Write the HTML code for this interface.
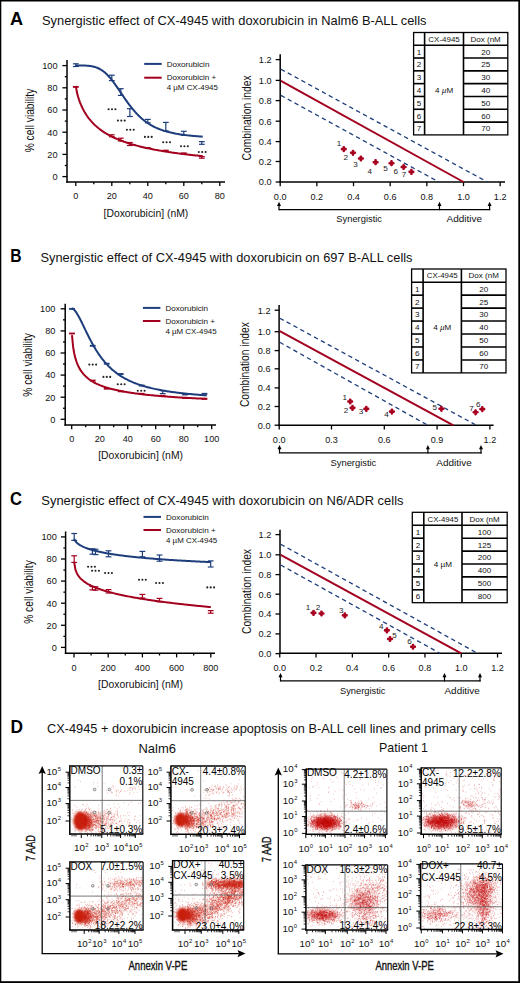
<!DOCTYPE html>
<html><head><meta charset="utf-8"><style>
html,body{margin:0;padding:0;background:#fff;}
svg{display:block;}
text{font-family:"Liberation Sans", sans-serif;}
</style></head><body>
<svg width="520" height="983" viewBox="0 0 520 983">
<defs>
<filter id="b1" x="-50%" y="-50%" width="200%" height="200%"><feGaussianBlur stdDeviation="1"/></filter>
<filter id="b15" x="-50%" y="-50%" width="200%" height="200%"><feGaussianBlur stdDeviation="1.5"/></filter>
<filter id="b2" x="-50%" y="-50%" width="200%" height="200%"><feGaussianBlur stdDeviation="2"/></filter>
<filter id="b3" x="-50%" y="-50%" width="200%" height="200%"><feGaussianBlur stdDeviation="3"/></filter>
<clipPath id="c1"><rect x="69.80" y="765.90" width="73.00" height="68.20"/></clipPath><clipPath id="c2"><rect x="170.90" y="766.00" width="74.30" height="68.30"/></clipPath><clipPath id="c3"><rect x="69.90" y="861.90" width="73.20" height="68.10"/></clipPath><clipPath id="c4"><rect x="172.60" y="860.60" width="71.10" height="69.40"/></clipPath><clipPath id="c5"><rect x="306.20" y="769.20" width="80.70" height="65.10"/></clipPath><clipPath id="c6"><rect x="421.20" y="767.80" width="80.00" height="66.50"/></clipPath><clipPath id="c7"><rect x="305.90" y="864.90" width="81.80" height="65.10"/></clipPath><clipPath id="c8"><rect x="420.60" y="863.80" width="81.90" height="65.70"/></clipPath>
</defs>
<rect width="520" height="983" fill="#fff"/>
<rect x="0.00" y="0.00" width="520.00" height="1.50" fill="#000" stroke="none" stroke-width="1"/>
<rect x="0.00" y="0.00" width="1.30" height="983.00" fill="#000" stroke="none" stroke-width="1"/>
<rect x="518.30" y="0.00" width="1.70" height="983.00" fill="#000" stroke="none" stroke-width="1"/>
<rect x="0.00" y="981.20" width="520.00" height="1.80" fill="#000" stroke="none" stroke-width="1"/>
<text x="10.00" y="24.80" font-size="17.5" text-anchor="start" fill="#000" font-weight="bold" textLength="13.10" lengthAdjust="spacingAndGlyphs" >A</text>
<text x="42.00" y="25.00" font-size="13.5" text-anchor="start" fill="#111" textLength="384.50" lengthAdjust="spacingAndGlyphs" >Synergistic effect of CX-4945 with doxorubicin in Nalm6 B-ALL cells</text>
<text x="10.20" y="261.80" font-size="17.5" text-anchor="start" fill="#000" font-weight="bold" textLength="11.30" lengthAdjust="spacingAndGlyphs" >B</text>
<text x="40.50" y="262.30" font-size="13.5" text-anchor="start" fill="#111" textLength="372.00" lengthAdjust="spacingAndGlyphs" >Synergistic effect of CX-4945 with doxorubicin on 697 B-ALL cells</text>
<text x="10.00" y="504.60" font-size="17.5" text-anchor="start" fill="#000" font-weight="bold" textLength="12.00" lengthAdjust="spacingAndGlyphs" >C</text>
<text x="41.30" y="505.00" font-size="13.5" text-anchor="start" fill="#111" textLength="362.20" lengthAdjust="spacingAndGlyphs" >Synergistic effect of CX-4945 with doxorubicin on N6/ADR cells</text>
<text x="10.50" y="732.80" font-size="17.5" text-anchor="start" fill="#000" font-weight="bold" textLength="12.50" lengthAdjust="spacingAndGlyphs" >D</text>
<text x="47.00" y="732.50" font-size="13.5" text-anchor="start" fill="#111" textLength="449.00" lengthAdjust="spacingAndGlyphs" >CX-4945 + doxorubicin increase apoptosis on B-ALL cell lines and primary cells</text>
<line x1="67.00" y1="60.00" x2="67.00" y2="182.65" stroke="#000" stroke-width="1.5" stroke-linecap="butt"/>
<line x1="66.25" y1="181.90" x2="225.00" y2="181.90" stroke="#000" stroke-width="1.5" stroke-linecap="butt"/>
<line x1="62.40" y1="176.60" x2="67.00" y2="176.60" stroke="#000" stroke-width="1.3" stroke-linecap="butt"/>
<text x="57.60" y="179.90" font-size="9.2" text-anchor="end" fill="#111" >0</text>
<line x1="64.80" y1="165.50" x2="67.00" y2="165.50" stroke="#000" stroke-width="1.3" stroke-linecap="butt"/>
<line x1="62.40" y1="154.40" x2="67.00" y2="154.40" stroke="#000" stroke-width="1.3" stroke-linecap="butt"/>
<text x="57.60" y="157.70" font-size="9.2" text-anchor="end" fill="#111" >20</text>
<line x1="64.80" y1="143.30" x2="67.00" y2="143.30" stroke="#000" stroke-width="1.3" stroke-linecap="butt"/>
<line x1="62.40" y1="132.20" x2="67.00" y2="132.20" stroke="#000" stroke-width="1.3" stroke-linecap="butt"/>
<text x="57.60" y="135.50" font-size="9.2" text-anchor="end" fill="#111" >40</text>
<line x1="64.80" y1="121.10" x2="67.00" y2="121.10" stroke="#000" stroke-width="1.3" stroke-linecap="butt"/>
<line x1="62.40" y1="110.00" x2="67.00" y2="110.00" stroke="#000" stroke-width="1.3" stroke-linecap="butt"/>
<text x="57.60" y="113.30" font-size="9.2" text-anchor="end" fill="#111" >60</text>
<line x1="64.80" y1="98.90" x2="67.00" y2="98.90" stroke="#000" stroke-width="1.3" stroke-linecap="butt"/>
<line x1="62.40" y1="87.80" x2="67.00" y2="87.80" stroke="#000" stroke-width="1.3" stroke-linecap="butt"/>
<text x="57.60" y="91.10" font-size="9.2" text-anchor="end" fill="#111" >80</text>
<line x1="64.80" y1="76.70" x2="67.00" y2="76.70" stroke="#000" stroke-width="1.3" stroke-linecap="butt"/>
<line x1="62.40" y1="65.60" x2="67.00" y2="65.60" stroke="#000" stroke-width="1.3" stroke-linecap="butt"/>
<text x="57.60" y="68.90" font-size="9.2" text-anchor="end" fill="#111" >100</text>
<line x1="75.80" y1="181.90" x2="75.80" y2="186.10" stroke="#000" stroke-width="1.3" stroke-linecap="butt"/>
<text x="75.80" y="199.20" font-size="9.1" text-anchor="middle" fill="#111" >0</text>
<line x1="111.80" y1="181.90" x2="111.80" y2="186.10" stroke="#000" stroke-width="1.3" stroke-linecap="butt"/>
<text x="111.80" y="199.20" font-size="9.1" text-anchor="middle" fill="#111" >20</text>
<line x1="147.80" y1="181.90" x2="147.80" y2="186.10" stroke="#000" stroke-width="1.3" stroke-linecap="butt"/>
<text x="147.80" y="199.20" font-size="9.1" text-anchor="middle" fill="#111" >40</text>
<line x1="183.80" y1="181.90" x2="183.80" y2="186.10" stroke="#000" stroke-width="1.3" stroke-linecap="butt"/>
<text x="183.80" y="199.20" font-size="9.1" text-anchor="middle" fill="#111" >60</text>
<line x1="219.80" y1="181.90" x2="219.80" y2="186.10" stroke="#000" stroke-width="1.3" stroke-linecap="butt"/>
<text x="219.80" y="199.20" font-size="9.1" text-anchor="middle" fill="#111" >80</text>
<line x1="93.80" y1="181.90" x2="93.80" y2="184.20" stroke="#000" stroke-width="1.3" stroke-linecap="butt"/>
<line x1="129.80" y1="181.90" x2="129.80" y2="184.20" stroke="#000" stroke-width="1.3" stroke-linecap="butt"/>
<line x1="165.80" y1="181.90" x2="165.80" y2="184.20" stroke="#000" stroke-width="1.3" stroke-linecap="butt"/>
<line x1="201.80" y1="181.90" x2="201.80" y2="184.20" stroke="#000" stroke-width="1.3" stroke-linecap="butt"/>
<text x="33.80" y="120.50" font-size="12.2" text-anchor="middle" fill="#111" textLength="63.60" lengthAdjust="spacingAndGlyphs" transform="rotate(-90 33.80 120.50)" >% cell viability</text>
<text x="145.90" y="216.60" font-size="10.5" text-anchor="middle" fill="#111" textLength="84.80" lengthAdjust="spacingAndGlyphs" >[Doxorubicin] (nM)</text>
<line x1="144.20" y1="63.90" x2="161.70" y2="63.90" stroke="#1d3d7c" stroke-width="2" stroke-linecap="butt"/>
<line x1="144.20" y1="77.70" x2="161.70" y2="77.70" stroke="#a3001f" stroke-width="2" stroke-linecap="butt"/>
<text x="166.70" y="66.70" font-size="7.8" text-anchor="start" fill="#111" textLength="42.70" lengthAdjust="spacingAndGlyphs" >Doxorubicin</text>
<text x="166.70" y="80.40" font-size="7.8" text-anchor="start" fill="#111" textLength="49.60" lengthAdjust="spacingAndGlyphs" >Doxorubicin +</text>
<text x="166.70" y="90.40" font-size="7.8" text-anchor="start" fill="#111" textLength="51.20" lengthAdjust="spacingAndGlyphs" >4 µM CX-4945</text>
<path d="M75.80,65.52 L76.87,65.52 L77.93,65.52 L79.00,65.52 L80.07,65.52 L81.13,65.53 L82.20,65.54 L83.26,65.55 L84.33,65.58 L85.40,65.62 L86.46,65.67 L87.53,65.74 L88.60,65.83 L89.66,65.95 L90.73,66.09 L91.80,66.26 L92.86,66.48 L93.93,66.73 L94.99,67.03 L96.06,67.37 L97.13,67.77 L98.19,68.23 L99.26,68.75 L100.33,69.33 L101.39,69.97 L102.46,70.69 L103.53,71.48 L104.59,72.34 L105.66,73.27 L106.73,74.27 L107.79,75.35 L108.86,76.49 L109.92,77.70 L110.99,78.97 L112.06,80.30 L113.12,81.68 L114.19,83.11 L115.26,84.58 L116.32,86.08 L117.39,87.62 L118.46,89.17 L119.52,90.74 L120.59,92.32 L121.65,93.90 L122.72,95.48 L123.79,97.05 L124.85,98.60 L125.92,100.13 L126.99,101.63 L128.05,103.10 L129.12,104.55 L130.19,105.95 L131.25,107.32 L132.32,108.65 L133.38,109.93 L134.45,111.18 L135.52,112.38 L136.58,113.53 L137.65,114.64 L138.72,115.71 L139.78,116.73 L140.85,117.72 L141.92,118.65 L142.98,119.55 L144.05,120.41 L145.12,121.23 L146.18,122.01 L147.25,122.76 L148.31,123.47 L149.38,124.15 L150.45,124.79 L151.51,125.41 L152.58,126.00 L153.65,126.55 L154.71,127.08 L155.78,127.59 L156.85,128.07 L157.91,128.53 L158.98,128.96 L160.04,129.37 L161.11,129.77 L162.18,130.14 L163.24,130.50 L164.31,130.84 L165.38,131.16 L166.44,131.47 L167.51,131.77 L168.58,132.05 L169.64,132.31 L170.71,132.57 L171.77,132.81 L172.84,133.04 L173.91,133.26 L174.97,133.47 L176.04,133.67 L177.11,133.86 L178.17,134.05 L179.24,134.22 L180.31,134.39 L181.37,134.55 L182.44,134.70 L183.51,134.85 L184.57,134.98 L185.64,135.12 L186.70,135.25 L187.77,135.37 L188.84,135.49 L189.90,135.60 L190.97,135.70 L192.04,135.81 L193.10,135.91 L194.17,136.00 L195.24,136.09 L196.30,136.18 L197.37,136.26 L198.43,136.34 L199.50,136.42 L200.57,136.49 L201.63,136.57 L202.70,136.63" stroke="#1d3d7c" stroke-width="2.0" fill="none" />
<line x1="75.80" y1="63.80" x2="75.80" y2="66.50" stroke="#1d3d7c" stroke-width="1.2" stroke-linecap="butt"/>
<line x1="72.90" y1="63.80" x2="78.70" y2="63.80" stroke="#1d3d7c" stroke-width="1.2" stroke-linecap="butt"/>
<line x1="72.90" y1="66.50" x2="78.70" y2="66.50" stroke="#1d3d7c" stroke-width="1.2" stroke-linecap="butt"/>
<line x1="111.80" y1="75.20" x2="111.80" y2="80.60" stroke="#1d3d7c" stroke-width="1.2" stroke-linecap="butt"/>
<line x1="108.90" y1="75.20" x2="114.70" y2="75.20" stroke="#1d3d7c" stroke-width="1.2" stroke-linecap="butt"/>
<line x1="108.90" y1="80.60" x2="114.70" y2="80.60" stroke="#1d3d7c" stroke-width="1.2" stroke-linecap="butt"/>
<line x1="120.80" y1="88.70" x2="120.80" y2="95.40" stroke="#1d3d7c" stroke-width="1.2" stroke-linecap="butt"/>
<line x1="117.90" y1="88.70" x2="123.70" y2="88.70" stroke="#1d3d7c" stroke-width="1.2" stroke-linecap="butt"/>
<line x1="117.90" y1="95.40" x2="123.70" y2="95.40" stroke="#1d3d7c" stroke-width="1.2" stroke-linecap="butt"/>
<line x1="129.90" y1="108.70" x2="129.90" y2="116.50" stroke="#1d3d7c" stroke-width="1.2" stroke-linecap="butt"/>
<line x1="127.00" y1="108.70" x2="132.80" y2="108.70" stroke="#1d3d7c" stroke-width="1.2" stroke-linecap="butt"/>
<line x1="127.00" y1="116.50" x2="132.80" y2="116.50" stroke="#1d3d7c" stroke-width="1.2" stroke-linecap="butt"/>
<line x1="147.80" y1="119.40" x2="147.80" y2="122.80" stroke="#1d3d7c" stroke-width="1.2" stroke-linecap="butt"/>
<line x1="144.90" y1="119.40" x2="150.70" y2="119.40" stroke="#1d3d7c" stroke-width="1.2" stroke-linecap="butt"/>
<line x1="144.90" y1="122.80" x2="150.70" y2="122.80" stroke="#1d3d7c" stroke-width="1.2" stroke-linecap="butt"/>
<line x1="165.80" y1="122.40" x2="165.80" y2="130.90" stroke="#1d3d7c" stroke-width="1.2" stroke-linecap="butt"/>
<line x1="162.90" y1="122.40" x2="168.70" y2="122.40" stroke="#1d3d7c" stroke-width="1.2" stroke-linecap="butt"/>
<line x1="162.90" y1="130.90" x2="168.70" y2="130.90" stroke="#1d3d7c" stroke-width="1.2" stroke-linecap="butt"/>
<line x1="183.80" y1="131.30" x2="183.80" y2="135.30" stroke="#1d3d7c" stroke-width="1.2" stroke-linecap="butt"/>
<line x1="180.90" y1="131.30" x2="186.70" y2="131.30" stroke="#1d3d7c" stroke-width="1.2" stroke-linecap="butt"/>
<line x1="180.90" y1="135.30" x2="186.70" y2="135.30" stroke="#1d3d7c" stroke-width="1.2" stroke-linecap="butt"/>
<line x1="201.80" y1="141.60" x2="201.80" y2="144.30" stroke="#1d3d7c" stroke-width="1.2" stroke-linecap="butt"/>
<line x1="198.90" y1="141.60" x2="204.70" y2="141.60" stroke="#1d3d7c" stroke-width="1.2" stroke-linecap="butt"/>
<line x1="198.90" y1="144.30" x2="204.70" y2="144.30" stroke="#1d3d7c" stroke-width="1.2" stroke-linecap="butt"/>
<path d="M75.80,85.98 L76.87,92.07 L77.93,96.20 L79.00,99.61 L80.07,102.56 L81.13,105.17 L82.20,107.52 L83.26,109.65 L84.33,111.60 L85.40,113.40 L86.46,115.06 L87.53,116.62 L88.60,118.07 L89.66,119.43 L90.73,120.70 L91.80,121.91 L92.86,123.05 L93.93,124.13 L94.99,125.16 L96.06,126.13 L97.13,127.06 L98.19,127.95 L99.26,128.80 L100.33,129.61 L101.39,130.39 L102.46,131.14 L103.53,131.85 L104.59,132.54 L105.66,133.21 L106.73,133.84 L107.79,134.46 L108.86,135.05 L109.92,135.63 L110.99,136.18 L112.06,136.72 L113.12,137.24 L114.19,137.74 L115.26,138.23 L116.32,138.70 L117.39,139.16 L118.46,139.60 L119.52,140.04 L120.59,140.46 L121.65,140.86 L122.72,141.26 L123.79,141.65 L124.85,142.02 L125.92,142.39 L126.99,142.75 L128.05,143.10 L129.12,143.43 L130.19,143.77 L131.25,144.09 L132.32,144.40 L133.38,144.71 L134.45,145.01 L135.52,145.31 L136.58,145.60 L137.65,145.88 L138.72,146.15 L139.78,146.42 L140.85,146.69 L141.92,146.94 L142.98,147.20 L144.05,147.44 L145.12,147.69 L146.18,147.92 L147.25,148.16 L148.31,148.39 L149.38,148.61 L150.45,148.83 L151.51,149.04 L152.58,149.26 L153.65,149.46 L154.71,149.67 L155.78,149.87 L156.85,150.06 L157.91,150.26 L158.98,150.45 L160.04,150.63 L161.11,150.82 L162.18,151.00 L163.24,151.17 L164.31,151.35 L165.38,151.52 L166.44,151.69 L167.51,151.85 L168.58,152.02 L169.64,152.18 L170.71,152.33 L171.77,152.49 L172.84,152.64 L173.91,152.79 L174.97,152.94 L176.04,153.09 L177.11,153.23 L178.17,153.37 L179.24,153.51 L180.31,153.65 L181.37,153.79 L182.44,153.92 L183.51,154.05 L184.57,154.18 L185.64,154.31 L186.70,154.44 L187.77,154.56 L188.84,154.69 L189.90,154.81 L190.97,154.93 L192.04,155.04 L193.10,155.16 L194.17,155.28 L195.24,155.39 L196.30,155.50 L197.37,155.61 L198.43,155.72 L199.50,155.83 L200.57,155.94 L201.63,156.04 L202.70,156.15" stroke="#a3001f" stroke-width="2.0" fill="none" />
<line x1="72.90" y1="86.90" x2="78.70" y2="86.90" stroke="#a3001f" stroke-width="1.9" stroke-linecap="butt"/>
<line x1="111.80" y1="134.80" x2="111.80" y2="136.80" stroke="#a3001f" stroke-width="1.2" stroke-linecap="butt"/>
<line x1="108.90" y1="134.80" x2="114.70" y2="134.80" stroke="#a3001f" stroke-width="1.2" stroke-linecap="butt"/>
<line x1="108.90" y1="136.80" x2="114.70" y2="136.80" stroke="#a3001f" stroke-width="1.2" stroke-linecap="butt"/>
<line x1="120.80" y1="138.20" x2="120.80" y2="141.00" stroke="#a3001f" stroke-width="1.2" stroke-linecap="butt"/>
<line x1="117.90" y1="138.20" x2="123.70" y2="138.20" stroke="#a3001f" stroke-width="1.2" stroke-linecap="butt"/>
<line x1="117.90" y1="141.00" x2="123.70" y2="141.00" stroke="#a3001f" stroke-width="1.2" stroke-linecap="butt"/>
<line x1="129.80" y1="142.50" x2="129.80" y2="145.50" stroke="#a3001f" stroke-width="1.2" stroke-linecap="butt"/>
<line x1="126.90" y1="142.50" x2="132.70" y2="142.50" stroke="#a3001f" stroke-width="1.2" stroke-linecap="butt"/>
<line x1="126.90" y1="145.50" x2="132.70" y2="145.50" stroke="#a3001f" stroke-width="1.2" stroke-linecap="butt"/>
<line x1="144.90" y1="148.00" x2="150.70" y2="148.00" stroke="#a3001f" stroke-width="1.9" stroke-linecap="butt"/>
<line x1="162.90" y1="150.60" x2="168.70" y2="150.60" stroke="#a3001f" stroke-width="1.9" stroke-linecap="butt"/>
<line x1="180.90" y1="153.30" x2="186.70" y2="153.30" stroke="#a3001f" stroke-width="1.9" stroke-linecap="butt"/>
<line x1="201.80" y1="156.60" x2="201.80" y2="158.20" stroke="#a3001f" stroke-width="1.2" stroke-linecap="butt"/>
<line x1="198.90" y1="156.60" x2="204.70" y2="156.60" stroke="#a3001f" stroke-width="1.2" stroke-linecap="butt"/>
<line x1="198.90" y1="158.20" x2="204.70" y2="158.20" stroke="#a3001f" stroke-width="1.2" stroke-linecap="butt"/>
<circle cx="108.60" cy="109.30" r="1.05" fill="#222"/>
<circle cx="112.00" cy="109.30" r="1.05" fill="#222"/>
<circle cx="115.40" cy="109.30" r="1.05" fill="#222"/>
<circle cx="117.90" cy="120.60" r="1.05" fill="#222"/>
<circle cx="121.30" cy="120.60" r="1.05" fill="#222"/>
<circle cx="124.70" cy="120.60" r="1.05" fill="#222"/>
<circle cx="126.90" cy="129.80" r="1.05" fill="#222"/>
<circle cx="130.30" cy="129.80" r="1.05" fill="#222"/>
<circle cx="133.70" cy="129.80" r="1.05" fill="#222"/>
<circle cx="144.90" cy="136.90" r="1.05" fill="#222"/>
<circle cx="148.30" cy="136.90" r="1.05" fill="#222"/>
<circle cx="151.70" cy="136.90" r="1.05" fill="#222"/>
<circle cx="163.20" cy="142.30" r="1.05" fill="#222"/>
<circle cx="166.60" cy="142.30" r="1.05" fill="#222"/>
<circle cx="170.00" cy="142.30" r="1.05" fill="#222"/>
<circle cx="181.00" cy="146.30" r="1.05" fill="#222"/>
<circle cx="184.40" cy="146.30" r="1.05" fill="#222"/>
<circle cx="187.80" cy="146.30" r="1.05" fill="#222"/>
<circle cx="198.80" cy="152.00" r="1.05" fill="#222"/>
<circle cx="202.20" cy="152.00" r="1.05" fill="#222"/>
<circle cx="205.60" cy="152.00" r="1.05" fill="#222"/>
<line x1="65.20" y1="303.70" x2="65.20" y2="425.75" stroke="#000" stroke-width="1.5" stroke-linecap="butt"/>
<line x1="64.45" y1="425.00" x2="216.00" y2="425.00" stroke="#000" stroke-width="1.5" stroke-linecap="butt"/>
<line x1="60.60" y1="419.30" x2="65.20" y2="419.30" stroke="#000" stroke-width="1.3" stroke-linecap="butt"/>
<text x="55.40" y="422.60" font-size="9.2" text-anchor="end" fill="#111" >0</text>
<line x1="63.00" y1="408.25" x2="65.20" y2="408.25" stroke="#000" stroke-width="1.3" stroke-linecap="butt"/>
<line x1="60.60" y1="397.20" x2="65.20" y2="397.20" stroke="#000" stroke-width="1.3" stroke-linecap="butt"/>
<text x="55.40" y="400.50" font-size="9.2" text-anchor="end" fill="#111" >20</text>
<line x1="63.00" y1="386.15" x2="65.20" y2="386.15" stroke="#000" stroke-width="1.3" stroke-linecap="butt"/>
<line x1="60.60" y1="375.10" x2="65.20" y2="375.10" stroke="#000" stroke-width="1.3" stroke-linecap="butt"/>
<text x="55.40" y="378.40" font-size="9.2" text-anchor="end" fill="#111" >40</text>
<line x1="63.00" y1="364.05" x2="65.20" y2="364.05" stroke="#000" stroke-width="1.3" stroke-linecap="butt"/>
<line x1="60.60" y1="353.00" x2="65.20" y2="353.00" stroke="#000" stroke-width="1.3" stroke-linecap="butt"/>
<text x="55.40" y="356.30" font-size="9.2" text-anchor="end" fill="#111" >60</text>
<line x1="63.00" y1="341.95" x2="65.20" y2="341.95" stroke="#000" stroke-width="1.3" stroke-linecap="butt"/>
<line x1="60.60" y1="330.90" x2="65.20" y2="330.90" stroke="#000" stroke-width="1.3" stroke-linecap="butt"/>
<text x="55.40" y="334.20" font-size="9.2" text-anchor="end" fill="#111" >80</text>
<line x1="63.00" y1="319.85" x2="65.20" y2="319.85" stroke="#000" stroke-width="1.3" stroke-linecap="butt"/>
<line x1="60.60" y1="308.80" x2="65.20" y2="308.80" stroke="#000" stroke-width="1.3" stroke-linecap="butt"/>
<text x="55.40" y="312.10" font-size="9.2" text-anchor="end" fill="#111" >100</text>
<line x1="71.70" y1="425.00" x2="71.70" y2="429.20" stroke="#000" stroke-width="1.3" stroke-linecap="butt"/>
<text x="71.70" y="442.30" font-size="9.1" text-anchor="middle" fill="#111" >0</text>
<line x1="99.70" y1="425.00" x2="99.70" y2="429.20" stroke="#000" stroke-width="1.3" stroke-linecap="butt"/>
<text x="99.70" y="442.30" font-size="9.1" text-anchor="middle" fill="#111" >20</text>
<line x1="127.70" y1="425.00" x2="127.70" y2="429.20" stroke="#000" stroke-width="1.3" stroke-linecap="butt"/>
<text x="127.70" y="442.30" font-size="9.1" text-anchor="middle" fill="#111" >40</text>
<line x1="155.70" y1="425.00" x2="155.70" y2="429.20" stroke="#000" stroke-width="1.3" stroke-linecap="butt"/>
<text x="155.70" y="442.30" font-size="9.1" text-anchor="middle" fill="#111" >60</text>
<line x1="183.70" y1="425.00" x2="183.70" y2="429.20" stroke="#000" stroke-width="1.3" stroke-linecap="butt"/>
<text x="183.70" y="442.30" font-size="9.1" text-anchor="middle" fill="#111" >80</text>
<line x1="211.70" y1="425.00" x2="211.70" y2="429.20" stroke="#000" stroke-width="1.3" stroke-linecap="butt"/>
<text x="211.70" y="442.30" font-size="9.1" text-anchor="middle" fill="#111" >100</text>
<line x1="85.70" y1="425.00" x2="85.70" y2="427.30" stroke="#000" stroke-width="1.3" stroke-linecap="butt"/>
<line x1="113.70" y1="425.00" x2="113.70" y2="427.30" stroke="#000" stroke-width="1.3" stroke-linecap="butt"/>
<line x1="141.70" y1="425.00" x2="141.70" y2="427.30" stroke="#000" stroke-width="1.3" stroke-linecap="butt"/>
<line x1="169.70" y1="425.00" x2="169.70" y2="427.30" stroke="#000" stroke-width="1.3" stroke-linecap="butt"/>
<line x1="197.70" y1="425.00" x2="197.70" y2="427.30" stroke="#000" stroke-width="1.3" stroke-linecap="butt"/>
<text x="32.50" y="364.85" font-size="12.2" text-anchor="middle" fill="#111" textLength="63.60" lengthAdjust="spacingAndGlyphs" transform="rotate(-90 32.50 364.85)" >% cell viability</text>
<text x="140.60" y="459.30" font-size="10.5" text-anchor="middle" fill="#111" textLength="84.80" lengthAdjust="spacingAndGlyphs" >[Doxorubicin] (nM)</text>
<line x1="142.90" y1="307.90" x2="160.40" y2="307.90" stroke="#1d3d7c" stroke-width="2" stroke-linecap="butt"/>
<line x1="142.90" y1="321.00" x2="160.40" y2="321.00" stroke="#a3001f" stroke-width="2" stroke-linecap="butt"/>
<text x="165.40" y="310.70" font-size="7.8" text-anchor="start" fill="#111" textLength="42.70" lengthAdjust="spacingAndGlyphs" >Doxorubicin</text>
<text x="165.40" y="323.70" font-size="7.8" text-anchor="start" fill="#111" textLength="49.60" lengthAdjust="spacingAndGlyphs" >Doxorubicin +</text>
<text x="165.40" y="333.70" font-size="7.8" text-anchor="start" fill="#111" textLength="51.20" lengthAdjust="spacingAndGlyphs" >4 µM CX-4945</text>
<path d="M71.70,308.33 L72.84,308.73 L73.97,309.62 L75.11,310.88 L76.24,312.43 L77.38,314.21 L78.51,316.18 L79.65,318.29 L80.78,320.50 L81.92,322.79 L83.05,325.13 L84.19,327.49 L85.32,329.85 L86.46,332.19 L87.59,334.50 L88.73,336.77 L89.86,338.99 L91.00,341.15 L92.14,343.25 L93.27,345.29 L94.41,347.25 L95.54,349.14 L96.68,350.97 L97.81,352.72 L98.95,354.41 L100.08,356.02 L101.22,357.58 L102.35,359.06 L103.49,360.48 L104.62,361.85 L105.76,363.15 L106.89,364.40 L108.03,365.60 L109.16,366.74 L110.30,367.84 L111.44,368.89 L112.57,369.89 L113.71,370.85 L114.84,371.78 L115.98,372.66 L117.11,373.50 L118.25,374.31 L119.38,375.09 L120.52,375.84 L121.65,376.55 L122.79,377.24 L123.92,377.90 L125.06,378.53 L126.19,379.14 L127.33,379.73 L128.46,380.29 L129.60,380.83 L130.74,381.35 L131.87,381.85 L133.01,382.33 L134.14,382.80 L135.28,383.25 L136.41,383.68 L137.55,384.09 L138.68,384.50 L139.82,384.88 L140.95,385.26 L142.09,385.62 L143.22,385.97 L144.36,386.31 L145.49,386.63 L146.63,386.95 L147.76,387.25 L148.90,387.55 L150.04,387.84 L151.17,388.11 L152.31,388.38 L153.44,388.64 L154.58,388.89 L155.71,389.14 L156.85,389.37 L157.98,389.60 L159.12,389.83 L160.25,390.04 L161.39,390.25 L162.52,390.46 L163.66,390.66 L164.79,390.85 L165.93,391.04 L167.06,391.22 L168.20,391.39 L169.34,391.57 L170.47,391.73 L171.61,391.90 L172.74,392.06 L173.88,392.21 L175.01,392.36 L176.15,392.51 L177.28,392.65 L178.42,392.79 L179.55,392.93 L180.69,393.06 L181.82,393.19 L182.96,393.31 L184.09,393.44 L185.23,393.56 L186.36,393.67 L187.50,393.79 L188.64,393.90 L189.77,394.01 L190.91,394.11 L192.04,394.22 L193.18,394.32 L194.31,394.42 L195.45,394.52 L196.58,394.61 L197.72,394.70 L198.85,394.79 L199.99,394.88 L201.12,394.97 L202.26,395.05 L203.39,395.14 L204.53,395.22 L205.66,395.30 L206.80,395.38" stroke="#1d3d7c" stroke-width="2.0" fill="none" />
<line x1="69.10" y1="308.90" x2="74.90" y2="308.90" stroke="#1d3d7c" stroke-width="1.9" stroke-linecap="butt"/>
<line x1="89.80" y1="345.80" x2="95.60" y2="345.80" stroke="#1d3d7c" stroke-width="1.9" stroke-linecap="butt"/>
<line x1="103.80" y1="363.70" x2="109.60" y2="363.70" stroke="#1d3d7c" stroke-width="1.9" stroke-linecap="butt"/>
<line x1="117.80" y1="374.00" x2="123.60" y2="374.00" stroke="#1d3d7c" stroke-width="1.9" stroke-linecap="butt"/>
<line x1="138.80" y1="385.50" x2="144.60" y2="385.50" stroke="#1d3d7c" stroke-width="1.9" stroke-linecap="butt"/>
<line x1="162.70" y1="390.60" x2="162.70" y2="393.60" stroke="#1d3d7c" stroke-width="1.2" stroke-linecap="butt"/>
<line x1="159.80" y1="390.60" x2="165.60" y2="390.60" stroke="#1d3d7c" stroke-width="1.2" stroke-linecap="butt"/>
<line x1="159.80" y1="393.60" x2="165.60" y2="393.60" stroke="#1d3d7c" stroke-width="1.2" stroke-linecap="butt"/>
<line x1="182.10" y1="394.50" x2="187.90" y2="394.50" stroke="#1d3d7c" stroke-width="1.9" stroke-linecap="butt"/>
<line x1="201.60" y1="393.80" x2="207.40" y2="393.80" stroke="#1d3d7c" stroke-width="1.9" stroke-linecap="butt"/>
<path d="M71.98,335.04 L73.11,346.92 L74.25,353.50 L75.38,358.15 L76.51,361.74 L77.64,364.64 L78.78,367.06 L79.91,369.12 L81.04,370.92 L82.18,372.50 L83.31,373.91 L84.44,375.17 L85.58,376.32 L86.71,377.36 L87.84,378.32 L88.97,379.20 L90.11,380.01 L91.24,380.77 L92.37,381.48 L93.51,382.14 L94.64,382.75 L95.77,383.34 L96.90,383.89 L98.04,384.40 L99.17,384.89 L100.30,385.36 L101.44,385.80 L102.57,386.22 L103.70,386.62 L104.84,387.01 L105.97,387.37 L107.10,387.72 L108.23,388.06 L109.37,388.38 L110.50,388.69 L111.63,388.99 L112.77,389.28 L113.90,389.55 L115.03,389.82 L116.16,390.08 L117.30,390.33 L118.43,390.57 L119.56,390.80 L120.70,391.02 L121.83,391.24 L122.96,391.45 L124.10,391.66 L125.23,391.85 L126.36,392.05 L127.49,392.23 L128.63,392.42 L129.76,392.59 L130.89,392.76 L132.03,392.93 L133.16,393.09 L134.29,393.25 L135.42,393.41 L136.56,393.56 L137.69,393.71 L138.82,393.85 L139.96,393.99 L141.09,394.13 L142.22,394.26 L143.36,394.39 L144.49,394.52 L145.62,394.65 L146.75,394.77 L147.89,394.89 L149.02,395.00 L150.15,395.12 L151.29,395.23 L152.42,395.34 L153.55,395.45 L154.68,395.55 L155.82,395.66 L156.95,395.76 L158.08,395.86 L159.22,395.96 L160.35,396.05 L161.48,396.15 L162.62,396.24 L163.75,396.33 L164.88,396.42 L166.01,396.51 L167.15,396.59 L168.28,396.68 L169.41,396.76 L170.55,396.84 L171.68,396.92 L172.81,397.00 L173.94,397.08 L175.08,397.15 L176.21,397.23 L177.34,397.30 L178.48,397.38 L179.61,397.45 L180.74,397.52 L181.88,397.59 L183.01,397.66 L184.14,397.72 L185.27,397.79 L186.41,397.85 L187.54,397.92 L188.67,397.98 L189.81,398.04 L190.94,398.11 L192.07,398.17 L193.20,398.23 L194.34,398.29 L195.47,398.34 L196.60,398.40 L197.74,398.46 L198.87,398.51 L200.00,398.57 L201.14,398.62 L202.27,398.68 L203.40,398.73 L204.53,398.78 L205.67,398.83 L206.80,398.89" stroke="#a3001f" stroke-width="2.0" fill="none" />
<line x1="69.10" y1="333.50" x2="74.90" y2="333.50" stroke="#a3001f" stroke-width="1.9" stroke-linecap="butt"/>
<line x1="89.80" y1="380.60" x2="95.60" y2="380.60" stroke="#a3001f" stroke-width="1.9" stroke-linecap="butt"/>
<line x1="103.80" y1="388.70" x2="109.60" y2="388.70" stroke="#a3001f" stroke-width="1.9" stroke-linecap="butt"/>
<line x1="117.80" y1="391.30" x2="123.60" y2="391.30" stroke="#a3001f" stroke-width="1.9" stroke-linecap="butt"/>
<line x1="138.80" y1="393.80" x2="144.60" y2="393.80" stroke="#a3001f" stroke-width="1.9" stroke-linecap="butt"/>
<line x1="159.80" y1="395.80" x2="165.60" y2="395.80" stroke="#a3001f" stroke-width="1.9" stroke-linecap="butt"/>
<line x1="182.10" y1="398.00" x2="187.90" y2="398.00" stroke="#a3001f" stroke-width="1.9" stroke-linecap="butt"/>
<line x1="201.60" y1="398.80" x2="207.40" y2="398.80" stroke="#a3001f" stroke-width="1.9" stroke-linecap="butt"/>
<circle cx="89.30" cy="364.60" r="1.05" fill="#222"/>
<circle cx="92.70" cy="364.60" r="1.05" fill="#222"/>
<circle cx="96.10" cy="364.60" r="1.05" fill="#222"/>
<circle cx="103.40" cy="376.90" r="1.05" fill="#222"/>
<circle cx="106.80" cy="376.90" r="1.05" fill="#222"/>
<circle cx="110.20" cy="376.90" r="1.05" fill="#222"/>
<circle cx="117.80" cy="384.30" r="1.05" fill="#222"/>
<circle cx="121.20" cy="384.30" r="1.05" fill="#222"/>
<circle cx="124.60" cy="384.30" r="1.05" fill="#222"/>
<circle cx="137.80" cy="390.80" r="1.05" fill="#222"/>
<circle cx="141.20" cy="390.80" r="1.05" fill="#222"/>
<circle cx="144.60" cy="390.80" r="1.05" fill="#222"/>
<line x1="65.60" y1="531.50" x2="65.60" y2="653.95" stroke="#000" stroke-width="1.5" stroke-linecap="butt"/>
<line x1="64.85" y1="653.20" x2="215.00" y2="653.20" stroke="#000" stroke-width="1.5" stroke-linecap="butt"/>
<line x1="61.00" y1="647.40" x2="65.60" y2="647.40" stroke="#000" stroke-width="1.3" stroke-linecap="butt"/>
<text x="56.80" y="650.70" font-size="9.2" text-anchor="end" fill="#111" >0</text>
<line x1="63.40" y1="636.35" x2="65.60" y2="636.35" stroke="#000" stroke-width="1.3" stroke-linecap="butt"/>
<line x1="61.00" y1="625.30" x2="65.60" y2="625.30" stroke="#000" stroke-width="1.3" stroke-linecap="butt"/>
<text x="56.80" y="628.60" font-size="9.2" text-anchor="end" fill="#111" >20</text>
<line x1="63.40" y1="614.25" x2="65.60" y2="614.25" stroke="#000" stroke-width="1.3" stroke-linecap="butt"/>
<line x1="61.00" y1="603.20" x2="65.60" y2="603.20" stroke="#000" stroke-width="1.3" stroke-linecap="butt"/>
<text x="56.80" y="606.50" font-size="9.2" text-anchor="end" fill="#111" >40</text>
<line x1="63.40" y1="592.15" x2="65.60" y2="592.15" stroke="#000" stroke-width="1.3" stroke-linecap="butt"/>
<line x1="61.00" y1="581.10" x2="65.60" y2="581.10" stroke="#000" stroke-width="1.3" stroke-linecap="butt"/>
<text x="56.80" y="584.40" font-size="9.2" text-anchor="end" fill="#111" >60</text>
<line x1="63.40" y1="570.05" x2="65.60" y2="570.05" stroke="#000" stroke-width="1.3" stroke-linecap="butt"/>
<line x1="61.00" y1="559.00" x2="65.60" y2="559.00" stroke="#000" stroke-width="1.3" stroke-linecap="butt"/>
<text x="56.80" y="562.30" font-size="9.2" text-anchor="end" fill="#111" >80</text>
<line x1="63.40" y1="547.95" x2="65.60" y2="547.95" stroke="#000" stroke-width="1.3" stroke-linecap="butt"/>
<line x1="61.00" y1="536.90" x2="65.60" y2="536.90" stroke="#000" stroke-width="1.3" stroke-linecap="butt"/>
<text x="56.80" y="540.20" font-size="9.2" text-anchor="end" fill="#111" >100</text>
<line x1="74.00" y1="653.20" x2="74.00" y2="657.40" stroke="#000" stroke-width="1.3" stroke-linecap="butt"/>
<text x="74.00" y="670.50" font-size="9.1" text-anchor="middle" fill="#111" >0</text>
<line x1="108.20" y1="653.20" x2="108.20" y2="657.40" stroke="#000" stroke-width="1.3" stroke-linecap="butt"/>
<text x="108.20" y="670.50" font-size="9.1" text-anchor="middle" fill="#111" >200</text>
<line x1="142.40" y1="653.20" x2="142.40" y2="657.40" stroke="#000" stroke-width="1.3" stroke-linecap="butt"/>
<text x="142.40" y="670.50" font-size="9.1" text-anchor="middle" fill="#111" >400</text>
<line x1="176.60" y1="653.20" x2="176.60" y2="657.40" stroke="#000" stroke-width="1.3" stroke-linecap="butt"/>
<text x="176.60" y="670.50" font-size="9.1" text-anchor="middle" fill="#111" >600</text>
<line x1="210.80" y1="653.20" x2="210.80" y2="657.40" stroke="#000" stroke-width="1.3" stroke-linecap="butt"/>
<text x="210.80" y="670.50" font-size="9.1" text-anchor="middle" fill="#111" >800</text>
<line x1="91.10" y1="653.20" x2="91.10" y2="655.50" stroke="#000" stroke-width="1.3" stroke-linecap="butt"/>
<line x1="125.30" y1="653.20" x2="125.30" y2="655.50" stroke="#000" stroke-width="1.3" stroke-linecap="butt"/>
<line x1="159.50" y1="653.20" x2="159.50" y2="655.50" stroke="#000" stroke-width="1.3" stroke-linecap="butt"/>
<line x1="193.70" y1="653.20" x2="193.70" y2="655.50" stroke="#000" stroke-width="1.3" stroke-linecap="butt"/>
<text x="32.50" y="592.00" font-size="12.2" text-anchor="middle" fill="#111" textLength="63.60" lengthAdjust="spacingAndGlyphs" transform="rotate(-90 32.50 592.00)" >% cell viability</text>
<text x="140.50" y="688.00" font-size="10.5" text-anchor="middle" fill="#111" textLength="84.80" lengthAdjust="spacingAndGlyphs" >[Doxorubicin] (nM)</text>
<line x1="143.50" y1="516.90" x2="161.00" y2="516.90" stroke="#1d3d7c" stroke-width="2" stroke-linecap="butt"/>
<line x1="143.50" y1="530.00" x2="161.00" y2="530.00" stroke="#a3001f" stroke-width="2" stroke-linecap="butt"/>
<text x="166.00" y="519.70" font-size="7.8" text-anchor="start" fill="#111" textLength="42.70" lengthAdjust="spacingAndGlyphs" >Doxorubicin</text>
<text x="166.00" y="532.70" font-size="7.8" text-anchor="start" fill="#111" textLength="49.60" lengthAdjust="spacingAndGlyphs" >Doxorubicin +</text>
<text x="166.00" y="542.70" font-size="7.8" text-anchor="start" fill="#111" textLength="51.20" lengthAdjust="spacingAndGlyphs" >4 µM CX-4945</text>
<path d="M74.26,539.03 L75.40,541.17 L76.55,542.48 L77.70,543.49 L78.85,544.35 L79.99,545.08 L81.14,545.74 L82.29,546.33 L83.44,546.88 L84.58,547.38 L85.73,547.84 L86.88,548.28 L88.03,548.69 L89.17,549.07 L90.32,549.44 L91.47,549.78 L92.62,550.11 L93.76,550.43 L94.91,550.73 L96.06,551.02 L97.20,551.29 L98.35,551.56 L99.50,551.82 L100.65,552.07 L101.79,552.30 L102.94,552.54 L104.09,552.76 L105.24,552.98 L106.38,553.19 L107.53,553.39 L108.68,553.59 L109.83,553.78 L110.97,553.97 L112.12,554.16 L113.27,554.33 L114.42,554.51 L115.56,554.68 L116.71,554.84 L117.86,555.00 L119.01,555.16 L120.15,555.32 L121.30,555.47 L122.45,555.61 L123.60,555.76 L124.74,555.90 L125.89,556.04 L127.04,556.17 L128.19,556.31 L129.33,556.44 L130.48,556.57 L131.63,556.69 L132.78,556.82 L133.92,556.94 L135.07,557.06 L136.22,557.17 L137.36,557.29 L138.51,557.40 L139.66,557.51 L140.81,557.62 L141.95,557.73 L143.10,557.83 L144.25,557.94 L145.40,558.04 L146.54,558.14 L147.69,558.24 L148.84,558.34 L149.99,558.43 L151.13,558.53 L152.28,558.62 L153.43,558.71 L154.58,558.80 L155.72,558.89 L156.87,558.98 L158.02,559.07 L159.17,559.15 L160.31,559.24 L161.46,559.32 L162.61,559.40 L163.76,559.49 L164.90,559.57 L166.05,559.65 L167.20,559.72 L168.35,559.80 L169.49,559.88 L170.64,559.95 L171.79,560.03 L172.93,560.10 L174.08,560.17 L175.23,560.25 L176.38,560.32 L177.52,560.39 L178.67,560.46 L179.82,560.53 L180.97,560.59 L182.11,560.66 L183.26,560.73 L184.41,560.79 L185.56,560.86 L186.70,560.92 L187.85,560.98 L189.00,561.05 L190.15,561.11 L191.29,561.17 L192.44,561.23 L193.59,561.29 L194.74,561.35 L195.88,561.41 L197.03,561.47 L198.18,561.53 L199.33,561.59 L200.47,561.64 L201.62,561.70 L202.77,561.75 L203.92,561.81 L205.06,561.86 L206.21,561.92 L207.36,561.97 L208.51,562.02 L209.65,562.08 L210.80,562.13" stroke="#1d3d7c" stroke-width="2.0" fill="none" />
<line x1="74.20" y1="533.50" x2="74.20" y2="540.40" stroke="#1d3d7c" stroke-width="1.2" stroke-linecap="butt"/>
<line x1="71.30" y1="533.50" x2="77.10" y2="533.50" stroke="#1d3d7c" stroke-width="1.2" stroke-linecap="butt"/>
<line x1="71.30" y1="540.40" x2="77.10" y2="540.40" stroke="#1d3d7c" stroke-width="1.2" stroke-linecap="butt"/>
<line x1="92.40" y1="548.80" x2="92.40" y2="554.20" stroke="#1d3d7c" stroke-width="1.2" stroke-linecap="butt"/>
<line x1="89.50" y1="548.80" x2="95.30" y2="548.80" stroke="#1d3d7c" stroke-width="1.2" stroke-linecap="butt"/>
<line x1="89.50" y1="554.20" x2="95.30" y2="554.20" stroke="#1d3d7c" stroke-width="1.2" stroke-linecap="butt"/>
<line x1="95.50" y1="549.20" x2="95.50" y2="554.60" stroke="#1d3d7c" stroke-width="1.2" stroke-linecap="butt"/>
<line x1="92.60" y1="549.20" x2="98.40" y2="549.20" stroke="#1d3d7c" stroke-width="1.2" stroke-linecap="butt"/>
<line x1="92.60" y1="554.60" x2="98.40" y2="554.60" stroke="#1d3d7c" stroke-width="1.2" stroke-linecap="butt"/>
<line x1="108.50" y1="550.80" x2="108.50" y2="556.80" stroke="#1d3d7c" stroke-width="1.2" stroke-linecap="butt"/>
<line x1="105.60" y1="550.80" x2="111.40" y2="550.80" stroke="#1d3d7c" stroke-width="1.2" stroke-linecap="butt"/>
<line x1="105.60" y1="556.80" x2="111.40" y2="556.80" stroke="#1d3d7c" stroke-width="1.2" stroke-linecap="butt"/>
<line x1="142.40" y1="551.40" x2="142.40" y2="556.80" stroke="#1d3d7c" stroke-width="1.2" stroke-linecap="butt"/>
<line x1="139.50" y1="551.40" x2="145.30" y2="551.40" stroke="#1d3d7c" stroke-width="1.2" stroke-linecap="butt"/>
<line x1="139.50" y1="556.80" x2="145.30" y2="556.80" stroke="#1d3d7c" stroke-width="1.2" stroke-linecap="butt"/>
<line x1="159.50" y1="555.00" x2="159.50" y2="561.20" stroke="#1d3d7c" stroke-width="1.2" stroke-linecap="butt"/>
<line x1="156.60" y1="555.00" x2="162.40" y2="555.00" stroke="#1d3d7c" stroke-width="1.2" stroke-linecap="butt"/>
<line x1="156.60" y1="561.20" x2="162.40" y2="561.20" stroke="#1d3d7c" stroke-width="1.2" stroke-linecap="butt"/>
<line x1="210.70" y1="560.90" x2="210.70" y2="567.00" stroke="#1d3d7c" stroke-width="1.2" stroke-linecap="butt"/>
<line x1="207.80" y1="560.90" x2="213.60" y2="560.90" stroke="#1d3d7c" stroke-width="1.2" stroke-linecap="butt"/>
<line x1="207.80" y1="567.00" x2="213.60" y2="567.00" stroke="#1d3d7c" stroke-width="1.2" stroke-linecap="butt"/>
<path d="M74.26,562.52 L75.40,569.54 L76.55,572.66 L77.70,574.80 L78.85,576.47 L79.99,577.85 L81.14,579.03 L82.29,580.07 L83.44,581.01 L84.58,581.85 L85.73,582.63 L86.88,583.35 L88.03,584.02 L89.17,584.65 L90.32,585.24 L91.47,585.80 L92.62,586.33 L93.76,586.84 L94.91,587.32 L96.06,587.78 L97.20,588.23 L98.35,588.65 L99.50,589.07 L100.65,589.46 L101.79,589.85 L102.94,590.22 L104.09,590.58 L105.24,590.93 L106.38,591.26 L107.53,591.59 L108.68,591.91 L109.83,592.23 L110.97,592.53 L112.12,592.83 L113.27,593.12 L114.42,593.40 L115.56,593.68 L116.71,593.95 L117.86,594.22 L119.01,594.48 L120.15,594.73 L121.30,594.98 L122.45,595.23 L123.60,595.47 L124.74,595.70 L125.89,595.94 L127.04,596.16 L128.19,596.39 L129.33,596.61 L130.48,596.83 L131.63,597.04 L132.78,597.25 L133.92,597.46 L135.07,597.66 L136.22,597.86 L137.36,598.06 L138.51,598.25 L139.66,598.45 L140.81,598.64 L141.95,598.82 L143.10,599.01 L144.25,599.19 L145.40,599.37 L146.54,599.55 L147.69,599.72 L148.84,599.90 L149.99,600.07 L151.13,600.24 L152.28,600.40 L153.43,600.57 L154.58,600.73 L155.72,600.89 L156.87,601.05 L158.02,601.21 L159.17,601.37 L160.31,601.52 L161.46,601.67 L162.61,601.83 L163.76,601.98 L164.90,602.12 L166.05,602.27 L167.20,602.42 L168.35,602.56 L169.49,602.70 L170.64,602.84 L171.79,602.98 L172.93,603.12 L174.08,603.26 L175.23,603.40 L176.38,603.53 L177.52,603.66 L178.67,603.80 L179.82,603.93 L180.97,604.06 L182.11,604.19 L183.26,604.32 L184.41,604.44 L185.56,604.57 L186.70,604.69 L187.85,604.82 L189.00,604.94 L190.15,605.06 L191.29,605.18 L192.44,605.30 L193.59,605.42 L194.74,605.54 L195.88,605.66 L197.03,605.78 L198.18,605.89 L199.33,606.01 L200.47,606.12 L201.62,606.23 L202.77,606.35 L203.92,606.46 L205.06,606.57 L206.21,606.68 L207.36,606.79 L208.51,606.90 L209.65,607.00 L210.80,607.11" stroke="#a3001f" stroke-width="2.0" fill="none" />
<line x1="74.20" y1="555.80" x2="74.20" y2="562.40" stroke="#a3001f" stroke-width="1.2" stroke-linecap="butt"/>
<line x1="71.30" y1="555.80" x2="77.10" y2="555.80" stroke="#a3001f" stroke-width="1.2" stroke-linecap="butt"/>
<line x1="71.30" y1="562.40" x2="77.10" y2="562.40" stroke="#a3001f" stroke-width="1.2" stroke-linecap="butt"/>
<line x1="92.40" y1="586.50" x2="92.40" y2="589.90" stroke="#a3001f" stroke-width="1.2" stroke-linecap="butt"/>
<line x1="89.50" y1="586.50" x2="95.30" y2="586.50" stroke="#a3001f" stroke-width="1.2" stroke-linecap="butt"/>
<line x1="89.50" y1="589.90" x2="95.30" y2="589.90" stroke="#a3001f" stroke-width="1.2" stroke-linecap="butt"/>
<line x1="95.50" y1="586.80" x2="95.50" y2="590.20" stroke="#a3001f" stroke-width="1.2" stroke-linecap="butt"/>
<line x1="92.60" y1="586.80" x2="98.40" y2="586.80" stroke="#a3001f" stroke-width="1.2" stroke-linecap="butt"/>
<line x1="92.60" y1="590.20" x2="98.40" y2="590.20" stroke="#a3001f" stroke-width="1.2" stroke-linecap="butt"/>
<line x1="108.50" y1="589.60" x2="108.50" y2="593.00" stroke="#a3001f" stroke-width="1.2" stroke-linecap="butt"/>
<line x1="105.60" y1="589.60" x2="111.40" y2="589.60" stroke="#a3001f" stroke-width="1.2" stroke-linecap="butt"/>
<line x1="105.60" y1="593.00" x2="111.40" y2="593.00" stroke="#a3001f" stroke-width="1.2" stroke-linecap="butt"/>
<line x1="142.40" y1="594.40" x2="142.40" y2="598.00" stroke="#a3001f" stroke-width="1.2" stroke-linecap="butt"/>
<line x1="139.50" y1="594.40" x2="145.30" y2="594.40" stroke="#a3001f" stroke-width="1.2" stroke-linecap="butt"/>
<line x1="139.50" y1="598.00" x2="145.30" y2="598.00" stroke="#a3001f" stroke-width="1.2" stroke-linecap="butt"/>
<line x1="159.50" y1="598.40" x2="159.50" y2="601.80" stroke="#a3001f" stroke-width="1.2" stroke-linecap="butt"/>
<line x1="156.60" y1="598.40" x2="162.40" y2="598.40" stroke="#a3001f" stroke-width="1.2" stroke-linecap="butt"/>
<line x1="156.60" y1="601.80" x2="162.40" y2="601.80" stroke="#a3001f" stroke-width="1.2" stroke-linecap="butt"/>
<line x1="210.70" y1="610.60" x2="210.70" y2="613.20" stroke="#a3001f" stroke-width="1.2" stroke-linecap="butt"/>
<line x1="207.80" y1="610.60" x2="213.60" y2="610.60" stroke="#a3001f" stroke-width="1.2" stroke-linecap="butt"/>
<line x1="207.80" y1="613.20" x2="213.60" y2="613.20" stroke="#a3001f" stroke-width="1.2" stroke-linecap="butt"/>
<circle cx="88.10" cy="566.80" r="1.05" fill="#222"/>
<circle cx="91.50" cy="566.80" r="1.05" fill="#222"/>
<circle cx="94.90" cy="566.80" r="1.05" fill="#222"/>
<circle cx="92.10" cy="570.70" r="1.05" fill="#222"/>
<circle cx="95.50" cy="570.70" r="1.05" fill="#222"/>
<circle cx="98.90" cy="570.70" r="1.05" fill="#222"/>
<circle cx="105.10" cy="573.00" r="1.05" fill="#222"/>
<circle cx="108.50" cy="573.00" r="1.05" fill="#222"/>
<circle cx="111.90" cy="573.00" r="1.05" fill="#222"/>
<circle cx="139.00" cy="579.70" r="1.05" fill="#222"/>
<circle cx="142.40" cy="579.70" r="1.05" fill="#222"/>
<circle cx="145.80" cy="579.70" r="1.05" fill="#222"/>
<circle cx="156.10" cy="583.00" r="1.05" fill="#222"/>
<circle cx="159.50" cy="583.00" r="1.05" fill="#222"/>
<circle cx="162.90" cy="583.00" r="1.05" fill="#222"/>
<circle cx="207.30" cy="587.40" r="1.05" fill="#222"/>
<circle cx="210.70" cy="587.40" r="1.05" fill="#222"/>
<circle cx="214.10" cy="587.40" r="1.05" fill="#222"/>
<line x1="280.20" y1="54.20" x2="280.20" y2="182.75" stroke="#000" stroke-width="1.5" stroke-linecap="butt"/>
<line x1="279.45" y1="182.00" x2="505.00" y2="182.00" stroke="#000" stroke-width="1.5" stroke-linecap="butt"/>
<line x1="275.70" y1="59.60" x2="280.20" y2="59.60" stroke="#000" stroke-width="1.3" stroke-linecap="butt"/>
<text x="271.60" y="62.90" font-size="9.2" text-anchor="end" fill="#111" >1.2</text>
<line x1="275.70" y1="80.40" x2="280.20" y2="80.40" stroke="#000" stroke-width="1.3" stroke-linecap="butt"/>
<text x="271.60" y="83.70" font-size="9.2" text-anchor="end" fill="#111" >1.0</text>
<line x1="275.70" y1="100.60" x2="280.20" y2="100.60" stroke="#000" stroke-width="1.3" stroke-linecap="butt"/>
<text x="271.60" y="103.90" font-size="9.2" text-anchor="end" fill="#111" >0.8</text>
<line x1="275.70" y1="121.20" x2="280.20" y2="121.20" stroke="#000" stroke-width="1.3" stroke-linecap="butt"/>
<text x="271.60" y="124.50" font-size="9.2" text-anchor="end" fill="#111" >0.6</text>
<line x1="275.70" y1="141.60" x2="280.20" y2="141.60" stroke="#000" stroke-width="1.3" stroke-linecap="butt"/>
<text x="271.60" y="144.90" font-size="9.2" text-anchor="end" fill="#111" >0.4</text>
<line x1="275.70" y1="161.50" x2="280.20" y2="161.50" stroke="#000" stroke-width="1.3" stroke-linecap="butt"/>
<text x="271.60" y="164.80" font-size="9.2" text-anchor="end" fill="#111" >0.2</text>
<line x1="275.70" y1="182.00" x2="280.20" y2="182.00" stroke="#000" stroke-width="1.3" stroke-linecap="butt"/>
<text x="271.60" y="185.30" font-size="9.2" text-anchor="end" fill="#111" >0.0</text>
<line x1="280.20" y1="182.00" x2="280.20" y2="186.20" stroke="#000" stroke-width="1.3" stroke-linecap="butt"/>
<text x="280.20" y="199.50" font-size="9.1" text-anchor="middle" fill="#111" >0.0</text>
<line x1="316.86" y1="182.00" x2="316.86" y2="186.20" stroke="#000" stroke-width="1.3" stroke-linecap="butt"/>
<text x="316.86" y="199.50" font-size="9.1" text-anchor="middle" fill="#111" >0.2</text>
<line x1="353.52" y1="182.00" x2="353.52" y2="186.20" stroke="#000" stroke-width="1.3" stroke-linecap="butt"/>
<text x="353.52" y="199.50" font-size="9.1" text-anchor="middle" fill="#111" >0.4</text>
<line x1="390.18" y1="182.00" x2="390.18" y2="186.20" stroke="#000" stroke-width="1.3" stroke-linecap="butt"/>
<text x="390.18" y="199.50" font-size="9.1" text-anchor="middle" fill="#111" >0.6</text>
<line x1="426.84" y1="182.00" x2="426.84" y2="186.20" stroke="#000" stroke-width="1.3" stroke-linecap="butt"/>
<text x="426.84" y="199.50" font-size="9.1" text-anchor="middle" fill="#111" >0.8</text>
<line x1="463.50" y1="182.00" x2="463.50" y2="186.20" stroke="#000" stroke-width="1.3" stroke-linecap="butt"/>
<text x="463.50" y="199.50" font-size="9.1" text-anchor="middle" fill="#111" >1.0</text>
<line x1="500.16" y1="182.00" x2="500.16" y2="186.20" stroke="#000" stroke-width="1.3" stroke-linecap="butt"/>
<text x="500.16" y="199.50" font-size="9.1" text-anchor="middle" fill="#111" >1.2</text>
<line x1="280.90" y1="69.20" x2="487.30" y2="182.00" stroke="#1d3d7c" stroke-width="1.3" stroke-linecap="butt" stroke-dasharray="4.4,3.4"/>
<line x1="280.90" y1="80.80" x2="463.50" y2="182.00" stroke="#a3001f" stroke-width="2.0" stroke-linecap="butt"/>
<line x1="280.90" y1="95.40" x2="438.80" y2="182.00" stroke="#1d3d7c" stroke-width="1.3" stroke-linecap="butt" stroke-dasharray="4.4,3.4"/>
<rect x="340.70" y="147.80" width="6.2" height="2.6" rx="1.1" fill="#a8001f"/>
<rect x="342.50" y="146.00" width="2.6" height="6.2" rx="1.1" fill="#a8001f"/>
<text x="339.00" y="146.00" font-size="8.1" text-anchor="middle" fill="#222" >1</text>
<rect x="349.90" y="151.50" width="6.2" height="2.6" rx="1.1" fill="#a8001f"/>
<rect x="351.70" y="149.70" width="2.6" height="6.2" rx="1.1" fill="#a8001f"/>
<text x="345.70" y="159.60" font-size="8.1" text-anchor="middle" fill="#222" >2</text>
<rect x="357.80" y="157.20" width="6.2" height="2.6" rx="1.1" fill="#a8001f"/>
<rect x="359.60" y="155.40" width="2.6" height="6.2" rx="1.1" fill="#a8001f"/>
<text x="355.50" y="166.70" font-size="8.1" text-anchor="middle" fill="#222" >3</text>
<rect x="372.50" y="160.90" width="6.2" height="2.6" rx="1.1" fill="#a8001f"/>
<rect x="374.30" y="159.10" width="2.6" height="6.2" rx="1.1" fill="#a8001f"/>
<text x="369.70" y="174.20" font-size="8.1" text-anchor="middle" fill="#222" >4</text>
<rect x="388.40" y="161.90" width="6.2" height="2.6" rx="1.1" fill="#a8001f"/>
<rect x="390.20" y="160.10" width="2.6" height="6.2" rx="1.1" fill="#a8001f"/>
<text x="385.60" y="170.90" font-size="8.1" text-anchor="middle" fill="#222" >5</text>
<rect x="400.50" y="165.70" width="6.2" height="2.6" rx="1.1" fill="#a8001f"/>
<rect x="402.30" y="163.90" width="2.6" height="6.2" rx="1.1" fill="#a8001f"/>
<text x="395.70" y="174.20" font-size="8.1" text-anchor="middle" fill="#222" >6</text>
<rect x="408.30" y="170.60" width="6.2" height="2.6" rx="1.1" fill="#a8001f"/>
<rect x="410.10" y="168.80" width="2.6" height="6.2" rx="1.1" fill="#a8001f"/>
<text x="404.00" y="176.70" font-size="8.1" text-anchor="middle" fill="#222" >7</text>
<text x="251.20" y="117.90" font-size="13" text-anchor="middle" fill="#111" textLength="85.00" lengthAdjust="spacingAndGlyphs" transform="rotate(-90 251.20 117.90)" >Combination index</text>
<line x1="279.00" y1="209.60" x2="490.20" y2="209.60" stroke="#000" stroke-width="1.3" stroke-linecap="butt"/>
<line x1="279.00" y1="210.20" x2="279.00" y2="205.10" stroke="#000" stroke-width="1.2" stroke-linecap="butt"/>
<path d="M277.00,206.00 L279.00,201.80 L281.00,206.00 Z" fill="#000"/>
<line x1="439.50" y1="210.20" x2="439.50" y2="205.10" stroke="#000" stroke-width="1.2" stroke-linecap="butt"/>
<path d="M437.50,206.00 L439.50,201.80 L441.50,206.00 Z" fill="#000"/>
<line x1="489.60" y1="210.20" x2="489.60" y2="205.10" stroke="#000" stroke-width="1.2" stroke-linecap="butt"/>
<path d="M487.60,206.00 L489.60,201.80 L491.60,206.00 Z" fill="#000"/>
<text x="336.30" y="222.20" font-size="9" text-anchor="start" fill="#111" textLength="45.70" lengthAdjust="spacingAndGlyphs" >Synergistic</text>
<text x="446.60" y="222.20" font-size="9" text-anchor="start" fill="#111" textLength="35.40" lengthAdjust="spacingAndGlyphs" >Additive</text>
<line x1="279.10" y1="304.90" x2="279.10" y2="426.05" stroke="#000" stroke-width="1.5" stroke-linecap="butt"/>
<line x1="278.35" y1="425.30" x2="493.60" y2="425.30" stroke="#000" stroke-width="1.5" stroke-linecap="butt"/>
<line x1="274.60" y1="310.20" x2="279.10" y2="310.20" stroke="#000" stroke-width="1.3" stroke-linecap="butt"/>
<text x="270.50" y="313.50" font-size="9.2" text-anchor="end" fill="#111" >1.2</text>
<line x1="274.60" y1="331.70" x2="279.10" y2="331.70" stroke="#000" stroke-width="1.3" stroke-linecap="butt"/>
<text x="270.50" y="335.00" font-size="9.2" text-anchor="end" fill="#111" >1.0</text>
<line x1="274.60" y1="350.60" x2="279.10" y2="350.60" stroke="#000" stroke-width="1.3" stroke-linecap="butt"/>
<text x="270.50" y="353.90" font-size="9.2" text-anchor="end" fill="#111" >0.8</text>
<line x1="274.60" y1="368.80" x2="279.10" y2="368.80" stroke="#000" stroke-width="1.3" stroke-linecap="butt"/>
<text x="270.50" y="372.10" font-size="9.2" text-anchor="end" fill="#111" >0.6</text>
<line x1="274.60" y1="387.90" x2="279.10" y2="387.90" stroke="#000" stroke-width="1.3" stroke-linecap="butt"/>
<text x="270.50" y="391.20" font-size="9.2" text-anchor="end" fill="#111" >0.4</text>
<line x1="274.60" y1="406.50" x2="279.10" y2="406.50" stroke="#000" stroke-width="1.3" stroke-linecap="butt"/>
<text x="270.50" y="409.80" font-size="9.2" text-anchor="end" fill="#111" >0.2</text>
<line x1="274.60" y1="425.20" x2="279.10" y2="425.20" stroke="#000" stroke-width="1.3" stroke-linecap="butt"/>
<text x="270.50" y="428.50" font-size="9.2" text-anchor="end" fill="#111" >0.0</text>
<line x1="279.20" y1="425.30" x2="279.20" y2="429.50" stroke="#000" stroke-width="1.3" stroke-linecap="butt"/>
<text x="279.20" y="442.80" font-size="9.1" text-anchor="middle" fill="#111" >0.0</text>
<line x1="331.50" y1="425.30" x2="331.50" y2="429.50" stroke="#000" stroke-width="1.3" stroke-linecap="butt"/>
<text x="331.50" y="442.80" font-size="9.1" text-anchor="middle" fill="#111" >0.3</text>
<line x1="384.30" y1="425.30" x2="384.30" y2="429.50" stroke="#000" stroke-width="1.3" stroke-linecap="butt"/>
<text x="384.30" y="442.80" font-size="9.1" text-anchor="middle" fill="#111" >0.6</text>
<line x1="437.10" y1="425.30" x2="437.10" y2="429.50" stroke="#000" stroke-width="1.3" stroke-linecap="butt"/>
<text x="437.10" y="442.80" font-size="9.1" text-anchor="middle" fill="#111" >0.9</text>
<line x1="489.90" y1="425.30" x2="489.90" y2="429.50" stroke="#000" stroke-width="1.3" stroke-linecap="butt"/>
<text x="489.90" y="442.80" font-size="9.1" text-anchor="middle" fill="#111" >1.2</text>
<line x1="279.80" y1="318.20" x2="476.40" y2="425.30" stroke="#1d3d7c" stroke-width="1.3" stroke-linecap="butt" stroke-dasharray="4.4,3.4"/>
<line x1="279.80" y1="331.10" x2="453.40" y2="425.30" stroke="#a3001f" stroke-width="2.0" stroke-linecap="butt"/>
<line x1="279.80" y1="342.30" x2="427.90" y2="425.30" stroke="#1d3d7c" stroke-width="1.3" stroke-linecap="butt" stroke-dasharray="4.4,3.4"/>
<rect x="347.10" y="400.20" width="6.2" height="2.6" rx="1.1" fill="#a8001f"/>
<rect x="348.90" y="398.40" width="2.6" height="6.2" rx="1.1" fill="#a8001f"/>
<text x="344.80" y="399.70" font-size="8.1" text-anchor="middle" fill="#222" >1</text>
<rect x="349.40" y="406.60" width="6.2" height="2.6" rx="1.1" fill="#a8001f"/>
<rect x="351.20" y="404.80" width="2.6" height="6.2" rx="1.1" fill="#a8001f"/>
<text x="345.90" y="412.80" font-size="8.1" text-anchor="middle" fill="#222" >2</text>
<rect x="363.20" y="407.60" width="6.2" height="2.6" rx="1.1" fill="#a8001f"/>
<rect x="365.00" y="405.80" width="2.6" height="6.2" rx="1.1" fill="#a8001f"/>
<text x="361.00" y="413.90" font-size="8.1" text-anchor="middle" fill="#222" >3</text>
<rect x="388.80" y="410.30" width="6.2" height="2.6" rx="1.1" fill="#a8001f"/>
<rect x="390.60" y="408.50" width="2.6" height="6.2" rx="1.1" fill="#a8001f"/>
<text x="386.50" y="417.20" font-size="8.1" text-anchor="middle" fill="#222" >4</text>
<rect x="438.30" y="407.50" width="6.2" height="2.6" rx="1.1" fill="#a8001f"/>
<rect x="440.10" y="405.70" width="2.6" height="6.2" rx="1.1" fill="#a8001f"/>
<text x="434.70" y="409.80" font-size="8.1" text-anchor="middle" fill="#222" >5</text>
<rect x="479.20" y="407.80" width="6.2" height="2.6" rx="1.1" fill="#a8001f"/>
<rect x="481.00" y="406.00" width="2.6" height="6.2" rx="1.1" fill="#a8001f"/>
<text x="478.30" y="406.60" font-size="8.1" text-anchor="middle" fill="#222" >6</text>
<rect x="472.50" y="411.00" width="6.2" height="2.6" rx="1.1" fill="#a8001f"/>
<rect x="474.30" y="409.20" width="2.6" height="6.2" rx="1.1" fill="#a8001f"/>
<text x="471.50" y="411.20" font-size="8.1" text-anchor="middle" fill="#222" >7</text>
<text x="249.20" y="364.60" font-size="13" text-anchor="middle" fill="#111" textLength="85.00" lengthAdjust="spacingAndGlyphs" transform="rotate(-90 249.20 364.60)" >Combination index</text>
<line x1="279.50" y1="452.90" x2="481.60" y2="452.90" stroke="#000" stroke-width="1.3" stroke-linecap="butt"/>
<line x1="279.50" y1="453.50" x2="279.50" y2="448.40" stroke="#000" stroke-width="1.2" stroke-linecap="butt"/>
<path d="M277.50,449.30 L279.50,445.10 L281.50,449.30 Z" fill="#000"/>
<line x1="427.90" y1="453.50" x2="427.90" y2="448.40" stroke="#000" stroke-width="1.2" stroke-linecap="butt"/>
<path d="M425.90,449.30 L427.90,445.10 L429.90,449.30 Z" fill="#000"/>
<line x1="481.00" y1="453.50" x2="481.00" y2="448.40" stroke="#000" stroke-width="1.2" stroke-linecap="butt"/>
<path d="M479.00,449.30 L481.00,445.10 L483.00,449.30 Z" fill="#000"/>
<text x="330.50" y="465.50" font-size="9" text-anchor="start" fill="#111" textLength="45.80" lengthAdjust="spacingAndGlyphs" >Synergistic</text>
<text x="436.30" y="465.50" font-size="9" text-anchor="start" fill="#111" textLength="35.40" lengthAdjust="spacingAndGlyphs" >Additive</text>
<line x1="280.00" y1="529.80" x2="280.00" y2="654.05" stroke="#000" stroke-width="1.5" stroke-linecap="butt"/>
<line x1="279.25" y1="653.30" x2="502.00" y2="653.30" stroke="#000" stroke-width="1.5" stroke-linecap="butt"/>
<line x1="275.50" y1="534.60" x2="280.00" y2="534.60" stroke="#000" stroke-width="1.3" stroke-linecap="butt"/>
<text x="271.40" y="537.90" font-size="9.2" text-anchor="end" fill="#111" >1.2</text>
<line x1="275.50" y1="554.80" x2="280.00" y2="554.80" stroke="#000" stroke-width="1.3" stroke-linecap="butt"/>
<text x="271.40" y="558.10" font-size="9.2" text-anchor="end" fill="#111" >1.0</text>
<line x1="275.50" y1="574.60" x2="280.00" y2="574.60" stroke="#000" stroke-width="1.3" stroke-linecap="butt"/>
<text x="271.40" y="577.90" font-size="9.2" text-anchor="end" fill="#111" >0.8</text>
<line x1="275.50" y1="594.20" x2="280.00" y2="594.20" stroke="#000" stroke-width="1.3" stroke-linecap="butt"/>
<text x="271.40" y="597.50" font-size="9.2" text-anchor="end" fill="#111" >0.6</text>
<line x1="275.50" y1="614.00" x2="280.00" y2="614.00" stroke="#000" stroke-width="1.3" stroke-linecap="butt"/>
<text x="271.40" y="617.30" font-size="9.2" text-anchor="end" fill="#111" >0.4</text>
<line x1="275.50" y1="633.90" x2="280.00" y2="633.90" stroke="#000" stroke-width="1.3" stroke-linecap="butt"/>
<text x="271.40" y="637.20" font-size="9.2" text-anchor="end" fill="#111" >0.2</text>
<line x1="275.50" y1="653.60" x2="280.00" y2="653.60" stroke="#000" stroke-width="1.3" stroke-linecap="butt"/>
<text x="271.40" y="656.90" font-size="9.2" text-anchor="end" fill="#111" >0.0</text>
<line x1="279.75" y1="653.30" x2="279.75" y2="657.50" stroke="#000" stroke-width="1.3" stroke-linecap="butt"/>
<text x="279.75" y="670.80" font-size="9.1" text-anchor="middle" fill="#111" >0.0</text>
<line x1="316.05" y1="653.30" x2="316.05" y2="657.50" stroke="#000" stroke-width="1.3" stroke-linecap="butt"/>
<text x="316.05" y="670.80" font-size="9.1" text-anchor="middle" fill="#111" >0.2</text>
<line x1="352.35" y1="653.30" x2="352.35" y2="657.50" stroke="#000" stroke-width="1.3" stroke-linecap="butt"/>
<text x="352.35" y="670.80" font-size="9.1" text-anchor="middle" fill="#111" >0.4</text>
<line x1="388.65" y1="653.30" x2="388.65" y2="657.50" stroke="#000" stroke-width="1.3" stroke-linecap="butt"/>
<text x="388.65" y="670.80" font-size="9.1" text-anchor="middle" fill="#111" >0.6</text>
<line x1="424.95" y1="653.30" x2="424.95" y2="657.50" stroke="#000" stroke-width="1.3" stroke-linecap="butt"/>
<text x="424.95" y="670.80" font-size="9.1" text-anchor="middle" fill="#111" >0.8</text>
<line x1="461.25" y1="653.30" x2="461.25" y2="657.50" stroke="#000" stroke-width="1.3" stroke-linecap="butt"/>
<text x="461.25" y="670.80" font-size="9.1" text-anchor="middle" fill="#111" >1.0</text>
<line x1="497.55" y1="653.30" x2="497.55" y2="657.50" stroke="#000" stroke-width="1.3" stroke-linecap="butt"/>
<text x="497.55" y="670.80" font-size="9.1" text-anchor="middle" fill="#111" >1.2</text>
<line x1="280.70" y1="544.20" x2="477.50" y2="653.30" stroke="#1d3d7c" stroke-width="1.3" stroke-linecap="butt" stroke-dasharray="4.4,3.4"/>
<line x1="280.70" y1="554.80" x2="461.25" y2="653.30" stroke="#a3001f" stroke-width="2.0" stroke-linecap="butt"/>
<line x1="280.70" y1="565.00" x2="440.00" y2="653.30" stroke="#1d3d7c" stroke-width="1.3" stroke-linecap="butt" stroke-dasharray="4.4,3.4"/>
<rect x="310.40" y="611.60" width="6.2" height="2.6" rx="1.1" fill="#a8001f"/>
<rect x="312.20" y="609.80" width="2.6" height="6.2" rx="1.1" fill="#a8001f"/>
<text x="308.10" y="610.20" font-size="8.1" text-anchor="middle" fill="#222" >1</text>
<rect x="318.40" y="612.20" width="6.2" height="2.6" rx="1.1" fill="#a8001f"/>
<rect x="320.20" y="610.40" width="2.6" height="6.2" rx="1.1" fill="#a8001f"/>
<text x="317.90" y="610.20" font-size="8.1" text-anchor="middle" fill="#222" >2</text>
<rect x="341.70" y="614.10" width="6.2" height="2.6" rx="1.1" fill="#a8001f"/>
<rect x="343.50" y="612.30" width="2.6" height="6.2" rx="1.1" fill="#a8001f"/>
<text x="341.30" y="612.90" font-size="8.1" text-anchor="middle" fill="#222" >3</text>
<rect x="383.80" y="629.10" width="6.2" height="2.6" rx="1.1" fill="#a8001f"/>
<rect x="385.60" y="627.30" width="2.6" height="6.2" rx="1.1" fill="#a8001f"/>
<text x="381.30" y="628.90" font-size="8.1" text-anchor="middle" fill="#222" >4</text>
<rect x="386.90" y="637.70" width="6.2" height="2.6" rx="1.1" fill="#a8001f"/>
<rect x="388.70" y="635.90" width="2.6" height="6.2" rx="1.1" fill="#a8001f"/>
<text x="394.60" y="637.50" font-size="8.1" text-anchor="middle" fill="#222" >5</text>
<rect x="409.90" y="645.45" width="6.2" height="2.6" rx="1.1" fill="#a8001f"/>
<rect x="411.70" y="643.65" width="2.6" height="6.2" rx="1.1" fill="#a8001f"/>
<text x="409.50" y="644.15" font-size="8.1" text-anchor="middle" fill="#222" >6</text>
<text x="250.60" y="591.50" font-size="13" text-anchor="middle" fill="#111" textLength="85.00" lengthAdjust="spacingAndGlyphs" transform="rotate(-90 250.60 591.50)" >Combination index</text>
<line x1="280.50" y1="680.90" x2="480.60" y2="680.90" stroke="#000" stroke-width="1.3" stroke-linecap="butt"/>
<line x1="280.50" y1="681.50" x2="280.50" y2="676.40" stroke="#000" stroke-width="1.2" stroke-linecap="butt"/>
<path d="M278.50,677.30 L280.50,673.10 L282.50,677.30 Z" fill="#000"/>
<line x1="444.50" y1="681.50" x2="444.50" y2="676.40" stroke="#000" stroke-width="1.2" stroke-linecap="butt"/>
<path d="M442.50,677.30 L444.50,673.10 L446.50,677.30 Z" fill="#000"/>
<line x1="480.00" y1="681.50" x2="480.00" y2="676.40" stroke="#000" stroke-width="1.2" stroke-linecap="butt"/>
<path d="M478.00,677.30 L480.00,673.10 L482.00,677.30 Z" fill="#000"/>
<text x="340.00" y="693.50" font-size="9" text-anchor="start" fill="#111" textLength="45.50" lengthAdjust="spacingAndGlyphs" >Synergistic</text>
<text x="444.50" y="693.50" font-size="9" text-anchor="start" fill="#111" textLength="35.30" lengthAdjust="spacingAndGlyphs" >Additive</text>
<rect x="413.60" y="32.50" width="94.20" height="102.40" fill="none" stroke="#000" stroke-width="1.3"/>
<line x1="424.60" y1="32.50" x2="424.60" y2="134.90" stroke="#000" stroke-width="1.6" stroke-linecap="butt"/>
<line x1="463.50" y1="32.50" x2="463.50" y2="134.90" stroke="#000" stroke-width="1.6" stroke-linecap="butt"/>
<line x1="413.60" y1="45.20" x2="507.80" y2="45.20" stroke="#000" stroke-width="1.6" stroke-linecap="butt"/>
<line x1="413.60" y1="58.01" x2="424.60" y2="58.01" stroke="#000" stroke-width="1.6" stroke-linecap="butt"/>
<line x1="463.50" y1="58.01" x2="507.80" y2="58.01" stroke="#000" stroke-width="1.6" stroke-linecap="butt"/>
<line x1="413.60" y1="70.83" x2="424.60" y2="70.83" stroke="#000" stroke-width="1.6" stroke-linecap="butt"/>
<line x1="463.50" y1="70.83" x2="507.80" y2="70.83" stroke="#000" stroke-width="1.6" stroke-linecap="butt"/>
<line x1="413.60" y1="83.64" x2="424.60" y2="83.64" stroke="#000" stroke-width="1.6" stroke-linecap="butt"/>
<line x1="463.50" y1="83.64" x2="507.80" y2="83.64" stroke="#000" stroke-width="1.6" stroke-linecap="butt"/>
<line x1="413.60" y1="96.46" x2="424.60" y2="96.46" stroke="#000" stroke-width="1.6" stroke-linecap="butt"/>
<line x1="463.50" y1="96.46" x2="507.80" y2="96.46" stroke="#000" stroke-width="1.6" stroke-linecap="butt"/>
<line x1="413.60" y1="109.27" x2="424.60" y2="109.27" stroke="#000" stroke-width="1.6" stroke-linecap="butt"/>
<line x1="463.50" y1="109.27" x2="507.80" y2="109.27" stroke="#000" stroke-width="1.6" stroke-linecap="butt"/>
<line x1="413.60" y1="122.09" x2="424.60" y2="122.09" stroke="#000" stroke-width="1.6" stroke-linecap="butt"/>
<line x1="463.50" y1="122.09" x2="507.80" y2="122.09" stroke="#000" stroke-width="1.6" stroke-linecap="butt"/>
<text x="444.05" y="41.65" font-size="7.9" text-anchor="middle" fill="#111" textLength="31.40" lengthAdjust="spacingAndGlyphs" >CX-4945</text>
<text x="485.65" y="41.65" font-size="7.9" text-anchor="middle" fill="#111" textLength="30.30" lengthAdjust="spacingAndGlyphs" >Dox (nM</text>
<text x="444.05" y="92.95" font-size="8.1" text-anchor="middle" fill="#111" >4 <tspan font-style="italic">µ</tspan>M</text>
<text x="419.10" y="54.51" font-size="8.1" text-anchor="middle" fill="#111" >1</text>
<text x="485.65" y="54.51" font-size="8.1" text-anchor="middle" fill="#111" >20</text>
<text x="419.10" y="67.32" font-size="8.1" text-anchor="middle" fill="#111" >2</text>
<text x="485.65" y="67.32" font-size="8.1" text-anchor="middle" fill="#111" >25</text>
<text x="419.10" y="80.14" font-size="8.1" text-anchor="middle" fill="#111" >3</text>
<text x="485.65" y="80.14" font-size="8.1" text-anchor="middle" fill="#111" >30</text>
<text x="419.10" y="92.95" font-size="8.1" text-anchor="middle" fill="#111" >4</text>
<text x="485.65" y="92.95" font-size="8.1" text-anchor="middle" fill="#111" >40</text>
<text x="419.10" y="105.76" font-size="8.1" text-anchor="middle" fill="#111" >5</text>
<text x="485.65" y="105.76" font-size="8.1" text-anchor="middle" fill="#111" >50</text>
<text x="419.10" y="118.58" font-size="8.1" text-anchor="middle" fill="#111" >6</text>
<text x="485.65" y="118.58" font-size="8.1" text-anchor="middle" fill="#111" >60</text>
<text x="419.10" y="131.39" font-size="8.1" text-anchor="middle" fill="#111" >7</text>
<text x="485.65" y="131.39" font-size="8.1" text-anchor="middle" fill="#111" >70</text>
<rect x="411.60" y="269.00" width="94.40" height="103.90" fill="none" stroke="#000" stroke-width="1.3"/>
<line x1="423.10" y1="269.00" x2="423.10" y2="372.90" stroke="#000" stroke-width="1.6" stroke-linecap="butt"/>
<line x1="461.40" y1="269.00" x2="461.40" y2="372.90" stroke="#000" stroke-width="1.6" stroke-linecap="butt"/>
<line x1="411.60" y1="282.20" x2="506.00" y2="282.20" stroke="#000" stroke-width="1.6" stroke-linecap="butt"/>
<line x1="411.60" y1="295.16" x2="423.10" y2="295.16" stroke="#000" stroke-width="1.6" stroke-linecap="butt"/>
<line x1="461.40" y1="295.16" x2="506.00" y2="295.16" stroke="#000" stroke-width="1.6" stroke-linecap="butt"/>
<line x1="411.60" y1="308.11" x2="423.10" y2="308.11" stroke="#000" stroke-width="1.6" stroke-linecap="butt"/>
<line x1="461.40" y1="308.11" x2="506.00" y2="308.11" stroke="#000" stroke-width="1.6" stroke-linecap="butt"/>
<line x1="411.60" y1="321.07" x2="423.10" y2="321.07" stroke="#000" stroke-width="1.6" stroke-linecap="butt"/>
<line x1="461.40" y1="321.07" x2="506.00" y2="321.07" stroke="#000" stroke-width="1.6" stroke-linecap="butt"/>
<line x1="411.60" y1="334.03" x2="423.10" y2="334.03" stroke="#000" stroke-width="1.6" stroke-linecap="butt"/>
<line x1="461.40" y1="334.03" x2="506.00" y2="334.03" stroke="#000" stroke-width="1.6" stroke-linecap="butt"/>
<line x1="411.60" y1="346.99" x2="423.10" y2="346.99" stroke="#000" stroke-width="1.6" stroke-linecap="butt"/>
<line x1="461.40" y1="346.99" x2="506.00" y2="346.99" stroke="#000" stroke-width="1.6" stroke-linecap="butt"/>
<line x1="411.60" y1="359.94" x2="423.10" y2="359.94" stroke="#000" stroke-width="1.6" stroke-linecap="butt"/>
<line x1="461.40" y1="359.94" x2="506.00" y2="359.94" stroke="#000" stroke-width="1.6" stroke-linecap="butt"/>
<text x="442.25" y="278.40" font-size="7.9" text-anchor="middle" fill="#111" textLength="30.80" lengthAdjust="spacingAndGlyphs" >CX-4945</text>
<text x="483.70" y="278.40" font-size="7.9" text-anchor="middle" fill="#111" textLength="30.30" lengthAdjust="spacingAndGlyphs" >Dox (nM</text>
<text x="442.25" y="330.45" font-size="8.1" text-anchor="middle" fill="#111" >4 <tspan font-style="italic">µ</tspan>M</text>
<text x="417.35" y="291.58" font-size="8.1" text-anchor="middle" fill="#111" >1</text>
<text x="483.70" y="291.58" font-size="8.1" text-anchor="middle" fill="#111" >20</text>
<text x="417.35" y="304.54" font-size="8.1" text-anchor="middle" fill="#111" >2</text>
<text x="483.70" y="304.54" font-size="8.1" text-anchor="middle" fill="#111" >25</text>
<text x="417.35" y="317.49" font-size="8.1" text-anchor="middle" fill="#111" >3</text>
<text x="483.70" y="317.49" font-size="8.1" text-anchor="middle" fill="#111" >30</text>
<text x="417.35" y="330.45" font-size="8.1" text-anchor="middle" fill="#111" >4</text>
<text x="483.70" y="330.45" font-size="8.1" text-anchor="middle" fill="#111" >40</text>
<text x="417.35" y="343.41" font-size="8.1" text-anchor="middle" fill="#111" >5</text>
<text x="483.70" y="343.41" font-size="8.1" text-anchor="middle" fill="#111" >50</text>
<text x="417.35" y="356.36" font-size="8.1" text-anchor="middle" fill="#111" >6</text>
<text x="483.70" y="356.36" font-size="8.1" text-anchor="middle" fill="#111" >60</text>
<text x="417.35" y="369.32" font-size="8.1" text-anchor="middle" fill="#111" >7</text>
<text x="483.70" y="369.32" font-size="8.1" text-anchor="middle" fill="#111" >70</text>
<rect x="412.30" y="512.30" width="94.90" height="90.40" fill="none" stroke="#000" stroke-width="1.3"/>
<line x1="423.80" y1="512.30" x2="423.80" y2="602.70" stroke="#000" stroke-width="1.6" stroke-linecap="butt"/>
<line x1="462.00" y1="512.30" x2="462.00" y2="602.70" stroke="#000" stroke-width="1.6" stroke-linecap="butt"/>
<line x1="412.30" y1="525.30" x2="507.20" y2="525.30" stroke="#000" stroke-width="1.6" stroke-linecap="butt"/>
<line x1="412.30" y1="538.20" x2="423.80" y2="538.20" stroke="#000" stroke-width="1.6" stroke-linecap="butt"/>
<line x1="462.00" y1="538.20" x2="507.20" y2="538.20" stroke="#000" stroke-width="1.6" stroke-linecap="butt"/>
<line x1="412.30" y1="551.10" x2="423.80" y2="551.10" stroke="#000" stroke-width="1.6" stroke-linecap="butt"/>
<line x1="462.00" y1="551.10" x2="507.20" y2="551.10" stroke="#000" stroke-width="1.6" stroke-linecap="butt"/>
<line x1="412.30" y1="564.00" x2="423.80" y2="564.00" stroke="#000" stroke-width="1.6" stroke-linecap="butt"/>
<line x1="462.00" y1="564.00" x2="507.20" y2="564.00" stroke="#000" stroke-width="1.6" stroke-linecap="butt"/>
<line x1="412.30" y1="576.90" x2="423.80" y2="576.90" stroke="#000" stroke-width="1.6" stroke-linecap="butt"/>
<line x1="462.00" y1="576.90" x2="507.20" y2="576.90" stroke="#000" stroke-width="1.6" stroke-linecap="butt"/>
<line x1="412.30" y1="589.80" x2="423.80" y2="589.80" stroke="#000" stroke-width="1.6" stroke-linecap="butt"/>
<line x1="462.00" y1="589.80" x2="507.20" y2="589.80" stroke="#000" stroke-width="1.6" stroke-linecap="butt"/>
<text x="442.90" y="521.60" font-size="7.9" text-anchor="middle" fill="#111" textLength="30.70" lengthAdjust="spacingAndGlyphs" >CX-4945</text>
<text x="484.60" y="521.60" font-size="7.9" text-anchor="middle" fill="#111" textLength="30.30" lengthAdjust="spacingAndGlyphs" >Dox (nM</text>
<text x="442.90" y="566.90" font-size="8.1" text-anchor="middle" fill="#111" >4 µM</text>
<text x="418.05" y="534.65" font-size="8.1" text-anchor="middle" fill="#111" >1</text>
<text x="484.60" y="534.65" font-size="8.1" text-anchor="middle" fill="#111" >100</text>
<text x="418.05" y="547.55" font-size="8.1" text-anchor="middle" fill="#111" >2</text>
<text x="484.60" y="547.55" font-size="8.1" text-anchor="middle" fill="#111" >125</text>
<text x="418.05" y="560.45" font-size="8.1" text-anchor="middle" fill="#111" >3</text>
<text x="484.60" y="560.45" font-size="8.1" text-anchor="middle" fill="#111" >200</text>
<text x="418.05" y="573.35" font-size="8.1" text-anchor="middle" fill="#111" >4</text>
<text x="484.60" y="573.35" font-size="8.1" text-anchor="middle" fill="#111" >400</text>
<text x="418.05" y="586.25" font-size="8.1" text-anchor="middle" fill="#111" >5</text>
<text x="484.60" y="586.25" font-size="8.1" text-anchor="middle" fill="#111" >500</text>
<text x="418.05" y="599.15" font-size="8.1" text-anchor="middle" fill="#111" >6</text>
<text x="484.60" y="599.15" font-size="8.1" text-anchor="middle" fill="#111" >800</text>
<g clip-path="url(#c1)">
<ellipse cx="80.3" cy="820.8" rx="6.8" ry="9.4" fill="#c8200f" fill-opacity="1" filter="url(#b1)"/>
<ellipse cx="87" cy="821.5" rx="6" ry="8" fill="#c8200f" fill-opacity="0.55" filter="url(#b15)"/>
<path transform="scale(.1)" d="M778 7804h7m18 11h7m532 22h7m-14-6h7m-305 6h7m-74-6h7m-46-4h7m-192 43h7m218-7h7m136 10h7m2-15h7m5 6h7m193 5h7m38 0h7m27 6h7m-31 19h7m-45-4h7m-11-12h7m-18 8h7m-23-3h7m-13-2h7m-21-2h7m-16 1h7m-22 8h7m-71 10h7m-88-18h7m-80 24h7m44 17h7m-4 0h7m28-19h7m7 13h7m-5 4h7m-5-18h7m8 2h7m14 11h7m-3-1h7m25-2h7m7 8h7m16-13h7m16-2h7m16-2h7m45 20h7m-46 7h7m-45-2h7m-9 16h7m-109-15h7m-39 15h7m-48-16h7m-56 3h7m80 24h7m18 8h7m118 58h7m-490 29h7m2-4h7m28-1h7m205 2h7m52-8h7m36 0h7m46-10h7m40 14h7m90-6h7m18-6h7m-217 40h7m-217-16h7m-112 18h7m-30-9h7m-99 10h7m-32-20h7m-27 45h7m39 1h7m15-4h7m19 3h7m3-8h7m17 4h7m-3 0h7m1-9h7m14 1h7m4 10h7m-4-3h7m4-6h7m73 2h7m73 8h7m-1-1h7m23-10h7m-3-3h7m32-7h7m19 12h7m116 35h7m-126 0h7m-12-16h7m-10 11h7m-23 0h7m-42-15h7m-17 18h7m-24-19h7m-9 16h7m-19 6h7m-22-9h7m-22-11h7m-13 8h7m-18 1h7m-19 9h7m-25-2h7m-20 3h7m-7-1h7m-9-3h7m-32-4h7m-9-3h7m-9 5h7m-25-7h7m-14 11h7m-11 0h7m-18 3h7m-9-17h7m-16 12h7m-22-11h7m-18 1h7m-23 10h7m-8 1h7m-10-3h7m-9-10h7m-13-1h7m-9 12h7m-8 2h7m-9-1h7m-10-3h7m-11 6h7m-11 0h7m-42-6h7m-23 3h7m-33-4h7m-8 0h7m-36-7h7m-7 30h7m-6-10h7m5 4h7m24 7h7m-4-9h7m6-2h7m-3 0h7m-2 21h7m-4-23h7m17 21h7m-2-12h7m-3 9h7m6 4h7m-6-5h7m-3-6h7m-6 2h7m1-14h7m-5 1h7m-7 9h7m-7 4h7m-3-14h7m-5 1h7m-5 14h7m-6-3h7m-6-10h7m-5 20h7m-6-3h7m-5-11h7m-2 7h7m-6-11h7m-3 17h7m-5-11h7m-7 13h7m-5-2h7m5-8h7m-5 4h7m-5-16h7m-4 21h7m-2-11h7m-7 11h7m-2-13h7m-2 8h7m0-10h7m-6 8h7m-2 4h7m-6 4h7m-5-14h7m-5 6h7m4-3h7m-7 8h7m2 3h7m-4-10h7m-6-10h7m4 14h7m2 1h7m-6-4h7m-4-5h7m-4 14h7m1-3h7m-4-13h7m-5 0h7m20 5h7m0-10h7m-5 19h7m1-6h7m-5-11h7m0 9h7m-7 1h7m2-6h7m2 14h7m-3-2h7m-2-3h7m-7 5h7m0-12h7m7 2h7m-3 6h7m-2-17h7m-6 15h7m12-3h7m0 3h7m12 4h7m3-6h7m-6 8h7m93-18h7m121 29h7m-55 4h7m-19 2h7m-48-5h7m-26-5h7m-36 4h7m-26-2h7m-35 14h7m-8-14h7m-29 15h7m-11-9h7m-9-10h7m-38 15h7m-10-12h7m-13 16h7m-12-7h7m-8-3h7m-18 9h7m-13 4h7m-9-2h7m-29-16h7m-10 1h7m-11 11h7m-9 1h7m-16-3h7m-21 0h7m-12-9h7m-17 1h7m-11 15h7m-8-23h7m-10 21h7m-7-13h7m-9 6h7m-10-5h7m-12-4h7m-8-1h7m-8 18h7m-17-16h7m-14 14h7m-8-1h7m-7-12h7m-9 5h7m-10-9h7m-14 12h7m-9 8h7m-7-3h7m-11-13h7m-10 8h7m-18-1h7m-7-7h7m-9 14h7m-8-18h7m-8 18h7m-9-21h7m-8 9h7m-12 9h7m-8 5h7m-8-9h7m-8-1h7m-7-3h7m-7-2h7m-9-2h7m-8 9h7m-8 0h7m-9-6h7m-12 8h7m-9-12h7m-9 1h7m-7-1h7m-10 12h7m-7-17h7m-9 0h7m-14 12h7m-7-9h7m-9 17h7m-9 2h7m-7-16h7m-11 17h7m-12-13h7m-8 6h7m-8-5h7m-15-9h7m-9 18h7m-7-20h7m-8 4h7m-11 10h7m-9 1h7m-12 9h7m-8-8h7m-13 7h7m-9 0h7m-8 0h7m-7-15h7m-8 14h7m-8-21h7m-11 22h7m-7-8h7m-11 5h7m-7-7h7m-11 2h7m-8-4h7m-9 3h7m-8 5h7m-8-3h7m-7-12h7m-11 19h7m-7-15h7m-9 10h7m-7-1h7m-9-9h7m-8-7h7m-10 22h7m-8-7h7m-7-1h7m-7-7h7m-8 1h7m-8 4h7m-9-13h7m-8 22h7m-7-18h7m-7 0h7m-8 9h7m-7-2h7m-8 12h7m-7-12h7m-8-3h7m-12-6h7m-10 3h7m-10 0h7m-10 2h7m-9 17h7m-9-9h7m-8-8h7m-24 9h7m-9 3h7m-18 2h7m-7-15h7m-7-2h7m-14 3h7m-11 1h7m-9 14h7m-9-1h7m-12-6h7m-8-12h7m-11 17h7m-17 0h7m-11-6h7m-25-6h7m-31 18h7m-5 20h7m13-12h7m7 8h7m2 5h7m-4-20h7m2 10h7m-2 8h7m5-13h7m-3 8h7m-2 4h7m-5-2h7m-1 5h7m-6-9h7m-7 0h7m-5-2h7m-6-11h7m-6 9h7m11 6h7m-6 2h7m-6-7h7m-5 7h7m-4 1h7m-4-16h7m-4 19h7m-4-11h7m-7 1h7m-6-11h7m-7 12h7m-7 11h7m-6-15h7m-6 14h7m-6-19h7m-7 4h7m-6 9h7m-7 7h7m-6-21h7m-7 14h7m-6-16h7m-7 5h7m-6 13h7m-6-17h7m-7 8h7m-7 9h7m-7 3h7m-6-21h7m-7 11h7m-6-7h7m-7 11h7m-7 3h7m-6-16h7m-7 11h7m-5-5h7m-6 9h7m-6-17h7m-7 0h7m-7 5h7m-7 5h7m-6-9h7m-7 3h7m-7 17h7m-5-21h7m-7 6h7m-6-1h7m-7 1h7m-7 6h7m-7 3h7m-6 8h7m-5-16h7m-7 15h7m-7 2h7m-6-11h7m-7 9h7m-6-12h7m-7 8h7m-6 5h7m-5-12h7m-7 13h7m-6-16h7m-6 11h7m-6-9h7m-4 3h7m-7 11h7m-5-23h7m-7 15h7m-6 3h7m-7 1h7m-7 2h7m-6-21h7m-7 18h7m-6-6h7m-7 7h7m-6-3h7m-6-15h7m-7 19h7m-1-10h7m-7 5h7m-7 6h7m-5-7h7m-4-1h7m-6 10h7m-4-4h7m-5-15h7m-7 2h7m-6 16h7m-5 1h7m-3-9h7m-7 7h7m-3-7h7m-6-14h7m-3 14h7m4 2h7m-7 5h7m-5-1h7m-5-2h7m-4-10h7m-4 7h7m-6 4h7m-6 2h7m1-9h7m-3-7h7m-7 0h7m-7 5h7m-5 5h7m-2-1h7m-3-1h7m-6-5h7m-5-3h7m-3 13h7m-6-14h7m-5-1h7m-4-4h7m-7 7h7m-7 9h7m-3-9h7m-7 10h7m-6-15h7m-6 5h7m1-3h7m-5 4h7m-6 16h7m-6-10h7m0-1h7m-6-12h7m-6 5h7m-5 6h7m-6 2h7m-6-8h7m-7 5h7m-7 1h7m-3 3h7m-7 7h7m1-19h7m-7 19h7m-5-10h7m-1 0h7m0-3h7m-5 7h7m-6-1h7m-4-7h7m-2 12h7m-6-18h7m-6 19h7m9-16h7m-6 0h7m-6 17h7m-3-11h7m-3-9h7m-3 8h7m-6 12h7m-5-6h7m1 3h7m-1 4h7m2-17h7m-5 12h7m-7 6h7m2-2h7m-6-20h7m-1 15h7m-4 3h7m1-3h7m9-14h7m3 20h7m3-12h7m34 3h7m40 2h7m22 4h7m53-2h7m-5 6h7m30 6h7m-96-3h7m-28 8h7m-39 4h7m-32-12h7m-12 15h7m-20-8h7m-8 6h7m-11-3h7m-8 5h7m-16 6h7m-46-21h7m-8 7h7m-22 4h7m-14-11h7m-13 20h7m-21-20h7m-11-2h7m-18 18h7m-16 6h7m-12-16h7m-15 2h7m-10-9h7m-10 17h7m-12 1h7m-20-12h7m-17 16h7m-7-2h7m-7-5h7m-7-13h7m-8 16h7m-21-2h7m-10 1h7m-10-3h7m-8 2h7m-7-4h7m-10 5h7m-9-16h7m-8 6h7m-8-4h7m-10 11h7m-7 0h7m-10-12h7m-15 2h7m-10 5h7m-8 0h7m-8 3h7m-9-6h7m-7-7h7m-9 14h7m-8 5h7m-8 5h7m-10-21h7m-8 2h7m-7-1h7m-9-1h7m-8-1h7m-8 14h7m-7-2h7m-7-14h7m-9 9h7m-8 1h7m-10 13h7m-8-19h7m-8 7h7m-7-2h7m-8 13h7m-9-9h7m-7-12h7m-8 21h7m-11-11h7m-7-5h7m-8 12h7m-8 6h7m-10-5h7m-7-2h7m-10 3h7m-8-3h7m-8 2h7m-7-17h7m-9 16h7m-9-10h7m-8 14h7m-10-9h7m-11 1h7m-9-1h7m-16-8h7m-8 8h7m-9 6h7m-9-11h7m-8 8h7m-8-11h7m-9 10h7m-8-7h7m-9 2h7m-8 14h7m-11 0h7m-7-6h7m-8 6h7m-7-9h7m-7-13h7m-7-1h7m-13 20h7m-7-14h7m-10 2h7m-7-9h7m-8 13h7m-7-3h7m-8-2h7m-8 9h7m-8-9h7m-10 7h7m-7-11h7m-7-2h7m-9 12h7m-7-10h7m-8 10h7m-7-4h7m-8 10h7m-10-8h7m-7-8h7m-8 9h7m-9 7h7m-8-13h7m-8 1h7m-7-4h7m-8 9h7m-8 9h7m-7-2h7m-7-18h7m-8 15h7m-8 6h7m-7-23h7m-8 16h7m-8-6h7m-8-3h7m-8 3h7m-8 6h7m-7-7h7m-8 3h7m-7-1h7m-8 1h7m-8-12h7m-8 6h7m-7-5h7m-8 19h7m-7-8h7m-7-7h7m-9 12h7m-9-7h7m-7-8h7m-7-2h7m-8 18h7m-8-13h7m-8 14h7m-7-17h7m-7-2h7m-8 2h7m-8 21h7m-7-1h7m-7-9h7m-8 6h7m-7-5h7m-7-6h7m-8 15h7m-7-21h7m-8 7h7m-8 13h7m-7-6h7m-7-10h7m-7-5h7m-8 23h7m-7-1h7m-7-8h7m-7-8h7m-8 13h7m-7-4h7m-7-14h7m-8 12h7m-7-4h7m-7-2h7m-8 11h7m-9-18h7m-8 12h7m-7-4h7m-13-4h7m-7-5h7m-8 20h7m-9 1h7m-10-20h7m-8 8h7m-12 13h7m-8-3h7m-7-9h7m-9 12h7m-10-16h7m-9 10h7m-12-14h7m-8 15h7m-9-17h7m-9 22h7m-13-4h7m-10 6h7m-11-23h7m-9 11h7m-10 3h7m-7-12h7m-7-1h7m-9 4h7m-8-5h7m-8 17h7m-8 6h7m-9-10h7m-14 9h7m-12-7h7m-10-15h7m-9 17h7m-12-15h7m-7-1h7m-9 13h7m-18-10h7m-9 9h7m-13 10h7m-13-16h7m-11-8h7m-15 19h7m5 18h7m10-2h7m-2-5h7m-1 14h7m-6-8h7m-6-6h7m-6 2h7m7-1h7m13 4h7m7 9h7m-3-10h7m-4 12h7m-6-18h7m-5 0h7m-4-1h7m-5 9h7m-6-5h7m8 3h7m-7 2h7m-5 5h7m-5-4h7m-7 5h7m-6-8h7m-7 11h7m-6-2h7m-6-14h7m-6 8h7m-6-9h7m-7 19h7m-6-18h7m-7 11h7m-7 1h7m-7 6h7m-6-22h7m-7 16h7m-7 1h7m-6-14h7m-7 8h7m-6 3h7m-6-7h7m-6-1h7m-7 13h7m-6-4h7m-6 3h7m-6 1h7m-6-7h7m-4-12h7m-7 4h7m-7 16h7m-7 0h7m-6-20h7m-7 12h7m-7 4h7m-7 4h7m-4 3h7m-6-7h7m-6-13h7m-7 1h7m-7 8h7m-5-7h7m-6-3h7m-6-2h7m-6 10h7m-7 3h7m-7 2h7m-4-2h7m-5-11h7m-7 4h7m-6 4h7m-6 3h7m-6-3h7m-7 10h7m-6-20h7m-7 3h7m-5 15h7m-6-12h7m-3 0h7m-7 2h7m-6-2h7m-7 17h7m-6-11h7m-7 1h7m-5 10h7m-6-23h7m-7 5h7m-7 14h7m-4 4h7m-3-22h7m-6 1h7m-5 8h7m-7 10h7m-5-8h7m-7 2h7m-6 9h7m-5-7h7m-4-16h7m-7 4h7m-6 5h7m-6-5h7m-7 14h7m-6 0h7m-5-14h7m-6 3h7m-6-3h7m-6 12h7m-6-13h7m-5-2h7m-4 19h7m-2 3h7m-5 1h7m-5-12h7m-3 4h7m-6 3h7m-6 1h7m-6-1h7m5-9h7m-6 12h7m0-10h7m-2-10h7m-3 5h7m-3 5h7m-5 2h7m-6-1h7m-6-12h7m-4 3h7m-4 10h7m-7 8h7m-6-15h7m-5 0h7m-3 11h7m-5-10h7m-6 8h7m-5 5h7m-6-19h7m-5 15h7m-6-15h7m-4 15h7m-5 3h7m-2-14h7m2 3h7m-6-5h7m-7 1h7m4 9h7m3 3h7m-4 2h7m-6-6h7m-2 8h7m-5-12h7m-4 3h7m-5 10h7m-5-5h7m-4-9h7m-5 0h7m-5-7h7m6 12h7m-2 1h7m-2 8h7m4 1h7m-2-8h7m-3-9h7m-7 9h7m-4 8h7m4-18h7m-4-5h7m-2 10h7m12 0h7m5 0h7m-5-2h7m-6-4h7m6 14h7m40-7h7m39-7h7m7 19h7m-1-10h7m-2-11h7m-6-1h7m60-1h7m21 3h7m-61 37h7m-9 5h7m-12-18h7m-29 13h7m-25-14h7m-104 6h7m-79-4h7m-10 19h7m-12-22h7m-8 3h7m-37 2h7m-23 12h7m-10-13h7m-14 3h7m-11-2h7m-11-5h7m-15 1h7m-18 17h7m-14-2h7m-10 3h7m-21-10h7m-9 9h7m-12-17h7m-14 7h7m-10 13h7m-11 2h7m-7-10h7m-14-4h7m-9-2h7m-8 10h7m-19-8h7m-8 3h7m-7-10h7m-8 8h7m-8 13h7m-10-17h7m-8 3h7m-10-8h7m-8 8h7m-7-8h7m-10 23h7m-9-21h7m-11-3h7m-16 6h7m-7-4h7m-9 15h7m-10-9h7m-12 2h7m-8 13h7m-7-13h7m-8 8h7m-7-12h7m-8-6h7m-9 22h7m-11-13h7m-8 4h7m-14 7h7m-8 4h7m-7-20h7m-11 9h7m-8-4h7m-8 12h7m-7-13h7m-10-1h7m-8 13h7m-7-9h7m-7-2h7m-9-4h7m-7-2h7m-7-2h7m-8 23h7m-8-4h7m-7-5h7m-9-8h7m-7-4h7m-8 10h7m-7-3h7m-8-6h7m-9-1h7m-7-2h7m-8 9h7m-11-6h7m-8 5h7m-7-3h7m-8-1h7m-7-5h7m-8 14h7m-8-2h7m-10 4h7m-9-9h7m-7-4h7m-9 8h7m-7-10h7m-8 15h7m-13-12h7m-8 9h7m-7-1h7m-8-3h7m-7-3h7m-8-2h7m-8-2h7m-8 9h7m-8-6h7m-7-3h7m-8 18h7m-7-9h7m-7-7h7m-7-3h7m-9-1h7m-9 20h7m-7-20h7m-9 14h7m-7-9h7m-8 4h7m-7-6h7m-8 20h7m-8-12h7m-7-9h7m-8 9h7m-10-6h7m-8 8h7m-7-2h7m-7-1h7m-17-10h7m-8 22h7m-7-5h7m-9 7h7m-12 0h7m-10-17h7m-20 3h7m-9-5h7m-21 1h7m-11 0h7m-8-5h7m-8 9h7m-17 3h7m-8-5h7m-14 5h7m-15 9h7m-18-3h7m-7-1h7m-37 24h7m13-8h7m8-2h7m10-2h7m6 6h7m7 4h7m-1-9h7m0 8h7m-4-13h7m-3 11h7m-6 1h7m-5-2h7m-5 11h7m-5-10h7m4-2h7m-2-6h7m-5 8h7m-5-6h7m-6-6h7m-7 4h7m-6 0h7m-7 4h7m-5-3h7m-6-1h7m-7 3h7m-6 2h7m-5-7h7m-4-1h7m-6 22h7m-6-6h7m-4-15h7m-7 6h7m-6 3h7m-6-3h7m-6 5h7m-5 3h7m-7 2h7m-6-1h7m0-14h7m-6 6h7m-7 3h7m-6 12h7m-2-22h7m-6 12h7m-6-11h7m-7 5h7m-6 14h7m-5-22h7m-7 8h7m-6-7h7m-7 4h7m-5 0h7m-1 14h7m-7 5h7m-5-22h7m-5 1h7m-2 20h7m-2-8h7m-5 1h7m-6-8h7m1 11h7m0-5h7m-7 4h7m-7 6h7m0-7h7m0-16h7m2 4h7m-5 5h7m-2-9h7m-2 4h7m-4 9h7m2-13h7m1 14h7m0-15h7m3 2h7m3 6h7m-7 15h7m2-9h7m-6-9h7m0-3h7m-5 14h7m-1-7h7m-7 1h7m8-2h7m-3-4h7m7-1h7m-3 4h7m4 1h7m3-6h7m-1 5h7m-3 12h7m-1-19h7m32 0h7m-7 16h7m25-14h7m-2 8h7m43-8h7m1-1h7m-4 4h7m91 4h7m5 15h7m12-5h7m-9 20h7m-50-13h7m-16 3h7m-150 19h7m-8-13h7m-76 9h7m-9-17h7m-61 16h7m-16 0h7m-8-17h7m-17 3h7m-13 0h7m-20-3h7m-8 22h7m-10-11h7m-9 3h7m-20 3h7m-14-18h7m-12 14h7m-9-5h7m-31 11h7m-35-18h7m-10 0h7m-10 1h7m-13 5h7m-12 12h7m-8-16h7m-8 1h7m-10-3h7m-10 1h7m-11 13h7m-14-15h7m-8 0h7m-21-1h7m-17 11h7m-13-5h7m-10 1h7m-13 12h7m-8-10h7m-8 6h7m-36 0h7m-19-5h7m-9 12h7m-24-13h7m-42-7h7m-13 8h7m-9-2h7m31 26h7m3-3h7m4 1h7m41 3h7m14-9h7m36-1h7m8 10h7m23-3h7m22-4h7m21 3h7m-2-1h7m1-4h7m29 0h7" stroke="#cc2414" stroke-width="8" stroke-opacity="0.5" fill="none"/>
</g>
<line x1="102.20" y1="765.90" x2="102.20" y2="834.10" stroke="#555" stroke-width="0.8" stroke-linecap="butt"/>
<line x1="69.80" y1="800.40" x2="142.80" y2="800.40" stroke="#555" stroke-width="0.8" stroke-linecap="butt"/>
<circle cx="94.60" cy="789.50" r="1.4" fill="#aaa" fill-opacity=".4" stroke="#666" stroke-width=".6"/>
<circle cx="109.40" cy="789.50" r="1.4" fill="#aaa" fill-opacity=".4" stroke="#666" stroke-width=".6"/>
<circle cx="94.40" cy="812.50" r="1.4" fill="#aaa" fill-opacity=".4" stroke="#666" stroke-width=".6"/>
<circle cx="109.20" cy="812.70" r="1.4" fill="#aaa" fill-opacity=".4" stroke="#666" stroke-width=".6"/>
<line x1="69.80" y1="765.90" x2="142.80" y2="765.90" stroke="#000" stroke-width="1.3" stroke-linecap="butt"/>
<line x1="142.80" y1="765.90" x2="142.80" y2="834.10" stroke="#000" stroke-width="1.1" stroke-linecap="butt"/>
<line x1="69.80" y1="765.30" x2="69.80" y2="834.70" stroke="#000" stroke-width="1.5" stroke-linecap="butt"/>
<line x1="69.10" y1="834.10" x2="143.30" y2="834.10" stroke="#000" stroke-width="1.5" stroke-linecap="butt"/>
<line x1="65.50" y1="772.20" x2="69.80" y2="772.20" stroke="#000" stroke-width="1.0" stroke-linecap="butt"/>
<text x="46.43" y="775.00" font-size="9.8" fill="#111">10<tspan dx="0.4" dy="-4.0" font-size="5.88">5</tspan></text>
<line x1="65.50" y1="787.50" x2="69.80" y2="787.50" stroke="#000" stroke-width="1.0" stroke-linecap="butt"/>
<text x="46.43" y="790.30" font-size="9.8" fill="#111">10<tspan dx="0.4" dy="-4.0" font-size="5.88">4</tspan></text>
<line x1="65.50" y1="803.60" x2="69.80" y2="803.60" stroke="#000" stroke-width="1.0" stroke-linecap="butt"/>
<text x="46.43" y="806.40" font-size="9.8" fill="#111">10<tspan dx="0.4" dy="-4.0" font-size="5.88">3</tspan></text>
<line x1="65.50" y1="821.00" x2="69.80" y2="821.00" stroke="#000" stroke-width="1.0" stroke-linecap="butt"/>
<text x="46.43" y="823.80" font-size="9.8" fill="#111">10<tspan dx="0.4" dy="-4.0" font-size="5.88">2</tspan></text>
<line x1="67.50" y1="815.76" x2="69.80" y2="815.76" stroke="#000" stroke-width="0.8" stroke-linecap="butt"/>
<line x1="67.50" y1="812.70" x2="69.80" y2="812.70" stroke="#000" stroke-width="0.8" stroke-linecap="butt"/>
<line x1="67.50" y1="810.52" x2="69.80" y2="810.52" stroke="#000" stroke-width="0.8" stroke-linecap="butt"/>
<line x1="67.50" y1="808.84" x2="69.80" y2="808.84" stroke="#000" stroke-width="0.8" stroke-linecap="butt"/>
<line x1="67.50" y1="807.46" x2="69.80" y2="807.46" stroke="#000" stroke-width="0.8" stroke-linecap="butt"/>
<line x1="67.50" y1="806.30" x2="69.80" y2="806.30" stroke="#000" stroke-width="0.8" stroke-linecap="butt"/>
<line x1="67.50" y1="805.29" x2="69.80" y2="805.29" stroke="#000" stroke-width="0.8" stroke-linecap="butt"/>
<line x1="67.50" y1="804.40" x2="69.80" y2="804.40" stroke="#000" stroke-width="0.8" stroke-linecap="butt"/>
<line x1="67.50" y1="798.75" x2="69.80" y2="798.75" stroke="#000" stroke-width="0.8" stroke-linecap="butt"/>
<line x1="67.50" y1="795.92" x2="69.80" y2="795.92" stroke="#000" stroke-width="0.8" stroke-linecap="butt"/>
<line x1="67.50" y1="793.91" x2="69.80" y2="793.91" stroke="#000" stroke-width="0.8" stroke-linecap="butt"/>
<line x1="67.50" y1="792.35" x2="69.80" y2="792.35" stroke="#000" stroke-width="0.8" stroke-linecap="butt"/>
<line x1="67.50" y1="791.07" x2="69.80" y2="791.07" stroke="#000" stroke-width="0.8" stroke-linecap="butt"/>
<line x1="67.50" y1="789.99" x2="69.80" y2="789.99" stroke="#000" stroke-width="0.8" stroke-linecap="butt"/>
<line x1="67.50" y1="789.06" x2="69.80" y2="789.06" stroke="#000" stroke-width="0.8" stroke-linecap="butt"/>
<line x1="67.50" y1="788.24" x2="69.80" y2="788.24" stroke="#000" stroke-width="0.8" stroke-linecap="butt"/>
<line x1="67.50" y1="782.89" x2="69.80" y2="782.89" stroke="#000" stroke-width="0.8" stroke-linecap="butt"/>
<line x1="67.50" y1="780.20" x2="69.80" y2="780.20" stroke="#000" stroke-width="0.8" stroke-linecap="butt"/>
<line x1="67.50" y1="778.29" x2="69.80" y2="778.29" stroke="#000" stroke-width="0.8" stroke-linecap="butt"/>
<line x1="67.50" y1="776.81" x2="69.80" y2="776.81" stroke="#000" stroke-width="0.8" stroke-linecap="butt"/>
<line x1="67.50" y1="775.59" x2="69.80" y2="775.59" stroke="#000" stroke-width="0.8" stroke-linecap="butt"/>
<line x1="67.50" y1="774.57" x2="69.80" y2="774.57" stroke="#000" stroke-width="0.8" stroke-linecap="butt"/>
<line x1="67.50" y1="773.68" x2="69.80" y2="773.68" stroke="#000" stroke-width="0.8" stroke-linecap="butt"/>
<line x1="67.50" y1="772.90" x2="69.80" y2="772.90" stroke="#000" stroke-width="0.8" stroke-linecap="butt"/>
<line x1="81.30" y1="834.10" x2="81.30" y2="838.00" stroke="#000" stroke-width="1.0" stroke-linecap="butt"/>
<text x="74.02" y="851.40" font-size="9.8" fill="#111">10<tspan dx="0.4" dy="-4.0" font-size="5.88">2</tspan></text>
<line x1="101.80" y1="834.10" x2="101.80" y2="838.00" stroke="#000" stroke-width="1.0" stroke-linecap="butt"/>
<text x="94.52" y="851.40" font-size="9.8" fill="#111">10<tspan dx="0.4" dy="-4.0" font-size="5.88">3</tspan></text>
<line x1="120.60" y1="834.10" x2="120.60" y2="838.00" stroke="#000" stroke-width="1.0" stroke-linecap="butt"/>
<text x="113.32" y="851.40" font-size="9.8" fill="#111">10<tspan dx="0.4" dy="-4.0" font-size="5.88">4</tspan></text>
<line x1="135.30" y1="834.10" x2="135.30" y2="838.00" stroke="#000" stroke-width="1.0" stroke-linecap="butt"/>
<text x="128.02" y="851.40" font-size="9.8" fill="#111">10<tspan dx="0.4" dy="-4.0" font-size="5.88">5</tspan></text>
<line x1="87.47" y1="834.10" x2="87.47" y2="836.40" stroke="#000" stroke-width="0.8" stroke-linecap="butt"/>
<line x1="91.08" y1="834.10" x2="91.08" y2="836.40" stroke="#000" stroke-width="0.8" stroke-linecap="butt"/>
<line x1="93.64" y1="834.10" x2="93.64" y2="836.40" stroke="#000" stroke-width="0.8" stroke-linecap="butt"/>
<line x1="95.63" y1="834.10" x2="95.63" y2="836.40" stroke="#000" stroke-width="0.8" stroke-linecap="butt"/>
<line x1="97.25" y1="834.10" x2="97.25" y2="836.40" stroke="#000" stroke-width="0.8" stroke-linecap="butt"/>
<line x1="98.62" y1="834.10" x2="98.62" y2="836.40" stroke="#000" stroke-width="0.8" stroke-linecap="butt"/>
<line x1="99.81" y1="834.10" x2="99.81" y2="836.40" stroke="#000" stroke-width="0.8" stroke-linecap="butt"/>
<line x1="100.86" y1="834.10" x2="100.86" y2="836.40" stroke="#000" stroke-width="0.8" stroke-linecap="butt"/>
<line x1="107.46" y1="834.10" x2="107.46" y2="836.40" stroke="#000" stroke-width="0.8" stroke-linecap="butt"/>
<line x1="110.77" y1="834.10" x2="110.77" y2="836.40" stroke="#000" stroke-width="0.8" stroke-linecap="butt"/>
<line x1="113.12" y1="834.10" x2="113.12" y2="836.40" stroke="#000" stroke-width="0.8" stroke-linecap="butt"/>
<line x1="114.94" y1="834.10" x2="114.94" y2="836.40" stroke="#000" stroke-width="0.8" stroke-linecap="butt"/>
<line x1="116.43" y1="834.10" x2="116.43" y2="836.40" stroke="#000" stroke-width="0.8" stroke-linecap="butt"/>
<line x1="117.69" y1="834.10" x2="117.69" y2="836.40" stroke="#000" stroke-width="0.8" stroke-linecap="butt"/>
<line x1="118.78" y1="834.10" x2="118.78" y2="836.40" stroke="#000" stroke-width="0.8" stroke-linecap="butt"/>
<line x1="119.74" y1="834.10" x2="119.74" y2="836.40" stroke="#000" stroke-width="0.8" stroke-linecap="butt"/>
<line x1="125.03" y1="834.10" x2="125.03" y2="836.40" stroke="#000" stroke-width="0.8" stroke-linecap="butt"/>
<line x1="127.61" y1="834.10" x2="127.61" y2="836.40" stroke="#000" stroke-width="0.8" stroke-linecap="butt"/>
<line x1="129.45" y1="834.10" x2="129.45" y2="836.40" stroke="#000" stroke-width="0.8" stroke-linecap="butt"/>
<line x1="130.87" y1="834.10" x2="130.87" y2="836.40" stroke="#000" stroke-width="0.8" stroke-linecap="butt"/>
<line x1="132.04" y1="834.10" x2="132.04" y2="836.40" stroke="#000" stroke-width="0.8" stroke-linecap="butt"/>
<line x1="133.02" y1="834.10" x2="133.02" y2="836.40" stroke="#000" stroke-width="0.8" stroke-linecap="butt"/>
<line x1="133.88" y1="834.10" x2="133.88" y2="836.40" stroke="#000" stroke-width="0.8" stroke-linecap="butt"/>
<line x1="134.63" y1="834.10" x2="134.63" y2="836.40" stroke="#000" stroke-width="0.8" stroke-linecap="butt"/>
<line x1="72.00" y1="834.10" x2="72.00" y2="836.40" stroke="#000" stroke-width="0.8" stroke-linecap="butt"/>
<line x1="74.00" y1="834.10" x2="74.00" y2="836.40" stroke="#000" stroke-width="0.8" stroke-linecap="butt"/>
<line x1="76.00" y1="834.10" x2="76.00" y2="836.40" stroke="#000" stroke-width="0.8" stroke-linecap="butt"/>
<text x="70.60" y="773.80" font-size="10.0" text-anchor="start" fill="#000" >DMSO</text>
<text x="142.30" y="773.80" font-size="10.0" text-anchor="end" fill="#000" >0.3±</text>
<text x="142.30" y="785.00" font-size="10.0" text-anchor="end" fill="#000" >0.1%</text>
<text x="142.30" y="832.70" font-size="10.0" text-anchor="end" fill="#000" >5.1±0.3%</text>
<g clip-path="url(#c2)">
<ellipse cx="180.8" cy="819.9" rx="5.9" ry="6.8" fill="#c8200f" fill-opacity="1" filter="url(#b1)"/>
<ellipse cx="187.5" cy="820.5" rx="6" ry="6.5" fill="#c8200f" fill-opacity="0.5" filter="url(#b15)"/>
<path transform="scale(.1)" d="M1977 7706h7m148-2h7m3 16h7m112-19h7m117 5h7m-367 20h7m-268 6h7m452 32h7m157-6h7m-5 38h7m-362 13h7m338 30h7m-81-1h7m-57 9h7m-91 1h7m-421 26h7m352-2h7m-6-16h7m21 10h7m-6-6h7m-5 1h7m16 2h7m18-1h7m-2 5h7m25-2h7m26-9h7m8 16h7m5-6h7m43-11h7m14 4h7m-4 5h7m-6-2h7m27 5h7m23 23h7m-28-4h7m-44-9h7m-19 19h7m-11-8h7m-7-7h7m-17 15h7m-13-20h7m-14 16h7m-10-13h7m-29 14h7m-9-13h7m-33-5h7m-15 16h7m-15-11h7m-14 17h7m-34-20h7m-19 6h7m-8 12h7m-25-5h7m-12-1h7m-7-6h7m-9 5h7m-13-12h7m-9 19h7m-13-3h7m-7-12h7m-8 6h7m-9 2h7m-20 4h7m-13-11h7m-9-5h7m-20 18h7m-21 4h7m-7-2h7m-12-1h7m-23-3h7m-8 4h7m-9-1h7m-19-19h7m-10 1h7m-15 18h7m-10 0h7m-10-10h7m-10 13h7m-36-5h7m-155 8h7m131 21h7m-2-18h7m19-3h7m-5 22h7m10-15h7m-1 9h7m6-1h7m7-1h7m-3-9h7m1-1h7m11 14h7m6 5h7m-1-8h7m8-16h7m21 9h7m1-1h7m12 13h7m8-19h7m13 7h7m-5 13h7m-5-12h7m-4 12h7m-5-15h7m-7 13h7m-5-5h7m1 9h7m0-23h7m7 20h7m-3 3h7m-1-22h7m15 9h7m40-7h7m9 2h7m-6 25h7m-92 17h7m-35-9h7m-12-9h7m-64-1h7m-13-3h7m-42 2h7m-16 9h7m-25-9h7m-43 12h7m-7-6h7m-16-6h7m-30 12h7m-17 7h7m-18-20h7m-144 29h7m53 5h7m51-8h7m23 4h7m183-3h7m4 10h7m-5-12h7m136 13h7m-35 27h7m-21-9h7m-21 6h7m-23-6h7m-16 16h7m-9-16h7m-21 12h7m-20 4h7m-11-15h7m-233 7h7m-40-10h7m-28 2h7m-44 25h7m130 2h7m62 13h7m11-14h7m6-8h7m14 17h7m6-3h7m-5 9h7m12-14h7m2-2h7m-1 11h7m17-1h7m0-10h7m-7 12h7m1-15h7m-1 6h7m21 9h7m-6-6h7m4 1h7m2-12h7m25-2h7m2 21h7m-7 20h7m-22-6h7m-9 1h7m-21-1h7m-7 0h7m-9 6h7m-13-1h7m-29-11h7m-12 4h7m-16 14h7m-10-1h7m-10-7h7m-17-11h7m-26 20h7m-20-23h7m-13 0h7m-13 5h7m-13-3h7m-17 16h7m-14 4h7m-14 1h7m-8-7h7m-16-13h7m-30 17h7m-13-9h7m-10-12h7m-22 19h7m-17 4h7m-8-14h7m-22 12h7m-12 3h7m-8-16h7m-32 12h7m-88-11h7m-100 12h7m-180 26h7m26 2h7m-2-14h7m33 9h7m45-11h7m16-2h7m29-6h7m47 24h7m38-16h7m-7 13h7m5-4h7m22 1h7m-4 4h7m-6-21h7m-4 9h7m1 11h7m13-15h7m-7 16h7m-3-22h7m0 1h7m13 7h7m-6 11h7m27-16h7m0 20h7m-6-15h7m-5 8h7m-6-2h7m-4 0h7m-6-10h7m3 16h7m2-5h7m20 4h7m6 1h7m-3-14h7m-7 15h7m-4-15h7m-5 7h7m-6-5h7m-3 15h7m-6-15h7m-2 13h7m-6-11h7m-4-5h7m-5-5h7m1 5h7m24 10h7m31 0h7m4-11h7m0 1h7m-4 31h7m-24-7h7m-10-4h7m-16 11h7m-19 9h7m-11-10h7m-13 5h7m-10-4h7m-7-7h7m-14-3h7m-14 11h7m-7-10h7m-29 12h7m-12-1h7m-15 0h7m-15 11h7m-7-9h7m-9 1h7m-8-3h7m-10-3h7m-14-3h7m-12 16h7m-7-8h7m-8-4h7m-8 12h7m-11-21h7m-9-1h7m-30 23h7m-11-10h7m-7-1h7m-7-8h7m-8-3h7m-9 0h7m-13 10h7m-15-9h7m-10 6h7m-10-9h7m-8 20h7m-9 0h7m-7-14h7m-20-1h7m-14 11h7m-14 4h7m-19-1h7m-8-2h7m-17-8h7m-29 1h7m-10 11h7m-9-10h7m-10 4h7m-11-6h7m-14 4h7m-17 3h7m-13-10h7m-18 13h7m-28-9h7m-17 14h7m-9 0h7m-9-10h7m-36 4h7m-22-4h7m-7-1h7m-19 9h7m-21 1h7m-51-10h7m-28 2h7m-23 3h7m-15 5h7m-35-23h7m-9 1h7m-26 6h7m-13 10h7m-8 4h7m-21-1h7m-9-13h7m-12 9h7m-11 5h7m-8-8h7m-13 11h7m-11-3h7m-30-15h7m-30 14h7m-32-8h7m-61-10h7m-9 29h7m62 2h7m-6 16h7m0-6h7m-4-10h7m-6 14h7m9-20h7m9 0h7m3 4h7m0 18h7m-4-12h7m-5-6h7m-7 0h7m-7 15h7m-5-3h7m-6-3h7m-7 1h7m1 0h7m-7 6h7m-6-2h7m-6-11h7m-7 14h7m4-17h7m2 16h7m-6-14h7m-3 16h7m-2-1h7m-6-2h7m-4-21h7m-7 21h7m-6-17h7m6 20h7m-3-12h7m-3 0h7m-3 3h7m-7 2h7m13-8h7m-4 14h7m-4-6h7m2 3h7m22 4h7m-3-3h7m-5-7h7m8-8h7m1-5h7m-7 16h7m-6 5h7m0-6h7m24-14h7m-6 15h7m-3-2h7m2 1h7m-7 2h7m-6-8h7m-6 3h7m0 9h7m6-7h7m2-7h7m-7 0h7m3 6h7m0-13h7m-7 23h7m-7 0h7m-3-21h7m-4 7h7m-6-4h7m3-6h7m0 12h7m-3 0h7m-4 2h7m-2 10h7m-1-18h7m1 16h7m-2-1h7m-5-17h7m-6 13h7m-1-7h7m-3-6h7m-5 2h7m-6-3h7m5 4h7m-4 16h7m-4-17h7m6 10h7m-6-5h7m-4 4h7m-5 6h7m-2-15h7m-7 7h7m-5 8h7m4-17h7m-5 15h7m0-11h7m-4 9h7m-5-16h7m-7 21h7m2-18h7m-5 10h7m-5-10h7m-5 19h7m11-21h7m2 2h7m-6 5h7m-6 1h7m8-5h7m-3 8h7m-5-2h7m-5-8h7m4 7h7m-4 12h7m-4-15h7m15 6h7m-2 5h7m12-6h7m3-12h7m8 14h7m-9 17h7m-11 11h7m-24-4h7m-12-4h7m-11-3h7m-8 0h7m-21-1h7m-13 4h7m-11-9h7m-18 2h7m-15 13h7m-15 9h7m-7-15h7m-8-1h7m-9-7h7m-8 15h7m-12 0h7m-8-1h7m-14-2h7m-9-1h7m-8 9h7m-8-17h7m-8 14h7m-11-16h7m-9 3h7m-27 9h7m-8-9h7m-10-3h7m-8 4h7m-15 12h7m-7-5h7m-12-3h7m-10 3h7m-8 8h7m-9-13h7m-8 5h7m-9-1h7m-9 9h7m-7-8h7m-8 3h7m-13-7h7m-11 4h7m-14 6h7m-10 2h7m-10-3h7m-15-16h7m-20 14h7m-13-13h7m-7-2h7m-9 1h7m-10 18h7m-8-8h7m-11 3h7m-8 3h7m-7-4h7m-7-14h7m-10 2h7m-10 15h7m-10-10h7m-18 17h7m-7-7h7m-16-1h7m-9-12h7m-9 10h7m-7-8h7m-10 12h7m-9-14h7m-8 1h7m-13 6h7m-7-3h7m-18-3h7m-10 3h7m-13 8h7m-11-9h7m-9 9h7m-7-13h7m-7-1h7m-11-2h7m-11 14h7m-7-12h7m-8 7h7m-12 3h7m-11 11h7m-11-4h7m-8 1h7m-10 2h7m-8-16h7m-7-5h7m-14 21h7m-11-22h7m-11 15h7m-7-5h7m-12 11h7m-10-11h7m-13-7h7m-9 0h7m-9-1h7m-10 0h7m-18 4h7m-12 10h7m-8-6h7m-7-9h7m-9 0h7m-9 23h7m-9-10h7m-11 3h7m-7-14h7m-15 1h7m-10 5h7m-9 8h7m-14 2h7m-10-6h7m-27-1h7m-10-6h7m-7-1h7m-8 19h7m-8-11h7m-11-2h7m-11 8h7m-17-18h7m-14 23h7m-9-8h7m-12-5h7m-11-5h7m-9 10h7m-8-2h7m-14-6h7m-8 16h7m-7-15h7m-8 13h7m-8-10h7m-10 1h7m-9 8h7m-20-17h7m-11 12h7m-14-1h7m-11-5h7m-10-9h7m-9 11h7m-8 12h7m-8-16h7m-10 16h7m-9-17h7m-7-5h7m-9 4h7m-10 10h7m-16-7h7m-9 8h7m-14-4h7m-8 10h7m-7-7h7m-7-12h7m-8 19h7m-7-13h7m-9 6h7m-7-4h7m-7-4h7m-12 14h7m-7-21h7m-8 7h7m-9-4h7m-8 20h7m-10-2h7m-8-14h7m-7-8h7m-9 22h7m-7-4h7m-10-4h7m-7-6h7m-12-8h7m-12 12h7m-14 10h7m-8-9h7m-8-5h7m-12-5h7m-9 7h7m-14-2h7m-12 14h7m-9-8h7m-9-6h7m-13 16h7m-7-8h7m-12-4h7m-10-1h7m-21-3h7m-10 10h7m-16-17h7m-25 12h7m-9-13h7m-15 43h7m-1-12h7m-7 13h7m-3-3h7m0-4h7m-1 1h7m-7 3h7m-6 8h7m-6-4h7m-4-6h7m-5-4h7m-7 12h7m0-5h7m0-12h7m1 1h7m-4 12h7m-3-14h7m-7 14h7m-5 6h7m-6-10h7m-5-14h7m-4 3h7m-5 0h7m-6 15h7m-5-15h7m-7 21h7m4-21h7m0 21h7m6-19h7m-7 16h7m-1-20h7m-7 10h7m-7 5h7m-7 1h7m-6-16h7m-6 22h7m-6-3h7m-6-1h7m-6-4h7m-6-12h7m-7 6h7m-6 7h7m-5-3h7m-7 4h7m-7 1h7m-7 5h7m-6 1h7m-6-22h7m-7 14h7m-6-7h7m-7 2h7m-7 5h7m-7 3h7m-6 1h7m-7 1h7m-7 1h7m-6-14h7m-7 8h7m-7 7h7m-6-23h7m-5 0h7m-7 4h7m-6 10h7m-7 6h7m-6-5h7m-7 6h7m-6-10h7m-7 11h7m-5-6h7m-6 2h7m-3 3h7m-5-17h7m-6-1h7m-7 2h7m-7 1h7m-7 18h7m-7 0h7m-6-24h7m-7 17h7m-5 4h7m-6-16h7m-7 10h7m-5-7h7m-6 10h7m-3-10h7m-7 11h7m-7 5h7m-6-2h7m-6-4h7m-3-6h7m-5-7h7m-7 12h7m-7 5h7m-5-10h7m-6 5h7m-3-7h7m-6-5h7m-7 17h7m-5-9h7m-7 11h7m-6-21h7m-6 16h7m-3-18h7m-2 17h7m-7 4h7m-6-10h7m-6 7h7m-5 4h7m-1 0h7m-1-10h7m-1 1h7m-6-7h7m3 10h7m-4-7h7m-7 5h7m-5 2h7m-6-5h7m-2 12h7m-6-2h7m-6-7h7m-3-14h7m-7 13h7m-5 3h7m-5 7h7m0-4h7m0-15h7m-5 7h7m-6-10h7m-7 3h7m-6 4h7m-2 5h7m2-13h7m-7 9h7m-7 14h7m-4-2h7m0-9h7m-7 7h7m-5 4h7m-2-1h7m-5-15h7m-4-4h7m2 16h7m-4-14h7m-7 16h7m2-10h7m10-7h7m-7 11h7m0-8h7m-1 4h7m-4 2h7m-1-8h7m-5 18h7m3-21h7m-7 10h7m-5-5h7m-6 2h7m-6 3h7m-6-12h7m-6 1h7m-2 8h7m-6 14h7m-5-23h7m-7 4h7m-7 3h7m-7 14h7m-5-10h7m-1 5h7m-6-1h7m-3 4h7m1-18h7m-5 12h7m-3 9h7m-6-16h7m-5 13h7m-4-19h7m-2 3h7m-2 2h7m-4-2h7m3 2h7m-2-2h7m-7 7h7m-4-10h7m6 21h7m-3-8h7m-4-12h7m6 7h7m-3 11h7m-3-19h7m-6 15h7m-6-7h7m-5 8h7m-6-6h7m-2 1h7m-3-1h7m-5 11h7m-1-4h7m-5-16h7m-5 9h7m-1-8h7m-7 8h7m-7 11h7m-5-7h7m-3-10h7m-4 17h7m-4-20h7m-3 16h7m-6 2h7m1-11h7m-1 6h7m-5-6h7m5-6h7m-7 5h7m5 8h7m-6-7h7m6 8h7m-4-10h7m1 4h7m-6-10h7m-3 1h7m-1 22h7m1-21h7m-5 12h7m4-8h7m-1 9h7m-1-5h7m6 3h7m0 2h7m12 2h7m-9 8h7m-41 15h7m-21-5h7m-33-4h7m-8 0h7m-27-5h7m-26 15h7m-9-3h7m-17 1h7m-19 5h7m-19-20h7m-16 4h7m-12-2h7m-23 6h7m-20 4h7m-9 6h7m-23-1h7m-13-2h7m-7-8h7m-7-1h7m-18 13h7m-8-10h7m-11 3h7m-7-1h7m-9-8h7m-14-3h7m-9 8h7m-8-2h7m-10 3h7m-8 15h7m-7-4h7m-8 0h7m-13 2h7m-8-7h7m-16 1h7m-8 1h7m-7-15h7m-11 11h7m-8 5h7m-9 0h7m-7-9h7m-9 9h7m-8-5h7m-7-3h7m-7-6h7m-18 18h7m-7-8h7m-9-3h7m-14 7h7m-8-7h7m-12-1h7m-7-8h7m-8 6h7m-9-2h7m-7-1h7m-15 8h7m-10-6h7m-10 9h7m-13 7h7m-11-22h7m-9 6h7m-10 16h7m-8-19h7m-11-4h7m-9 21h7m-8-4h7m-7-16h7m-8 3h7m-16 13h7m-7-10h7m-8 15h7m-7-13h7m-23 0h7m-9 15h7m-12-13h7m-8 2h7m-9-5h7m-8-2h7m-7-1h7m-9 3h7m-10 13h7m-7-2h7m-9-10h7m-11 12h7m-7-10h7m-9-8h7m-8 9h7m-10-12h7m-18 10h7m-7-7h7m-7-3h7m-11 7h7m-11 6h7m-7-5h7m-8 1h7m-10-7h7m-9 9h7m-10-5h7m-8 17h7m-8-13h7m-8 8h7m-7-16h7m-8 22h7m-7-13h7m-9 7h7m-8 1h7m-8 3h7m-12-7h7m-7-1h7m-8 8h7m-7-21h7m-8 17h7m-8 1h7m-7-6h7m-8-13h7m-11 18h7m-9-15h7m-9 9h7m-12 9h7m-7-15h7m-10 6h7m-8-8h7m-11 7h7m-9-4h7m-9 3h7m-9 9h7m-8-7h7m-7-10h7m-10 12h7m-7-2h7m-11 8h7m-10-3h7m-10-14h7m-8 14h7m-8-12h7m-7 0h7m-8 0h7m-12-3h7m-8 0h7m-8 17h7m-7-9h7m-7-2h7m-7-7h7m-8 22h7m-7-20h7m-8 5h7m-7-2h7m-8 0h7m-7-3h7m-9 10h7m-8-5h7m-9 14h7m-8-1h7m-9-1h7m-7-16h7m-8 11h7m-8 6h7m-8-5h7m-7-5h7m-8 11h7m-7-1h7m-7-5h7m-8 7h7m-8-19h7m-8 16h7m-7-15h7m-9 5h7m-9 12h7m-11-14h7m-7-1h7m-7-7h7m-8 9h7m-8 0h7m-8 11h7m-12-9h7m-10 9h7m-7-2h7m-7-3h7m-8-8h7m-7-7h7m-9 24h7m-8-22h7m-9 17h7m-7-12h7m-8-6h7m-8 3h7m-8 19h7m-7-2h7m-9 3h7m-7-15h7m-8 11h7m-7-8h7m-7-2h7m-8 5h7m-8-11h7m-8 15h7m-9 4h7m-8-5h7m-8 0h7m-7-1h7m-8-1h7m-9-16h7m-8 12h7m-8 6h7m-7-13h7m-9 13h7m-7-10h7m-7-8h7m-8 19h7m-8-5h7m-8 1h7m-7-4h7m-7-1h7m-9 5h7m-7-4h7m-8 10h7m-9-20h7m-7 0h7m-12 22h7m-8 1h7m-8-2h7m-7-13h7m-10 4h7m-9-3h7m-10 4h7m-10-4h7m-8 11h7m-9-21h7m-8 20h7m-14-2h7m-17-7h7m-14 7h7m-16-12h7m-9 15h7m-10-16h7m-8 3h7m-15 15h7m-8-6h7m-10-5h7m-10 9h7m-8-1h7m-17-12h7m-10 0h7m-8 4h7m-15 1h7m-16 2h7m-7 0h7m-19-13h7m-19-1h7m6 42h7m-5-16h7m-4 3h7m-6 2h7m-7 8h7m17-12h7m8-1h7m-7 6h7m-5 6h7m-4-9h7m-3 14h7m-5-2h7m-3 4h7m-2-12h7m-3-5h7m-5 13h7m-5-12h7m-5-1h7m11 14h7m-5-1h7m-7 2h7m-2-5h7m-5 1h7m-7 7h7m-4-22h7m-5 4h7m-5 18h7m-3-14h7m-6 14h7m0-6h7m-7 6h7m-6-6h7m-7 4h7m-6-12h7m-7 12h7m-4-17h7m-7 6h7m-6-6h7m-7 2h7m-7 8h7m-7 1h7m-6 7h7m-7 0h7m-6-20h7m-7 18h7m-7 1h7m-7 3h7m-6-11h7m-6-8h7m-6 3h7m-6-2h7m-5 16h7m-6-15h7m-6 3h7m-7 6h7m-5-14h7m-7 13h7m-7 9h7m-6-10h7m-6 4h7m-6-8h7m-7 1h7m-7 1h7m-6-10h7m-7 1h7m-7 6h7m-7 2h7m-7 11h7m-7 3h7m-5-15h7m-7 10h7m-5-2h7m-7 2h7m-6 2h7m-5-19h7m-7 22h7m-6-17h7m-5-2h7m-7 15h7m-6-4h7m-6-5h7m-5 3h7m-7 10h7m-6-16h7m-7 2h7m-7 9h7m-6-2h7m-5-8h7m-6 3h7m-6 1h7m-7 5h7m-6-10h7m-6-4h7m-6 8h7m-6-3h7m-7 5h7m0-7h7m-7 5h7m-7 8h7m-6-15h7m-7 8h7m-7 11h7m-6-9h7m-3-2h7m-5 6h7m-7 1h7m-5-15h7m-6 16h7m-6-13h7m-7 9h7m-6 4h7m-2-14h7m-7 8h7m-6-2h7m-5-7h7m-6 2h7m-6-2h7m-7 7h7m-5-12h7m-7 2h7m-3 0h7m-6 11h7m-6-2h7m-6-10h7m-7 2h7m-6-4h7m-7 7h7m-7 6h7m-7 5h7m-7 3h7m-6-1h7m-4-17h7m-5 2h7m-7 16h7m-5-7h7m-7 1h7m-6-4h7m-4-9h7m-2 0h7m-3 4h7m-6-2h7m-7 1h7m-5 13h7m-2-7h7m-5-3h7m-6 3h7m-3 1h7m-5-10h7m-7 0h7m-7 9h7m-7 12h7m-4-19h7m-7 11h7m-7 7h7m-5-13h7m-6 11h7m-7 4h7m-4-17h7m-4 11h7m-6 1h7m-2-16h7m-6 0h7m-7 20h7m-5-19h7m-6-4h7m-7 9h7m-5-5h7m-7 1h7m-6-1h7m-6 5h7m-4-1h7m-4-7h7m-7 16h7m-7 2h7m-6-19h7m5 1h7m-5 11h7m-5 0h7m-6 7h7m-6-10h7m-5 14h7m-4-4h7m-3 3h7m-5-15h7m-3-7h7m-3 15h7m-7 3h7m-6-9h7m-2 8h7m-5-7h7m-7 3h7m-7 5h7m-2-7h7m-5 0h7m-6 10h7m-2-16h7m1 13h7m-6-9h7m8-8h7m-7 15h7m-4 7h7m-6-10h7m-6 0h7m-5-8h7m5 15h7m-6-7h7m-4-11h7m-7 9h7m-7 10h7m-7 3h7m-5-8h7m-7 3h7m-5 0h7m-3-3h7m-4 8h7m-3-6h7m0-3h7m1-12h7m17 8h7m1 13h7m11-13h7m2-2h7m11-2h7m-7 3h7m-5 9h7m4 3h7m8-16h7m7 4h7m4-7h7m21 20h7m4-23h7m9 9h7m40-4h7m4 5h7m-2 20h7m-59 14h7m-119-1h7m-21-4h7m-31 2h7m-24-4h7m-12-3h7m-48-2h7m-9 16h7m-7-7h7m-22 8h7m-11-7h7m-7-16h7m-10 2h7m-18 16h7m-9-1h7m-8-15h7m-9 4h7m-25-1h7m-20-1h7m-8 19h7m-10-22h7m-13 18h7m-8-4h7m-7-15h7m-15 16h7m-8 1h7m-8-4h7m-9-3h7m-10 0h7m-12-7h7m-9 17h7m-7-17h7m-10-4h7m-8 9h7m-8 0h7m-7-2h7m-7-5h7m-10 15h7m-7-9h7m-9-6h7m-13 12h7m-8 6h7m-11-2h7m-15 2h7m-9-11h7m-9 11h7m-11-1h7m-7-1h7m-15-18h7m-8 11h7m-8 9h7m-9-13h7m-11 5h7m-10 9h7m-7-18h7m-8 17h7m-8-14h7m-8 18h7m-9-11h7m-7-1h7m-8 8h7m-7-9h7m-11 6h7m-7-9h7m-18 13h7m-7-7h7m-9-2h7m-8-7h7m-10 4h7m-10 14h7m-10-8h7m-7-1h7m-8-2h7m-8 12h7m-7-1h7m-8-22h7m-8 3h7m-8 10h7m-7-7h7m-9 14h7m-8-7h7m-8-3h7m-9-3h7m-8 11h7m-10-5h7m-10 0h7m-8 1h7m-7-8h7m-7-3h7m-8 13h7m-8-14h7m-9 9h7m-8-11h7m-10 23h7m-8-7h7m-13-5h7m-10 12h7m-7-8h7m-8 1h7m-7 0h7m-7-4h7m-10-4h7m-8 6h7m-7-8h7m-8 1h7m-7 0h7m-8 11h7m-7-4h7m-7-12h7m-8 21h7m-7-3h7m-7-10h7m-9 11h7m-9-3h7m-7-11h7m-9-3h7m-8 5h7m-8 0h7m-8 13h7m-7-13h7m-7-5h7m-9 18h7m-8-13h7m-8 3h7m-7-9h7m-8 17h7m-7-17h7m-11 11h7m-7-13h7m-9 5h7m-8 5h7m-9 11h7m-8-11h7m-8 10h7m-7-9h7m-7-6h7m-7-5h7m-8 14h7m-7 0h7m-7-11h7m-7-3h7m-8 17h7m-7-18h7m-8 14h7m-9 4h7m-7-17h7m-10 4h7m-7-5h7m-8 5h7m-11 1h7m-7-3h7m-14 15h7m-13-3h7m-8 3h7m-16-1h7m-13 3h7m-8-9h7m-8-6h7m-9 0h7m-14 15h7m-14-15h7m-12 13h7m-7-11h7m-12 4h7m-13 8h7m-8-7h7m-9 4h7m-8-13h7m-9 20h7m-10-11h7m-7-11h7m-10 14h7m-8-16h7m-10 18h7m-8-4h7m-9-14h7m-9 11h7m-10-5h7m-17 0h7m-8 4h7m-14-10h7m-15 16h7m-15-6h7m-16-2h7m-5 39h7m33-11h7m12-6h7m0 3h7m-3-7h7m3 20h7m3-18h7m-3 7h7m-7 2h7m-5 4h7m16 3h7m-2-17h7m-3-2h7m-7 23h7m-6-12h7m-6-6h7m-7 10h7m-6-7h7m-5 10h7m-3-16h7m-5 18h7m-6-12h7m-7 16h7m0-11h7m-3-8h7m-7 17h7m-7 0h7m-6-21h7m-7 0h7m-6 3h7m-7 11h7m-6-6h7m-6 14h7m-6-19h7m-4 5h7m-7 8h7m-3-12h7m-7 4h7m-7 0h7m-6 1h7m-7 5h7m-4 8h7m-6-10h7m-2 7h7m-5-4h7m-6-5h7m-5 13h7m-2-20h7m-7 5h7m-6-3h7m-7 6h7m-5 10h7m-2-15h7m-5 5h7m-6-3h7m-3-2h7m-7 8h7m-5 0h7m-5-15h7m-7 1h7m-5 8h7m-7 1h7m-5 12h7m-5 2h7m-5-8h7m2-10h7m-6 16h7m-5-13h7m-6-2h7m-4 4h7m-4 2h7m-1-7h7m-6 15h7m-5-8h7m-5 7h7m-4-6h7m-7 2h7m-7 3h7m-1-18h7m-7 16h7m-3 4h7m-4-1h7m-4-18h7m-6 17h7m-1-2h7m-5-8h7m4-7h7m-7 0h7m-3 1h7m-1 2h7m-7 15h7m-5-20h7m-6 15h7m-1 8h7m-5-22h7m-3 5h7m-3 2h7m-2-2h7m5-2h7m3 2h7m-7 17h7m8-22h7m-5 3h7m-6 8h7m-5-10h7m-6 10h7m-7 12h7m14-10h7m-6-12h7m-7 10h7m-4-2h7m-6-6h7m9 14h7m-7 6h7m-6-16h7m-7 10h7m1-16h7m3 13h7m-5 3h7m35-16h7m-6 19h7m-7 3h7m7-15h7m5 11h7m-1-6h7m33 1h7m5-12h7m25-1h7m56 8h7m-7 18h7m-124 9h7m-16-12h7m-26 14h7m-92-8h7m-35-4h7m-55 2h7m-12 5h7m-38 15h7m-16-5h7m-20 4h7m-9-12h7m-17-5h7m-14 1h7m-22-7h7m-13 3h7m-14 18h7m-19-18h7m-14 14h7m-7-11h7m-8 2h7m-15 0h7m-10 2h7m-19-8h7m-8 6h7m-16-4h7m-10 12h7m-10-16h7m-18 24h7m-11-11h7m-12-5h7m-8 16h7m-13-6h7m-7-10h7m-11 8h7m-9-8h7m-16 11h7m-7-6h7m-11-8h7m-8 2h7m-35-6h7m-39 23h7m-8-23h7m-10 13h7m-18-13h7m-9 9h7m-19 2h7m-17 3h7m-13 5h7m14 29h7m3-9h7m33-15h7m38 16h7m1 2h7m-2-12h7m-3 3h7m-6-8h7m1 18h7m16-14h7m2 17h7m10-18h7m0 14h7m3-5h7m41-6h7m-5 14h7m83-19h7m65 25h7m-193-2h7m-98 1h7m-8 5h7m-40 2h7m-73-5h7" stroke="#cc2414" stroke-width="8" stroke-opacity="0.5" fill="none"/>
</g>
<line x1="200.70" y1="766.00" x2="200.70" y2="834.30" stroke="#555" stroke-width="0.8" stroke-linecap="butt"/>
<line x1="170.90" y1="800.70" x2="245.20" y2="800.70" stroke="#555" stroke-width="0.8" stroke-linecap="butt"/>
<circle cx="192.10" cy="789.80" r="1.4" fill="#aaa" fill-opacity=".4" stroke="#666" stroke-width=".6"/>
<circle cx="206.90" cy="789.80" r="1.4" fill="#aaa" fill-opacity=".4" stroke="#666" stroke-width=".6"/>
<circle cx="191.90" cy="812.80" r="1.4" fill="#aaa" fill-opacity=".4" stroke="#666" stroke-width=".6"/>
<circle cx="206.70" cy="813.00" r="1.4" fill="#aaa" fill-opacity=".4" stroke="#666" stroke-width=".6"/>
<line x1="170.90" y1="766.00" x2="245.20" y2="766.00" stroke="#000" stroke-width="1.3" stroke-linecap="butt"/>
<line x1="245.20" y1="766.00" x2="245.20" y2="834.30" stroke="#000" stroke-width="1.1" stroke-linecap="butt"/>
<line x1="170.90" y1="765.40" x2="170.90" y2="834.90" stroke="#000" stroke-width="1.5" stroke-linecap="butt"/>
<line x1="170.20" y1="834.30" x2="245.70" y2="834.30" stroke="#000" stroke-width="1.5" stroke-linecap="butt"/>
<line x1="166.60" y1="772.20" x2="170.90" y2="772.20" stroke="#000" stroke-width="1.0" stroke-linecap="butt"/>
<text x="147.53" y="775.00" font-size="9.8" fill="#111">10<tspan dx="0.4" dy="-4.0" font-size="5.88">5</tspan></text>
<line x1="166.60" y1="787.50" x2="170.90" y2="787.50" stroke="#000" stroke-width="1.0" stroke-linecap="butt"/>
<text x="147.53" y="790.30" font-size="9.8" fill="#111">10<tspan dx="0.4" dy="-4.0" font-size="5.88">4</tspan></text>
<line x1="166.60" y1="803.60" x2="170.90" y2="803.60" stroke="#000" stroke-width="1.0" stroke-linecap="butt"/>
<text x="147.53" y="806.40" font-size="9.8" fill="#111">10<tspan dx="0.4" dy="-4.0" font-size="5.88">3</tspan></text>
<line x1="166.60" y1="821.00" x2="170.90" y2="821.00" stroke="#000" stroke-width="1.0" stroke-linecap="butt"/>
<text x="147.53" y="823.80" font-size="9.8" fill="#111">10<tspan dx="0.4" dy="-4.0" font-size="5.88">2</tspan></text>
<line x1="168.60" y1="815.76" x2="170.90" y2="815.76" stroke="#000" stroke-width="0.8" stroke-linecap="butt"/>
<line x1="168.60" y1="812.70" x2="170.90" y2="812.70" stroke="#000" stroke-width="0.8" stroke-linecap="butt"/>
<line x1="168.60" y1="810.52" x2="170.90" y2="810.52" stroke="#000" stroke-width="0.8" stroke-linecap="butt"/>
<line x1="168.60" y1="808.84" x2="170.90" y2="808.84" stroke="#000" stroke-width="0.8" stroke-linecap="butt"/>
<line x1="168.60" y1="807.46" x2="170.90" y2="807.46" stroke="#000" stroke-width="0.8" stroke-linecap="butt"/>
<line x1="168.60" y1="806.30" x2="170.90" y2="806.30" stroke="#000" stroke-width="0.8" stroke-linecap="butt"/>
<line x1="168.60" y1="805.29" x2="170.90" y2="805.29" stroke="#000" stroke-width="0.8" stroke-linecap="butt"/>
<line x1="168.60" y1="804.40" x2="170.90" y2="804.40" stroke="#000" stroke-width="0.8" stroke-linecap="butt"/>
<line x1="168.60" y1="798.75" x2="170.90" y2="798.75" stroke="#000" stroke-width="0.8" stroke-linecap="butt"/>
<line x1="168.60" y1="795.92" x2="170.90" y2="795.92" stroke="#000" stroke-width="0.8" stroke-linecap="butt"/>
<line x1="168.60" y1="793.91" x2="170.90" y2="793.91" stroke="#000" stroke-width="0.8" stroke-linecap="butt"/>
<line x1="168.60" y1="792.35" x2="170.90" y2="792.35" stroke="#000" stroke-width="0.8" stroke-linecap="butt"/>
<line x1="168.60" y1="791.07" x2="170.90" y2="791.07" stroke="#000" stroke-width="0.8" stroke-linecap="butt"/>
<line x1="168.60" y1="789.99" x2="170.90" y2="789.99" stroke="#000" stroke-width="0.8" stroke-linecap="butt"/>
<line x1="168.60" y1="789.06" x2="170.90" y2="789.06" stroke="#000" stroke-width="0.8" stroke-linecap="butt"/>
<line x1="168.60" y1="788.24" x2="170.90" y2="788.24" stroke="#000" stroke-width="0.8" stroke-linecap="butt"/>
<line x1="168.60" y1="782.89" x2="170.90" y2="782.89" stroke="#000" stroke-width="0.8" stroke-linecap="butt"/>
<line x1="168.60" y1="780.20" x2="170.90" y2="780.20" stroke="#000" stroke-width="0.8" stroke-linecap="butt"/>
<line x1="168.60" y1="778.29" x2="170.90" y2="778.29" stroke="#000" stroke-width="0.8" stroke-linecap="butt"/>
<line x1="168.60" y1="776.81" x2="170.90" y2="776.81" stroke="#000" stroke-width="0.8" stroke-linecap="butt"/>
<line x1="168.60" y1="775.59" x2="170.90" y2="775.59" stroke="#000" stroke-width="0.8" stroke-linecap="butt"/>
<line x1="168.60" y1="774.57" x2="170.90" y2="774.57" stroke="#000" stroke-width="0.8" stroke-linecap="butt"/>
<line x1="168.60" y1="773.68" x2="170.90" y2="773.68" stroke="#000" stroke-width="0.8" stroke-linecap="butt"/>
<line x1="168.60" y1="772.90" x2="170.90" y2="772.90" stroke="#000" stroke-width="0.8" stroke-linecap="butt"/>
<line x1="186.00" y1="834.30" x2="186.00" y2="838.20" stroke="#000" stroke-width="1.0" stroke-linecap="butt"/>
<text x="178.72" y="851.60" font-size="9.8" fill="#111">10<tspan dx="0.4" dy="-4.0" font-size="5.88">2</tspan></text>
<line x1="201.00" y1="834.30" x2="201.00" y2="838.20" stroke="#000" stroke-width="1.0" stroke-linecap="butt"/>
<text x="193.72" y="851.60" font-size="9.8" fill="#111">10<tspan dx="0.4" dy="-4.0" font-size="5.88">3</tspan></text>
<line x1="222.00" y1="834.30" x2="222.00" y2="838.20" stroke="#000" stroke-width="1.0" stroke-linecap="butt"/>
<text x="214.72" y="851.60" font-size="9.8" fill="#111">10<tspan dx="0.4" dy="-4.0" font-size="5.88">4</tspan></text>
<line x1="239.50" y1="834.30" x2="239.50" y2="838.20" stroke="#000" stroke-width="1.0" stroke-linecap="butt"/>
<text x="232.22" y="851.60" font-size="9.8" fill="#111">10<tspan dx="0.4" dy="-4.0" font-size="5.88">5</tspan></text>
<line x1="190.52" y1="834.30" x2="190.52" y2="836.60" stroke="#000" stroke-width="0.8" stroke-linecap="butt"/>
<line x1="193.16" y1="834.30" x2="193.16" y2="836.60" stroke="#000" stroke-width="0.8" stroke-linecap="butt"/>
<line x1="195.03" y1="834.30" x2="195.03" y2="836.60" stroke="#000" stroke-width="0.8" stroke-linecap="butt"/>
<line x1="196.48" y1="834.30" x2="196.48" y2="836.60" stroke="#000" stroke-width="0.8" stroke-linecap="butt"/>
<line x1="197.67" y1="834.30" x2="197.67" y2="836.60" stroke="#000" stroke-width="0.8" stroke-linecap="butt"/>
<line x1="198.68" y1="834.30" x2="198.68" y2="836.60" stroke="#000" stroke-width="0.8" stroke-linecap="butt"/>
<line x1="199.55" y1="834.30" x2="199.55" y2="836.60" stroke="#000" stroke-width="0.8" stroke-linecap="butt"/>
<line x1="200.31" y1="834.30" x2="200.31" y2="836.60" stroke="#000" stroke-width="0.8" stroke-linecap="butt"/>
<line x1="207.32" y1="834.30" x2="207.32" y2="836.60" stroke="#000" stroke-width="0.8" stroke-linecap="butt"/>
<line x1="211.02" y1="834.30" x2="211.02" y2="836.60" stroke="#000" stroke-width="0.8" stroke-linecap="butt"/>
<line x1="213.64" y1="834.30" x2="213.64" y2="836.60" stroke="#000" stroke-width="0.8" stroke-linecap="butt"/>
<line x1="215.68" y1="834.30" x2="215.68" y2="836.60" stroke="#000" stroke-width="0.8" stroke-linecap="butt"/>
<line x1="217.34" y1="834.30" x2="217.34" y2="836.60" stroke="#000" stroke-width="0.8" stroke-linecap="butt"/>
<line x1="218.75" y1="834.30" x2="218.75" y2="836.60" stroke="#000" stroke-width="0.8" stroke-linecap="butt"/>
<line x1="219.96" y1="834.30" x2="219.96" y2="836.60" stroke="#000" stroke-width="0.8" stroke-linecap="butt"/>
<line x1="221.04" y1="834.30" x2="221.04" y2="836.60" stroke="#000" stroke-width="0.8" stroke-linecap="butt"/>
<line x1="227.27" y1="834.30" x2="227.27" y2="836.60" stroke="#000" stroke-width="0.8" stroke-linecap="butt"/>
<line x1="230.35" y1="834.30" x2="230.35" y2="836.60" stroke="#000" stroke-width="0.8" stroke-linecap="butt"/>
<line x1="232.54" y1="834.30" x2="232.54" y2="836.60" stroke="#000" stroke-width="0.8" stroke-linecap="butt"/>
<line x1="234.23" y1="834.30" x2="234.23" y2="836.60" stroke="#000" stroke-width="0.8" stroke-linecap="butt"/>
<line x1="235.62" y1="834.30" x2="235.62" y2="836.60" stroke="#000" stroke-width="0.8" stroke-linecap="butt"/>
<line x1="236.79" y1="834.30" x2="236.79" y2="836.60" stroke="#000" stroke-width="0.8" stroke-linecap="butt"/>
<line x1="237.80" y1="834.30" x2="237.80" y2="836.60" stroke="#000" stroke-width="0.8" stroke-linecap="butt"/>
<line x1="238.70" y1="834.30" x2="238.70" y2="836.60" stroke="#000" stroke-width="0.8" stroke-linecap="butt"/>
<line x1="173.00" y1="834.30" x2="173.00" y2="836.60" stroke="#000" stroke-width="0.8" stroke-linecap="butt"/>
<line x1="175.00" y1="834.30" x2="175.00" y2="836.60" stroke="#000" stroke-width="0.8" stroke-linecap="butt"/>
<line x1="177.00" y1="834.30" x2="177.00" y2="836.60" stroke="#000" stroke-width="0.8" stroke-linecap="butt"/>
<text x="171.70" y="774.70" font-size="10.0" text-anchor="start" fill="#000" >CX-</text>
<text x="171.70" y="785.10" font-size="10.0" text-anchor="start" fill="#000" >4945</text>
<text x="245.00" y="774.70" font-size="10.0" text-anchor="end" fill="#000" >4.4±0.8%</text>
<text x="245.00" y="833.60" font-size="10.0" text-anchor="end" fill="#000" >20.3±2.4%</text>
<g clip-path="url(#c3)">
<ellipse cx="79.6" cy="916.2" rx="5.7" ry="7.0" fill="#c8200f" fill-opacity="1" filter="url(#b1)"/>
<ellipse cx="86" cy="916.5" rx="6" ry="6.5" fill="#c8200f" fill-opacity="0.5" filter="url(#b15)"/>
<path transform="scale(.1)" d="M1031 8663h7m158 5h7m178-1h7m1 32h7m-10-12h7m-43-3h7m-342 7h7m-145 0h7m50 11h7m4-2h7m94 6h7m153 17h7m-58 20h7m-107-18h7m-113 0h7m48 33h7m172 7h7m25 1h7m194 13h7m-8 20h7m-7-24h7m-22 1h7m-27 1h7m-26 9h7m-7-10h7m-13 18h7m-26-6h7m-11 9h7m-10-1h7m-7-8h7m-24 2h7m-8 7h7m-14-1h7m-20-11h7m-9 11h7m-7-8h7m-26 1h7m-12 6h7m-25-12h7m-11 12h7m-33-19h7m-8 10h7m-29 4h7m-16 7h7m-7-19h7m-24 21h7m-17-12h7m-11-9h7m-15 19h7m-13-14h7m-9 15h7m-21-6h7m-28-8h7m-28 6h7m-52-8h7m-34 7h7m-26-8h7m-61 39h7m52-6h7m12 7h7m-5-13h7m15 10h7m-3-6h7m28 12h7m-6-2h7m16-18h7m7 17h7m15-7h7m-6-14h7m0 20h7m0-5h7m-3-3h7m-4 6h7m0-1h7m-7 7h7m-3-12h7m-7 0h7m5-6h7m4 1h7m-7 17h7m0-6h7m-5-7h7m-5-10h7m-6 1h7m-5 11h7m-6 8h7m-4-5h7m-3-11h7m-3 8h7m-7 7h7m4-3h7m2-10h7m-5 17h7m3-16h7m-4-1h7m-4 14h7m-4-11h7m-4 0h7m-2 0h7m-2 13h7m-5-19h7m-5 18h7m7-2h7m-3-8h7m-7 5h7m-7 7h7m-6-2h7m-1-14h7m-4 16h7m-6-8h7m-7 7h7m-3-8h7m-4 0h7m-7 4h7m-6-16h7m4 6h7m-4-9h7m-1 1h7m-4 7h7m-7 11h7m-5-7h7m-6 7h7m-2-3h7m-6-12h7m-2 19h7m-2-20h7m-5 5h7m-2-7h7m-7 23h7m-4-5h7m-2-15h7m-6 20h7m-6-1h7m-3-10h7m-5-12h7m-1 22h7m-6 0h7m-6-13h7m-5 8h7m-3-2h7m-6-10h7m-3 0h7m-2 16h7m-5-8h7m1-12h7m-6 5h7m-1-3h7m-6 1h7m-6 17h7m-10 26h7m-12-6h7m-7 0h7m-10-8h7m-11-6h7m-8-3h7m-9 6h7m-14-4h7m-10 8h7m-10 10h7m-11-1h7m-13-7h7m-9 8h7m-13-4h7m-16-4h7m-8 11h7m-9-12h7m-8 10h7m-10-9h7m-14-6h7m-10 15h7m-9-12h7m-8-9h7m-11 20h7m-14 3h7m-9 1h7m-7-12h7m-10 12h7m-11-2h7m-8-5h7m-7-14h7m-10 13h7m-12 4h7m-12 3h7m-8-13h7m-8-4h7m-14 10h7m-8 5h7m-7-4h7m-9-9h7m-8 13h7m-7-9h7m-7-9h7m-8-2h7m-11 11h7m-8-12h7m-10 2h7m-15 3h7m-8 6h7m-8 2h7m-8 11h7m-8-7h7m-14-1h7m-7-16h7m-10 14h7m-9 9h7m-8-11h7m-9-4h7m-9 8h7m-7-4h7m-17 9h7m-7-9h7m-11 11h7m-7-22h7m-10 17h7m-16-3h7m-8 4h7m-8-6h7m-8 2h7m-8-9h7m-9 1h7m-9 12h7m-7-1h7m-7-5h7m-8-5h7m-12 10h7m-8 6h7m-7-7h7m-7-4h7m-14-3h7m-7-2h7m-15 8h7m-7-5h7m-7-10h7m-8 20h7m-7-14h7m-12 0h7m-8 17h7m-7-18h7m-11 13h7m-7-10h7m-20-5h7m-8 11h7m-8 5h7m-9-5h7m-9-9h7m-8 5h7m-11-9h7m-17 13h7m-7-7h7m-8 2h7m-16 0h7m-9 13h7m-8 0h7m-7-16h7m-8 0h7m-8 11h7m-7-7h7m-11-7h7m-9 20h7m-15-2h7m-7-8h7m-10-6h7m-13-1h7m-14 6h7m-19 0h7m-8-8h7m-8 1h7m-10 10h7m-10-13h7m-49 11h7m-25 4h7m-20-4h7m-8 9h7m-28-23h7m-241 20h7m149 21h7m53 7h7m-6-4h7m7-2h7m6-13h7m-2 20h7m8-18h7m12-5h7m22 8h7m-6 3h7m-1 4h7m5 7h7m-6-7h7m-5-2h7m-5-4h7m8 3h7m-2 8h7m-5-8h7m1-13h7m-3 22h7m-6-18h7m-3 7h7m-6 9h7m7-16h7m-5 12h7m-1-4h7m-5 9h7m-4-13h7m-1 11h7m-4-3h7m-2-8h7m-5-3h7m0 5h7m-5-4h7m-6 17h7m-2 1h7m-4-6h7m-4-5h7m-1 0h7m1-9h7m-7 5h7m-7 6h7m-3-8h7m-6 5h7m-5 5h7m-6-4h7m-5 5h7m-3 1h7m-7 1h7m-3-7h7m-5-13h7m2 18h7m-5-8h7m0-10h7m2 1h7m-6 7h7m3 6h7m-6-14h7m-6 7h7m2-3h7m-4-4h7m-1 16h7m-5-6h7m-5-6h7m-5 13h7m-2-17h7m-5 8h7m1-3h7m0-4h7m-4 19h7m-4-20h7m0 5h7m-4 5h7m-7 0h7m-7 11h7m-1-6h7m26-12h7m-1 13h7m0-10h7m-3 6h7m-6-11h7m-5 3h7m-6 1h7m-3 8h7m4 32h7m-17 2h7m-18-10h7m-21 8h7m-8-6h7m-13-7h7m-7-7h7m-10 24h7m-12-12h7m-21 10h7m-8-13h7m-23 12h7m-10 1h7m-7-5h7m-12-6h7m-10-4h7m-7-5h7m-12 3h7m-11-4h7m-12 22h7m-10-22h7m-9 14h7m-7-2h7m-17-12h7m-22 20h7m-7-17h7m-35 5h7m-27 6h7m-8-15h7m-20 1h7m-11 18h7m-14-16h7m-17 14h7m-13-7h7m-30 8h7m-11-2h7m-18-12h7m-9 12h7m-13-4h7m-8-12h7m-33 12h7m-11-7h7m-11 12h7m-7 0h7m-18 6h7m-7-10h7m-30-12h7m-26 13h7m-35-9h7m-16 2h7m-230-3h7m-44 1h7m156 44h7m93-24h7m10 8h7m29 15h7m24-5h7m21-18h7m-7 8h7m0-1h7m-2-7h7m17 10h7m18-4h7m14 2h7m3 11h7m1-14h7m11-3h7m8 5h7m33 13h7m-2-15h7m-5-5h7m-6 9h7m13 14h7m5-6h7m-6 7h7m12-4h7m30-8h7m5 6h7m-19 26h7m-21-8h7m-14 3h7m-11 8h7m-21-14h7m-11 6h7m-23 0h7m-37 4h7m-18-9h7m-14 7h7m-8-9h7m-22 7h7m-11 9h7m-8-17h7m-19 15h7m-9-18h7m-8 12h7m-19-12h7m-21 7h7m-12 14h7m-13-4h7m-12-2h7m-13 3h7m-9-8h7m-17 7h7m-9 4h7m-45-2h7m-7-5h7m-10-5h7m-83 6h7m-121 16h7m26 11h7m33-19h7m15 21h7m6-8h7m22-14h7m27 1h7m24 20h7m-6-16h7m12 16h7m17-8h7m-2 0h7m-3 3h7m-7 2h7m-7 3h7m2-5h7m5-9h7m0 7h7m-4 0h7m-6 8h7m6 2h7m9-4h7m-2-5h7m7-5h7m-5-9h7m-2 15h7m6-9h7m-4 15h7m18-13h7m-2 10h7m-5-16h7m-1-2h7m-5 1h7m-4 18h7m-6-11h7m2-1h7m-5 15h7m-5 1h7m1-22h7m-3 5h7m-3-6h7m-3-1h7m1 18h7m-6-1h7m-1 7h7m-6-15h7m-7 21h7m-8 12h7m-7-4h7m-10-3h7m-12-6h7m-10 19h7m-15-7h7m-10-15h7m-14 11h7m-10 9h7m-8-19h7m-24 17h7m-7-8h7m-9 4h7m-9-4h7m-12 9h7m-7-14h7m-8 6h7m-17 2h7m-12 6h7m-8-19h7m-9 16h7m-9-3h7m-10 8h7m-8-8h7m-8 1h7m-11-13h7m-10 6h7m-7-3h7m-9 14h7m-10-16h7m-10-1h7m-8 16h7m-12-11h7m-10 9h7m-12-3h7m-16 4h7m-8-10h7m-8 7h7m-9 6h7m-8 4h7m-9-16h7m-8 8h7m-11 6h7m-7-11h7m-10-2h7m-10 15h7m-10-4h7m-10 3h7m-11-2h7m-10-15h7m-15 1h7m-14 10h7m-7-8h7m-10-1h7m-9 1h7m-33 1h7m-13-2h7m-13 6h7m-7-2h7m-9 11h7m-8-19h7m-26 3h7m-8 8h7m-10-8h7m-8 5h7m-15-2h7m-7-8h7m-19 7h7m-51 8h7m-58-9h7m-309 26h7m15-2h7m14 12h7m30 0h7m-4 3h7m41-7h7m19 5h7m-1-4h7m44-5h7m10-11h7m2 21h7m0-8h7m-4-10h7m-6-1h7m-4-1h7m2-1h7m-3 13h7m6 4h7m22-3h7m-4-14h7m-2 16h7m0-14h7m9 14h7m3 6h7m-1-6h7m-6 0h7m7-11h7m0 4h7m-7 12h7m13-12h7m-7 1h7m-3-3h7m-3 5h7m2 0h7m-7 8h7m-4-2h7m-5-11h7m-5 10h7m-2-2h7m-6-10h7m7 15h7m0-1h7m-3 1h7m-4 2h7m-6-4h7m-5-9h7m1 15h7m-4-9h7m-2-12h7m-1-2h7m-5 17h7m-6-14h7m-1 1h7m-6 2h7m-5 4h7m-6 9h7m-5-17h7m-5 8h7m-7 1h7m-4-11h7m-3 23h7m-1-22h7m-6 3h7m-6 5h7m-6-10h7m5 23h7m-4-20h7m-6 3h7m-7 6h7m-5 7h7m-3-17h7m-7 4h7m-5 17h7m0-8h7m0-4h7m-6 7h7m-2 2h7m-2-4h7m-3-13h7m5 8h7m-1-6h7m-7 1h7m-7 9h7m-3-12h7m-6 3h7m-5 6h7m-4-6h7m-5 2h7m0 13h7m-7 3h7m-6-4h7m9-8h7m18-4h7m4 18h7m-8 7h7m-13 1h7m-12-9h7m-11 9h7m-9 11h7m-7-6h7m-10-11h7m-9 10h7m-10 7h7m-17 4h7m-20-9h7m-8-4h7m-10 6h7m-10-5h7m-14-2h7m-10 4h7m-14-3h7m-8-1h7m-10-6h7m-10 5h7m-10 8h7m-7-1h7m-8-16h7m-13 11h7m-11 5h7m-9-8h7m-8 10h7m-9-16h7m-15 1h7m-8 20h7m-13-6h7m-21-12h7m-11 12h7m-8 5h7m-9-16h7m-8 6h7m-10-7h7m-20 15h7m-14-13h7m-13 7h7m-7-13h7m-16 8h7m-7-1h7m-8 11h7m-10-5h7m-8-8h7m-10 15h7m-13-5h7m-17-2h7m-10 8h7m-9-8h7m-8 10h7m-7-17h7m-9 9h7m-8 0h7m-11 4h7m-10 4h7m-10 0h7m-8-16h7m-12 15h7m-9-23h7m-12 8h7m-12 1h7m-12 12h7m-7-18h7m-8 21h7m-11-11h7m-8-11h7m-12 11h7m-10-9h7m-9-3h7m-8 23h7m-7-23h7m-17 20h7m-15-17h7m-15 12h7m-7-8h7m-12 2h7m-10 1h7m-11 13h7m-14-9h7m-9-14h7m-12 0h7m-17 11h7m-25-12h7m-9 22h7m-13-10h7m-12-12h7m-9 2h7m-13 0h7m-10 13h7m-9-5h7m-10-5h7m-15 9h7m-8-1h7m-11-13h7m-14 20h7m-16-7h7m-38 5h7m-17 4h7m-8 1h7m-42-5h7m-62-2h7m-28 2h7m-29 4h7m-43-22h7m-35 17h7m-29 10h7m-1-1h7m12 3h7m-6 15h7m26-7h7m12 4h7m-2 8h7m-6-1h7m8-16h7m6 1h7m-5 1h7m3-4h7m9 13h7m-5-12h7m-7 4h7m1 6h7m-6-8h7m1-1h7m4 12h7m13-19h7m1 9h7m-2 14h7m-6-1h7m2 0h7m-4-19h7m-6 18h7m18-19h7m-6 12h7m-4 1h7m5-9h7m-7 10h7m-2-3h7m-6 0h7m-6 9h7m-5-20h7m7 5h7m-7 6h7m-7 10h7m-6-12h7m-7 12h7m-6-14h7m-1 3h7m-6-10h7m12 19h7m-5-13h7m-7 12h7m-6-13h7m-5 7h7m0 3h7m-5 7h7m-6-12h7m-6 12h7m-2-19h7m-6 13h7m-5-4h7m-4-7h7m-7 5h7m-7 12h7m-6-10h7m-4 5h7m-5-12h7m-2-2h7m1-4h7m-5 2h7m-1 5h7m-5-2h7m-4 6h7m-7 10h7m-2-3h7m-5-4h7m-5-15h7m-7 23h7m-2-13h7m-4 10h7m0 2h7m-1-9h7m-7 8h7m-7 2h7m-6-8h7m-7 9h7m-2-17h7m4 2h7m-3-2h7m-1-2h7m-6-5h7m-7 24h7m-4-12h7m-2 3h7m-6-3h7m-2 0h7m-5 0h7m-5-3h7m2 5h7m-4 0h7m-6-6h7m-6 7h7m-5 6h7m0-18h7m-7 9h7m-5 11h7m-4-13h7m-5 14h7m7-21h7m-3 6h7m-6 9h7m-3-9h7m-6-4h7m-5 7h7m-6-3h7m5 4h7m-5 9h7m-5-5h7m15-15h7m-7 16h7m7-4h7m-6-3h7m-5 11h7m6-16h7m1 16h7m-6-15h7m9 12h7m4-16h7m-4 5h7m-4-6h7m-1 2h7m4-4h7m-2 12h7m-6-1h7m0-4h7m-3-5h7m-4 13h7m6 22h7m-63-10h7m-9 11h7m-13-11h7m-11 2h7m-8-3h7m-20 13h7m-14 7h7m-18-14h7m-20 15h7m-13 0h7m-29-7h7m-9-5h7m-13 2h7m-8-8h7m-10 4h7m-13 3h7m-11 4h7m-8-4h7m-14 12h7m-8-15h7m-7-1h7m-12 14h7m-7-4h7m-9-14h7m-9-2h7m-10 18h7m-8 4h7m-19-11h7m-8-5h7m-14-4h7m-14 0h7m-12 10h7m-17-6h7m-9 1h7m-8 16h7m-9-20h7m-11 14h7m-21-16h7m-12 6h7m-10 9h7m-14 1h7m-8 0h7m-12-13h7m-9 2h7m-11 17h7m-9-24h7m-9 7h7m-9 0h7m-19-7h7m-10 7h7m-7-4h7m-9-1h7m-10 7h7m-9-4h7m-8 6h7m-9-6h7m-10 10h7m-8 9h7m-14-16h7m-9 3h7m-15 7h7m-15-6h7m-7-2h7m-8 9h7m-10-17h7m-9 15h7m-9-8h7m-10 13h7m-8-13h7m-8 5h7m-7-11h7m-9 3h7m-9 8h7m-9 5h7m-10 3h7m-10-15h7m-8 10h7m-11-7h7m-9-1h7m-10-4h7m-10 2h7m-8-3h7m-11 20h7m-13-10h7m-9-13h7m-8 21h7m-8-5h7m-8 1h7m-10-18h7m-9 1h7m-17 16h7m-7-3h7m-8 5h7m-10-5h7m-14 10h7m-8-18h7m-7-1h7m-9-4h7m-11 16h7m-9-2h7m-19-2h7m-9-2h7m-13 10h7m-12-16h7m-10-1h7m-22 18h7m-11 0h7m-7-13h7m-8 1h7m-14 5h7m-9-7h7m-11 16h7m-10-8h7m-9 2h7m-11-2h7m-7-10h7m-8 6h7m-9 1h7m-7-9h7m-8 20h7m-10-17h7m-20 14h7m-11-7h7m-8-4h7m-10-3h7m-9 16h7m-11-12h7m-12-5h7m-13 2h7m-9 9h7m-8-2h7m-8-1h7m-9 8h7m-9-7h7m-10-15h7m-9 7h7m-16 10h7m-8-8h7m-9 10h7m-8 5h7m-7-6h7m-9-4h7m-7 0h7m-9-2h7m-13 2h7m-8-14h7m-13 5h7m-8-1h7m-12 18h7m-9-15h7m-11-7h7m-11 16h7m-17-13h7m-9 8h7m-7-3h7m-13-7h7m-23 0h7m-9 20h7m-13 3h7m-16-8h7m-30-9h7m-40 4h7m8 30h7m-2-14h7m-1 9h7m-4 8h7m2-14h7m-6 7h7m4-2h7m-7 6h7m-5 7h7m-6-13h7m-5 8h7m-2 5h7m-4-18h7m-3 18h7m-5-19h7m-6 6h7m-7 14h7m2-5h7m1 0h7m-5-17h7m-6 9h7m-3 12h7m1-2h7m0-1h7m-2 1h7m1-11h7m-7 13h7m-5-16h7m-7 16h7m-5-6h7m-6 0h7m-4-2h7m-6-5h7m-7 3h7m-6-12h7m-6 5h7m-7 4h7m-6 0h7m-4 6h7m-7 4h7m-5-4h7m-4-14h7m-6 16h7m-6 0h7m-5 0h7m-5-17h7m-7 10h7m-5-1h7m-7 4h7m-5 8h7m-6-18h7m-6 17h7m-6-20h7m-6 10h7m-7 10h7m-6-9h7m-7 9h7m-6-4h7m-6 1h7m-6-7h7m-3 0h7m-7 12h7m-6-13h7m-5-8h7m-6 2h7m-6 9h7m-7 7h7m-6-7h7m-5-9h7m-6 13h7m-6-9h7m-6-2h7m-5 16h7m-3-18h7m-6 2h7m-7 11h7m-6-3h7m-6 0h7m-3 1h7m-4-7h7m-2 10h7m-2-18h7m-7 14h7m-3-13h7m-2 4h7m-3 15h7m-2-8h7m-5-2h7m-5-10h7m-1 12h7m-2-9h7m-3 10h7m-4 1h7m-4-7h7m-5 3h7m-2-2h7m-7 3h7m-5 1h7m1-4h7m-6 14h7m-3-20h7m-6 9h7m-6-1h7m-6 0h7m-1 3h7m-7 0h7m-7 3h7m-6 3h7m1 3h7m-3-15h7m-5 10h7m-6-1h7m-5-16h7m-7 6h7m-4 4h7m-7 8h7m-7 5h7m-6-10h7m-5-5h7m-5 9h7m-6 2h7m-6-11h7m-6 5h7m-6-12h7m-5 1h7m-7 4h7m-1 11h7m-6-4h7m-6 9h7m-6-22h7m-7 10h7m-2 8h7m-4-7h7m-7 7h7m-7 5h7m-4-18h7m-5 9h7m-6 5h7m-6-3h7m-2 7h7m-5-6h7m-5-14h7m-1 19h7m0-16h7m-6-4h7m-5 17h7m-4-1h7m-4-16h7m-6 18h7m-6-14h7m-3-3h7m-7 13h7m-3 3h7m-6 1h7m-3-13h7m12 9h7m-6-13h7m-7 3h7m-6 17h7m-6-18h7m-6 0h7m-6 1h7m-5 11h7m-2 7h7m-2-17h7m-4 6h7m-5-6h7m-5-6h7m-1 22h7m-6-7h7m-6-9h7m-7 17h7m-1-22h7m-2 13h7m-5 5h7m-5-7h7m-3-11h7m-7 0h7m-1 2h7m-6 8h7m-7 12h7m-6-15h7m5 5h7m0-7h7m-5-1h7m-6 7h7m-2 10h7m-6-8h7m-4-14h7m1 7h7m-5 11h7m-4-15h7m3 17h7m-4-13h7m2 1h7m11-5h7m-3-2h7m3 17h7m12-9h7m-3 13h7m-1-14h7m-1 5h7m-4 7h7m9-14h7m13 9h7m5 4h7m0 4h7m16-21h7m16 41h7m-61-9h7m-30 5h7m-12-2h7m-11-6h7m-12 11h7m-46 0h7m-11-1h7m-60 5h7m-8-3h7m-9-9h7m-10-7h7m-9 10h7m-12-11h7m-10 11h7m-13 7h7m-14-3h7m-20-16h7m-14 7h7m-7-6h7m-9 7h7m-20-6h7m-12 7h7m-7-2h7m-9 1h7m-7-7h7m-8 11h7m-28 2h7m-10-11h7m-17 0h7m-9 12h7m-7-10h7m-16 15h7m-11-7h7m-10 9h7m-14-15h7m-7-8h7m-13 22h7m-11-3h7m-7-10h7m-11 7h7m-8-5h7m-15-11h7m-9 15h7m-8-9h7m-8 18h7m-9-17h7m-10 4h7m-11 13h7m-8-1h7m-9-12h7m-9 2h7m-9 9h7m-9-9h7m-9 8h7m-7-8h7m-13-2h7m-14 1h7m-9 7h7m-9-5h7m-12-4h7m-16-1h7m-9-9h7m-16 17h7m-8-14h7m-10 19h7m-8 1h7m-7-10h7m-8 2h7m-7-6h7m-12 11h7m-7-19h7m-9-1h7m-8 3h7m-16-3h7m-8 12h7m-7-4h7m-8 1h7m-8-9h7m-13 17h7m-9 7h7m-7-12h7m-11 12h7m-9-6h7m-8-16h7m-8 4h7m-8 4h7m-9-8h7m-12 1h7m-9 16h7m-7-4h7m-7-11h7m-8 6h7m-8 12h7m-11-13h7m-8 4h7m-8-9h7m-7-1h7m-9 3h7m-8 9h7m-8-10h7m-11-4h7m-8-1h7m-8 19h7m-15-4h7m-7-15h7m-8 17h7m-7-3h7m-7-12h7m-19 11h7m-7-12h7m-9 5h7m-9 9h7m-7-1h7m-8-1h7m-8-12h7m-9 18h7m-7-5h7m-9-10h7m-8 15h7m-7-3h7m-8 8h7m-11-17h7m-8 6h7m-13-4h7m-8 5h7m-8 4h7m-8-15h7m-8 3h7m-8 10h7m-7-10h7m-7-2h7m-8 20h7m-7-14h7m-7-1h7m-8 11h7m-9 2h7m-9-10h7m-8 12h7m-7-8h7m-8-5h7m-7-7h7m-7 0h7m-9 13h7m-7 0h7m-7-17h7m-8 13h7m-8 5h7m-7-8h7m-7-3h7m-9 11h7m-9 2h7m-7-11h7m-8 11h7m-7-12h7m-7-2h7m-7-1h7m-7-2h7m-8-2h7m-8 10h7m-8 12h7m-8 1h7m-9-2h7m-7-18h7m-9 9h7m-7-6h7m-12 6h7m-7-9h7m-9-3h7m-8 23h7m-7-2h7m-9 2h7m-7-11h7m-7 0h7m-9 11h7m-7-6h7m-8-16h7m-8 14h7m-7-1h7m-9 0h7m-8-8h7m-8 16h7m-7-20h7m-15 2h7m-12-4h7m-12 15h7m-15-5h7m-17 4h7m-25 0h7m-14 1h7m-8 2h7m-10-15h7m-8 16h7m-10 2h7m-11 3h7m-15-12h7m-10 4h7m-12-14h7m-13 19h7m-9-9h7m-8-10h7m-14 3h7m-19 3h7m-12 4h7m20 28h7m0-8h7m-3 8h7m-3-15h7m-6 1h7m-7 19h7m-3 3h7m9-21h7m-5 20h7m-6-16h7m-7 18h7m-5-7h7m-7 6h7m-4-23h7m-7 2h7m-7 1h7m-4 13h7m-7 1h7m-4-10h7m-3 4h7m-4 13h7m-3 0h7m2-18h7m-7 9h7m-1-13h7m-6 4h7m-2 12h7m-5 6h7m-6-13h7m-4-6h7m-7 9h7m0-6h7m-7 10h7m-7 5h7m-7 1h7m-6-10h7m-7 4h7m-6-16h7m-7 3h7m-7 10h7m-6 4h7m-7 1h7m-7 2h7m-7 1h7m-6-17h7m-6-4h7m-7 11h7m-7 9h7m-5-18h7m-6 4h7m-7 13h7m-5-6h7m-6-1h7m-7 3h7m-5-7h7m-7 7h7m-7 2h7m-7 4h7m-6-5h7m-6-4h7m-6 8h7m-6-19h7m-7 6h7m-7 1h7m-7 5h7m-6-10h7m-7 18h7m-6-14h7m-7 2h7m-7 5h7m-7 3h7m-6-9h7m-6 0h7m-6 11h7m-7 2h7m-5-10h7m-5 0h7m-5 3h7m-7 1h7m-3-17h7m-6 2h7m-7 8h7m-5-9h7m-6 18h7m-5-17h7m-7 10h7m-7 0h7m-6 8h7m-4-4h7m-5-7h7m-6 13h7m-6 1h7m-5-20h7m-7 10h7m-7 9h7m-5-14h7m-7 15h7m-6-16h7m-5 4h7m-3 6h7m-7 1h7m-7 6h7m-5-22h7m-4 5h7m-6 1h7m-7 12h7m-6-14h7m-7 3h7m-6 12h7m-6-14h7m-7 11h7m-6-2h7m-4 0h7m-7 8h7m-5-7h7m-4-6h7m-7 2h7m-5 2h7m-6-14h7m-7 3h7m-3 5h7m-6 11h7m-5-18h7m-6-2h7m-7 14h7m-7 7h7m-6-6h7m-5 8h7m-6-10h7m-5-12h7m-7 4h7m-7 3h7m-3 5h7m-6 4h7m-7 1h7m-5-6h7m-6 0h7m-2-4h7m-6 16h7m-5-6h7m-6 2h7m-5-4h7m-6 0h7m-6-1h7m-5 5h7m-6-20h7m-6 13h7m-5 0h7m-6-2h7m-6-11h7m-5 22h7m-5-10h7m-6 5h7m-4-3h7m-6-1h7m-6-1h7m-6 1h7m-7 2h7m-4 4h7m-7 4h7m-6-3h7m-6 4h7m-3-3h7m-6-20h7m-6 2h7m-5 6h7m-6-8h7m-3 22h7m-6-17h7m-5 4h7m-6 14h7m-3-19h7m-6 17h7m-6-10h7m-4 1h7m-6 3h7m-6-6h7m2-2h7m-5 12h7m0-16h7m-7 13h7m-5-17h7m-5 15h7m0 1h7m-7 0h7m-5 1h7m-6-9h7m-4-3h7m-5 9h7m-6-10h7m-3 12h7m-2 8h7m-5-24h7m-7 22h7m-7 1h7m-6-9h7m1-10h7m-1 6h7m6 3h7m-6-9h7m-4 6h7m-3 4h7m-5 4h7m-5 4h7m-6-22h7m-3 14h7m-1-9h7m2-2h7m-2 18h7m6-21h7m-7 24h7m-3-10h7m-5-10h7m-3 19h7m-5-13h7m-7 9h7m-5-5h7m-1-6h7m-7 0h7m12 11h7m3-7h7m1-1h7m-2 2h7m0 10h7m8-14h7m-6-5h7m122 3h7m62 29h7m-89-3h7m-27-4h7m-10 17h7m-48-15h7m-37 4h7m-26 8h7m-21-13h7m-16 18h7m-9-12h7m-30 9h7m-7-20h7m-13 8h7m-17-5h7m-9 7h7m-19 8h7m-8-12h7m-8 2h7m-17 10h7m-12-1h7m-36-17h7m-17 23h7m-19 0h7m-8-23h7m-9 17h7m-15-17h7m-9 3h7m-14-1h7m-11 16h7m-8-10h7m-14 8h7m-9-11h7m-9 19h7m-10-5h7m-12-6h7m-9-12h7m-13 0h7m-8 8h7m-9-8h7m-14 7h7m-10 2h7m-13 2h7m-9 3h7m-14-15h7m-8 19h7m-9 3h7m-13-8h7m-9 10h7m-9-12h7m-11 4h7m-11 1h7m-9-1h7m-7-3h7m-8-1h7m-7-12h7m-10 2h7m-8 1h7m-8 10h7m-8 5h7m-8-17h7m-8 5h7m-10 10h7m-8 5h7m-7-9h7m-7-2h7m-10-10h7m-8 21h7m-13-18h7m-8-1h7m-9 19h7m-8-4h7m-12-17h7m-10 16h7m-12 5h7m-7-4h7m-8-7h7m-8-1h7m-12-4h7m-14 9h7m-7-1h7m-7-5h7m-11 10h7m-8-16h7m-8-2h7m-12 11h7m-8 1h7m-10-12h7m-9 10h7m-12 4h7m-8-7h7m-9-5h7m-8 10h7m-8 12h7m-8-6h7m-8-18h7m-9 17h7m-8 6h7m-7-4h7m-9-1h7m-9-6h7m-7-3h7m-7-4h7m-7-1h7m-8 10h7m-8-7h7m-8 4h7m-7-7h7m-9 5h7m-9-4h7m-8 12h7m-7-13h7m-7-1h7m-8 11h7m-8 0h7m-7-12h7m-8 17h7m-8-8h7m-8 7h7m-7-8h7m-7-6h7m-7-4h7m-8 23h7m-7-1h7m-8-11h7m-8 0h7m-7-4h7m-8 4h7m-7 0h7m-7-11h7m-10 5h7m-10 17h7m-7-2h7m-8-2h7m-7-18h7m-8 22h7m-8-22h7m-8 12h7m-8-3h7m-8 7h7m-7-5h7m-7-2h7m-7-1h7m-7-2h7m-8 14h7m-7-16h7m-7 0h7m-7-1h7m-8 11h7m-8-2h7m-7 0h7m-7-2h7m-9-6h7m-8 10h7m-9-3h7m-7-10h7m-8 14h7m-7-6h7m-7-5h7m-10 16h7m-7-1h7m-7-18h7m-8 17h7m-10 1h7m-7-6h7m-10-5h7m-7-2h7m-15-4h7m-13 0h7m-10 3h7m-8 12h7m-8-15h7m-8 16h7m-14 5h7m-8-20h7m-11 10h7m-7-13h7m-10 0h7m-10 8h7m-8 4h7m-8 9h7m-12 1h7m-9 2h7m-11-19h7m-13 5h7m-9 6h7m-10-14h7m-8 0h7m-15 9h7m-17 0h7m-7-9h7m-8 5h7m-14-6h7m-29 0h7m-24 32h7m15-3h7m10 8h7m-5-10h7m-4 3h7m4 8h7m-2-11h7m1 15h7m-2-7h7m-5 12h7m-2-23h7m-7 3h7m-4 0h7m-4-1h7m-5 9h7m-4 3h7m-6-10h7m-2 10h7m-3 10h7m5-20h7m-4-4h7m-7 20h7m-6-10h7m-6-1h7m-7 14h7m-3-15h7m-5 16h7m-6-17h7m-2 7h7m-3-12h7m-5-1h7m-5-1h7m-7 5h7m-7 10h7m-6 1h7m-7 2h7m-6-3h7m-6-2h7m-6 11h7m-3-22h7m-7 12h7m-7 7h7m-6-14h7m-7 13h7m-6-14h7m-7 14h7m-6-15h7m-6 0h7m-6 13h7m-4 6h7m-5-6h7m-6 0h7m-7 2h7m-6-20h7m-7 7h7m-7 1h7m-7 15h7m-5-17h7m-7 1h7m-7 9h7m-7 2h7m-4-13h7m-6 10h7m-6-13h7m-7 20h7m-5-13h7m-7 13h7m-5-17h7m-5 12h7m-7 2h7m-2-8h7m-4 5h7m-6-9h7m-7 5h7m-6-10h7m-6 0h7m-5 18h7m-7 3h7m-6-14h7m-7 2h7m-5-4h7m-3-7h7m-6 5h7m-6-4h7m-7 2h7m-7 10h7m-3-3h7m-6-7h7m-7 5h7m-5 1h7m-7 5h7m-2 3h7m-7 6h7m-5-12h7m-7 11h7m-4-21h7m-6 1h7m-4-2h7m-7 3h7m-5 8h7m-6-8h7m-7 9h7m-4-7h7m-4 4h7m1-5h7m-2 0h7m-7 7h7m-2 1h7m-5 0h7m0 0h7m-5-1h7m-7 4h7m-2-13h7m-6 8h7m-5-7h7m-5 9h7m-6 8h7m-4-2h7m-5-17h7m5 0h7m-4 4h7m-6-3h7m2 7h7m2-8h7m-7 7h7m-6-5h7m8 0h7m-7 17h7m-3-9h7m-2-7h7m-5 20h7m-5-13h7m6 3h7m-3 3h7m3-2h7m-1-1h7m-6-8h7m29-5h7m-5 0h7m-5 10h7m-2-2h7m-3 8h7m9-16h7m4 10h7m11-11h7m1 1h7m-6 18h7m1-14h7m-4 18h7m26-23h7m116 11h7m-2 1h7m4 10h7m33 27h7m-153-11h7m-94-4h7m-49 5h7m-33-3h7m-24 3h7m-7-3h7m-18-3h7m-13 2h7m-19 11h7m-7-19h7m-14 5h7m-24 1h7m-9 7h7m-13-4h7m-17 11h7m-11-5h7m-9 2h7m-11-12h7m-15-1h7m-20 4h7m-12 13h7m-11-5h7m-9-5h7m-12-6h7m-11 2h7m-7-4h7m-9 10h7m-14-5h7m-8 12h7m-15-22h7m-11 10h7m-8 2h7m-8-9h7m-8 10h7m-24-12h7m-8 14h7m-9 6h7m-20-15h7m-12 16h7m-8-22h7m-9 23h7m-7-17h7m-7-6h7m-12 3h7m-9 2h7m-8 8h7m-11-1h7m-7-8h7m-8 15h7m-10-8h7m-7-4h7m-25 10h7m-8-2h7m-8-2h7m-7-13h7m-8 7h7m-8 3h7m-8 12h7m-8-14h7m-8-5h7m-8 13h7m-10-9h7m-8 16h7m-7-21h7m-8 6h7m-9-5h7m-7 0h7m-8 2h7m-12 17h7m-13-22h7m-12 19h7m-9-15h7m-10-1h7m-11 18h7m-15-20h7m-9 3h7m-9 10h7m-12 0h7m-7-11h7m-12 20h7m-15-14h7m-21 6h7m-13-4h7m-19 7h7m-9 2h7m-10 2h7m-7-3h7m-11-4h7m-29-12h7m-10 8h7m-7-7h7m-2 35h7m38 8h7m-3-19h7m2 9h7m21-12h7m7 22h7m11-22h7m-6 6h7m-6 6h7m-1 1h7m-1-12h7m-2 4h7m-2 2h7m0-1h7m-7 17h7m-6-20h7m-3 11h7m13 6h7m-5-6h7m-5-8h7m-4 14h7m5-7h7m20-9h7m23 7h7m1-2h7m1 9h7m1-2h7m25-9h7m6 17h7m-5-5h7m6-4h7m-4-15h7m8 3h7m33 4h7m2-7h7m35 11h7m5 9h7m14-14h7m148 12h7m34 2h7m-15 10h7m-356 7h7m-46-9h7m-36-2h7m-78 8h7m-16-2h7" stroke="#cc2414" stroke-width="8" stroke-opacity="0.5" fill="none"/>
</g>
<line x1="101.50" y1="861.90" x2="101.50" y2="930.00" stroke="#555" stroke-width="0.8" stroke-linecap="butt"/>
<line x1="69.90" y1="896.10" x2="143.10" y2="896.10" stroke="#555" stroke-width="0.8" stroke-linecap="butt"/>
<circle cx="92.80" cy="885.80" r="1.4" fill="#aaa" fill-opacity=".4" stroke="#666" stroke-width=".6"/>
<circle cx="108.00" cy="885.80" r="1.4" fill="#aaa" fill-opacity=".4" stroke="#666" stroke-width=".6"/>
<circle cx="92.80" cy="908.60" r="1.4" fill="#aaa" fill-opacity=".4" stroke="#666" stroke-width=".6"/>
<circle cx="108.00" cy="908.60" r="1.4" fill="#aaa" fill-opacity=".4" stroke="#666" stroke-width=".6"/>
<line x1="69.90" y1="861.90" x2="143.10" y2="861.90" stroke="#000" stroke-width="1.3" stroke-linecap="butt"/>
<line x1="143.10" y1="861.90" x2="143.10" y2="930.00" stroke="#000" stroke-width="1.1" stroke-linecap="butt"/>
<line x1="69.90" y1="861.30" x2="69.90" y2="930.60" stroke="#000" stroke-width="1.5" stroke-linecap="butt"/>
<line x1="69.20" y1="930.00" x2="143.60" y2="930.00" stroke="#000" stroke-width="1.5" stroke-linecap="butt"/>
<line x1="65.60" y1="868.20" x2="69.90" y2="868.20" stroke="#000" stroke-width="1.0" stroke-linecap="butt"/>
<text x="46.53" y="871.00" font-size="9.8" fill="#111">10<tspan dx="0.4" dy="-4.0" font-size="5.88">5</tspan></text>
<line x1="65.60" y1="883.60" x2="69.90" y2="883.60" stroke="#000" stroke-width="1.0" stroke-linecap="butt"/>
<text x="46.53" y="886.40" font-size="9.8" fill="#111">10<tspan dx="0.4" dy="-4.0" font-size="5.88">4</tspan></text>
<line x1="65.60" y1="899.70" x2="69.90" y2="899.70" stroke="#000" stroke-width="1.0" stroke-linecap="butt"/>
<text x="46.53" y="902.50" font-size="9.8" fill="#111">10<tspan dx="0.4" dy="-4.0" font-size="5.88">3</tspan></text>
<line x1="65.60" y1="917.00" x2="69.90" y2="917.00" stroke="#000" stroke-width="1.0" stroke-linecap="butt"/>
<text x="46.53" y="919.80" font-size="9.8" fill="#111">10<tspan dx="0.4" dy="-4.0" font-size="5.88">2</tspan></text>
<line x1="67.60" y1="911.79" x2="69.90" y2="911.79" stroke="#000" stroke-width="0.8" stroke-linecap="butt"/>
<line x1="67.60" y1="908.75" x2="69.90" y2="908.75" stroke="#000" stroke-width="0.8" stroke-linecap="butt"/>
<line x1="67.60" y1="906.58" x2="69.90" y2="906.58" stroke="#000" stroke-width="0.8" stroke-linecap="butt"/>
<line x1="67.60" y1="904.91" x2="69.90" y2="904.91" stroke="#000" stroke-width="0.8" stroke-linecap="butt"/>
<line x1="67.60" y1="903.54" x2="69.90" y2="903.54" stroke="#000" stroke-width="0.8" stroke-linecap="butt"/>
<line x1="67.60" y1="902.38" x2="69.90" y2="902.38" stroke="#000" stroke-width="0.8" stroke-linecap="butt"/>
<line x1="67.60" y1="901.38" x2="69.90" y2="901.38" stroke="#000" stroke-width="0.8" stroke-linecap="butt"/>
<line x1="67.60" y1="900.49" x2="69.90" y2="900.49" stroke="#000" stroke-width="0.8" stroke-linecap="butt"/>
<line x1="67.60" y1="894.85" x2="69.90" y2="894.85" stroke="#000" stroke-width="0.8" stroke-linecap="butt"/>
<line x1="67.60" y1="892.02" x2="69.90" y2="892.02" stroke="#000" stroke-width="0.8" stroke-linecap="butt"/>
<line x1="67.60" y1="890.01" x2="69.90" y2="890.01" stroke="#000" stroke-width="0.8" stroke-linecap="butt"/>
<line x1="67.60" y1="888.45" x2="69.90" y2="888.45" stroke="#000" stroke-width="0.8" stroke-linecap="butt"/>
<line x1="67.60" y1="887.17" x2="69.90" y2="887.17" stroke="#000" stroke-width="0.8" stroke-linecap="butt"/>
<line x1="67.60" y1="886.09" x2="69.90" y2="886.09" stroke="#000" stroke-width="0.8" stroke-linecap="butt"/>
<line x1="67.60" y1="885.16" x2="69.90" y2="885.16" stroke="#000" stroke-width="0.8" stroke-linecap="butt"/>
<line x1="67.60" y1="884.34" x2="69.90" y2="884.34" stroke="#000" stroke-width="0.8" stroke-linecap="butt"/>
<line x1="67.60" y1="878.96" x2="69.90" y2="878.96" stroke="#000" stroke-width="0.8" stroke-linecap="butt"/>
<line x1="67.60" y1="876.25" x2="69.90" y2="876.25" stroke="#000" stroke-width="0.8" stroke-linecap="butt"/>
<line x1="67.60" y1="874.33" x2="69.90" y2="874.33" stroke="#000" stroke-width="0.8" stroke-linecap="butt"/>
<line x1="67.60" y1="872.84" x2="69.90" y2="872.84" stroke="#000" stroke-width="0.8" stroke-linecap="butt"/>
<line x1="67.60" y1="871.62" x2="69.90" y2="871.62" stroke="#000" stroke-width="0.8" stroke-linecap="butt"/>
<line x1="67.60" y1="870.59" x2="69.90" y2="870.59" stroke="#000" stroke-width="0.8" stroke-linecap="butt"/>
<line x1="67.60" y1="869.69" x2="69.90" y2="869.69" stroke="#000" stroke-width="0.8" stroke-linecap="butt"/>
<line x1="67.60" y1="868.90" x2="69.90" y2="868.90" stroke="#000" stroke-width="0.8" stroke-linecap="butt"/>
<line x1="84.20" y1="930.00" x2="84.20" y2="933.90" stroke="#000" stroke-width="1.0" stroke-linecap="butt"/>
<text x="76.92" y="947.30" font-size="9.8" fill="#111">10<tspan dx="0.4" dy="-4.0" font-size="5.88">2</tspan></text>
<line x1="99.20" y1="930.00" x2="99.20" y2="933.90" stroke="#000" stroke-width="1.0" stroke-linecap="butt"/>
<text x="91.92" y="947.30" font-size="9.8" fill="#111">10<tspan dx="0.4" dy="-4.0" font-size="5.88">3</tspan></text>
<line x1="118.90" y1="930.00" x2="118.90" y2="933.90" stroke="#000" stroke-width="1.0" stroke-linecap="butt"/>
<text x="111.62" y="947.30" font-size="9.8" fill="#111">10<tspan dx="0.4" dy="-4.0" font-size="5.88">4</tspan></text>
<line x1="135.00" y1="930.00" x2="135.00" y2="933.90" stroke="#000" stroke-width="1.0" stroke-linecap="butt"/>
<text x="127.72" y="947.30" font-size="9.8" fill="#111">10<tspan dx="0.4" dy="-4.0" font-size="5.88">5</tspan></text>
<line x1="88.72" y1="930.00" x2="88.72" y2="932.30" stroke="#000" stroke-width="0.8" stroke-linecap="butt"/>
<line x1="91.36" y1="930.00" x2="91.36" y2="932.30" stroke="#000" stroke-width="0.8" stroke-linecap="butt"/>
<line x1="93.23" y1="930.00" x2="93.23" y2="932.30" stroke="#000" stroke-width="0.8" stroke-linecap="butt"/>
<line x1="94.68" y1="930.00" x2="94.68" y2="932.30" stroke="#000" stroke-width="0.8" stroke-linecap="butt"/>
<line x1="95.87" y1="930.00" x2="95.87" y2="932.30" stroke="#000" stroke-width="0.8" stroke-linecap="butt"/>
<line x1="96.88" y1="930.00" x2="96.88" y2="932.30" stroke="#000" stroke-width="0.8" stroke-linecap="butt"/>
<line x1="97.75" y1="930.00" x2="97.75" y2="932.30" stroke="#000" stroke-width="0.8" stroke-linecap="butt"/>
<line x1="98.51" y1="930.00" x2="98.51" y2="932.30" stroke="#000" stroke-width="0.8" stroke-linecap="butt"/>
<line x1="105.13" y1="930.00" x2="105.13" y2="932.30" stroke="#000" stroke-width="0.8" stroke-linecap="butt"/>
<line x1="108.60" y1="930.00" x2="108.60" y2="932.30" stroke="#000" stroke-width="0.8" stroke-linecap="butt"/>
<line x1="111.06" y1="930.00" x2="111.06" y2="932.30" stroke="#000" stroke-width="0.8" stroke-linecap="butt"/>
<line x1="112.97" y1="930.00" x2="112.97" y2="932.30" stroke="#000" stroke-width="0.8" stroke-linecap="butt"/>
<line x1="114.53" y1="930.00" x2="114.53" y2="932.30" stroke="#000" stroke-width="0.8" stroke-linecap="butt"/>
<line x1="115.85" y1="930.00" x2="115.85" y2="932.30" stroke="#000" stroke-width="0.8" stroke-linecap="butt"/>
<line x1="116.99" y1="930.00" x2="116.99" y2="932.30" stroke="#000" stroke-width="0.8" stroke-linecap="butt"/>
<line x1="118.00" y1="930.00" x2="118.00" y2="932.30" stroke="#000" stroke-width="0.8" stroke-linecap="butt"/>
<line x1="123.75" y1="930.00" x2="123.75" y2="932.30" stroke="#000" stroke-width="0.8" stroke-linecap="butt"/>
<line x1="126.58" y1="930.00" x2="126.58" y2="932.30" stroke="#000" stroke-width="0.8" stroke-linecap="butt"/>
<line x1="128.59" y1="930.00" x2="128.59" y2="932.30" stroke="#000" stroke-width="0.8" stroke-linecap="butt"/>
<line x1="130.15" y1="930.00" x2="130.15" y2="932.30" stroke="#000" stroke-width="0.8" stroke-linecap="butt"/>
<line x1="131.43" y1="930.00" x2="131.43" y2="932.30" stroke="#000" stroke-width="0.8" stroke-linecap="butt"/>
<line x1="132.51" y1="930.00" x2="132.51" y2="932.30" stroke="#000" stroke-width="0.8" stroke-linecap="butt"/>
<line x1="133.44" y1="930.00" x2="133.44" y2="932.30" stroke="#000" stroke-width="0.8" stroke-linecap="butt"/>
<line x1="134.26" y1="930.00" x2="134.26" y2="932.30" stroke="#000" stroke-width="0.8" stroke-linecap="butt"/>
<line x1="72.00" y1="930.00" x2="72.00" y2="932.30" stroke="#000" stroke-width="0.8" stroke-linecap="butt"/>
<line x1="74.00" y1="930.00" x2="74.00" y2="932.30" stroke="#000" stroke-width="0.8" stroke-linecap="butt"/>
<line x1="76.00" y1="930.00" x2="76.00" y2="932.30" stroke="#000" stroke-width="0.8" stroke-linecap="butt"/>
<text x="70.60" y="870.00" font-size="10.0" text-anchor="start" fill="#000" >DOX</text>
<text x="142.60" y="870.00" font-size="10.0" text-anchor="end" fill="#000" >7.0±1.5%</text>
<text x="142.60" y="928.80" font-size="10.0" text-anchor="end" fill="#000" >18.2±2.2%</text>
<g clip-path="url(#c4)">
<ellipse cx="182.7" cy="914.8" rx="5.9" ry="7.1" fill="#c8200f" fill-opacity="1" filter="url(#b1)"/>
<ellipse cx="189" cy="915.5" rx="6" ry="6.5" fill="#c8200f" fill-opacity="0.55" filter="url(#b15)"/>
<ellipse cx="234" cy="884" rx="11" ry="3.6" fill="#c8200f" fill-opacity="0.6" filter="url(#b15)"/>
<path transform="scale(.1)" d="M2010 8623h7m233 6h7m-148 9h7m-35-4h7m-179-1h7m-52-6h7m-104 22h7m11 12h7m311 1h7m-72 36h7m-97-13h7m-19 2h7m-49 6h7m-97-6h7m-71-9h7m263 27h7m17-1h7m90 20h7m3-19h7m75 6h7m11 6h7m171 14h7m-28 11h7m-25 4h7m-45-1h7m-13-14h7m-161 11h7m-30 4h7m-39-4h7m-11 0h7m-120 4h7m-103-20h7m144 45h7m12-11h7m166 8h7m6-2h7m18 2h7m-4 5h7m-1 1h7m11-6h7m8-2h7m1 6h7m0-4h7m19-4h7m-1-2h7m2 7h7m5 0h7m10-9h7m-7 11h7m-2 17h7m-7-6h7m-11 8h7m-17 7h7m-16-8h7m-8-8h7m-12 15h7m-10-2h7m-8-5h7m-8-5h7m-13 15h7m-7-21h7m-19 15h7m-8-6h7m-8-1h7m-9 4h7m-17 4h7m-9-6h7m-8-1h7m-15 0h7m-9 0h7m-10 8h7m-11-19h7m-8 5h7m-11 0h7m-8 2h7m-25 16h7m-16-6h7m-8 4h7m-9-11h7m-12 9h7m-8-1h7m-13 5h7m-11-5h7m-7-9h7m-9 13h7m-7-4h7m-8-7h7m-16 5h7m-15 5h7m-12-7h7m-9 8h7m-7-5h7m-9-2h7m-10-1h7m-8-3h7m-16 7h7m-11-10h7m-9 0h7m-8-7h7m-10 6h7m-10 15h7m-16-19h7m-19 12h7m-9 6h7m-8-3h7m-18 4h7m-8-14h7m-15 14h7m-10-10h7m-17 2h7m-21 6h7m-9-12h7m-10 15h7m-7-19h7m-10 5h7m-8 8h7m-11-12h7m-11 14h7m-8 2h7m-10-13h7m-14 11h7m-13-9h7m-9 12h7m-9-3h7m-13-7h7m-12-4h7m-8-4h7m-12 6h7m-16-4h7m-10 3h7m-9 5h7m-15 9h7m-9 0h7m-8-7h7m-25 7h7m-335-20h7m275 42h7m29-8h7m-6-9h7m-7 9h7m-3 8h7m3 1h7m-2-13h7m-1 14h7m-1-1h7m-6 0h7m-6-3h7m-3-9h7m1 11h7m-6 1h7m-4-3h7m-6-4h7m-7 4h7m-6 0h7m-5-9h7m-5 0h7m-6-5h7m-7 2h7m-6 4h7m-5-3h7m-7 0h7m-7 11h7m-5 2h7m-7 3h7m-5-21h7m-7 10h7m-5-7h7m-5 17h7m-4-8h7m-7 3h7m-5-4h7m-4 4h7m-7 4h7m-6-9h7m-4 5h7m-7 1h7m-4-2h7m-6 1h7m-7 4h7m-6-10h7m-7 3h7m-3-5h7m-5-1h7m-4 12h7m-5-5h7m-7 2h7m-7 5h7m-4-18h7m-6 17h7m-6-9h7m-7 11h7m-6-20h7m-7 10h7m-2-9h7m-7 1h7m-7 11h7m-6-9h7m-7 10h7m-6-16h7m-7 9h7m-6 8h7m-6-8h7m-7 2h7m-4-3h7m-5 1h7m-5-8h7m-6-2h7m-4 20h7m-4-14h7m-7 16h7m-5-11h7m-6-11h7m-7 0h7m-7 7h7m-6-7h7m-4 15h7m-7 2h7m-6 4h7m-6-4h7m-5 5h7m-6-8h7m-6 7h7m-2 1h7m-5-4h7m-6-8h7m-7 6h7m-6-4h7m-6 1h7m-6-5h7m-6 0h7m-7 12h7m-7 3h7m-5-3h7m-5-2h7m-5 2h7m-6-20h7m-6 15h7m-6-3h7m-4-5h7m-5 6h7m-7 2h7m-7 6h7m-6 0h7m-6-21h7m-7 17h7m-6 3h7m-6-4h7m-2-11h7m-5 11h7m-7 1h7m-7 1h7m-6-17h7m-5 12h7m-6 7h7m-6-3h7m-5-9h7m-5-8h7m-7 1h7m-7 10h7m-5 11h7m-6-21h7m-7 6h7m-7 5h7m-6 5h7m-5-11h7m-6 6h7m-7 8h7m-6-8h7m-5 3h7m-7 7h7m-6-12h7m-4-9h7m-3 6h7m-7 4h7m-6 4h7m-7 4h7m-3-11h7m-5 14h7m-6-11h7m-6-1h7m-4 10h7m-7 2h7m-6-17h7m-5-3h7m-7 12h7m-6-10h7m0 11h7m-6 0h7m-6 5h7m-6-13h7m-5 10h7m-7 3h7m-3-10h7m-6-7h7m-7 7h7m-7 6h7m-7 6h7m-6-12h7m-6 8h7m-6-9h7m-4-9h7m-5 10h7m-5 3h7m-5 5h7m-6-17h7m-7 14h7m-4 3h7m-3-2h7m-6-16h7m-5 7h7m-7 3h7m-7 4h7m-4 8h7m-4-14h7m-7 13h7m-6-18h7m-7 20h7m-6-9h7m-7 3h7m-1-13h7m-6 7h7m-6-8h7m-6 14h7m-7 5h7m-6-16h7m-7 7h7m-5-14h7m-7 0h7m-7 14h7m-7 0h7m-6 5h7m-7 3h7m-5 0h7m-6-17h7m-7 1h7m-7 5h7m-6-1h7m-6 13h7m-5-11h7m-6-12h7m-7 5h7m-7 3h7m-7 9h7m-7 1h7m-7 4h7m-3-9h7m-6 0h7m-7 5h7m-6-10h7m-7 1h7m-6 12h7m-5-4h7m-6-10h7m-6 17h7m-3-23h7m-7 20h7m-4-4h7m-7 2h7m-6-2h7m-4 2h7m-4-6h7m-5 3h7m-6 0h7m-2 0h7m-5-7h7m-7 2h7m-6 11h7m-3-1h7m-6-1h7m-7 1h7m-6-3h7m-3-6h7m-7 6h7m-5 5h7m-6 0h7m-5-14h7m-7 8h7m-7 2h7m-7 2h7m-4-2h7m-6-19h7m-6 3h7m-7 15h7m-6-14h7m-7 12h7m-5 7h7m-6-5h7m-6 3h7m-7 1h7m-5-16h7m-7 13h7m-6-1h7m-7 1h7m-7 5h7m-4-10h7m-6-10h7m-7 11h7m-5-8h7m-6-2h7m-5 6h7m-6 0h7m-4 6h7m-6 5h7m-6-3h7m-6-11h7m-1-4h7m-6 41h7m-7-4h7m-12 4h7m-8-19h7m-8 14h7m-7-1h7m-7-13h7m-9 23h7m-9-3h7m-8 3h7m-8-21h7m-7-3h7m-8 5h7m-8 18h7m-7-2h7m-7-18h7m-9 4h7m-8 5h7m-8 4h7m-8 1h7m-7-11h7m-9 14h7m-7-2h7m-7-7h7m-8 11h7m-8-20h7m-8 13h7m-7 0h7m-7-6h7m-8-4h7m-8 0h7m-9-3h7m-8 12h7m-8 0h7m-8 9h7m-7-20h7m-9 10h7m-9 4h7m-7-14h7m-8 13h7m-7-5h7m-7-10h7m-9 1h7m-8 13h7m-7-11h7m-8 9h7m-8 1h7m-7-12h7m-8 21h7m-7-15h7m-8 4h7m-8 7h7m-7-1h7m-7-6h7m-7-2h7m-8 12h7m-7-12h7m-8 0h7m-7-5h7m-8 17h7m-7-3h7m-7-1h7m-9-9h7m-9 12h7m-7-11h7m-7-8h7m-8 4h7m-8 3h7m-8 0h7m-9-6h7m-8 5h7m-8-3h7m-12 9h7m-8 10h7m-7-21h7m-8-1h7m-9 20h7m-7-8h7m-7-3h7m-7-7h7m-8 17h7m-7-1h7m-9-9h7m-8 12h7m-7-8h7m-7-2h7m-8 0h7m-10 4h7m-8-1h7m-7-7h7m-8 10h7m-7-5h7m-8 10h7m-7-6h7m-7-5h7m-8-3h7m-10-5h7m-8-1h7m-8 12h7m-8 6h7m-7-16h7m-9 0h7m-8 2h7m-7-2h7m-8 4h7m-7-2h7m-12 15h7m-7-18h7m-8 11h7m-8-3h7m-8-8h7m-8 12h7m-9-4h7m-7-2h7m-7 0h7m-8 13h7m-7-5h7m-7-19h7m-8 9h7m-8 12h7m-8-2h7m-7 0h7m-8-19h7m-10 18h7m-8-2h7m-8 2h7m-8-17h7m-8 10h7m-8 0h7m-8 12h7m-8-21h7m-9 13h7m-9-1h7m-7 0h7m-8 5h7m-7-10h7m-8-5h7m-8-1h7m-11 12h7m-7-3h7m-8 7h7m-7-5h7m-8-3h7m-9 8h7m-7-10h7m-8 13h7m-7-10h7m-7-9h7m-8 10h7m-8-8h7m-7-2h7m-8 12h7m-7-11h7m-7-2h7m-8 4h7m-8-2h7m-8 11h7m-8-13h7m-8 7h7m-7-4h7m-8 17h7m-7-4h7m-7-5h7m-9 8h7m-7-20h7m-8 22h7m-7-4h7m-7-1h7m-7-14h7m-7-3h7m-8 11h7m-7-4h7m-7-3h7m-7-4h7m-8 15h7m-8-2h7m-8-10h7m-8 11h7m-7-4h7m-8-4h7m-7-3h7m-12 19h7m-7-15h7m-8 11h7m-7-1h7m-7-5h7m-9 5h7m-7-3h7m-8 6h7m-7-9h7m-7 0h7m-8 6h7m-9-3h7m-8-10h7m-8 6h7m-8 10h7m-8-5h7m-8 0h7m-9 0h7m-8 8h7m-7-2h7m-8-6h7m-8 3h7m-7 0h7m-8 2h7m-7-17h7m-7-1h7m-8 13h7m-8 4h7m-8-14h7m-8 10h7m-10 4h7m-7-18h7m-9 5h7m-8 4h7m-8 8h7m-7 0h7m-8 4h7m-11-15h7m-7-8h7m-8 3h7m-8 20h7m-7 0h7m-7-4h7m-8 5h7m-7-3h7m-7-9h7m-7-2h7m-7-7h7m-8 18h7m-8 0h7m-8-15h7m-8 8h7m-8 4h7m-7-5h7m-8-12h7m-8 12h7m-8 1h7m-7-4h7m-7-6h7m-8-2h7m-11 17h7m-8-11h7m-7-4h7m-8 15h7m-8 1h7m-7-2h7m-8-1h7m-8 5h7m-7-8h7m-9-12h7m-9 4h7m-9-2h7m-7-2h7m-8 21h7m-7 0h7m-7-18h7m-8-3h7m-8 22h7m-7-1h7m-8-6h7m-10-1h7m-9-16h7m-9 3h7m-8 15h7m-7-15h7m-8 14h7m-7-13h7m-9 17h7m-9-5h7m-7-10h7m-10 16h7m-7-1h7m-8 0h7m-7-19h7m-9 2h7m-8 20h7m-8-5h7m-7-14h7m-8 18h7m-7-17h7m-9 14h7m-7-7h7m-8-5h7m-8 15h7m-7 0h7m-7-14h7m-7-9h7m-8 18h7m-8-14h7m-7-1h7m-7-1h7m-8 21h7m-7-9h7m-7-9h7m-8 18h7m-8 1h7m-9-10h7m-7-6h7m-9 7h7m-9 1h7m-8 5h7m-7-21h7m-8 9h7m-8-2h7m-8-6h7m-8 20h7m-7-9h7m-8 12h7m-7-7h7m-7-6h7m-7-1h7m-7-2h7m-8 6h7m-10 6h7m-7-7h7m-8 1h7m-9 6h7m-7-14h7m-9-1h7m-9 0h7m-7-4h7m-8 0h7m-8 11h7m-7-11h7m-8 18h7m-7-14h7m-9 1h7m-7-6h7m-8 24h7m-7-4h7m-7-1h7m-9-1h7m-8 6h7m-7-22h7m-8 14h7m-11 0h7m-7-9h7m-9 13h7m-7-17h7m-8 21h7m-7-5h7m-8-1h7m-7-10h7m-7-6h7m-10 1h7m-9 9h7m-8-8h7m-8-3h7m-9 7h7m-8-5h7m-8 18h7m-8-10h7m-8 4h7m-8 4h7m-8-1h7m-8 2h7m-7-11h7m-9 12h7m-7-6h7m-7-9h7m-8 9h7m-8 7h7m-8-2h7m-7-15h7m-8 10h7m-8-4h7m-11 7h7m-7-18h7m-8 16h7m-7-3h7m-8-5h7m-7-3h7m-8 12h7m-8 7h7m-8-14h7m-10-3h7m-7-2h7m-9 19h7m-7-3h7m-12-11h7m-9 4h7m-9-8h7m-8 0h7m-8 18h7m-7-2h7m-7 0h7m-7-5h7m-8 4h7m-10 1h7m-7-7h7m-9 4h7m-7-13h7m-10 9h7m-8 6h7m-9-5h7m-10-11h7m-10 13h7m-7-4h7m-9-2h7m-7-8h7m-13 2h7m-10 12h7m-16-16h7m-10 16h7m-8-10h7m-26 11h7m-12-4h7m-8-9h7m-137 4h7m-92 16h7m30-1h7m47 9h7m0-6h7m113-3h7m-5 7h7m17 13h7m0-12h7m-5-1h7m-5 14h7m-5-2h7m-2-16h7m-6 7h7m-1-10h7m-5 10h7m-6 7h7m-7 4h7m1-11h7m-7 10h7m-6-7h7m-7 7h7m-6-10h7m-6-7h7m-5-2h7m-6 0h7m-7 8h7m-5-4h7m-6 2h7m2-6h7m-6 19h7m-5-6h7m-6-4h7m-4 10h7m-6 1h7m-6-9h7m-6 3h7m-6 1h7m2-11h7m-6 0h7m-4-5h7m-7 2h7m-6 10h7m-6-8h7m-7 2h7m-7 3h7m-6-1h7m-7 9h7m-5 0h7m-5-16h7m-5 9h7m-6-2h7m-4 10h7m-6-12h7m-5 14h7m-4-3h7m-6-9h7m-7 5h7m-7 11h7m-5-24h7m-6 0h7m-6 6h7m-7 10h7m-5-1h7m-7 5h7m-5-3h7m-6 3h7m-3-19h7m-7 11h7m-7 5h7m-4-6h7m-7 7h7m-6-4h7m-6-14h7m-7 6h7m-6-3h7m-6-3h7m-7 16h7m-6-6h7m-6 13h7m-5-12h7m-5-8h7m-6 1h7m-6-3h7m-4-1h7m-7 9h7m-6 9h7m-7 5h7m-5-20h7m-7 21h7m-6-11h7m-7 4h7m-7 4h7m-6-14h7m-7 2h7m-7 2h7m-7 2h7m-6-8h7m-6 4h7m-7 5h7m-7 4h7m-4-13h7m-7 1h7m-6 15h7m-6-13h7m-7 2h7m-6-3h7m-7 16h7m-6-23h7m-7 2h7m-7 3h7m-7 19h7m-6-15h7m-5 7h7m-7 8h7m-6-8h7m-7 2h7m-6-10h7m-4 2h7m-6-9h7m-6 9h7m-7 13h7m-6-14h7m-6-9h7m-7 15h7m-6-5h7m-6-4h7m-7 1h7m-6-3h7m-7 0h7m-6 3h7m-6-5h7m-5 15h7m-3-14h7m-6 9h7m-6-8h7m-7 2h7m-5-5h7m-7 0h7m-7 1h7m-7 15h7m-6-11h7m-6-6h7m-2 4h7m-7 17h7m-6-20h7m-7 1h7m-6 6h7m-7 8h7m-6-7h7m-7 3h7m-6 8h7m-7 3h7m-5-16h7m-7 9h7m-7 0h7m-7 2h7m-5-7h7m-7 7h7m-6-8h7m-5-6h7m-6 3h7m-6 3h7m-7 7h7m-7 1h7m-6-15h7m-7 5h7m-5-2h7m-7 7h7m-5-7h7m-7 3h7m-6-8h7m-7 5h7m-7 16h7m-5-10h7m-7 2h7m-7 1h7m-7 4h7m-5-7h7m-7 2h7m-7 2h7m-5-16h7m-7 20h7m-6-12h7m-7 4h7m-6 6h7m-6-8h7m-7 3h7m-6-6h7m-7 13h7m-5-4h7m-5-14h7m-5 0h7m-7 21h7m-6-16h7m-7 7h7m-6-9h7m-5-5h7m-7 20h7m-7 3h7m-6-15h7m-7 11h7m-6-3h7m-7 3h7m-6-15h7m-7 11h7m-7 9h7m-6-14h7m-7 9h7m-6 1h7m-5-12h7m-5 11h7m-5-12h7m-6 0h7m-6 3h7m-6-3h7m-5 0h7m-6-2h7m-6-4h7m-6 3h7m-7 3h7m-5 11h7m-7 3h7m-6-19h7m-7 4h7m-7 6h7m-6 2h7m-7 1h7m-5-10h7m-6-5h7m-7 3h7m-7 2h7m-4 2h7m-6 2h7m-5-4h7m-5-5h7m-7 6h7m-7 4h7m-6 6h7m-3-13h7m-7 5h7m-6-1h7m-7 3h7m-6 5h7m-7 8h7m-5-5h7m-5-10h7m-6-8h7m-7 8h7m-7 14h7m-6-2h7m-6-18h7m-7 19h7m-6-6h7m-5-13h7m-7 3h7m-7 12h7m-6-10h7m-7 11h7m-6-18h7m-6 6h7m-6 5h7m-6-5h7m-7 2h7m-7 2h7m-7 6h7m-6-12h7m-7 0h7m-5 0h7m-7 0h7m-7 1h7m-7 14h7m-7 5h7m-5-22h7m-5-2h7m-5 7h7m-6-4h7m-6 8h7m-7 2h7m-6-9h7m-7 3h7m-6 3h7m-6 5h7m-6-11h7m-7 17h7m-6-16h7m-7 7h7m-7 8h7m-5-20h7m-7 2h7m-7 7h7m-6-8h7m-7 17h7m-6-18h7m-7 9h7m-7 9h7m-6-18h7m-7 5h7m-7 3h7m-7 11h7m-4-7h7m-6-6h7m-7 7h7m-6 8h7m-7 3h7m-6-14h7m-7 2h7m-7 8h7m-6-19h7m-6 19h7m-6-12h7m-6 8h7m-5-14h7m-7 1h7m-7 16h7m-4-2h7m-6-3h7m-7 3h7m-6-9h7m-6-5h7m-7 16h7m-6 4h7m-6-15h7m-7 7h7m-5-5h7m-7 7h7m-3-17h7m-6 12h7m-2-3h7m-7 2h7m-5-8h7m-6 8h7m-7 6h7m-7 2h7m-6-14h7m-6 4h7m-6 1h7m-6-9h7m-7 7h7m-5-8h7m-7 15h7m-7 5h7m-6-6h7m-6-11h7m-7 0h7m-6 5h7m-7 3h7m-6-5h7m-6 14h7m-6-11h7m-7 3h7m-7 7h7m-5-18h7m-7 7h7m-7 7h7m-6-3h7m-6-8h7m-6 6h7m-6-3h7m-7 1h7m-5 5h7m-6 9h7m-6-4h7m-4-10h7m-7 13h7m-6-3h7m-5-15h7m-7 11h7m-6 1h7m-7 9h7m-7 0h7m-6-21h7m-6 3h7m-6 11h7m-7 6h7m-6-22h7m-6 18h7m-3-15h7m-6 14h7m-5-7h7m-6 4h7m-6-15h7m-7 17h7m-7 6h7m-2-7h7m-7 4h7m-7 1h7m-4-15h7m-11 38h7m-8-1h7m-9 5h7m-12-1h7m-7-18h7m-14 20h7m-9-20h7m-9-3h7m-12 6h7m-8 16h7m-7-20h7m-9 0h7m-8 3h7m-10 1h7m-8 5h7m-11 2h7m-8 9h7m-7-13h7m-8-1h7m-8-6h7m-10 21h7m-7-17h7m-8 10h7m-7-17h7m-8 18h7m-7-10h7m-9-3h7m-14 7h7m-7-1h7m-8 0h7m-7-10h7m-11 2h7m-7 0h7m-7-3h7m-8 0h7m-8 0h7m-9 4h7m-12 18h7m-7-8h7m-7-14h7m-9 11h7m-8 5h7m-7-15h7m-9 2h7m-10 14h7m-10-10h7m-9 9h7m-8-14h7m-8 1h7m-8 6h7m-9 14h7m-7-13h7m-7-5h7m-7-1h7m-8 7h7m-9 0h7m-8 3h7m-8-11h7m-8 18h7m-7-2h7m-12-14h7m-8 13h7m-11 3h7m-7-8h7m-7-4h7m-13 9h7m-8 6h7m-8-6h7m-8-3h7m-7-13h7m-11 13h7m-7-4h7m-10 2h7m-8-12h7m-9 9h7m-8 1h7m-10 5h7m-7-4h7m-8-3h7m-9 0h7m-7-7h7m-10 21h7m-7-3h7m-8-19h7m-8 22h7m-7-11h7m-8 8h7m-7-14h7m-10 16h7m-11 0h7m-8-3h7m-12-14h7m-7 0h7m-11 9h7m-7-14h7m-7 0h7m-8 5h7m-8 12h7m-8 6h7m-8-14h7m-10 5h7m-7-6h7m-11 9h7m-8-6h7m-7-11h7m-8 23h7m-8-17h7m-10 4h7m-7-9h7m-14 18h7m-8-18h7m-8 14h7m-14-11h7m-12 7h7m-11-6h7m-7 0h7m-8 9h7m-8 0h7m-8-8h7m-12 1h7m-8 7h7m-7-6h7m-11 12h7m-7-17h7m-8 8h7m-8-11h7m-10 4h7m-8 5h7m-7-6h7m-8 14h7m-9-2h7m-8-8h7m-8 10h7m-8-16h7m-9 5h7m-8 13h7m-9-16h7m-11 6h7m-8-8h7m-8 12h7m-9 7h7m-7-17h7m-9-2h7m-8 3h7m-12 10h7m-10 0h7m-8-6h7m-8-1h7m-9 9h7m-7-6h7m-7-9h7m-10 7h7m-8 15h7m-7-15h7m-10 3h7m-11 2h7m-9-5h7m-7-6h7m-9 18h7m-10-2h7m-11-13h7m-9 11h7m-8-13h7m-12 1h7m-8 9h7m-8-9h7m-8 4h7m-8-4h7m-22 15h7m-7-16h7m-11-3h7m-8 10h7m-13-3h7m-8 7h7m-8 8h7m-11-8h7m-7 0h7m-9-8h7m-10-1h7m-7-2h7m-13 4h7m-12 3h7m-10-2h7m-36 1h7m-9 4h7m-8 0h7m-7-12h7m-17 11h7m-13-11h7m-13 13h7m-26-5h7m-280 25h7m51-9h7m25 6h7m202 12h7m10 5h7m0-20h7m4 6h7m21 3h7m-1-12h7m-5 21h7m-5-18h7m-4 9h7m-1-7h7m12-5h7m-7 8h7m-6 12h7m-4-20h7m-3 1h7m1 20h7m-5-14h7m3 14h7m-6 2h7m-5-17h7m-6-1h7m0 17h7m-5-21h7m-5 7h7m-2 12h7m0-11h7m-6-4h7m-7 6h7m-4-8h7m-7 10h7m-6-9h7m-3 9h7m-1 4h7m-5-6h7m-6-4h7m-1 8h7m-5 1h7m-5 0h7m-6 4h7m-3-20h7m-7 16h7m-6-6h7m1-7h7m-5 12h7m-5-10h7m-5 16h7m-5-16h7m-7 12h7m-3 4h7m-5-20h7m-6-1h7m-1 23h7m4-10h7m-6-3h7m-3 12h7m-6-6h7m-5-15h7m-5 23h7m-4-2h7m-3-13h7m-6 11h7m-3-8h7m-5 3h7m-1 9h7m-6-18h7m-6-2h7m-7 6h7m-6 10h7m-5 0h7m-7 2h7m-6-20h7m-7 21h7m-5-10h7m-4-6h7m-7 0h7m-6-7h7m-6 15h7m-5-13h7m-5 4h7m-7 2h7m-7 7h7m-6 3h7m-4-8h7m-6 11h7m-1-15h7m-7 3h7m-7 10h7m-4-1h7m-6-5h7m-6-3h7m-6 9h7m-5-7h7m-7 6h7m-6-17h7m-7 5h7m-5 8h7m-6-5h7m-7 7h7m-6-15h7m-6 12h7m-6 7h7m-6-20h7m-6 14h7m-5-5h7m-4 6h7m-7 4h7m-5-16h7m-1 11h7m-6-12h7m-7 12h7m-4 2h7m-5-9h7m-4-7h7m-7 19h7m-4-7h7m-6 5h7m-4-7h7m-6-10h7m-4 4h7m-7 14h7m0-16h7m-6 0h7m-6 14h7m-4-15h7m-6 12h7m-4 9h7m-3-18h7m-4 18h7m-5-11h7m-7 11h7m-4-4h7m-6 1h7m-4-10h7m-6-7h7m-7 17h7m-3 1h7m-3-5h7m-7 25h7m-10-12h7m-9 3h7m-9 5h7m-8 8h7m-7-19h7m-8 17h7m-8-13h7m-11 18h7m-10-10h7m-8-11h7m-12 14h7m-8-12h7m-10 19h7m-8-10h7m-8 1h7m-12-8h7m-7-4h7m-7-1h7m-11 13h7m-7 0h7m-16-3h7m-12-6h7m-10 15h7m-10-10h7m-13 10h7m-15 4h7m-10-23h7m-14 4h7m-8 19h7m-7-13h7m-7-8h7m-10 18h7m-7-9h7m-7-4h7m-7-4h7m-10 4h7m-7-3h7m-8 9h7m-10 1h7m-9 8h7m-7-3h7m-7-14h7m-8 12h7m-8 6h7m-8-10h7m-9-7h7m-8-3h7m-10 11h7m-9-2h7m-8-1h7m-7-9h7m-8 3h7m-9 7h7m-11 0h7m-7-2h7m-8 9h7m-9-15h7m-9 16h7m-8-9h7m-9-6h7m-7-4h7m-14 19h7m-10-17h7m-8 1h7m-9 8h7m-20 10h7m-7-22h7m-9 16h7m-10 8h7m-7-22h7m-8-1h7m-8 16h7m-10 7h7m-8-6h7m-7-18h7m-10 14h7m-7-10h7m-8 8h7m-7-2h7m-8 2h7m-8 6h7m-13 2h7m-7-4h7m-8-6h7m-11 9h7m-7-14h7m-11 8h7m-7-3h7m-7-5h7m-11 3h7m-9 3h7m-9-8h7m-8 1h7m-9 8h7m-12-8h7m-8 6h7m-18-1h7m-7-4h7m-8 3h7m-8 7h7m-12 3h7m-7-12h7m-10 18h7m-8-5h7m-7-1h7m-8-15h7m-8 19h7m-9-7h7m-18 6h7m-12 2h7m-8-10h7m-21 7h7m-12 1h7m-11 0h7m-8-3h7m-11-2h7m-18 4h7m-11-7h7m-10 0h7m-8-13h7m-11 8h7m-14-2h7m-19-2h7m-8 17h7m-23-12h7m-10-7h7m-14 13h7m-30 1h7m-26 5h7m-38-9h7m-79 1h7m-29 9h7m-141-7h7m-34 19h7m68 14h7m204-8h7m16-8h7m1 4h7m0 6h7m-2-13h7m-3 13h7m13 4h7m5-18h7m-5 18h7m-6 1h7m-6-11h7m-7 12h7m-4-12h7m-6 3h7m0-5h7m-2-3h7m1-2h7m-5 1h7m-7 7h7m4 11h7m-6-2h7m-7 1h7m-5 1h7m-4-6h7m-2 7h7m-2-2h7m-5 1h7m0-5h7m-3 2h7m-6-13h7m-6-4h7m-6 0h7m-7 10h7m-3 9h7m-3-10h7m-7 6h7m-4 4h7m-5-5h7m-7 4h7m-6-10h7m-6-1h7m-6 1h7m-2-4h7m-6-6h7m-7 12h7m-6-2h7m-7 11h7m0 0h7m-5 0h7m-3-17h7m-5 6h7m-5-11h7m-5 24h7m-4-14h7m-7 2h7m-6 5h7m-6 3h7m-6-6h7m-6-2h7m-4 2h7m-6-11h7m-5 0h7m-6 9h7m-5 1h7m-7 11h7m-3-13h7m-2 0h7m-6-7h7m-6 3h7m-6-7h7m-7 7h7m-6 7h7m-5 0h7m-6 10h7m-6-22h7m-6 3h7m-6 0h7m-7 3h7m-7 6h7m-5-6h7m-7 7h7m-6-6h7m-7 12h7m-7 1h7m-6-2h7m-5-3h7m-6-17h7m-7 14h7m-5-12h7m-7 4h7m-7 7h7m-7 10h7m-5-15h7m-7 7h7m-4-7h7m-7 9h7m-6-11h7m-5-6h7m-7 16h7m-6-3h7m-4-5h7m-7 9h7m-7 7h7m-4-6h7m-6-10h7m-6 5h7m-7 7h7m-6-11h7m-6 3h7m-7 2h7m-6-7h7m-6 10h7m-7 5h7m-6-13h7m-6-8h7m-7 8h7m-5 5h7m-6-5h7m-1-5h7m-4 8h7m3 10h7m-5-8h7m-6 4h7m-4-15h7m-6 16h7m-5-17h7m-6 11h7m-7 1h7m-6-11h7m-6 9h7m-7 5h7m-6-14h7m-6 15h7m-7 4h7m-6-11h7m-3-6h7m-4 9h7m-3-7h7m-5 8h7m-7 9h7m-5-7h7m-6-15h7m-5 0h7m-6 4h7m-5 15h7m-6-11h7m-6 12h7m-2-18h7m-6-1h7m-2 12h7m-6-13h7m-4 16h7m-4 6h7m-6-15h7m-6-4h7m-4 1h7m-5 6h7m-6 9h7m-6-3h7m-2-11h7m-7 7h7m-5 7h7m-7 0h7m-7 2h7m-4-1h7m-5-7h7m-5-10h7m-6 3h7m-2-8h7m-7 21h7m-5-4h7m-2-10h7m-1-1h7m-6 40h7m-25-5h7m-8-5h7m-9-3h7m-10 11h7m-8-16h7m-16 5h7m-8-4h7m-8 8h7m-9 0h7m-8-11h7m-8 13h7m-9-14h7m-10 4h7m-8 5h7m-9 2h7m-11 13h7m-8-4h7m-8-1h7m-11-7h7m-10-4h7m-8 0h7m-12 10h7m-7-2h7m-8-15h7m-8 19h7m-10-1h7m-8-17h7m-8 8h7m-8 5h7m-10 4h7m-7 0h7m-7-14h7m-7-2h7m-8 15h7m-8 5h7m-14-6h7m-9-2h7m-10-4h7m-8-4h7m-8-4h7m-8 0h7m-9 9h7m-9-3h7m-8 11h7m-8-8h7m-8-5h7m-8 1h7m-14-2h7m-8 1h7m-8 5h7m-7-7h7m-7-5h7m-9 14h7m-7-13h7m-9 8h7m-7 0h7m-8 2h7m-9 4h7m-9-3h7m-9-10h7m-8 4h7m-7-4h7m-10 22h7m-9-9h7m-7-15h7m-8 7h7m-9 8h7m-10 3h7m-7-16h7m-8 18h7m-9-10h7m-7-4h7m-7-6h7m-11 2h7m-8 5h7m-8 4h7m-7-11h7m-8 11h7m-7-5h7m-8 8h7m-7-10h7m-10 13h7m-8-9h7m-8-2h7m-8 18h7m-7-21h7m-9 7h7m-7-7h7m-8 14h7m-7-2h7m-7-7h7m-8 10h7m-7-5h7m-9-3h7m-8 7h7m-9-12h7m-9 13h7m-7-8h7m-8 9h7m-7-5h7m-7-14h7m-8 17h7m-7-10h7m-8 9h7m-7-11h7m-15 14h7m-7-9h7m-7-7h7m-9 3h7m-8 12h7m-7-12h7m-8 3h7m-8 7h7m-8-3h7m-7-1h7m-13-4h7m-7-1h7m-7-6h7m-7-1h7m-14 18h7m-7-15h7m-8 12h7m-9 8h7m-7-4h7m-7-13h7m-7 0h7m-7 0h7m-8-5h7m-8 18h7m-7-17h7m-9 3h7m-8 15h7m-7-17h7m-8 20h7m-7-16h7m-8 14h7m-7-8h7m-9 5h7m-7-17h7m-10-1h7m-9 10h7m-8 10h7m-13 2h7m-16-20h7m-10 13h7m-7-13h7m-11 8h7m-8 13h7m-8-7h7m-8 7h7m-11 0h7m-7-23h7m-8 16h7m-8-15h7m-9 21h7m-10-14h7m-9 4h7m-8 4h7m-9 5h7m-7-8h7m-9 6h7m-12-14h7m-10 17h7m-9-7h7m-12-1h7m-14-14h7m-8 2h7m-14 10h7m-13 12h7m-14-3h7m-9-19h7m-10 2h7m-9-1h7m-14 3h7m-9 13h7m-8-16h7m-8 12h7m-12 0h7m-8 0h7m-15 5h7m-7-1h7m-7-10h7m-16 3h7m-7-3h7m-10 7h7m-23 2h7m-9 5h7m-12-17h7m-10 15h7m-29 0h7m-7-10h7m-19 7h7m-9 4h7m-7-16h7m-12 17h7m-36-4h7m-58-10h7m-24 15h7m-11-15h7m-48 3h7m-70 12h7m-39 0h7m-11-2h7m-10-16h7m-33 7h7m28 29h7m25-2h7m29 4h7m17 2h7m51-1h7m21-1h7m-5 4h7m9-1h7m16 1h7m44-10h7m-1-6h7m-7 13h7m-3-11h7m-4 11h7m3-4h7m-6-7h7m1 0h7m-7 4h7m-4 9h7m6-9h7m-4 1h7m-6-3h7m0-7h7m-7 6h7m-6 10h7m-5-16h7m-4 3h7m-7 11h7m-6 4h7m-5-14h7m-4-6h7m-5 3h7m-5-5h7m-3 13h7m-3-2h7m-5-6h7m-7 7h7m-5 11h7m-2-21h7m-6-2h7m-4 4h7m-7 3h7m-7 0h7m-6-4h7m-5 11h7m-5 3h7m-6-9h7m-5 6h7m-1 4h7m-5-5h7m-6 6h7m-2 5h7m-4-6h7m-5-7h7m-7 5h7m-6-7h7m-6 2h7m-5 0h7m-7 5h7m-1 0h7m-6 8h7m-3-20h7m-5 12h7m-4-12h7m-6 3h7m-5 11h7m0-13h7m-7 5h7m-7 2h7m-5 1h7m-3 1h7m-2-10h7m-7 14h7m-6-2h7m-6-7h7m-7 11h7m-5-17h7m-7 10h7m-4-2h7m0 12h7m-5-17h7m-7 11h7m-4-14h7m-5 14h7m-3-15h7m-6 18h7m-5-11h7m-6 9h7m-7 3h7m-5-5h7m-7 3h7m-7 5h7m-6 0h7m-5-18h7m-1 16h7m-6-1h7m-5 0h7m-5-10h7m-6-8h7m-6 2h7m-7 11h7m-7 2h7m-5-17h7m-6 9h7m-5 6h7m-6-13h7m-6 11h7m-4 10h7m-6-23h7m-6 8h7m-7 6h7m-5 8h7m-6-8h7m-7 4h7m-6-18h7m-7 1h7m-4-2h7m-7 13h7m-5 2h7m-6 7h7m-6-20h7m-6 2h7m-7 1h7m-7 14h7m-6-14h7m-6 13h7m-6-15h7m-7 19h7m-6-21h7m-7 8h7m-7 3h7m-4 10h7m-2-5h7m-6-12h7m-5 2h7m-2 17h7m-5-1h7m-4-17h7m-6-2h7m-6 17h7m-6-8h7m-6 6h7m-6-15h7m-7 12h7m-6 6h7m-6-15h7m-6 3h7m-1 10h7m-1-12h7m-5 8h7m-5-15h7m-5 9h7m1-4h7m-4 16h7m-7 0h7m4-2h7m-3-17h7m-1-1h7m-2 3h7m0 17h7m-3-11h7m-7 3h7m11 1h7m-5 3h7m-1 5h7m-5-13h7m4 26h7m-12 0h7m-12-8h7m-12 18h7m-7-5h7m-10-16h7m-16 9h7m-14-6h7m-12 17h7m-9-15h7m-7-3h7m-8 3h7m-9-5h7m-18 15h7m-23-9h7m-13 6h7m-8-1h7m-11-5h7m-9-5h7m-8 10h7m-10 0h7m-23-1h7m-15-8h7m-12 0h7m-9 10h7m-11 8h7m-7-6h7m-13 1h7m-11-13h7m-12 8h7m-14-1h7m-8-7h7m-9 3h7m-10 3h7m-10-5h7m-8 18h7m-8-12h7m-8 15h7m-7-4h7m-8-19h7m-9 9h7m-7-1h7m-10 3h7m-7-10h7m-8-2h7m-10 23h7m-7-3h7m-7-3h7m-8-8h7m-11 1h7m-11 5h7m-7-14h7m-8 14h7m-8-10h7m-8 6h7m-9-6h7m-10 0h7m-8 1h7m-9-4h7m-9 14h7m-7-5h7m-9 1h7m-11-2h7m-7-4h7m-11 3h7m-7-8h7m-8 3h7m-12 14h7m-11-2h7m-11 0h7m-8 0h7m-10 2h7m-7-6h7m-10 5h7m-8-8h7m-9-4h7m-9 19h7m-8-22h7m-8 18h7m-7-20h7m-8 18h7m-10 6h7m-7-1h7m-7-14h7m-10 8h7m-11-7h7m-7-3h7m-9 9h7m-7-8h7m-11 8h7m-10 3h7m-8 5h7m-12-17h7m-7-7h7m-10 23h7m-7-2h7m-7-3h7m-9 0h7m-8-10h7m-12 8h7m-7-13h7m-10 8h7m-7-11h7m-8 13h7m-8 6h7m-8-9h7m-9 13h7m-13-7h7m-8-16h7m-8 9h7m-14-9h7m-11 15h7m-8-10h7m-12-4h7m-8 23h7m-8-11h7m-9 3h7m-7-16h7m-11 21h7m-9-13h7m-7 0h7m-12 15h7m-8 1h7m-7-14h7m-8 10h7m-9-17h7m-9 8h7m-11 5h7m-9 3h7m-7-19h7m-8 20h7m-9-1h7m-7-17h7m-11 8h7m-12-7h7m-13 20h7m-19-18h7m-9 16h7m-11-8h7m-23 11h7m-14-1h7m-10-15h7m-7-5h7m-10 14h7m-10-3h7m-8 10h7m-13 0h7m-20-13h7m-12 6h7m-9-6h7m-19 9h7m-13-6h7m-21 4h7m-17-1h7m-11 1h7m-16 0h7m-9 1h7m-8-2h7m-15-12h7m-12 6h7m-19 3h7m-24-5h7m-21 12h7m-27-2h7m-9-2h7m-7-12h7m-64 15h7m-69-11h7m-11-9h7m-18 12h7m-5 37h7m6-15h7m1-6h7m21 2h7m-5 15h7m-7 0h7m-1-2h7m16-13h7m-7 18h7m-3-11h7m6 4h7m3 4h7m-3 0h7m-4-9h7m5 5h7m-7 4h7m-6-1h7m-5-7h7m-6-1h7m1 8h7m-3 1h7m-5-2h7m-5-16h7m-4 1h7m1 13h7m-5-16h7m1 11h7m-2-8h7m-3-2h7m1 5h7m-4 11h7m-6-5h7m-7 6h7m1-1h7m2-15h7m1 7h7m-6 2h7m-4-3h7m-6 16h7m-6-3h7m-1-4h7m-5-17h7m0 16h7m-6-4h7m5 4h7m-7 7h7m-6-14h7m4-2h7m-6 2h7m-4-5h7m-6 17h7m-5-4h7m-3 6h7m-5-11h7m-2-2h7m-3 6h7m-3-8h7m-5 10h7m0-10h7m-6 5h7m-6 10h7m-6-16h7m-2-6h7m-6 1h7m-6 12h7m-4-4h7m-6-3h7m-7 7h7m-7 1h7m-5-1h7m-6 10h7m-4-20h7m-4-4h7m-6 9h7m-4 7h7m-7 2h7m-6-2h7m-6-9h7m-5-2h7m8-4h7m-4 16h7m-7 7h7m-5-20h7m-4 9h7m0-1h7m-7 2h7m-5-14h7m-7 16h7m-3-4h7m-1 7h7m-6-18h7m-5 9h7m1 8h7m-6-16h7m-7 1h7m-7 21h7m-6-9h7m-3-7h7m-5-1h7m-6 6h7m-7 11h7m-6-15h7m-6 6h7m-4-1h7m-6-8h7m-4-5h7m-6 17h7m-4 4h7m-1 2h7m-6-15h7m-6 6h7m-5 1h7m-7 8h7m-6-7h7m-4-7h7m-7 3h7m-6 11h7m-5-2h7m-5-13h7m-4-9h7m-6 21h7m-6-12h7m-6 4h7m-7 4h7m-6-5h7m-7 2h7m-6-12h7m-6 8h7m-4-3h7m-7 6h7m-3 0h7m-6-12h7m-7 5h7m-5 10h7m-4-5h7m-6-9h7m-7 17h7m-6-7h7m-4 12h7m-6-23h7m-7 1h7m0 17h7m-6-7h7m-6-4h7m-2 2h7m0-1h7m-4-2h7m1-2h7m-7 2h7m6 2h7m-7 7h7m1 8h7m-6-18h7m-6 8h7m-6-9h7m-5 14h7m-5-9h7m-7 1h7m-4 10h7m-6-2h7m-4-11h7m-4 9h7m-6-15h7m-5-2h7m-6 20h7m-5-10h7m-6-1h7m3 12h7m-2-9h7m-7 3h7m-6 4h7m-3-8h7m-2-9h7m-1 9h7m7-8h7m0 13h7m-2-7h7m-6-9h7m-5 15h7m-5 1h7m-6-15h7m-5 5h7m-5 5h7m4-4h7m-3 1h7m-5-5h7m8 20h7m0-4h7m-5-12h7m-1-6h7m-5 1h7m24 9h7m0-11h7m-1 19h7m-35 19h7m-16 2h7m-41-15h7m-60 10h7m-11 7h7m-13-15h7m-12 18h7m-9-6h7m-12-10h7m-8 14h7m-12 6h7m-11-7h7m-9-17h7m-9 4h7m-11 6h7m-16 6h7m-15-7h7m-8-8h7m-13 9h7m-7-7h7m-8 15h7m-8-11h7m-12-6h7m-8 8h7m-12-7h7m-10 18h7m-7-1h7m-11 0h7m-8-17h7m-14 22h7m-9-6h7m-7-1h7m-8-16h7m-9 15h7m-10 6h7m-9-12h7m-14 11h7m-8-3h7m-8-8h7m-8-7h7m-9 18h7m-7-17h7m-9 3h7m-8-6h7m-8 3h7m-14 19h7m-7-14h7m-7-7h7m-12 19h7m-7-7h7m-7-10h7m-10 14h7m-10-7h7m-8-1h7m-10 5h7m-7-8h7m-8 5h7m-9 1h7m-7-4h7m-10 6h7m-11 0h7m-7-8h7m-10 16h7m-7-19h7m-9 13h7m-8-7h7m-10 7h7m-8-3h7m-9 7h7m-7-15h7m-8 2h7m-10-2h7m-10 5h7m-7-1h7m-7-7h7m-10 21h7m-11-8h7m-8 3h7m-7-6h7m-9 7h7m-7-16h7m-9 18h7m-10-12h7m-8 10h7m-8-7h7m-8-11h7m-8 19h7m-8-7h7m-9-8h7m-11-3h7m-10 3h7m-9 12h7m-7-8h7m-7-8h7m-8 19h7m-7-21h7m-8 21h7m-7-10h7m-8 12h7m-7-15h7m-8 8h7m-8-12h7m-15 13h7m-8-1h7m-8-2h7m-8-9h7m-15 12h7m-10-14h7m-9 13h7m-7-13h7m-8 3h7m-8 13h7m-13 4h7m-10 0h7m-14-16h7m-9 6h7m-8 10h7m-7-3h7m-9 3h7m-9-12h7m-8-7h7m-8 16h7m-10-5h7m-17 4h7m-7-7h7m-7-12h7m-9 17h7m-11-15h7m-10 16h7m-8-6h7m-9-4h7m-9 12h7m-8-12h7m-7-1h7m-9 17h7m-7-4h7m-7-9h7m-9-6h7m-13 11h7m-10 3h7m-9-2h7m-7-9h7m-7-6h7m-8 20h7m-8-16h7m-8 0h7m-8 1h7m-8 2h7m-10 10h7m-12-5h7m-7-13h7m-8 4h7m-8 6h7m-8 3h7m-8 0h7m-9 2h7m-10 4h7m-7-2h7m-7-8h7m-7-8h7m-8-1h7m-12-1h7m-9 22h7m-10-15h7m-8 6h7m-12 3h7m-9-5h7m-8-7h7m-8 13h7m-8-5h7m-7-2h7m-8 0h7m-10 7h7m-8 7h7m-8-8h7m-7 0h7m-7-8h7m-8-6h7m-8 3h7m-10 2h7m-12 9h7m-7-4h7m-10 4h7m-9-16h7m-10 18h7m-8-4h7m-9-14h7m-10 7h7m-9 4h7m-8 13h7m-8-17h7m-8 9h7m-7-3h7m-8 5h7m-10-5h7m-9 10h7m-8-21h7m-9 7h7m-8 4h7m-13-2h7m-8 0h7m-9 12h7m-8-21h7m-8 21h7m-8-23h7m-8 9h7m-8 2h7m-12 11h7m-8-2h7m-7-10h7m-8 10h7m-8 3h7m-10-6h7m-9-5h7m-9-8h7m-8 13h7m-8 2h7m-7-4h7m-7-14h7m-8 23h7m-7-4h7m-7-15h7m-9 19h7m-8-3h7m-8-13h7m-8 9h7m-8-16h7m-8 20h7m-7-21h7m-8 10h7m-9 2h7m-8 12h7m-7-3h7m-8-9h7m-8 9h7m-9-2h7m-10 3h7m-16-6h7m-22-2h7m-14 7h7m-14-2h7m-15-2h7m-13-2h7m-10 6h7m-7-2h7m-9-7h7m-18 7h7m-14-7h7m-11 2h7m-25-5h7m-17 9h7m-18 1h7m-20 21h7m-7 4h7m-6-2h7m4-1h7m6 5h7m-2-18h7m-4 5h7m6 12h7m1-17h7m-7 8h7m-3 6h7m3-11h7m0 11h7m-4-6h7m-4-2h7m-5 0h7m-5 2h7m2-4h7m-6-3h7m-6 18h7m-5-10h7m7-1h7m-2-9h7m-5 22h7m1-15h7m-2 4h7m-4-4h7m-7 1h7m-7 0h7m-6 1h7m-6 11h7m-5-10h7m-7 1h7m-7 6h7m-6-15h7m-7 13h7m-6 5h7m-6-1h7m-7 3h7m-6-17h7m-7 7h7m-6 6h7m-5-20h7m-7 16h7m-6 2h7m-4-4h7m-6-9h7m-7 12h7m-6-14h7m-7 10h7m-3 5h7m-5-1h7m-3-6h7m-6 10h7m-6 2h7m-6-13h7m-6-8h7m-7 1h7m-7 14h7m-5-8h7m-4 9h7m-5-12h7m-7 4h7m-7 7h7m-6-5h7m-6-1h7m-7 10h7m-6-20h7m-7 6h7m-6-6h7m-6 17h7m-4 5h7m-5-2h7m-6 0h7m-6 2h7m-6-14h7m-6-9h7m-7 7h7m-7 13h7m-4-17h7m-7 15h7m-6 2h7m-6-20h7m-7 20h7m-5-4h7m-6 0h7m-4-5h7m-7 1h7m-6-9h7m-6 10h7m-7 11h7m-6-6h7m-5-4h7m-7 0h7m-6 2h7m-6-8h7m-7 10h7m-6-17h7m-7 17h7m-6-15h7m-6 20h7m-7 1h7m-4-23h7m-7 13h7m-5 10h7m-5-16h7m-7 3h7m-7 0h7m-5 0h7m-3-6h7m-7 10h7m-5-11h7m-7 16h7m-6-20h7m-6 8h7m-2 7h7m-5-9h7m-6 17h7m-6-13h7m-7 5h7m-6-14h7m-6 5h7m-6-1h7m-7 5h7m-6 11h7m-4-19h7m-7 10h7m-4 9h7m-6-3h7m-6-2h7m-7 8h7m-4 0h7m-6-23h7m-6 6h7m-6 2h7m-4-5h7m-6 4h7m-7 15h7m-6-21h7m-4 5h7m-6-1h7m-6 15h7m-4-21h7m-6 5h7m-4 9h7m-6-14h7m-6 3h7m-5 15h7m-5-16h7m-6 8h7m-5 8h7m-6-12h7m-7 16h7m-5 1h7m-6-13h7m-6-2h7m-7 15h7m-3-6h7m-6-13h7m-4 10h7m-5-4h7m-5-5h7m-7 1h7m-6 11h7m-4-3h7m-6 5h7m-6-7h7m-5 6h7m-7 2h7m0-15h7m-5 8h7m-7 3h7m-6-8h7m-7 9h7m-6-14h7m-4 0h7m-7 12h7m-6-12h7m-6 6h7m-6 1h7m-5-6h7m-7 15h7m-6-19h7m-7 19h7m-6 5h7m-6-21h7m4-2h7m-5 17h7m-6-3h7m-7 5h7m-6-9h7m-7 11h7m-5-19h7m-3 19h7m8-10h7m-7 4h7m-5-10h7m-7 14h7m-7 0h7m-4-17h7m4 9h7m-7 1h7m-7 11h7m-4-19h7m-2-4h7m-7 4h7m1 5h7m-5 1h7m-3 7h7m0-12h7m-6 13h7m-7 2h7m4-3h7m-6 2h7m-6-5h7m-6-11h7m-6-3h7m-7 17h7m-5-5h7m-5 3h7m-3 1h7m-5 6h7m-5-21h7m-1 11h7m-6-12h7m-7 6h7m-6-4h7m-7 5h7m-4-3h7m15 0h7m-5-4h7m17 7h7m-2 6h7m-4-12h7m-6 15h7m10 3h7m3-17h7m-5 0h7m3 19h7m-5-15h7m-3 4h7m4 1h7m8 7h7m-5-11h7m66 8h7m-1-6h7m-1 17h7m-9 3h7m-79-3h7m-67 3h7m-24 13h7m-8-5h7m-10 0h7m-17-3h7m-14 8h7m-20-5h7m-11-1h7m-32-8h7m-8 20h7m-15-9h7m-7-13h7m-9-1h7m-8 9h7m-18 2h7m-17 3h7m-7-14h7m-11 10h7m-8-4h7m-7-4h7m-22 8h7m-9-7h7m-9 1h7m-7-2h7m-7-2h7m-10 22h7m-7 0h7m-11-8h7m-7-11h7m-8 6h7m-8-5h7m-10 5h7m-10 12h7m-9-6h7m-8 3h7m-7-6h7m-11 9h7m-10-21h7m-8 21h7m-8-17h7m-8 8h7m-11-1h7m-11 11h7m-7-4h7m-13 0h7m-7-4h7m-10-13h7m-8 20h7m-7-3h7m-9-2h7m-11 7h7m-8-3h7m-8-7h7m-7-11h7m-16 5h7m-9 9h7m-10 7h7m-8-13h7m-9-9h7m-10 15h7m-8 5h7m-7-8h7m-7-1h7m-9 0h7m-9-5h7m-8 7h7m-8-14h7m-8 9h7m-8 13h7m-8-1h7m-9 2h7m-10-13h7m-7-7h7m-11 9h7m-8 7h7m-7-15h7m-10 3h7m-10-5h7m-9 19h7m-11-7h7m-11-12h7m-8 2h7m-9 13h7m-7-15h7m-7-2h7m-10 11h7m-9-7h7m-9 19h7m-8-19h7m-8 10h7m-8-11h7m-8 12h7m-7-12h7m-11-1h7m-8 11h7m-8 1h7m-7-3h7m-8 10h7m-8-21h7m-8 17h7m-8-3h7m-10-11h7m-11 4h7m-7-2h7m-9 16h7m-9 0h7m-7-5h7m-7-13h7m-9 16h7m-9 3h7m-8-13h7m-9-6h7m-8 9h7m-8-2h7m-7-1h7m-8 13h7m-7-16h7m-11 10h7m-7 0h7m-8 7h7m-8-5h7m-7-19h7m-8 11h7m-9 2h7m-7-3h7m-7-3h7m-10 7h7m-7-3h7m-8-5h7m-7-1h7m-10 2h7m-10 14h7m-7-12h7m-8-8h7m-9 23h7m-9 0h7m-7-4h7m-8-1h7m-8 5h7m-8-14h7m-11-6h7m-8 7h7m-8 13h7m-9-7h7m-7-16h7m-8 10h7m-12 3h7m-9-7h7m-8 16h7m-7-5h7m-8 3h7m-7-5h7m-7-6h7m-8 8h7m-10-14h7m-7-4h7m-8 18h7m-7 0h7m-8-2h7m-7-10h7m-8-3h7m-8 16h7m-7-2h7m-7-15h7m-8 0h7m-8 21h7m-8-7h7m-7-5h7m-11 11h7m-7-9h7m-8-1h7m-7-3h7m-8 4h7m-9-2h7m-8 12h7m-8-17h7m-7-1h7m-10 18h7m-7-5h7m-7-16h7m-8 4h7m-10 13h7m-7-2h7m-7-17h7m-8 24h7m-7-21h7m-9 1h7m-8 8h7m-7-8h7m-8 11h7m-7-11h7m-8 17h7m-7-6h7m-8-4h7m-7-10h7m-8 16h7m-7-7h7m-8 12h7m-7-5h7m-7-14h7m-7-3h7m-8 18h7m-7-3h7m-8 6h7m-8-3h7m-7-13h7m-7-4h7m-8 6h7m-8 10h7m-7-1h7m-7-4h7m-8 10h7m-7-16h7m-8-2h7m-8 20h7m-7-9h7m-7-15h7m-8 9h7m-9-1h7m-8 10h7m-7-8h7m-7-1h7m-7-3h7m-8-5h7m-7-1h7m-8 22h7m-7-2h7m-7-9h7m-7-11h7m-8 18h7m-8 5h7m-15-15h7m-13-7h7m-8 4h7m-8 11h7m-8 8h7m-14-17h7m-15 14h7m-9-10h7m-9 0h7m-18 1h7m-8-6h7m-9 9h7m-18-14h7m-8 8h7m-7-6h7m-8-2h7m-9 7h7m-7-6h7m-21 13h7m-9-13h7m-9 16h7m-12-16h7m-7-1h7m-8 2h7m-12 2h7m-8 12h7m-13-10h7m-15-7h7m-8 15h7m-10-2h7m-15-13h7m-15 0h7m-13 9h7m-6 20h7m1 18h7m-7 2h7m-6-2h7m1-13h7m-3 1h7m-6 8h7m-3-9h7m-5 9h7m-6-6h7m-2-9h7m-3 16h7m7-11h7m-6 12h7m-5-4h7m-5-5h7m-3-9h7m-6 10h7m5 2h7m-3-13h7m0 15h7m-2-11h7m-5 17h7m-5-10h7m-3 5h7m-6 0h7m-6 6h7m0-23h7m-6 10h7m-7 14h7m-5-4h7m-5-14h7m5 0h7m-7 18h7m-1-21h7m-5 21h7m-6-10h7m-5-6h7m-6-4h7m-7 0h7m-7 14h7m-6-13h7m-7 13h7m-7 5h7m-6-14h7m-6 1h7m-6-10h7m-7 0h7m-7 20h7m-6-11h7m-7 3h7m-7 1h7m-7 3h7m-6 2h7m-5-10h7m-7 2h7m-6 1h7m-7 7h7m-2 1h7m-6-2h7m-6-16h7m-7 19h7m-5-13h7m-6 6h7m-7 11h7m-6-4h7m-7 2h7m-6-20h7m-7 8h7m-7 4h7m-6-14h7m-7 6h7m-7 8h7m-6-10h7m-6 0h7m-7 17h7m-7 0h7m-6-16h7m-7 10h7m-7 2h7m-6-5h7m-7 0h7m-6 10h7m-6-3h7m-6-7h7m-7 2h7m-7 3h7m-7 1h7m-7 1h7m-7 3h7m-7 1h7m-7 0h7m-6-16h7m-7 5h7m-6-9h7m-7 6h7m-7 7h7m-4 8h7m-5-17h7m-6-7h7m-6 9h7m-6 2h7m-7 5h7m-7 6h7m-6-16h7m-7 4h7m-7 10h7m-6-13h7m-7 1h7m-2 2h7m-7 2h7m-5 8h7m-6 4h7m-6-10h7m-7 6h7m-7 3h7m-5-21h7m-7 0h7m-6 3h7m-7 17h7m-6-16h7m-5 17h7m-6-19h7m-4 6h7m-7 12h7m-7 0h7m-6-22h7m-7 2h7m-7 9h7m-7 6h7m-6 6h7m-6-22h7m-1 6h7m-5 11h7m-7 0h7m-6-10h7m-7 13h7m-6-19h7m-7 11h7m-7 4h7m-7 0h7m-3-8h7m-6-6h7m-7 12h7m-6-8h7m-6-2h7m-6 14h7m-5-3h7m-7 8h7m-5-15h7m-7 7h7m-6-16h7m-7 15h7m-6-5h7m-6 1h7m-7 10h7m-6-19h7m-7 17h7m-7 1h7m-4-15h7m-6 11h7m-7 7h7m-6 0h7m-6-19h7m-7 19h7m-4-22h7m-5 11h7m-5-9h7m-4 5h7m-7 16h7m-6-15h7m-6-2h7m-7 3h7m-7 14h7m-6-10h7m-6-9h7m-7 12h7m-6-16h7m-7 2h7m-7 17h7m-4-17h7m-7 5h7m-5-2h7m-5 0h7m-7 0h7m-7 2h7m-7 3h7m-5 5h7m-6-8h7m-7 1h7m-4 6h7m-7 7h7m-2-6h7m-7 7h7m-6-16h7m-5-5h7m-4 4h7m-7 1h7m-4 9h7m1-10h7m-7 15h7m-5 1h7m-2-17h7m-3 13h7m-4-15h7m-2 19h7m-5-20h7m-1 11h7m-7 6h7m-2 2h7m-6 0h7m-5-17h7m-3-2h7m-5 4h7m-6 0h7m-2-2h7m-7 16h7m-6-12h7m-4 10h7m9 4h7m-6 2h7m-4-16h7m-7 10h7m-6 5h7m-6-11h7m-3 4h7m2 0h7m-6 5h7m1-3h7m-4-10h7m-6 2h7m-7 14h7m-6-8h7m-3-12h7m-3 14h7m-6 6h7m16-10h7m-6 1h7m10-4h7m-4 5h7m-7 6h7m6-22h7m7 1h7m-6 10h7m-4 13h7m-4-10h7m-4-11h7m-5 1h7m6-1h7m-1 6h7m8 8h7m25-12h7m7-1h7m17 8h7m-7 7h7m77 9h7m-133 1h7m-57 7h7m-22-1h7m-21 12h7m-22-18h7m-31-3h7m-12 6h7m-17 10h7m-20-14h7m-11-3h7m-9 2h7m-11 21h7m-16-18h7m-8 4h7m-18 2h7m-10 0h7m-10-6h7m-12 5h7m-7-7h7m-9 10h7m-7-5h7m-14-7h7m-9 10h7m-8-8h7m-13 8h7m-18 10h7m-11 1h7m-8-4h7m-12-16h7m-9-1h7m-13 4h7m-11 18h7m-15-21h7m-9 12h7m-9 2h7m-7-6h7m-9-1h7m-8-7h7m-10 3h7m-9 13h7m-10-12h7m-9 9h7m-11 7h7m-8 2h7m-8-6h7m-8-16h7m-8 13h7m-12-7h7m-8 16h7m-10-18h7m-8-4h7m-8 19h7m-8-19h7m-10 16h7m-8 1h7m-14-14h7m-11 16h7m-8-13h7m-8 14h7m-11-3h7m-7-4h7m-8 1h7m-7-1h7m-7-1h7m-8 3h7m-12-2h7m-8-1h7m-8 7h7m-7-15h7m-8 5h7m-9 6h7m-8 4h7m-7-6h7m-8-6h7m-9 4h7m-9 2h7m-7 0h7m-11 8h7m-8-6h7m-7-11h7m-9 17h7m-7-5h7m-8-8h7m-8 0h7m-8 6h7m-7 0h7m-7-9h7m-12-3h7m-9 16h7m-7-1h7m-7-7h7m-8 0h7m-8-4h7m-8 2h7m-8 12h7m-8 0h7m-8-4h7m-7-3h7m-7-14h7m-8 3h7m-9 10h7m-8 3h7m-7-2h7m-9 9h7m-8-8h7m-7-1h7m-7-3h7m-7-9h7m-8 20h7m-7-19h7m-8 19h7m-10-13h7m-9 5h7m-9-15h7m-11 15h7m-8-10h7m-8 15h7m-8-7h7m-7-10h7m-8 13h7m-7-6h7m-8 7h7m-9 5h7m-9-18h7m-7-3h7m-8 7h7m-8 7h7m-7-6h7m-7-2h7m-8 11h7m-9 0h7m-8-7h7m-7-9h7m-7-1h7m-8 8h7m-9-2h7m-8 2h7m-9 7h7m-9-2h7m-7-6h7m-7-1h7m-8 8h7m-7-14h7m-9 7h7m-8 12h7m-7-5h7m-7-4h7m-7-5h7m-8 1h7m-7 0h7m-8 17h7m-7-6h7m-7-16h7m-8 2h7m-7-1h7m-8 5h7m-8-6h7m-9 4h7m-8 1h7m-7-2h7m-8 9h7m-9-5h7m-8 1h7m-8-3h7m-9 9h7m-8 0h7m-10-13h7m-13-3h7m-9 10h7m-14-7h7m-11 5h7m-9 9h7m-9 2h7m-9-4h7m-7-1h7m-8 10h7m-7-23h7m-15 12h7m-15-10h7m-9-2h7m-9 3h7m-10 6h7m-9 14h7m-12-15h7m-8 13h7m-10-12h7m-10-1h7m-15-3h7m-9 18h7m-8-14h7m-8-8h7m-8 14h7m-13 5h7m-11-19h7m-8 22h7m-9-3h7m-13 2h7m-7-7h7m-22 32h7m19-15h7m-5-6h7m-1 13h7m-2-10h7m-5 15h7m-1-20h7m-6 12h7m-5-4h7m-3 13h7m10-21h7m-4 20h7m-3 0h7m-6-19h7m-1 2h7m-2 9h7m13-9h7m1 13h7m-6-1h7m-4-6h7m-6-5h7m-7 8h7m-6 4h7m-5-7h7m-7 7h7m-6 0h7m-6 2h7m-6 4h7m-2 2h7m-6-18h7m-4 10h7m-6-5h7m-7 6h7m-5 0h7m-6 6h7m-5-16h7m-5 0h7m-7 3h7m-7 10h7m-3-13h7m-7 13h7m-7 1h7m-2-20h7m-4 11h7m-7 9h7m-4-18h7m-7 0h7m-4 2h7m-6 2h7m-3 8h7m-6 0h7m-5-1h7m-6 1h7m-6-12h7m-6 4h7m-4 4h7m-7 11h7m-6-16h7m-4 10h7m-6-8h7m-6 15h7m-4-12h7m-6 10h7m-6-20h7m-5 5h7m-7 10h7m-3-11h7m-3 8h7m-7 9h7m-6-19h7m-7 11h7m-4-12h7m-7 10h7m1 2h7m-6-4h7m-7 2h7m-5-10h7m-5 10h7m-2 5h7m-5-12h7m-1-3h7m-7 6h7m-5 8h7m-6 8h7m1-8h7m-2-6h7m-6-9h7m-6 1h7m-6 1h7m-6 11h7m-5-11h7m-1 1h7m-6 15h7m-5-9h7m-3 7h7m0-11h7m-7 14h7m-6-20h7m-6 16h7m-6-8h7m-1 5h7m-6-7h7m-6-4h7m-5-2h7m-3 4h7m-1 9h7m10-6h7m-7 14h7m-2-3h7m-3-2h7m-6-10h7m0 1h7m-7 16h7m-4-14h7m-5-2h7m19-1h7m6-3h7m0 0h7m-2 5h7m2-4h7m18 6h7m-5 9h7m-3-17h7m-4 9h7m-5 5h7m134 8h7m17-21h7m-29 43h7m-130-13h7m-49-8h7m-102 12h7m-8-12h7m-23 11h7m-9-8h7m-8 8h7m-11-7h7m-7-1h7m-9 0h7m-18 1h7m-14 3h7m-26-3h7m-28 17h7m-7-18h7m-13 5h7m-12 10h7m-9-5h7m-8 5h7m-9-9h7m-14-3h7m-10 12h7m-11-16h7m-10 12h7m-8-3h7m-7-10h7m-17 23h7m-12-17h7m-14-4h7m-10 20h7m-11-18h7m-8 18h7m-7-10h7m-13-8h7m-9 16h7m-8-11h7m-7-5h7m-7-3h7m-11 14h7m-8-10h7m-8 17h7m-8-16h7m-7-3h7m-9 8h7m-9-10h7m-10 9h7m-9 7h7m-7-2h7m-10-13h7m-10 12h7m-13-4h7m-8 11h7m-7-11h7m-9-8h7m-10 17h7m-13-14h7m-16-3h7m-14 15h7m-12 1h7m-9-16h7m-9-1h7m-15 16h7m-9-13h7m-7-3h7m-16 18h7m-12-5h7m-22-5h7m-11 2h7m-13-12h7m-10 22h7m-14 0h7m-9 6h7m12 8h7m15 3h7m-5 0h7m-4-1h7m-4-11h7m15 20h7m14-21h7m-3 3h7m2 11h7m-5-15h7m-4 9h7m4-1h7m-6-4h7m-4-2h7m-6 20h7m4-16h7m25 1h7m5-7h7m-7 14h7m-3-12h7m9 6h7m-4 5h7m-3 7h7m-1-20h7m-6 10h7m28-8h7m7 4h7m23 14h7m16-11h7m19 7h7m48-8h7m66 7h7m79 12h7m-158 0h7m-162-1h7m-23-1h7m-71 6h7m-71-6h7m-22 4h7m-22 3h7m-12 2h7m-99 6h7" stroke="#cc2414" stroke-width="8" stroke-opacity="0.5" fill="none"/>
</g>
<line x1="205.00" y1="860.60" x2="205.00" y2="930.00" stroke="#555" stroke-width="0.8" stroke-linecap="butt"/>
<line x1="172.60" y1="895.00" x2="243.70" y2="895.00" stroke="#555" stroke-width="0.8" stroke-linecap="butt"/>
<circle cx="196.25" cy="884.50" r="1.4" fill="#aaa" fill-opacity=".4" stroke="#666" stroke-width=".6"/>
<circle cx="211.25" cy="884.50" r="1.4" fill="#aaa" fill-opacity=".4" stroke="#666" stroke-width=".6"/>
<circle cx="196.25" cy="908.00" r="1.4" fill="#aaa" fill-opacity=".4" stroke="#666" stroke-width=".6"/>
<circle cx="211.25" cy="908.00" r="1.4" fill="#aaa" fill-opacity=".4" stroke="#666" stroke-width=".6"/>
<line x1="172.60" y1="860.60" x2="243.70" y2="860.60" stroke="#000" stroke-width="1.3" stroke-linecap="butt"/>
<line x1="243.70" y1="860.60" x2="243.70" y2="930.00" stroke="#000" stroke-width="1.1" stroke-linecap="butt"/>
<line x1="172.60" y1="860.00" x2="172.60" y2="930.60" stroke="#000" stroke-width="1.5" stroke-linecap="butt"/>
<line x1="171.90" y1="930.00" x2="244.20" y2="930.00" stroke="#000" stroke-width="1.5" stroke-linecap="butt"/>
<line x1="168.30" y1="866.40" x2="172.60" y2="866.40" stroke="#000" stroke-width="1.0" stroke-linecap="butt"/>
<text x="149.23" y="869.20" font-size="9.8" fill="#111">10<tspan dx="0.4" dy="-4.0" font-size="5.88">5</tspan></text>
<line x1="168.30" y1="882.30" x2="172.60" y2="882.30" stroke="#000" stroke-width="1.0" stroke-linecap="butt"/>
<text x="149.23" y="885.10" font-size="9.8" fill="#111">10<tspan dx="0.4" dy="-4.0" font-size="5.88">4</tspan></text>
<line x1="168.30" y1="898.40" x2="172.60" y2="898.40" stroke="#000" stroke-width="1.0" stroke-linecap="butt"/>
<text x="149.23" y="901.20" font-size="9.8" fill="#111">10<tspan dx="0.4" dy="-4.0" font-size="5.88">3</tspan></text>
<line x1="168.30" y1="916.00" x2="172.60" y2="916.00" stroke="#000" stroke-width="1.0" stroke-linecap="butt"/>
<text x="149.23" y="918.80" font-size="9.8" fill="#111">10<tspan dx="0.4" dy="-4.0" font-size="5.88">2</tspan></text>
<line x1="170.30" y1="910.70" x2="172.60" y2="910.70" stroke="#000" stroke-width="0.8" stroke-linecap="butt"/>
<line x1="170.30" y1="907.60" x2="172.60" y2="907.60" stroke="#000" stroke-width="0.8" stroke-linecap="butt"/>
<line x1="170.30" y1="905.40" x2="172.60" y2="905.40" stroke="#000" stroke-width="0.8" stroke-linecap="butt"/>
<line x1="170.30" y1="903.70" x2="172.60" y2="903.70" stroke="#000" stroke-width="0.8" stroke-linecap="butt"/>
<line x1="170.30" y1="902.30" x2="172.60" y2="902.30" stroke="#000" stroke-width="0.8" stroke-linecap="butt"/>
<line x1="170.30" y1="901.13" x2="172.60" y2="901.13" stroke="#000" stroke-width="0.8" stroke-linecap="butt"/>
<line x1="170.30" y1="900.11" x2="172.60" y2="900.11" stroke="#000" stroke-width="0.8" stroke-linecap="butt"/>
<line x1="170.30" y1="899.21" x2="172.60" y2="899.21" stroke="#000" stroke-width="0.8" stroke-linecap="butt"/>
<line x1="170.30" y1="893.55" x2="172.60" y2="893.55" stroke="#000" stroke-width="0.8" stroke-linecap="butt"/>
<line x1="170.30" y1="890.72" x2="172.60" y2="890.72" stroke="#000" stroke-width="0.8" stroke-linecap="butt"/>
<line x1="170.30" y1="888.71" x2="172.60" y2="888.71" stroke="#000" stroke-width="0.8" stroke-linecap="butt"/>
<line x1="170.30" y1="887.15" x2="172.60" y2="887.15" stroke="#000" stroke-width="0.8" stroke-linecap="butt"/>
<line x1="170.30" y1="885.87" x2="172.60" y2="885.87" stroke="#000" stroke-width="0.8" stroke-linecap="butt"/>
<line x1="170.30" y1="884.79" x2="172.60" y2="884.79" stroke="#000" stroke-width="0.8" stroke-linecap="butt"/>
<line x1="170.30" y1="883.86" x2="172.60" y2="883.86" stroke="#000" stroke-width="0.8" stroke-linecap="butt"/>
<line x1="170.30" y1="883.04" x2="172.60" y2="883.04" stroke="#000" stroke-width="0.8" stroke-linecap="butt"/>
<line x1="170.30" y1="877.51" x2="172.60" y2="877.51" stroke="#000" stroke-width="0.8" stroke-linecap="butt"/>
<line x1="170.30" y1="874.71" x2="172.60" y2="874.71" stroke="#000" stroke-width="0.8" stroke-linecap="butt"/>
<line x1="170.30" y1="872.73" x2="172.60" y2="872.73" stroke="#000" stroke-width="0.8" stroke-linecap="butt"/>
<line x1="170.30" y1="871.19" x2="172.60" y2="871.19" stroke="#000" stroke-width="0.8" stroke-linecap="butt"/>
<line x1="170.30" y1="869.93" x2="172.60" y2="869.93" stroke="#000" stroke-width="0.8" stroke-linecap="butt"/>
<line x1="170.30" y1="868.86" x2="172.60" y2="868.86" stroke="#000" stroke-width="0.8" stroke-linecap="butt"/>
<line x1="170.30" y1="867.94" x2="172.60" y2="867.94" stroke="#000" stroke-width="0.8" stroke-linecap="butt"/>
<line x1="170.30" y1="867.13" x2="172.60" y2="867.13" stroke="#000" stroke-width="0.8" stroke-linecap="butt"/>
<line x1="185.00" y1="930.00" x2="185.00" y2="933.90" stroke="#000" stroke-width="1.0" stroke-linecap="butt"/>
<text x="177.72" y="947.30" font-size="9.8" fill="#111">10<tspan dx="0.4" dy="-4.0" font-size="5.88">2</tspan></text>
<line x1="201.25" y1="930.00" x2="201.25" y2="933.90" stroke="#000" stroke-width="1.0" stroke-linecap="butt"/>
<text x="193.97" y="947.30" font-size="9.8" fill="#111">10<tspan dx="0.4" dy="-4.0" font-size="5.88">3</tspan></text>
<line x1="222.80" y1="930.00" x2="222.80" y2="933.90" stroke="#000" stroke-width="1.0" stroke-linecap="butt"/>
<text x="215.52" y="947.30" font-size="9.8" fill="#111">10<tspan dx="0.4" dy="-4.0" font-size="5.88">4</tspan></text>
<line x1="238.80" y1="930.00" x2="238.80" y2="933.90" stroke="#000" stroke-width="1.0" stroke-linecap="butt"/>
<text x="231.52" y="947.30" font-size="9.8" fill="#111">10<tspan dx="0.4" dy="-4.0" font-size="5.88">5</tspan></text>
<line x1="189.89" y1="930.00" x2="189.89" y2="932.30" stroke="#000" stroke-width="0.8" stroke-linecap="butt"/>
<line x1="192.75" y1="930.00" x2="192.75" y2="932.30" stroke="#000" stroke-width="0.8" stroke-linecap="butt"/>
<line x1="194.78" y1="930.00" x2="194.78" y2="932.30" stroke="#000" stroke-width="0.8" stroke-linecap="butt"/>
<line x1="196.36" y1="930.00" x2="196.36" y2="932.30" stroke="#000" stroke-width="0.8" stroke-linecap="butt"/>
<line x1="197.64" y1="930.00" x2="197.64" y2="932.30" stroke="#000" stroke-width="0.8" stroke-linecap="butt"/>
<line x1="198.73" y1="930.00" x2="198.73" y2="932.30" stroke="#000" stroke-width="0.8" stroke-linecap="butt"/>
<line x1="199.68" y1="930.00" x2="199.68" y2="932.30" stroke="#000" stroke-width="0.8" stroke-linecap="butt"/>
<line x1="200.51" y1="930.00" x2="200.51" y2="932.30" stroke="#000" stroke-width="0.8" stroke-linecap="butt"/>
<line x1="207.74" y1="930.00" x2="207.74" y2="932.30" stroke="#000" stroke-width="0.8" stroke-linecap="butt"/>
<line x1="211.53" y1="930.00" x2="211.53" y2="932.30" stroke="#000" stroke-width="0.8" stroke-linecap="butt"/>
<line x1="214.22" y1="930.00" x2="214.22" y2="932.30" stroke="#000" stroke-width="0.8" stroke-linecap="butt"/>
<line x1="216.31" y1="930.00" x2="216.31" y2="932.30" stroke="#000" stroke-width="0.8" stroke-linecap="butt"/>
<line x1="218.02" y1="930.00" x2="218.02" y2="932.30" stroke="#000" stroke-width="0.8" stroke-linecap="butt"/>
<line x1="219.46" y1="930.00" x2="219.46" y2="932.30" stroke="#000" stroke-width="0.8" stroke-linecap="butt"/>
<line x1="220.71" y1="930.00" x2="220.71" y2="932.30" stroke="#000" stroke-width="0.8" stroke-linecap="butt"/>
<line x1="221.81" y1="930.00" x2="221.81" y2="932.30" stroke="#000" stroke-width="0.8" stroke-linecap="butt"/>
<line x1="227.62" y1="930.00" x2="227.62" y2="932.30" stroke="#000" stroke-width="0.8" stroke-linecap="butt"/>
<line x1="230.43" y1="930.00" x2="230.43" y2="932.30" stroke="#000" stroke-width="0.8" stroke-linecap="butt"/>
<line x1="232.43" y1="930.00" x2="232.43" y2="932.30" stroke="#000" stroke-width="0.8" stroke-linecap="butt"/>
<line x1="233.98" y1="930.00" x2="233.98" y2="932.30" stroke="#000" stroke-width="0.8" stroke-linecap="butt"/>
<line x1="235.25" y1="930.00" x2="235.25" y2="932.30" stroke="#000" stroke-width="0.8" stroke-linecap="butt"/>
<line x1="236.32" y1="930.00" x2="236.32" y2="932.30" stroke="#000" stroke-width="0.8" stroke-linecap="butt"/>
<line x1="237.25" y1="930.00" x2="237.25" y2="932.30" stroke="#000" stroke-width="0.8" stroke-linecap="butt"/>
<line x1="238.07" y1="930.00" x2="238.07" y2="932.30" stroke="#000" stroke-width="0.8" stroke-linecap="butt"/>
<line x1="175.00" y1="930.00" x2="175.00" y2="932.30" stroke="#000" stroke-width="0.8" stroke-linecap="butt"/>
<line x1="177.00" y1="930.00" x2="177.00" y2="932.30" stroke="#000" stroke-width="0.8" stroke-linecap="butt"/>
<line x1="179.00" y1="930.00" x2="179.00" y2="932.30" stroke="#000" stroke-width="0.8" stroke-linecap="butt"/>
<text x="173.20" y="867.50" font-size="10.0" text-anchor="start" fill="#000" >DOX+</text>
<text x="173.20" y="878.75" font-size="10.0" text-anchor="start" fill="#000" >CX-4945</text>
<text x="243.60" y="867.50" font-size="10.0" text-anchor="end" fill="#000" >40.5±</text>
<text x="243.60" y="878.75" font-size="10.0" text-anchor="end" fill="#000" >3.5%</text>
<text x="243.60" y="929.50" font-size="10.0" text-anchor="end" fill="#000" >23.0±4.0%</text>
<g clip-path="url(#c5)">
<ellipse cx="326" cy="822.5" rx="14" ry="6.5" fill="#c80a0a" fill-opacity="0.5" filter="url(#b2)"/>
<path transform="scale(.1)" d="M3295 7710h7m-7 5h7m26 9h7m31-9h7m38 6h7m245-3h7m10 16h7m-84-7h7m-54 22h7m-139-16h7m-70 3h7m-197-6h7m-53 8h7m-10 35h7m98 1h7m86-11h7m34 7h7m176-17h7m111 7h7m84 6h7m68 18h7m-71-8h7m-169 17h7m-12-3h7m-230-9h7m-76 13h7m-77-4h7m-134 2h7m-3 24h7m197 5h7m14-5h7m42 3h7m95-2h7m255-12h7m-4 19h7m24-4h7m-110 21h7m-190 4h7m-45 0h7m-26-17h7m-281 1h7m-53 42h7m3-7h7m28-11h7m114 16h7m230-13h7m92-6h7m141 7h7m49-7h7m-22 25h7m-19 7h7m-65 8h7m-146 5h7m-66-7h7m-127 11h7m-146-18h7m-107-3h7m-101 0h7m186 44h7m-6-1h7m55-10h7m41-11h7m35 11h7m194-10h7m118 30h7m-213-3h7m-122 11h7m-118 4h7m-237 14h7m77-6h7m232 8h7m28-8h7m267 22h7m-56 16h7m-126-6h7m-102 8h7m-47-4h7m-94 5h7m-179-7h7m-75 3h7m-5 18h7m96 11h7m89-2h7m187-10h7m-5 2h7m4 14h7m-4-11h7m30 13h7m24-11h7m9-10h7m2 10h7m-3 7h7m0 1h7m113 3h7m101-1h7m-57 22h7m-78 2h7m-10-13h7m-10 7h7m-63-11h7m-18 19h7m-27-4h7m-7-1h7m-17-11h7m-17 5h7m-7-2h7m-8-8h7m-9 9h7m-11 4h7m-8 9h7m-12-5h7m-13-14h7m-10 8h7m-16-3h7m-8 9h7m-9-4h7m-10-10h7m-24 3h7m-8 5h7m-8 6h7m-10 2h7m-10-18h7m-12 21h7m-8-15h7m-13 11h7m-10 1h7m-10-1h7m-10-2h7m-11-4h7m-17 9h7m-10-12h7m-9-9h7m-10 19h7m-14-21h7m-34 23h7m-34-22h7m-260 15h7m-13-3h7m210 32h7m35 4h7m-4-12h7m1-10h7m-6 6h7m33 12h7m-3-11h7m4 6h7m3 4h7m-5 5h7m-5-15h7m3 2h7m-7 13h7m-6-19h7m-4 5h7m0-5h7m-7 17h7m-5-14h7m-4 16h7m-5-13h7m-3-2h7m-5-3h7m-4-5h7m-7 1h7m-7 12h7m-3-2h7m-3-7h7m-6 11h7m-6 3h7m-6-13h7m-5-6h7m-5 0h7m-5 19h7m-5 3h7m-5-19h7m-7 12h7m-6-11h7m-7 9h7m-5-1h7m-3 6h7m10 3h7m-4-20h7m-6 18h7m-4-18h7m-1 8h7m-3 10h7m-6-4h7m-6-14h7m5 15h7m-5 0h7m-6-14h7m-4 20h7m2-15h7m2 0h7m0-2h7m-2 6h7m-7 3h7m-6-4h7m14-4h7m2 0h7m1 14h7m37-11h7m88 18h7m-169 8h7m-36-8h7m-17 9h7m-39-7h7m-20 17h7m-14-13h7m-21-6h7m-8 0h7m-8 1h7m-9-1h7m-8 16h7m-8-15h7m-8 17h7m-10-16h7m-11 2h7m-17 5h7m-7-11h7m-8 7h7m-14-1h7m-7-4h7m-7-1h7m-10 8h7m-9 2h7m-10 3h7m-9-7h7m-8 9h7m-29-14h7m-11 22h7m-8-17h7m-34-7h7m-223 15h7m-8 9h7m-209 0h7m80 17h7m36-2h7m-6-9h7m2 8h7m26 4h7m-3 1h7m17 1h7m21 4h7m289-10h7m1-13h7m198 6h7m23 18h7m-99 13h7m-31-8h7m-250 3h7m-71 5h7m-48-1h7m-57 5h7m-18-2h7m-8-12h7m-9 11h7m-11-7h7m-25-5h7m-14 23h7m-26-2h7m-13-7h7m-11 6h7m-13-11h7m-10 8h7m-8-13h7m-20 10h7m-13-3h7m-22 12h7m-7 0h7m-9-14h7m-17 11h7m-29-18h7m-11 20h7m-44-6h7m-40-5h7m-29 32h7m6 5h7m3-16h7m3 9h7m-7 6h7m-5-6h7m-5 7h7m-4-22h7m0 13h7m-7 2h7m-5 2h7m-1-13h7m0 18h7m-5-16h7m4 16h7m-5-9h7m-5-2h7m-5-8h7m-4 14h7m9-17h7m-5 11h7m0 8h7m-4-18h7m-7 16h7m-2 5h7m-5-23h7m-6 0h7m-7 23h7m-6-4h7m-2-13h7m-5 4h7m-7 7h7m-7 2h7m-1-2h7m-1 3h7m-2-3h7m-6 0h7m2 3h7m-4 2h7m-6-22h7m-6 1h7m-6 3h7m-6 18h7m-5-2h7m-4-3h7m-5-13h7m-5 16h7m-6 1h7m-7 2h7m-6-14h7m-7 8h7m-6-15h7m-6 12h7m-6 1h7m-4-12h7m-2 15h7m-6-5h7m-7 4h7m-7 1h7m-6-6h7m-6 5h7m-4-13h7m-7 14h7m-4-11h7m-6 8h7m1-1h7m-7 4h7m-4 4h7m-6-2h7m-6-3h7m-6-6h7m-5-4h7m0-4h7m-7 14h7m-6-12h7m-7 12h7m1 2h7m-6-8h7m-5 11h7m-4-16h7m-5-5h7m-4 1h7m-3 0h7m3 12h7m-6-5h7m-4 5h7m-5 5h7m-6-13h7m-6 10h7m-7 6h7m-7 1h7m-6-22h7m-3 12h7m-7 0h7m-6-14h7m-3 15h7m-6 7h7m-6-4h7m-6 6h7m-4-9h7m-3-1h7m-3 8h7m-6-2h7m-3 4h7m-3-16h7m-5-1h7m-4 15h7m13 2h7m5-10h7m-6-3h7m9 7h7m18-18h7m265 8h7m49 21h7m-124 17h7m-57-15h7m-53 16h7m-76 2h7m-16-12h7m-17 3h7m-38-5h7m-18-8h7m-18-1h7m-28 23h7m-7-8h7m-8 6h7m-8 1h7m-13-10h7m-11 2h7m-7-9h7m-10 4h7m-7-6h7m-9 10h7m-15 6h7m-12-4h7m-7-8h7m-7-3h7m-8 8h7m-10 8h7m-19 3h7m-9 0h7m-10-22h7m-8 21h7m-7-2h7m-7-8h7m-7-5h7m-8 4h7m-9-5h7m-11 11h7m-7-3h7m-9-15h7m-10 23h7m-7-10h7m-9 8h7m-10-21h7m-8 16h7m-8 6h7m-8 0h7m-8-6h7m-9 7h7m-7-7h7m-10-6h7m-8 1h7m-9 9h7m-7-5h7m-7-8h7m-8 13h7m-9-5h7m-7 0h7m-7-12h7m-9 0h7m-8 9h7m-8-10h7m-8 19h7m-7-15h7m-8 13h7m-9-14h7m-7-4h7m-10 22h7m-7-11h7m-8 10h7m-7-20h7m-8 13h7m-8-3h7m-7-2h7m-7-10h7m-8 21h7m-8-4h7m-7-16h7m-8 6h7m-8 17h7m-7-12h7m-8 11h7m-8-11h7m-8 8h7m-8 2h7m-7-5h7m-9-12h7m-7-3h7m-9 14h7m-8-16h7m-8 24h7m-8-17h7m-7-6h7m-8 7h7m-9 16h7m-8-8h7m-7-4h7m-9 12h7m-7-4h7m-7-6h7m-7-3h7m-8 12h7m-7-13h7m-7-4h7m-8 18h7m-7-12h7m-9 3h7m-8 9h7m-8-22h7m-8 6h7m-7-5h7m-9 15h7m-7-10h7m-8 15h7m-7-11h7m-7-1h7m-8-4h7m-9 11h7m-8 4h7m-7-16h7m-9 17h7m-7-18h7m-7-1h7m-8 8h7m-7-2h7m-8-1h7m-7-7h7m-9 17h7m-7-8h7m-7-6h7m-8 4h7m-8 12h7m-7-3h7m-8 0h7m-7-13h7m-8 8h7m-7-1h7m-9 7h7m-7-2h7m-8 1h7m-7-7h7m-8-5h7m-8-4h7m-9 12h7m-8 10h7m-8-5h7m-7-6h7m-8-2h7m-8 11h7m-7-20h7m-8 9h7m-7-1h7m-8 0h7m-8 12h7m-7-10h7m-8 10h7m-7-2h7m-7-1h7m-7-4h7m-8 9h7m-7-16h7m-8 11h7m-7-8h7m-7-8h7m-8 12h7m-8-8h7m-7-3h7m-9-1h7m-7 0h7m-9 17h7m-8 3h7m-8 0h7m-7-5h7m-7-2h7m-8-7h7m-8 14h7m-7-1h7m-7-2h7m-7-19h7m-8 13h7m-8-4h7m-9 8h7m-7-13h7m-7-2h7m-8-2h7m-8 22h7m-8-13h7m-8 10h7m-7-6h7m-9 4h7m-7-4h7m-8 3h7m-7-6h7m-8 1h7m-7-2h7m-8-8h7m-10 6h7m-8 13h7m-9 1h7m-8-12h7m-9-5h7m-8 4h7m-8 13h7m-8-5h7m-8-8h7m-8 11h7m-7-1h7m-8-15h7m-8 8h7m-8-3h7m-7 0h7m-8 15h7m-7-10h7m-7-5h7m-10 10h7m-7-8h7m-8 12h7m-7-6h7m-7-1h7m-8 8h7m-7-1h7m-8-7h7m-7-14h7m-8 6h7m-7-2h7m-10 16h7m-7-4h7m-9-16h7m-8 19h7m-8 2h7m-9-3h7m-7-4h7m-10 6h7m-7-3h7m-7-2h7m-7-12h7m-8 19h7m-7-8h7m-7-14h7m-8 13h7m-7-5h7m-7-10h7m-8 12h7m-8 7h7m-7-11h7m-8 6h7m-7-14h7m-8 15h7m-7-6h7m-8 14h7m-8-19h7m-7 0h7m-8 16h7m-8-17h7m-9 10h7m-7-13h7m-8 19h7m-9-18h7m-9 3h7m-8 18h7m-7-4h7m-9-8h7m-8 5h7m-8-13h7m-8 7h7m-7-5h7m-9 17h7m-9 2h7m-11-12h7m-13 6h7m-7-17h7m-8 5h7m-10 15h7m-10-4h7m-8-15h7m-10 22h7m-11-23h7m-10 24h7m-18-13h7m-15 12h7m-8-14h7m-9 8h7m-7-7h7m-10 9h7m-8-7h7m-21 7h7m-15-3h7m-13-7h7m-10 21h7m-1 7h7m-6 7h7m3-6h7m6 7h7m1-15h7m-7 2h7m-5-3h7m-7 3h7m-6 8h7m-7 3h7m-4-14h7m-5 10h7m-7 10h7m-5-6h7m-6 4h7m-6-13h7m-7 3h7m-6 11h7m-4-1h7m-6-9h7m-6 3h7m-7 1h7m-6-13h7m-7 12h7m-6 5h7m-7 1h7m-6-22h7m-7 22h7m-5-12h7m-5-2h7m-6-3h7m-3 2h7m-6-3h7m-6 4h7m-6-4h7m-6 4h7m-7 3h7m-7 4h7m-6-8h7m-5-4h7m-7 14h7m-3-3h7m-6-6h7m-6 4h7m-6-2h7m-6-7h7m-3-3h7m-7 19h7m-6 2h7m-7 3h7m-6-11h7m-6-5h7m-7 16h7m-6-5h7m-6-12h7m-6 11h7m-7 2h7m-7 1h7m-7 2h7m-5-23h7m-6 22h7m-7 1h7m-5-11h7m-7 7h7m-6-3h7m-6-5h7m-7 3h7m-7 9h7m-7 1h7m-6-11h7m-6-11h7m-7 0h7m-7 2h7m-6 14h7m-6-5h7m-6 6h7m-6-15h7m-7 0h7m-6 20h7m-6-23h7m-7 12h7m-6-8h7m-6 6h7m-6-11h7m-6 20h7m-7 1h7m-6-21h7m-7 19h7m-6-19h7m-7 4h7m-7 6h7m-6 1h7m-7 8h7m-6-6h7m-7 5h7m-6-8h7m-7 10h7m-6 2h7m-4-13h7m-6-1h7m-7 15h7m-6 1h7m-6-22h7m-6 4h7m-7 12h7m-6-16h7m-7 8h7m-7 9h7m-7 5h7m-6-23h7m-7 12h7m-7 5h7m-7 2h7m-6-13h7m-6-4h7m-7 11h7m-6 1h7m-5-8h7m-6 12h7m-6 1h7m-7 2h7m-6-12h7m-6 11h7m-6-20h7m-7 9h7m-6-7h7m-7 8h7m-7 12h7m-6-20h7m-7 8h7m-7 1h7m-6 5h7m-5-8h7m-7 2h7m-7 6h7m-7 3h7m-5-12h7m-6-8h7m-7 6h7m-7 6h7m-7 7h7m-6 4h7m-6-16h7m-7 2h7m-6 14h7m-6-4h7m-6-16h7m-6-2h7m-7 4h7m-7 0h7m-7 8h7m-7 1h7m-7 1h7m-6-8h7m-6 6h7m-7 7h7m-6-18h7m-7 10h7m-6-8h7m-7 2h7m-7 3h7m-6 7h7m-7 3h7m-6-9h7m-7 12h7m-6-21h7m-7 23h7m-6-22h7m-7 1h7m-7 8h7m-6-4h7m-7 7h7m-7 1h7m-7 1h7m-7 4h7m-7 4h7m-6-9h7m-7 1h7m-7 5h7m-7 0h7m-6-21h7m-7 6h7m-7 14h7m-6-17h7m-6-3h7m-7 0h7m-7 6h7m-7 0h7m-7 1h7m-7 3h7m-5-8h7m-7 13h7m-7 9h7m-6-20h7m-6-4h7m-7 12h7m-7 4h7m-7 6h7m-6-21h7m-7 8h7m-7 5h7m-6-9h7m-7 8h7m-7 4h7m-6-14h7m-7 9h7m-7 11h7m-6-17h7m-6-6h7m-7 14h7m-7 8h7m-7 1h7m-6-19h7m-6-4h7m-7 0h7m-7 20h7m-7 1h7m-6-17h7m-7 9h7m-7 1h7m-7 2h7m-7 4h7m-6-9h7m-6-2h7m-7 15h7m-6-16h7m-7 14h7m-6-19h7m-7 11h7m-7 1h7m-7 7h7m-6-12h7m-6 2h7m-6-12h7m-7 1h7m-7 17h7m-7 5h7m-6-18h7m-4 0h7m-7 9h7m-7 6h7m-6-8h7m-7 1h7m-7 7h7m-6-10h7m-6 0h7m-7 2h7m-7 5h7m-6-6h7m-7 0h7m-7 3h7m-6-11h7m-7 17h7m-6-19h7m-7 20h7m-7 3h7m-6-17h7m-7 5h7m-7 5h7m-6-11h7m-7 2h7m-7 3h7m-7 1h7m-7 9h7m-7 2h7m-6-12h7m-7 2h7m-7 4h7m-7 1h7m-6-2h7m-7 3h7m-6-17h7m-7 2h7m-7 2h7m-7 8h7m-7 3h7m-7 4h7m-6-20h7m-6 1h7m-7 5h7m-7 10h7m-6-6h7m-6-1h7m-7 13h7m-7 0h7m-6-20h7m-7 10h7m-7 8h7m-7 3h7m-6-13h7m-7 2h7m-7 6h7m-7 5h7m-6-19h7m-7 2h7m-7 4h7m-7 7h7m-6-9h7m-6 4h7m-6-2h7m-7 6h7m-6-4h7m-7 4h7m-7 6h7m-6-9h7m-7 2h7m-7 0h7m-6-12h7m-7 1h7m-7 3h7m-7 11h7m-6-1h7m-5 3h7m-6-11h7m-7 2h7m-7 10h7m-5-5h7m-7 4h7m-5-16h7m-7 3h7m-7 4h7m-7 1h7m-7 1h7m-5 9h7m-6-21h7m-7 19h7m-7 3h7m-6-21h7m-7 9h7m-7 11h7m-6-20h7m-7 12h7m-6-3h7m-7 8h7m-6-15h7m-7 10h7m-7 1h7m-7 5h7m-6-16h7m-7 4h7m-7 6h7m-5-2h7m-7 10h7m-6-2h7m-7 0h7m-6-16h7m-7 8h7m-7 8h7m-5-19h7m-7 3h7m-7 5h7m-6-6h7m-7 16h7m-6-16h7m-7 6h7m-6-1h7m-6 6h7m-7 4h7m-7 4h7m-6-18h7m-7 17h7m-6-20h7m-7 11h7m-6-6h7m-7 12h7m-7 2h7m-6-15h7m-7 0h7m-5 0h7m-7 11h7m-7 2h7m-6-11h7m-7 11h7m-6-16h7m-6 5h7m-7 10h7m-7 3h7m-6-19h7m-7 21h7m-6-9h7m-7 5h7m-6-16h7m-6 19h7m-6-17h7m-7 3h7m-7 16h7m-6-19h7m-7 7h7m-6-12h7m-7 1h7m-7 5h7m-7 18h7m-6-19h7m-7 0h7m-6 6h7m-6-6h7m-6 7h7m-7 5h7m-7 6h7m-5-22h7m-7 1h7m-7 18h7m-6-11h7m-7 5h7m-4 6h7m-6 0h7m-6-16h7m-7 4h7m-7 3h7m-6-9h7m-7 12h7m-6-6h7m-6-5h7m-4 10h7m-7 2h7m-6-3h7m-7 2h7m-6 3h7m-4-6h7m-7 13h7m-3-13h7m-7 13h7m-6-2h7m-6-8h7m-3-4h7m-7 14h7m-6-20h7m-7 9h7m-6-4h7m-6-7h7m-3 15h7m-6-13h7m-7 1h7m-5 4h7m-7 7h7m-7 8h7m-5-24h7m-7 7h7m-5 4h7m-6-2h7m-4 3h7m-6 11h7m-5-20h7m-7 17h7m-3 4h7m-6 0h7m-4-1h7m-6-17h7m-7 2h7m-5 4h7m-7 8h7m-6-2h7m-6 1h7m-6-7h7m-3 6h7m-6-5h7m-6 3h7m1-6h7m-5-7h7m-7 2h7m-6-5h7m-4 6h7m-3 6h7m9 6h7m3 4h7m0-5h7m2 1h7m-1 5h7m-5-22h7m62 12h7m36-11h7m140 16h7m80-18h7m-129 25h7m-19 14h7m-198-5h7m-42 4h7m-23-6h7m-11 16h7m-9 1h7m-7-24h7m-16 10h7m-12-3h7m-15 2h7m-18 3h7m-11 4h7m-10-7h7m-8 15h7m-7-9h7m-9-10h7m-8-3h7m-7-2h7m-8 19h7m-9 0h7m-9-7h7m-8 7h7m-7-6h7m-10 6h7m-9-4h7m-7-8h7m-9-2h7m-9 9h7m-15-9h7m-10 3h7m-8 12h7m-8-4h7m-7-1h7m-7-5h7m-10-1h7m-7-9h7m-8 10h7m-7-3h7m-8 11h7m-10-6h7m-8-6h7m-8 14h7m-7-6h7m-8 7h7m-8-2h7m-7-1h7m-7-13h7m-9 14h7m-7-15h7m-8 9h7m-7-12h7m-8 23h7m-7-6h7m-9-6h7m-7-6h7m-7-4h7m-8 22h7m-8-4h7m-8-10h7m-8-9h7m-8 12h7m-7-9h7m-8 1h7m-8 13h7m-7-10h7m-7 0h7m-7-2h7m-8 14h7m-7-8h7m-8 4h7m-8-11h7m-7-2h7m-8 8h7m-8-5h7m-8 8h7m-8 3h7m-10 2h7m-7-1h7m-7-8h7m-8 10h7m-7-7h7m-7-13h7m-8 8h7m-7-5h7m-8 7h7m-10 11h7m-7-14h7m-8 15h7m-7-11h7m-8 6h7m-8 5h7m-7-10h7m-8 3h7m-8 9h7m-7-6h7m-7-12h7m-8 16h7m-7-16h7m-8 4h7m-7-1h7m-8 8h7m-7-17h7m-8 23h7m-7-20h7m-10 11h7m-7-2h7m-7-3h7m-7-9h7m-8 16h7m-7-5h7m-7-3h7m-8 1h7m-8 10h7m-7-17h7m-8 14h7m-7-2h7m-7-6h7m-7-2h7m-8 0h7m-8 13h7m-7-2h7m-7-3h7m-7-12h7m-8 2h7m-7 0h7m-7-1h7m-7-2h7m-8 14h7m-7-10h7m-7-1h7m-8 10h7m-7 0h7m-8-2h7m-8-8h7m-8 17h7m-7-1h7m-7-14h7m-9-2h7m-7-2h7m-8 16h7m-7-8h7m-7-2h7m-8 8h7m-7-3h7m-7-12h7m-8 6h7m-7-1h7m-7-4h7m-8 22h7m-7-3h7m-7-19h7m-8 20h7m-7-22h7m-8 22h7m-7-14h7m-8 16h7m-7-9h7m-7-2h7m-7-6h7m-7-4h7m-8 1h7m-7-1h7m-8 13h7m-8-13h7m-8 11h7m-7-7h7m-8 10h7m-7-10h7m-8 9h7m-7-2h7m-7-3h7m-8 5h7m-7-3h7m-7-1h7m-7-3h7m-8 14h7m-7-11h7m-7-12h7m-8 8h7m-8 7h7m-7-3h7m-8 10h7m-7-1h7m-7 0h7m-7-5h7m-7-3h7m-7-6h7m-7-4h7m-8 6h7m-7-5h7m-7-1h7m-7-2h7m-8 13h7m-7-6h7m-7-2h7m-8 18h7m-7-6h7m-7-13h7m-9 10h7m-8-12h7m-9 5h7m-8 7h7m-7-15h7m-8 15h7m-7-1h7m-7-3h7m-7-2h7m-7-3h7m-7-2h7m-7 0h7m-7 0h7m-7-1h7m-8 12h7m-7-1h7m-8-14h7m-8 3h7m-8-1h7m-8 17h7m-9-4h7m-8-5h7m-7-2h7m-7-1h7m-8 8h7m-7-5h7m-7-5h7m-8 13h7m-7-1h7m-8 2h7m-7-12h7m-7-2h7m-8 7h7m-7-10h7m-8 20h7m-7-13h7m-7-5h7m-8 12h7m-7-1h7m-8 7h7m-7-21h7m-8 21h7m-7-15h7m-7-4h7m-8 15h7m-7-12h7m-8 14h7m-8 1h7m-7-1h7m-7-13h7m-8 17h7m-7-2h7m-7-4h7m-7-1h7m-7 0h7m-8 3h7m-7-16h7m-8 10h7m-7-8h7m-8 1h7m-8 2h7m-7 0h7m-7-8h7m-8 6h7m-8 3h7m-7-6h7m-8 6h7m-8 3h7m-8 7h7m-7-4h7m-7-2h7m-8 2h7m-7-14h7m-8 14h7m-7-16h7m-8 16h7m-7-1h7m-7-9h7m-9 16h7m-7-19h7m-8 0h7m-8 19h7m-7-2h7m-8 4h7m-7-9h7m-8 8h7m-7-7h7m-7-5h7m-7-1h7m-7-6h7m-8 15h7m-7-9h7m-7-6h7m-8 18h7m-7-4h7m-8-12h7m-7-2h7m-7 0h7m-7-3h7m-8 22h7m-7-3h7m-7-3h7m-8-13h7m-7-4h7m-8 20h7m-7-10h7m-7-1h7m-8 0h7m-7 0h7m-7-9h7m-8 19h7m-7-5h7m-7-5h7m-8 7h7m-7-10h7m-7-6h7m-8 19h7m-7-4h7m-7 0h7m-7-13h7m-8 5h7m-7-2h7m-8 7h7m-9 6h7m-7-4h7m-7-5h7m-7-2h7m-7-1h7m-8-4h7m-8 1h7m-8 18h7m-7-13h7m-7-5h7m-9 18h7m-7-16h7m-7-5h7m-8 9h7m-7-8h7m-8 13h7m-7-6h7m-9 9h7m-7-8h7m-7-4h7m-7-3h7m-8 5h7m-8-5h7m-8 6h7m-7-1h7m-8 14h7m-8 2h7m-7-3h7m-7-12h7m-10 15h7m-7-21h7m-8 20h7m-8 1h7m-7-20h7m-8 20h7m-7-18h7m-8 15h7m-7-4h7m-7-11h7m-8 5h7m-9 0h7m-8-1h7m-7-7h7m-8 16h7m-7-4h7m-7-6h7m-7-2h7m-8 16h7m-7-5h7m-8 4h7m-7-14h7m-7-2h7m-8 11h7m-7-10h7m-8 16h7m-7-18h7m-8 15h7m-8-2h7m-7-5h7m-7-4h7m-7-2h7m-8 5h7m-10 9h7m-7-3h7m-8-4h7m-7-4h7m-7-4h7m-8-1h7m-8 11h7m-8 3h7m-7-3h7m-7-10h7m-8 0h7m-8-1h7m-7 0h7m-8 11h7m-8-14h7m-9 17h7m-7-14h7m-8 0h7m-8 10h7m-9-10h7m-9 10h7m-8-5h7m-8 14h7m-7-22h7m-8 8h7m-8 13h7m-9-10h7m-7-11h7m-8 22h7m-8-4h7m-9-12h7m-15 2h7m-7-2h7m-8-1h7m-7-2h7m-10 16h7m-9-2h7m-7-11h7m-11 4h7m-8 11h7m-8-18h7m-12 3h7m-7-5h7m-8 22h7m-7-9h7m-8 4h7m-8-6h7m-10-6h7m-9 16h7m-7-17h7m-8 10h7m-11-11h7m-8 12h7m-9-3h7m-8 1h7m-11-1h7m-10-4h7m-9-7h7m-8 3h7m-17-3h7m-9 17h7m-7-14h7m-12 13h7m-10-3h7m-12 6h7m-5 14h7m-5-6h7m-2-3h7m-2 10h7m9-5h7m-6 10h7m-6-11h7m-7 15h7m-5-16h7m-6 3h7m-3-6h7m-1 16h7m-7 0h7m0 3h7m-6-3h7m0-12h7m-4 14h7m-6-12h7m-6 5h7m-6-9h7m-3 2h7m-7 6h7m-1 11h7m-6-19h7m-5 17h7m-4-7h7m-7 4h7m-6-13h7m-2 17h7m-6-21h7m-6 2h7m-7 10h7m-6 0h7m-6-10h7m-7 6h7m-7 13h7m-5-2h7m-6-18h7m-6 2h7m-7 10h7m-7 5h7m-5-1h7m-6-15h7m-7 10h7m-7 7h7m-6-11h7m-6-9h7m-7 1h7m-6 4h7m-7 7h7m-5-7h7m-6-1h7m-7 1h7m-7 13h7m-6-16h7m-6-1h7m-7 7h7m-7 7h7m-6-15h7m-7 5h7m-3-3h7m-7 6h7m-7 6h7m-2-8h7m-6-3h7m-7 15h7m-6 2h7m-5-3h7m-5-1h7m-6-9h7m-7 10h7m-5-13h7m-7 2h7m-7 1h7m-6 11h7m-7 5h7m-4-18h7m-7 2h7m-6 13h7m-6 1h7m-6-8h7m-6 5h7m-7 4h7m-5-6h7m-6 2h7m-6-14h7m-7 10h7m-7 1h7m-7 3h7m-6-6h7m-7 8h7m-6-6h7m-5-14h7m-7 15h7m-7 5h7m-4-4h7m-5-15h7m-7 7h7m-1-4h7m-7 15h7m-6-15h7m-5 12h7m-6-12h7m-7 5h7m-7 6h7m-7 1h7m-6-12h7m-7 4h7m-6 13h7m-6-11h7m-6-9h7m-7 2h7m-6 4h7m-7 12h7m-6-13h7m-6 2h7m-7 7h7m-7 0h7m-7 2h7m-6-17h7m-5 1h7m-7 11h7m-7 1h7m-6-2h7m-6 9h7m-7 1h7m-6-16h7m-7 7h7m-7 7h7m-7 4h7m-6-17h7m-5-4h7m-7 11h7m-6-8h7m-7 18h7m-7 0h7m-6-5h7m-7 0h7m-6-9h7m-7 2h7m-6-3h7m-7 3h7m-7 2h7m-7 5h7m-7 0h7m-7 5h7m-6-21h7m-6-1h7m-6-1h7m-7 20h7m-6-8h7m-7 6h7m-6-5h7m-6-12h7m-7 11h7m-6 5h7m-6-10h7m-7 1h7m-7 3h7m-6 4h7m-6-5h7m-6 1h7m-6-11h7m-6 5h7m-7 2h7m-7 14h7m-6-19h7m-7 3h7m-7 2h7m-7 15h7m-6-15h7m-7 7h7m-7 2h7m-6-12h7m-7 14h7m-6-10h7m-7 6h7m-7 0h7m-6 5h7m-6-18h7m-7 15h7m-6-6h7m-7 9h7m-6-15h7m-7 3h7m-7 9h7m-7 8h7m-6-24h7m-7 7h7m-7 11h7m-6-8h7m-7 11h7m-6-21h7m-7 12h7m-6-10h7m-7 4h7m-6-3h7m-7 17h7m-4-18h7m-6 0h7m-7 12h7m-7 10h7m-6-18h7m-6-1h7m-7 6h7m-7 2h7m-6-13h7m-7 0h7m-7 4h7m-7 6h7m-7 3h7m-6-9h7m-7 11h7m-5-15h7m-6 18h7m-7 4h7m-6-11h7m-6-8h7m-7 1h7m-7 3h7m-7 2h7m-6-9h7m-7 0h7m-7 13h7m-6 1h7m-6-4h7m-7 3h7m-4 5h7m-6-15h7m-7 8h7m-7 2h7m-5-8h7m-7 0h7m-7 7h7m-6-9h7m-6-1h7m-7 6h7m-7 5h7m-7 3h7m-7 7h7m-6-23h7m-7 4h7m-6 10h7m-5-9h7m-6-5h7m-7 16h7m-6-12h7m-7 3h7m-7 4h7m-5-11h7m-7 5h7m-7 15h7m-5-13h7m-7 4h7m-3-10h7m-7 4h7m-7 5h7m-6 5h7m-6 7h7m-6 1h7m-5-9h7m-7 9h7m-6-20h7m-7 6h7m-6-9h7m-7 23h7m-5-11h7m-7 3h7m-5-10h7m-7 16h7m-6-5h7m-7 1h7m-6-13h7m-4 9h7m-6-9h7m-7 1h7m-7 7h7m-7 6h7m-2 4h7m-4-21h7m-6 4h7m-7 14h7m-5-17h7m-7 15h7m-3 6h7m-6-4h7m-5-19h7m-3 13h7m-6-1h7m-4 11h7m-5-8h7m-5-14h7m-7 20h7m-6-17h7m-6-1h7m-7 1h7m-6-4h7m-6 18h7m-6 2h7m-6-12h7m-1 1h7m-5 0h7m-5 4h7m-6-13h7m-4 5h7m-7 4h7m-2 15h7m-6-21h7m-7 5h7m-7 2h7m-4 8h7m-6-18h7m-2 17h7m-6-7h7m-7 4h7m-6-4h7m-5 12h7m-5-17h7m-7 7h7m-6 2h7m-4-14h7m-6 18h7m0-1h7m30-13h7m76 17h7m17-11h7m102 19h7m-35 19h7m-181-5h7m-24-8h7m-22-9h7m-39 4h7m-15 1h7m-11 7h7m-12-1h7m-10 5h7m-21-4h7m-8-5h7m-17 6h7m-14 0h7m-8 5h7m-8-9h7m-14 6h7m-14 8h7m-10-23h7m-8 8h7m-8 7h7m-10-12h7m-9 19h7m-8-1h7m-7-7h7m-7-10h7m-15-3h7m-7-1h7m-14 8h7m-8-4h7m-9 1h7m-13 0h7m-12 2h7m-7-5h7m-8-2h7m-10 14h7m-8 1h7m-8-12h7m-10 17h7m-12 1h7m-8-9h7m-8-11h7m-8-2h7m-9 23h7m-7-7h7m-7-16h7m-8 6h7m-8-1h7m-8 17h7m-8-4h7m-9-16h7m-10 10h7m-8-8h7m-8 8h7m-7-4h7m-8-7h7m-8 4h7m-8 1h7m-8 12h7m-8-3h7m-9 3h7m-8-5h7m-9-3h7m-8 1h7m-11 7h7m-7-7h7m-8 6h7m-7-4h7m-7-6h7m-7-5h7m-8 21h7m-11 1h7m-7-16h7m-11 9h7m-8-15h7m-9 0h7m-9 20h7m-7-13h7m-12-8h7m-8 14h7m-8 1h7m-7-12h7m-8-4h7m-10 16h7m-8 7h7m-7-22h7m-9 13h7m-7-2h7m-8-6h7m-8 4h7m-9 2h7m-10-5h7m-8-1h7m-8 0h7m-12 16h7m-12-16h7m-8 18h7m-8-24h7m-12 1h7m-9 7h7m-13-5h7m-13 5h7m-10-3h7m-10 16h7m-7-9h7m-7-10h7m-8-2h7m-8 18h7m-7-11h7m-11 16h7m-8-8h7m-7-2h7m-17 5h7m-7-2h7m-8-7h7m-11 3h7m-8 5h7m-21-1h7m-8-2h7m-7-14h7m-17 20h7m-13-19h7m-50 22h7m-13 13h7m27-10h7m14 8h7m1 6h7m7-6h7m28 13h7m2 0h7m-5-21h7m14 10h7m5 13h7m25-10h7m-5-6h7m-1 0h7m-7 6h7m-5-1h7m19 7h7m5 2h7m-5-22h7m-7 12h7m-6-9h7m-1 0h7m0-3h7m96 1h7m0 2h7m26 17h7m4-20h7m83 20h7m209-14h7m2 9h7m5 11h7m-501 9h7m-41-3h7" stroke="#c80a0a" stroke-width="8" stroke-opacity="0.45" fill="none"/>
</g>
<line x1="344.20" y1="769.20" x2="344.20" y2="834.30" stroke="#555" stroke-width="0.8" stroke-linecap="butt"/>
<line x1="306.20" y1="811.20" x2="386.90" y2="811.20" stroke="#555" stroke-width="0.8" stroke-linecap="butt"/>
<line x1="306.20" y1="769.20" x2="386.90" y2="769.20" stroke="#000" stroke-width="1.3" stroke-linecap="butt"/>
<line x1="386.90" y1="769.20" x2="386.90" y2="834.30" stroke="#000" stroke-width="1.1" stroke-linecap="butt"/>
<line x1="306.20" y1="768.60" x2="306.20" y2="834.90" stroke="#000" stroke-width="1.5" stroke-linecap="butt"/>
<line x1="305.50" y1="834.30" x2="387.40" y2="834.30" stroke="#000" stroke-width="1.5" stroke-linecap="butt"/>
<line x1="301.90" y1="769.60" x2="306.20" y2="769.60" stroke="#000" stroke-width="1.0" stroke-linecap="butt"/>
<text x="282.83" y="772.40" font-size="9.8" fill="#111">10<tspan dx="0.4" dy="-4.0" font-size="5.88">4</tspan></text>
<line x1="301.90" y1="784.20" x2="306.20" y2="784.20" stroke="#000" stroke-width="1.0" stroke-linecap="butt"/>
<text x="282.83" y="787.00" font-size="9.8" fill="#111">10<tspan dx="0.4" dy="-4.0" font-size="5.88">3</tspan></text>
<line x1="301.90" y1="801.00" x2="306.20" y2="801.00" stroke="#000" stroke-width="1.0" stroke-linecap="butt"/>
<text x="282.83" y="803.80" font-size="9.8" fill="#111">10<tspan dx="0.4" dy="-4.0" font-size="5.88">2</tspan></text>
<line x1="301.90" y1="816.50" x2="306.20" y2="816.50" stroke="#000" stroke-width="1.0" stroke-linecap="butt"/>
<text x="282.83" y="819.30" font-size="9.8" fill="#111">10<tspan dx="0.4" dy="-4.0" font-size="5.88">1</tspan></text>
<line x1="301.90" y1="833.40" x2="306.20" y2="833.40" stroke="#000" stroke-width="1.0" stroke-linecap="butt"/>
<text x="282.83" y="836.20" font-size="9.8" fill="#111">10<tspan dx="0.4" dy="-4.0" font-size="5.88">0</tspan></text>
<line x1="303.90" y1="828.31" x2="306.20" y2="828.31" stroke="#000" stroke-width="0.8" stroke-linecap="butt"/>
<line x1="303.90" y1="825.34" x2="306.20" y2="825.34" stroke="#000" stroke-width="0.8" stroke-linecap="butt"/>
<line x1="303.90" y1="823.23" x2="306.20" y2="823.23" stroke="#000" stroke-width="0.8" stroke-linecap="butt"/>
<line x1="303.90" y1="821.59" x2="306.20" y2="821.59" stroke="#000" stroke-width="0.8" stroke-linecap="butt"/>
<line x1="303.90" y1="820.25" x2="306.20" y2="820.25" stroke="#000" stroke-width="0.8" stroke-linecap="butt"/>
<line x1="303.90" y1="819.12" x2="306.20" y2="819.12" stroke="#000" stroke-width="0.8" stroke-linecap="butt"/>
<line x1="303.90" y1="818.14" x2="306.20" y2="818.14" stroke="#000" stroke-width="0.8" stroke-linecap="butt"/>
<line x1="303.90" y1="817.27" x2="306.20" y2="817.27" stroke="#000" stroke-width="0.8" stroke-linecap="butt"/>
<line x1="303.90" y1="811.83" x2="306.20" y2="811.83" stroke="#000" stroke-width="0.8" stroke-linecap="butt"/>
<line x1="303.90" y1="809.10" x2="306.20" y2="809.10" stroke="#000" stroke-width="0.8" stroke-linecap="butt"/>
<line x1="303.90" y1="807.17" x2="306.20" y2="807.17" stroke="#000" stroke-width="0.8" stroke-linecap="butt"/>
<line x1="303.90" y1="805.67" x2="306.20" y2="805.67" stroke="#000" stroke-width="0.8" stroke-linecap="butt"/>
<line x1="303.90" y1="804.44" x2="306.20" y2="804.44" stroke="#000" stroke-width="0.8" stroke-linecap="butt"/>
<line x1="303.90" y1="803.40" x2="306.20" y2="803.40" stroke="#000" stroke-width="0.8" stroke-linecap="butt"/>
<line x1="303.90" y1="802.50" x2="306.20" y2="802.50" stroke="#000" stroke-width="0.8" stroke-linecap="butt"/>
<line x1="303.90" y1="801.71" x2="306.20" y2="801.71" stroke="#000" stroke-width="0.8" stroke-linecap="butt"/>
<line x1="303.90" y1="795.94" x2="306.20" y2="795.94" stroke="#000" stroke-width="0.8" stroke-linecap="butt"/>
<line x1="303.90" y1="792.98" x2="306.20" y2="792.98" stroke="#000" stroke-width="0.8" stroke-linecap="butt"/>
<line x1="303.90" y1="790.89" x2="306.20" y2="790.89" stroke="#000" stroke-width="0.8" stroke-linecap="butt"/>
<line x1="303.90" y1="789.26" x2="306.20" y2="789.26" stroke="#000" stroke-width="0.8" stroke-linecap="butt"/>
<line x1="303.90" y1="787.93" x2="306.20" y2="787.93" stroke="#000" stroke-width="0.8" stroke-linecap="butt"/>
<line x1="303.90" y1="786.80" x2="306.20" y2="786.80" stroke="#000" stroke-width="0.8" stroke-linecap="butt"/>
<line x1="303.90" y1="785.83" x2="306.20" y2="785.83" stroke="#000" stroke-width="0.8" stroke-linecap="butt"/>
<line x1="303.90" y1="784.97" x2="306.20" y2="784.97" stroke="#000" stroke-width="0.8" stroke-linecap="butt"/>
<line x1="303.90" y1="779.80" x2="306.20" y2="779.80" stroke="#000" stroke-width="0.8" stroke-linecap="butt"/>
<line x1="303.90" y1="777.23" x2="306.20" y2="777.23" stroke="#000" stroke-width="0.8" stroke-linecap="butt"/>
<line x1="303.90" y1="775.41" x2="306.20" y2="775.41" stroke="#000" stroke-width="0.8" stroke-linecap="butt"/>
<line x1="303.90" y1="774.00" x2="306.20" y2="774.00" stroke="#000" stroke-width="0.8" stroke-linecap="butt"/>
<line x1="303.90" y1="772.84" x2="306.20" y2="772.84" stroke="#000" stroke-width="0.8" stroke-linecap="butt"/>
<line x1="303.90" y1="771.86" x2="306.20" y2="771.86" stroke="#000" stroke-width="0.8" stroke-linecap="butt"/>
<line x1="303.90" y1="771.01" x2="306.20" y2="771.01" stroke="#000" stroke-width="0.8" stroke-linecap="butt"/>
<line x1="303.90" y1="770.27" x2="306.20" y2="770.27" stroke="#000" stroke-width="0.8" stroke-linecap="butt"/>
<line x1="305.80" y1="834.30" x2="305.80" y2="838.20" stroke="#000" stroke-width="1.0" stroke-linecap="butt"/>
<text x="298.52" y="851.60" font-size="9.8" fill="#111">10<tspan dx="0.4" dy="-4.0" font-size="5.88">0</tspan></text>
<line x1="325.40" y1="834.30" x2="325.40" y2="838.20" stroke="#000" stroke-width="1.0" stroke-linecap="butt"/>
<text x="318.12" y="851.60" font-size="9.8" fill="#111">10<tspan dx="0.4" dy="-4.0" font-size="5.88">1</tspan></text>
<line x1="345.00" y1="834.30" x2="345.00" y2="838.20" stroke="#000" stroke-width="1.0" stroke-linecap="butt"/>
<text x="337.72" y="851.60" font-size="9.8" fill="#111">10<tspan dx="0.4" dy="-4.0" font-size="5.88">2</tspan></text>
<line x1="364.60" y1="834.30" x2="364.60" y2="838.20" stroke="#000" stroke-width="1.0" stroke-linecap="butt"/>
<text x="357.32" y="851.60" font-size="9.8" fill="#111">10<tspan dx="0.4" dy="-4.0" font-size="5.88">3</tspan></text>
<line x1="385.40" y1="834.30" x2="385.40" y2="838.20" stroke="#000" stroke-width="1.0" stroke-linecap="butt"/>
<text x="378.12" y="851.60" font-size="9.8" fill="#111">10<tspan dx="0.4" dy="-4.0" font-size="5.88">4</tspan></text>
<line x1="311.70" y1="834.30" x2="311.70" y2="836.60" stroke="#000" stroke-width="0.8" stroke-linecap="butt"/>
<line x1="315.15" y1="834.30" x2="315.15" y2="836.60" stroke="#000" stroke-width="0.8" stroke-linecap="butt"/>
<line x1="317.60" y1="834.30" x2="317.60" y2="836.60" stroke="#000" stroke-width="0.8" stroke-linecap="butt"/>
<line x1="319.50" y1="834.30" x2="319.50" y2="836.60" stroke="#000" stroke-width="0.8" stroke-linecap="butt"/>
<line x1="321.05" y1="834.30" x2="321.05" y2="836.60" stroke="#000" stroke-width="0.8" stroke-linecap="butt"/>
<line x1="322.36" y1="834.30" x2="322.36" y2="836.60" stroke="#000" stroke-width="0.8" stroke-linecap="butt"/>
<line x1="323.50" y1="834.30" x2="323.50" y2="836.60" stroke="#000" stroke-width="0.8" stroke-linecap="butt"/>
<line x1="324.50" y1="834.30" x2="324.50" y2="836.60" stroke="#000" stroke-width="0.8" stroke-linecap="butt"/>
<line x1="331.30" y1="834.30" x2="331.30" y2="836.60" stroke="#000" stroke-width="0.8" stroke-linecap="butt"/>
<line x1="334.75" y1="834.30" x2="334.75" y2="836.60" stroke="#000" stroke-width="0.8" stroke-linecap="butt"/>
<line x1="337.20" y1="834.30" x2="337.20" y2="836.60" stroke="#000" stroke-width="0.8" stroke-linecap="butt"/>
<line x1="339.10" y1="834.30" x2="339.10" y2="836.60" stroke="#000" stroke-width="0.8" stroke-linecap="butt"/>
<line x1="340.65" y1="834.30" x2="340.65" y2="836.60" stroke="#000" stroke-width="0.8" stroke-linecap="butt"/>
<line x1="341.96" y1="834.30" x2="341.96" y2="836.60" stroke="#000" stroke-width="0.8" stroke-linecap="butt"/>
<line x1="343.10" y1="834.30" x2="343.10" y2="836.60" stroke="#000" stroke-width="0.8" stroke-linecap="butt"/>
<line x1="344.10" y1="834.30" x2="344.10" y2="836.60" stroke="#000" stroke-width="0.8" stroke-linecap="butt"/>
<line x1="350.90" y1="834.30" x2="350.90" y2="836.60" stroke="#000" stroke-width="0.8" stroke-linecap="butt"/>
<line x1="354.35" y1="834.30" x2="354.35" y2="836.60" stroke="#000" stroke-width="0.8" stroke-linecap="butt"/>
<line x1="356.80" y1="834.30" x2="356.80" y2="836.60" stroke="#000" stroke-width="0.8" stroke-linecap="butt"/>
<line x1="358.70" y1="834.30" x2="358.70" y2="836.60" stroke="#000" stroke-width="0.8" stroke-linecap="butt"/>
<line x1="360.25" y1="834.30" x2="360.25" y2="836.60" stroke="#000" stroke-width="0.8" stroke-linecap="butt"/>
<line x1="361.56" y1="834.30" x2="361.56" y2="836.60" stroke="#000" stroke-width="0.8" stroke-linecap="butt"/>
<line x1="362.70" y1="834.30" x2="362.70" y2="836.60" stroke="#000" stroke-width="0.8" stroke-linecap="butt"/>
<line x1="363.70" y1="834.30" x2="363.70" y2="836.60" stroke="#000" stroke-width="0.8" stroke-linecap="butt"/>
<line x1="370.86" y1="834.30" x2="370.86" y2="836.60" stroke="#000" stroke-width="0.8" stroke-linecap="butt"/>
<line x1="374.52" y1="834.30" x2="374.52" y2="836.60" stroke="#000" stroke-width="0.8" stroke-linecap="butt"/>
<line x1="377.12" y1="834.30" x2="377.12" y2="836.60" stroke="#000" stroke-width="0.8" stroke-linecap="butt"/>
<line x1="379.14" y1="834.30" x2="379.14" y2="836.60" stroke="#000" stroke-width="0.8" stroke-linecap="butt"/>
<line x1="380.79" y1="834.30" x2="380.79" y2="836.60" stroke="#000" stroke-width="0.8" stroke-linecap="butt"/>
<line x1="382.18" y1="834.30" x2="382.18" y2="836.60" stroke="#000" stroke-width="0.8" stroke-linecap="butt"/>
<line x1="383.38" y1="834.30" x2="383.38" y2="836.60" stroke="#000" stroke-width="0.8" stroke-linecap="butt"/>
<line x1="384.45" y1="834.30" x2="384.45" y2="836.60" stroke="#000" stroke-width="0.8" stroke-linecap="butt"/>
<text x="306.90" y="776.20" font-size="10.0" text-anchor="start" fill="#000" >DMSO</text>
<text x="386.50" y="777.60" font-size="10.0" text-anchor="end" fill="#000" >4.2±1.8%</text>
<text x="386.50" y="832.70" font-size="10.0" text-anchor="end" fill="#000" >2.4±0.6%</text>
<g clip-path="url(#c6)">
<ellipse cx="441" cy="822" rx="16" ry="6.5" fill="#c80a0a" fill-opacity="0.45" filter="url(#b2)"/>
<path transform="scale(.1)" d="M4331 7710h7m2 1h7m-3-5h7m0 2h7m26-4h7m73 13h7m411 4h7m65 12h7m-26-3h7m-9 2h7m-17-5h7m-52 16h7m-21-7h7m-54 12h7m-73-13h7m-45-1h7m-18 12h7m-33-1h7m-9-4h7m-140-15h7m-49 0h7m-46 16h7m-7-4h7m-13 10h7m-205-14h7m84 31h7m38 5h7m76-11h7m16 8h7m50-3h7m42 10h7m23-13h7m-4-3h7m-4-4h7m2-1h7m234-3h7m3 20h7m39-3h7m12-12h7m18 8h7m-5 5h7m-25 10h7m-37 20h7m-14-22h7m-8 3h7m-9 18h7m-107-7h7m-55 2h7m-71-13h7m-193 5h7m-111 5h7m-12-3h7m-132-11h7m-65 6h7m0 41h7m58-21h7m184 11h7m56-10h7m53 7h7m5-8h7m166 1h7m43-2h7m43 24h7m13-19h7m52 12h7m-81 31h7m-137-3h7m-16-3h7m-99 0h7m-109-11h7m-35-1h7m-34 15h7m-56-19h7m-39 8h7m-188 14h7m-31 19h7m108-15h7m76 6h7m135 9h7m28-5h7m0 8h7m4-17h7m35-1h7m53 1h7m-4-3h7m62 20h7m107-19h7m63 41h7m-115-5h7m-86-3h7m-27-7h7m-30 18h7m-10-19h7m-26 12h7m-9-5h7m-45 8h7m-88 8h7m-186-7h7m-122-12h7m-72-3h7m79 47h7m54-23h7m50 4h7m81-5h7m64 16h7m-4-8h7m18 13h7m106-10h7m30 4h7m93-6h7m81-1h7m-17 35h7m-20-7h7m-33-3h7m-66 15h7m-47-17h7m-32-4h7m-14 11h7m-38-11h7m-11 9h7m-32 3h7m-537-4h7m5 24h7m96 13h7m131-12h7m83 13h7m125-17h7m11 4h7m24 13h7m53-17h7m120 6h7m11 9h7m23-6h7m0-7h7m-5 19h7m-16 16h7m-61 6h7m-82-23h7m-10 20h7m-14-1h7m-9 0h7m-27-3h7m-8-16h7m-13 2h7m-40 1h7m-32 3h7m-35-3h7m-38 16h7m-29-10h7m-27 5h7m-12-7h7m-56-5h7m-22 2h7m-58-2h7m-26 19h7m-23-20h7m-11 0h7m-134 1h7m-143 0h7m-8 26h7m-2 15h7m172-2h7m-6 6h7m113-22h7m-1 11h7m36 7h7m17 2h7m3-8h7m-6-13h7m-5 15h7m-7 4h7m-6-14h7m2 4h7m-1 4h7m-5 11h7m-3-17h7m-3 14h7m-5-3h7m-5-16h7m-7 21h7m-5 1h7m-6-2h7m-6-9h7m-3 2h7m4-5h7m-3 9h7m-7 5h7m-5-16h7m-3 5h7m0 1h7m-1 5h7m-3-3h7m-7 6h7m-2-21h7m5 14h7m0 9h7m-4-6h7m-5-7h7m-2 11h7m-2 0h7m16-6h7m3-14h7m-6 1h7m10-1h7m30 9h7m10-1h7m33-4h7m-1 16h7m17-10h7m8 15h7m-12 8h7m-10 4h7m-33-8h7m-25-4h7m-16 1h7m-24 3h7m-17 4h7m-12 0h7m-22 9h7m-12 2h7m-53 3h7m-16-7h7m-8 5h7m-15-15h7m-9-2h7m-9 12h7m-12 5h7m-16 2h7m-17-24h7m-11 10h7m-9-8h7m-8 9h7m-8 8h7m-8 1h7m-11-18h7m-9 17h7m-10-8h7m-13-3h7m-8 4h7m-8 10h7m-7-17h7m-12 12h7m-15 5h7m-7-3h7m-7-12h7m-9-5h7m-9 13h7m-9 6h7m-9-19h7m-9 1h7m-9 14h7m-11-5h7m-9-8h7m-10 1h7m-18-1h7m-15 15h7m-14-16h7m-12 19h7m-7-1h7m-9-9h7m-17 0h7m-12-5h7m-13-7h7m-13 6h7m-141 4h7m-86 13h7m-22-21h7m-24 19h7m-52-5h7m-76 26h7m11-14h7m75 3h7m61 17h7m77-12h7m24 10h7m49-3h7m9 0h7m-7 4h7m30-22h7m-7 0h7m4 9h7m0 11h7m-5-10h7m-7 2h7m0-2h7m-6-1h7m-4 2h7m-4 11h7m0-16h7m-4 0h7m-3 13h7m-6-15h7m-3 3h7m-6-6h7m-6 12h7m-1-10h7m-6-3h7m-5 14h7m-3-9h7m-4 1h7m-3 10h7m-5-14h7m-7 17h7m-5-4h7m-4-9h7m-3 8h7m-5-12h7m-1 0h7m-4 2h7m-6 12h7m-2 0h7m6-7h7m5-3h7m-3 7h7m-6-10h7m7 15h7m-5-16h7m-2 10h7m9-9h7m4 7h7m0 6h7m24-10h7m83 11h7m6 4h7m8 19h7m-43-11h7m-63 1h7m-8 8h7m-32-13h7m-15 4h7m-41-3h7m-20-1h7m-11 17h7m-47 1h7m-13-7h7m-7-1h7m-13-4h7m-20 6h7m-17 3h7m-13-15h7m-14 19h7m-16-17h7m-20 7h7m-9-8h7m-18 10h7m-38-3h7m-13 5h7m-42-5h7m-9-4h7m-15-1h7m-171 7h7m-25 10h7m-82-11h7m-26-9h7m-15 16h7m-12 5h7m-77-8h7m9 12h7m54 23h7m24-4h7m-5 1h7m-4-20h7m-4 17h7m-5 6h7m34-15h7m1 1h7m6 2h7m4-7h7m-1 4h7m-5-6h7m13 19h7m1-1h7m10-5h7m23-7h7m5 11h7m74-13h7m6 0h7m43 13h7m22-19h7m-1 7h7m10 2h7m-7 13h7m7-15h7m-2 11h7m8-14h7m10 7h7m-2 2h7m13 11h7m57 0h7m3-4h7m80-4h7m-5 3h7m37 25h7m-12 2h7m-17-16h7m-12-5h7m-81 16h7m-127 0h7m-14 2h7m-11-2h7m-62-11h7m-35 15h7m-17-10h7m-31-7h7m-13 7h7m-75 14h7m-29-18h7m-8 12h7m-12-10h7m-20 9h7m-9 2h7m-12-8h7m-12 8h7m-26 1h7m-8-4h7m-22 5h7m-13 3h7m-7-14h7m-11 10h7m-17-4h7m-9-7h7m-8 1h7m-8 10h7m-10-6h7m-11 10h7m-9-8h7m-9-3h7m-10 11h7m-7-6h7m-11 4h7m-11-16h7m-12 16h7m-10-13h7m-7-2h7m-17 16h7m-12-9h7m-10 9h7m-8-7h7m-10-9h7m-9 8h7m-8-12h7m-10 12h7m-8-3h7m-9 4h7m-7-10h7m-22 13h7m-9 2h7m-8-4h7m-9 3h7m-13-19h7m-13 6h7m-9-5h7m-34-1h7m-10 18h7m-11 4h7m-9-6h7m-26 2h7m-11-5h7m-20 2h7m-12-4h7m-9 11h7m-11-11h7m-9-2h7m-14 9h7m-24 4h7m-13-15h7m-7-8h7m-23 5h7m-23 44h7m-4 0h7m-6 0h7m1-9h7m4 0h7m1-15h7m-5 12h7m-4 0h7m-5 1h7m-7 2h7m-6 0h7m-1-2h7m-5-7h7m-5 16h7m-6-8h7m-2 2h7m-6 3h7m5-9h7m0 10h7m-2 0h7m-5-7h7m6-4h7m-4 2h7m-4-5h7m-7 2h7m-7 4h7m-5-6h7m-7 2h7m-6 11h7m-6-7h7m-7 2h7m-2 5h7m-6-13h7m-6 10h7m-4-9h7m-4 8h7m-4-7h7m-3-7h7m-7 8h7m-7 4h7m-6 11h7m-5-24h7m-7 17h7m-6-4h7m-6-1h7m-5 6h7m-6 4h7m-5 2h7m-6-8h7m-6 2h7m-2-13h7m-6 17h7m-7 2h7m-6-8h7m-4-13h7m-7 13h7m-6-1h7m-3 4h7m-5-18h7m-6 13h7m-3 5h7m-5 1h7m-5-11h7m-6 7h7m-7 6h7m-5-11h7m-5 13h7m-3-12h7m-6-2h7m-6-8h7m-7 2h7m-7 1h7m-6 1h7m-7 3h7m-7 7h7m-5 1h7m-6-13h7m-7 4h7m-6-3h7m-6 3h7m-6 15h7m-5-9h7m-7 5h7m-6-2h7m-5 6h7m-5-4h7m-4-15h7m-7 4h7m-6 0h7m-6-8h7m-7 21h7m-5 0h7m-7 0h7m-4-20h7m-7 15h7m-7 7h7m-6-18h7m-1 10h7m-7 3h7m-7 3h7m-6 0h7m-7 3h7m-6-24h7m-7 15h7m-6 4h7m-7 0h7m-5 1h7m-6-2h7m-5-8h7m-5-3h7m-6 16h7m-6-9h7m-5 3h7m-7 3h7m-3 2h7m-7 1h7m-6-4h7m-6-6h7m-7 7h7m-6-4h7m-6 0h7m1 5h7m-7 0h7m-6-1h7m-7 4h7m-4-15h7m-7 7h7m-6-1h7m-6-10h7m-5 1h7m-6 10h7m-7 0h7m-5-16h7m-6 10h7m-5-7h7m-7 7h7m-6-7h7m-7 13h7m-7 7h7m-4-23h7m-6 6h7m-6 15h7m-6-2h7m-6-5h7m-4-1h7m-5 11h7m-3-12h7m-5-6h7m-6 13h7m-6-13h7m-5-1h7m-6-2h7m-2 8h7m2 0h7m-6 11h7m-5-6h7m-4-12h7m-6-2h7m-7 18h7m-6-17h7m-7 10h7m-6 7h7m-2-6h7m-6 2h7m-7 7h7m-7 0h7m-5 1h7m-1-17h7m-7 12h7m-7 4h7m-5-1h7m-3-13h7m-7 7h7m0 7h7m-4-7h7m-6-6h7m-6 1h7m16 13h7m-2-8h7m-6 2h7m-4 1h7m6-10h7m-6 15h7m3-24h7m-3 9h7m-7 8h7m4-4h7m11 10h7m55-12h7m1-3h7m70 10h7m10-18h7m1 7h7m7 6h7m0 8h7m73-20h7m2 7h7m58 37h7m-27-10h7m-47-2h7m-15-6h7m-88 17h7m-106 1h7m-34-17h7m-63 2h7m-20-1h7m-9 6h7m-9-6h7m-21 10h7m-10-1h7m-10-10h7m-16 18h7m-9 2h7m-7-9h7m-8-4h7m-9 11h7m-10-7h7m-7-6h7m-12 14h7m-20-2h7m-23-2h7m-10-9h7m-12-5h7m-9 17h7m-8-1h7m-10-3h7m-7-10h7m-16-1h7m-8 13h7m-8-6h7m-9-9h7m-8 9h7m-9 11h7m-8-5h7m-8-2h7m-7-2h7m-8 8h7m-8-12h7m-8 4h7m-8-5h7m-9 8h7m-9 5h7m-12-1h7m-12-3h7m-8 3h7m-8-2h7m-7-9h7m-8 5h7m-8 7h7m-7-7h7m-8 7h7m-8-7h7m-8-2h7m-8 1h7m-10 8h7m-7-18h7m-8 19h7m-7-8h7m-7-16h7m-8 24h7m-9-5h7m-7-1h7m-8-9h7m-8 8h7m-8 6h7m-11 1h7m-7-5h7m-8-3h7m-9 4h7m-8 1h7m-8-16h7m-9-5h7m-8 7h7m-9-2h7m-8 0h7m-11 14h7m-8-11h7m-7-6h7m-9-2h7m-8 11h7m-8 11h7m-7-2h7m-8 2h7m-7-12h7m-7-6h7m-9 19h7m-7-18h7m-9-1h7m-8 16h7m-7-15h7m-7-4h7m-8 22h7m-7-13h7m-7-9h7m-9 6h7m-9 9h7m-7-5h7m-8-1h7m-7-4h7m-8 11h7m-8-5h7m-11-3h7m-8 9h7m-7-12h7m-8-2h7m-10 3h7m-7-1h7m-7-3h7m-9 17h7m-8-4h7m-7-3h7m-9 2h7m-7-7h7m-7-3h7m-8 15h7m-7-7h7m-9-7h7m-8-3h7m-9 0h7m-10-1h7m-8 15h7m-7-7h7m-7-3h7m-8-1h7m-8 8h7m-9-8h7m-7-4h7m-7 0h7m-8 18h7m-7-8h7m-8-6h7m-9 3h7m-9 11h7m-8 2h7m-8 0h7m-8-4h7m-8-4h7m-7-7h7m-7-6h7m-8 18h7m-8 5h7m-7-15h7m-9 13h7m-7-14h7m-8 14h7m-7-8h7m-7-1h7m-7-11h7m-8-2h7m-8 11h7m-8-10h7m-8 15h7m-7-1h7m-7-7h7m-8-2h7m-8 16h7m-7-1h7m-7-2h7m-7-14h7m-8 6h7m-7-4h7m-7-3h7m-8 12h7m-7-4h7m-7-7h7m-8 14h7m-7-6h7m-7-4h7m-8 15h7m-8-2h7m-7-19h7m-7 0h7m-8 11h7m-8 7h7m-7-20h7m-8 21h7m-7-22h7m-8 22h7m-7-11h7m-9 2h7m-7-4h7m-8 11h7m-9 4h7m-7 0h7m-7-2h7m-7 0h7m-8 1h7m-7-10h7m-7-5h7m-7-1h7m-8 5h7m-7-5h7m-7-2h7m-8 2h7m-8 15h7m-7-19h7m-8 20h7m-7-13h7m-9 9h7m-7-12h7m-7-7h7m-8 10h7m-7-7h7m-8 3h7m-8 16h7m-7-2h7m-7-2h7m-7-16h7m-8-1h7m-8 1h7m-8 11h7m-8 0h7m-7-1h7m-7-8h7m-9 6h7m-7-8h7m-8 11h7m-7-2h7m-7-6h7m-7 0h7m-11 10h7m-8-1h7m-8-6h7m-8 9h7m-7-7h7m-8 8h7m-7-11h7m-7-6h7m-8 19h7m-7-3h7m-12-13h7m-8 12h7m-10 1h7m-7 0h7m-10-2h7m-7-2h7m-7-7h7m-7-3h7m-8 20h7m-7-17h7m-8 9h7m-8-7h7m-8 8h7m-10 8h7m-7-5h7m-9 2h7m-7-15h7m-7-6h7m-9 24h7m-7-8h7m-8-10h7m-8 17h7m-8-9h7m-7-2h7m-7-9h7m-8 10h7m-8-2h7m-10 0h7m-7-8h7m-7-2h7m-8 19h7m-7-2h7m-7-16h7m-9 16h7m-8 4h7m-7-7h7m-7-1h7m-7-7h7m-7-5h7m-8-2h7m-8 4h7m-9-1h7m-8 20h7m-9-2h7m-7-16h7m-8 6h7m-9 9h7m-7-11h7m-7-3h7m-8 17h7m-7-14h7m-11 7h7m-7-8h7m-9-6h7m-9 13h7m-8-12h7m-9-2h7m-8 9h7m-8 14h7m-7-15h7m-8 12h7m-8-16h7m-9 8h7m-8 6h7m-9-16h7m-7-3h7m-8 24h7m-11-20h7m-7-3h7m-13 20h7m-8 0h7m-8-15h7m-8 0h7m-13 14h7m-10-5h7m-8-11h7m-7-1h7m-8 6h7m-8 3h7m-10-3h7m-7-8h7m-13 10h7m-8 13h7m-7-6h7m-7 0h7m-8 6h7m-11-23h7m-11 19h7m-8-5h7m-9 4h7m-8-6h7m-8 3h7m-8-13h7m-12 18h7m-7-3h7m-10 0h7m-9-5h7m-11-9h7m-17 18h7m-8 1h7m-7-20h7m-8 18h7m-7-5h7m-12 3h7m-11-2h7m-14-9h7m-5 20h7m-5 3h7m-1 17h7m11-14h7m-2 9h7m-6-12h7m-7 17h7m-4-3h7m-1-8h7m-3 2h7m-6 4h7m-4-3h7m-7 9h7m-6-7h7m-6 7h7m-6-22h7m-7 17h7m-7 5h7m-5-8h7m-6-8h7m-6-1h7m-6 12h7m-6-4h7m-6-15h7m-7 8h7m-5-5h7m-7 6h7m-7 7h7m-7 3h7m-5-16h7m-7 8h7m-6-5h7m-6 13h7m-6-15h7m-3 6h7m-6-10h7m-6 9h7m-5 12h7m-6-17h7m-7 17h7m-5 3h7m-5-4h7m-7 4h7m-6-8h7m-7 6h7m-5-14h7m-7 9h7m-6 0h7m-5-6h7m-4 5h7m-7 2h7m-6 3h7m-7 2h7m-4-19h7m-7 9h7m-7 3h7m-6-1h7m-7 7h7m-7 1h7m-6-8h7m-6-1h7m-6-11h7m-7 9h7m-6-10h7m-6 6h7m-6 8h7m-7 2h7m-5-15h7m-7 4h7m-7 6h7m-7 8h7m-6-6h7m-6-8h7m-7 9h7m-7 5h7m-6-13h7m-6 7h7m-7 1h7m-6-11h7m-7 2h7m-7 1h7m-7 14h7m-7 0h7m-7 1h7m-6-13h7m-6 13h7m-6-16h7m-6-5h7m-7 19h7m-4-16h7m-7 1h7m-6 3h7m-6-8h7m-7 16h7m-6-13h7m-6-2h7m-7 8h7m-7 3h7m-6-6h7m-7 16h7m-6-12h7m-7 13h7m-5-10h7m-7 8h7m-6-6h7m-7 4h7m-6-10h7m-7 4h7m-6-9h7m-7 6h7m-7 12h7m-5-23h7m-7 6h7m-5-3h7m-7 8h7m-5 2h7m-7 9h7m-5-11h7m-7 7h7m-7 3h7m-6-21h7m-6 21h7m-7 3h7m-6-8h7m-7 2h7m-5-18h7m-7 15h7m-7 1h7m-7 5h7m-6-20h7m-6 9h7m-6-6h7m-7 17h7m-7 0h7m-6-21h7m-7 8h7m-7 0h7m-7 7h7m-5-4h7m-7 9h7m-7 1h7m-6-19h7m-7 10h7m-6 0h7m-6 5h7m-6-2h7m-6-8h7m-5-6h7m-7 1h7m-7 3h7m-6-2h7m-7 10h7m-7 1h7m-7 5h7m-6-9h7m-7 5h7m-7 4h7m-6-10h7m-7 6h7m-6-4h7m-7 1h7m-6 10h7m-6-20h7m-7 8h7m-7 3h7m-7 8h7m-6-13h7m-7 2h7m-7 4h7m-6 3h7m-7 4h7m-6-7h7m-6-1h7m-7 0h7m-6-2h7m-7 11h7m-6-12h7m-7 5h7m-7 5h7m-6-12h7m-7 11h7m-6-13h7m-6 16h7m-5-21h7m-7 13h7m-6 0h7m-7 6h7m-6-19h7m-7 4h7m-7 2h7m-6 15h7m-6-16h7m-7 4h7m-7 5h7m-7 6h7m-5-19h7m-7 1h7m-6 1h7m-7 8h7m-7 8h7m-7 2h7m-6-22h7m-6 2h7m-7 8h7m-7 3h7m-6-6h7m-7 14h7m-6-19h7m-7 18h7m-6-18h7m-6 4h7m-7 3h7m-7 3h7m-6-11h7m-7 1h7m-7 16h7m-5-8h7m-7 9h7m-6-3h7m-7 2h7m-5-1h7m-6 6h7m-7 1h7m-6-21h7m-7 0h7m-7 8h7m-7 1h7m-7 1h7m-5-8h7m-7 3h7m-6 1h7m-7 10h7m-6-18h7m-7 8h7m-7 10h7m-6-16h7m-7 5h7m-7 0h7m-7 1h7m-7 1h7m-7 14h7m-6-11h7m-6-13h7m-7 8h7m-5 6h7m-7 2h7m-7 2h7m-7 2h7m-7 0h7m-6-1h7m-6-4h7m-6-15h7m-7 4h7m-6 2h7m-7 3h7m-7 13h7m-4-20h7m-7 22h7m-6-16h7m-7 1h7m-7 4h7m-7 10h7m-6-14h7m-6-4h7m-7 1h7m-7 2h7m-7 12h7m-6 3h7m-6-22h7m-7 8h7m-7 11h7m-6-9h7m-6-11h7m-6 4h7m-7 5h7m-7 12h7m-7 1h7m-7 2h7m-6-18h7m-7 5h7m-7 10h7m-6-15h7m-7 14h7m-6-14h7m-6 16h7m-6-21h7m-7 22h7m-5-15h7m-7 8h7m-7 4h7m-7 0h7m-6-16h7m-7 1h7m-7 4h7m-6 8h7m-7 1h7m-5-10h7m-7 11h7m-6-18h7m-7 3h7m-7 15h7m-6 0h7m-7 1h7m-6-18h7m-7 7h7m-7 2h7m-6-11h7m-7 1h7m-7 9h7m-7 11h7m-6 2h7m-6-23h7m-7 0h7m-7 19h7m-7 0h7m-5-14h7m-7 0h7m-7 7h7m-7 6h7m-6-12h7m-7 1h7m-6 6h7m-5 1h7m-7 4h7m-4-5h7m-6-9h7m-7 7h7m-7 1h7m-6-8h7m-7 3h7m-7 4h7m-7 2h7m-7 4h7m-6-2h7m-6-10h7m-7 0h7m-6-2h7m-7 4h7m-7 0h7m-7 0h7m-7 9h7m-6-10h7m-6-2h7m-7 2h7m-6-5h7m-7 6h7m-7 4h7m-7 3h7m-7 9h7m-6-18h7m-5 1h7m-7 1h7m-7 15h7m-7 2h7m-6-17h7m-5 14h7m-6 3h7m-6-22h7m-7 10h7m-6-9h7m-7 19h7m-6-17h7m-5 13h7m-6-16h7m-7 1h7m-6 7h7m-7 10h7m-6-13h7m-7 15h7m-5-11h7m-5-6h7m-6 0h7m-7 18h7m-6-22h7m-7 6h7m-7 10h7m-6 3h7m-5-11h7m-7 0h7m-7 0h7m-7 13h7m-3-21h7m-7 3h7m-7 6h7m-6-9h7m-6 14h7m-7 4h7m-5 3h7m-4 1h7m-6-22h7m-6-1h7m-7 20h7m-6-7h7m-7 10h7m-6-23h7m-6 17h7m-6-14h7m-7 4h7m-7 8h7m-7 3h7m-6-16h7m-7 1h7m-6 1h7m-4 12h7m-7 5h7m-6-2h7m-5 2h7m-6-6h7m-6-6h7m-7 7h7m-7 1h7m-7 1h7m-7 5h7m-6-7h7m-6-11h7m-6 8h7m-6-12h7m-5 2h7m-7 18h7m-6-3h7m-5-3h7m-7 3h7m-6 5h7m-6-21h7m-7 3h7m-7 18h7m-5-19h7m-3 19h7m-5-20h7m-5 7h7m-7 3h7m-6 10h7m-6-16h7m-5 2h7m-7 3h7m-5-9h7m-7 16h7m-5-3h7m-5-5h7m-2-7h7m-7 10h7m-4-2h7m-5 1h7m-6-11h7m-7 20h7m-6-16h7m-7 3h7m-6-7h7m-4 18h7m-6-4h7m-7 2h7m-7 0h7m4-9h7m-5-8h7m-7 2h7m-7 3h7m-6 15h7m-3-4h7m-7 1h7m-7 3h7m-5-12h7m-7 5h7m0-10h7m-4 0h7m-4 11h7m0 6h7m-3-13h7m11 0h7m-7 10h7m-5 6h7m-1-10h7m3-3h7m-4-10h7m45 21h7m0-6h7m45-5h7m19 0h7m42 0h7m0-3h7m-7 2h7m8-4h7m79 6h7m15 2h7m10 3h7m-19 32h7m-26-15h7m-15 4h7m-103-9h7m-14 2h7m-24 15h7m-98-12h7m-54-5h7m-46 7h7m-21 0h7m-9-11h7m-10 10h7m-9-7h7m-18 4h7m-10-3h7m-8-2h7m-12 8h7m-10 7h7m-11-12h7m-15 12h7m-11-17h7m-11 7h7m-14 0h7m-13 16h7m-12-21h7m-8 22h7m-8-2h7m-10-17h7m-8 10h7m-8-10h7m-12 0h7m-10 7h7m-10-12h7m-12 22h7m-9-18h7m-7-3h7m-8 3h7m-12 17h7m-9-12h7m-8-9h7m-8 15h7m-8-9h7m-9-3h7m-10 2h7m-8 17h7m-10-17h7m-8 18h7m-7-13h7m-7-7h7m-11 14h7m-8-9h7m-9 15h7m-7-15h7m-8-5h7m-7 0h7m-13 19h7m-8 0h7m-7-21h7m-8 12h7m-8 4h7m-8-2h7m-8 7h7m-7-3h7m-7-12h7m-7-5h7m-8-2h7m-10 23h7m-7-7h7m-7-10h7m-9 6h7m-7-7h7m-8-4h7m-10 4h7m-8-4h7m-9 11h7m-9 11h7m-7-18h7m-8 9h7m-8 0h7m-8 4h7m-7-6h7m-7-4h7m-7-1h7m-9 9h7m-7-7h7m-7-3h7m-9 14h7m-7-6h7m-8 4h7m-7-14h7m-8 19h7m-7-6h7m-7-14h7m-9 9h7m-8 12h7m-7-13h7m-7-6h7m-7-3h7m-7-1h7m-9 16h7m-8 3h7m-7-8h7m-8-11h7m-8 1h7m-9 0h7m-7-1h7m-10 14h7m-8 2h7m-7-13h7m-8 18h7m-7-11h7m-7-6h7m-7-1h7m-8 18h7m-7-8h7m-7-7h7m-7-2h7m-7 0h7m-7-2h7m-8 12h7m-8-10h7m-8 3h7m-7-4h7m-8-2h7m-8 19h7m-7-4h7m-8-7h7m-7-6h7m-8 6h7m-8 1h7m-7-8h7m-8 7h7m-9-8h7m-7-1h7m-8 23h7m-7-5h7m-7-7h7m-7-2h7m-8 13h7m-7-20h7m-7 0h7m-9 13h7m-8 2h7m-7-18h7m-8 24h7m-7-12h7m-9 9h7m-7-21h7m-8 10h7m-9 14h7m-7-24h7m-8 14h7m-7-3h7m-7-5h7m-8 18h7m-7-14h7m-7-7h7m-7 0h7m-8 1h7m-8 14h7m-7-5h7m-8 6h7m-7-10h7m-7-1h7m-7-3h7m-8 3h7m-7-4h7m-9-3h7m-8 19h7m-7-10h7m-8-10h7m-8 23h7m-8-3h7m-7-4h7m-7-7h7m-7-9h7m-9 5h7m-8 13h7m-8 0h7m-8-6h7m-7-3h7m-9 14h7m-8-1h7m-7-21h7m-8 8h7m-7-7h7m-8 20h7m-7-3h7m-7-2h7m-7-17h7m-8 22h7m-7-4h7m-7-16h7m-8 10h7m-8-12h7m-8 23h7m-7-5h7m-7-7h7m-10-3h7m-8 4h7m-9 7h7m-8-11h7m-7-7h7m-8 23h7m-7-14h7m-7-5h7m-9 7h7m-7-9h7m-10 17h7m-7-7h7m-7-7h7m-8 18h7m-7-6h7m-7-1h7m-7-17h7m-8 8h7m-8 2h7m-7-3h7m-7-1h7m-7-1h7m-8 16h7m-7-21h7m-8 12h7m-8-8h7m-7-3h7m-7-1h7m-8 11h7m-7-2h7m-8 12h7m-8-15h7m-7-6h7m-8 23h7m-7-14h7m-9 14h7m-8-3h7m-7-11h7m-8 14h7m-7-8h7m-7-12h7m-8 0h7m-8 1h7m-8 16h7m-7-8h7m-7-5h7m-8 16h7m-8-20h7m-8 20h7m-7-12h7m-7-11h7m-8 16h7m-8 4h7m-7-2h7m-7-8h7m-7 0h7m-7-2h7m-8 6h7m-7-4h7m-8-5h7m-7-1h7m-8 6h7m-8 0h7m-8 14h7m-8-3h7m-7-19h7m-8 3h7m-7-2h7m-8 1h7m-7-3h7m-9 6h7m-8-5h7m-8 8h7m-7-6h7m-8 14h7m-7-12h7m-11 2h7m-8 4h7m-7-2h7m-7 0h7m-7-4h7m-7-4h7m-8 14h7m-8-6h7m-9 14h7m-7-19h7m-7-4h7m-8 13h7m-8 5h7m-8-7h7m-7-4h7m-8-5h7m-8 9h7m-7-4h7m-8-6h7m-8-1h7m-8 21h7m-7-22h7m-8 13h7m-8-10h7m-7-1h7m-9 17h7m-8 1h7m-8-5h7m-8-7h7m-8 15h7m-8-23h7m-10 5h7m-8 17h7m-8-21h7m-10 11h7m-8-1h7m-7 0h7m-8-10h7m-8 23h7m-7-14h7m-9 2h7m-9 8h7m-7-3h7m-7-10h7m-9 8h7m-7-13h7m-8 13h7m-7-7h7m-8-4h7m-11 16h7m-9-15h7m-9 7h7m-7-10h7m-8 10h7m-7-2h7m-8 6h7m-9-7h7m-8-7h7m-8 12h7m-7-10h7m-10 13h7m-7-10h7m-9 14h7m-8-2h7m-7-5h7m-7-13h7m-8 23h7m-7-21h7m-8 11h7m-11-13h7m-10 13h7m-7-2h7m-8-7h7m-7-1h7m-8 10h7m-8-4h7m-7-5h7m-9-4h7m-9 2h7m-9 18h7m-7-20h7m-9 3h7m-18 20h7m-9-7h7m-9-16h7m-9 15h7m-8 4h7m-9-12h7m-18 10h7m-7-12h7m-8 0h7m-13 1h7m-10 11h7m-8-1h7m-21-10h7m7 27h7m-5-9h7m-7 9h7m-6 0h7m-5-5h7m5 8h7m-7 4h7m-6 4h7m-6-14h7m-5 9h7m-6-10h7m-1-3h7m-6 4h7m-6 2h7m-4-5h7m-4 8h7m0 2h7m-4-11h7m-6 10h7m-5-9h7m-3 17h7m-2 1h7m-2-14h7m4 14h7m-5-15h7m-6 0h7m-7 12h7m-7 1h7m-6-10h7m-7 5h7m-6-5h7m-7 3h7m-7 8h7m-5 4h7m-6-9h7m-4-10h7m-7 6h7m-5-9h7m-7 3h7m-5 1h7m-7 2h7m-2 6h7m-3 7h7m-6-12h7m-7 14h7m-5-19h7m-7 9h7m-7 11h7m-6-23h7m-7 2h7m-6 5h7m-5 0h7m-1-2h7m-6 8h7m-5-12h7m-7 2h7m-7 1h7m-7 14h7m-5-9h7m-4 3h7m-4-12h7m-7 14h7m-6-2h7m-6 5h7m-5 5h7m-4-11h7m-6-6h7m-6 12h7m-5-7h7m-7 0h7m-2-7h7m-7 1h7m-7 7h7m-6 2h7m-6-1h7m-6 3h7m-3-4h7m-7 1h7m-6-6h7m-4 5h7m-7 4h7m-6-16h7m-7 24h7m-5-23h7m-5-1h7m-7 15h7m-5 0h7m-7 4h7m-4-13h7m-7 10h7m-7 4h7m-5-16h7m-7 1h7m-7 14h7m-6-7h7m-5-7h7m-6-4h7m-7 6h7m-6-1h7m-6 2h7m-6 6h7m-5-6h7m-5 8h7m-7 3h7m-6 0h7m-6-15h7m-7 2h7m-6 8h7m-6-1h7m-5 5h7m-7 1h7m-6-13h7m-6-3h7m-7 0h7m-7 1h7m-6 15h7m-3-3h7m-4-4h7m-6-6h7m-7 1h7m-7 5h7m-6-1h7m-3 3h7m-6-11h7m-7 8h7m-6-11h7m-7 1h7m-7 6h7m-6-4h7m-7 2h7m-7 8h7m-7 6h7m-6-17h7m-7 21h7m-5-22h7m-7 15h7m-5-6h7m-5-10h7m-7 5h7m-7 10h7m-7 6h7m-5-16h7m-6 2h7m-6 0h7m-6 4h7m-7 13h7m-4-7h7m-3-12h7m-7 8h7m-6-4h7m-7 12h7m-4 0h7m-6-18h7m-7 5h7m-3 5h7m-7 0h7m-6-6h7m-7 14h7m-6-16h7m-6 0h7m-7 6h7m-7 12h7m-5-14h7m-7 5h7m-6-10h7m-7 3h7m-6 1h7m-6-7h7m-7 3h7m-7 18h7m-7 0h7m-7 1h7m-6-18h7m-5-3h7m-5 6h7m-5 14h7m-7 1h7m-5-18h7m-5 6h7m-6-6h7m-6 9h7m-4-1h7m-5-4h7m-7 7h7m-5-13h7m-4 19h7m-4-8h7m-7 2h7m-6-7h7m-4-9h7m-6 1h7m-7 2h7m-6 15h7m-6-15h7m-7 10h7m-5-11h7m-7 18h7m-5-6h7m-1-11h7m-7 13h7m-5 2h7m-5-13h7m-6 2h7m-6 0h7m-6 0h7m-6 1h7m-6 9h7m5 2h7m-4-19h7m1 17h7m-5-14h7m-6 13h7m-5-14h7m-7 16h7m-3-15h7m-7 2h7m-5 0h7m-5 18h7m-2-8h7m-3-8h7m-7 10h7m-4 0h7m-1-4h7m1-7h7m0 0h7m-6 0h7m20 14h7m37-6h7m23-4h7m3-4h7m44 17h7m18-18h7m-6 13h7m8 1h7m13-1h7m45-9h7m33 0h7m-1-5h7m18 19h7m42-3h7m-2 0h7m-179 24h7m-48 3h7m-18 0h7m-29-3h7m-13-1h7m-54-13h7m-16 9h7m-29 7h7m-51-11h7m-9 2h7m-10-10h7m-10-1h7m-24 21h7m-12-17h7m-33-4h7m-11 4h7m-15-4h7m-18 17h7m-10-16h7m-15 4h7m-8 4h7m-10 11h7m-17-17h7m-14 14h7m-7-5h7m-7-9h7m-8 5h7m-14-3h7m-10 0h7m-11 4h7m-7-5h7m-10-1h7m-9 14h7m-9-9h7m-9 0h7m-9 10h7m-8-15h7m-13 17h7m-9-17h7m-15 5h7m-8-3h7m-21 8h7m-7-8h7m-8 16h7m-9-14h7m-9 1h7m-8-5h7m-9 4h7m-9 9h7m-11-17h7m-9 11h7m-14-10h7m-10 0h7m-18 19h7m-8-13h7m-9 13h7m-8-8h7m-8-10h7m-7-1h7m-9 1h7m-11 3h7m-12 3h7m-8 1h7m-8 8h7m-11-11h7m-9 5h7m-10-1h7m-8 11h7m-7-10h7m-8-11h7m-9 1h7m-9 4h7m-9 2h7m-8-3h7m-8-4h7m-9 14h7m-12-13h7m-13 14h7m-12 2h7m-13 4h7m-8-16h7m-10 3h7m-8 4h7m-7-8h7m-8 5h7m-8 5h7m-8-4h7m-11-10h7m-11 16h7m-7-6h7m-9 8h7m-26-12h7m-7-2h7m-9 3h7m-8-7h7m-10 6h7m-26 16h7m-23-13h7m-28 15h7m-18-2h7m-11-4h7m64 15h7m-7 11h7m8-12h7m-1-3h7m16 5h7m11-8h7m-2 6h7m11 7h7m2-3h7m-2 10h7m-1-15h7m-1 13h7m11-19h7m8 9h7m-4-3h7m-7 0h7m-5-3h7m10 8h7m6-6h7m5 2h7m3 4h7m123-5h7m69 13h7m28-1h7m61-8h7m-5-8h7m38-1h7m-6 0h7m33 22h7m22-21h7m14 20h7m4-9h7m-21 12h7m-64 0h7m-252 5h7m-107-5h7m-45 2h7" stroke="#c80a0a" stroke-width="8" stroke-opacity="0.45" fill="none"/>
</g>
<line x1="459.20" y1="767.80" x2="459.20" y2="834.30" stroke="#555" stroke-width="0.8" stroke-linecap="butt"/>
<line x1="421.20" y1="811.20" x2="501.20" y2="811.20" stroke="#555" stroke-width="0.8" stroke-linecap="butt"/>
<line x1="421.20" y1="767.80" x2="501.20" y2="767.80" stroke="#000" stroke-width="1.3" stroke-linecap="butt"/>
<line x1="501.20" y1="767.80" x2="501.20" y2="834.30" stroke="#000" stroke-width="1.1" stroke-linecap="butt"/>
<line x1="421.20" y1="767.20" x2="421.20" y2="834.90" stroke="#000" stroke-width="1.5" stroke-linecap="butt"/>
<line x1="420.50" y1="834.30" x2="501.70" y2="834.30" stroke="#000" stroke-width="1.5" stroke-linecap="butt"/>
<line x1="416.90" y1="769.20" x2="421.20" y2="769.20" stroke="#000" stroke-width="1.0" stroke-linecap="butt"/>
<text x="397.83" y="772.00" font-size="9.8" fill="#111">10<tspan dx="0.4" dy="-4.0" font-size="5.88">4</tspan></text>
<line x1="416.90" y1="783.80" x2="421.20" y2="783.80" stroke="#000" stroke-width="1.0" stroke-linecap="butt"/>
<text x="397.83" y="786.60" font-size="9.8" fill="#111">10<tspan dx="0.4" dy="-4.0" font-size="5.88">3</tspan></text>
<line x1="416.90" y1="800.60" x2="421.20" y2="800.60" stroke="#000" stroke-width="1.0" stroke-linecap="butt"/>
<text x="397.83" y="803.40" font-size="9.8" fill="#111">10<tspan dx="0.4" dy="-4.0" font-size="5.88">2</tspan></text>
<line x1="416.90" y1="816.10" x2="421.20" y2="816.10" stroke="#000" stroke-width="1.0" stroke-linecap="butt"/>
<text x="397.83" y="818.90" font-size="9.8" fill="#111">10<tspan dx="0.4" dy="-4.0" font-size="5.88">1</tspan></text>
<line x1="416.90" y1="833.00" x2="421.20" y2="833.00" stroke="#000" stroke-width="1.0" stroke-linecap="butt"/>
<text x="397.83" y="835.80" font-size="9.8" fill="#111">10<tspan dx="0.4" dy="-4.0" font-size="5.88">0</tspan></text>
<line x1="418.90" y1="827.91" x2="421.20" y2="827.91" stroke="#000" stroke-width="0.8" stroke-linecap="butt"/>
<line x1="418.90" y1="824.94" x2="421.20" y2="824.94" stroke="#000" stroke-width="0.8" stroke-linecap="butt"/>
<line x1="418.90" y1="822.83" x2="421.20" y2="822.83" stroke="#000" stroke-width="0.8" stroke-linecap="butt"/>
<line x1="418.90" y1="821.19" x2="421.20" y2="821.19" stroke="#000" stroke-width="0.8" stroke-linecap="butt"/>
<line x1="418.90" y1="819.85" x2="421.20" y2="819.85" stroke="#000" stroke-width="0.8" stroke-linecap="butt"/>
<line x1="418.90" y1="818.72" x2="421.20" y2="818.72" stroke="#000" stroke-width="0.8" stroke-linecap="butt"/>
<line x1="418.90" y1="817.74" x2="421.20" y2="817.74" stroke="#000" stroke-width="0.8" stroke-linecap="butt"/>
<line x1="418.90" y1="816.87" x2="421.20" y2="816.87" stroke="#000" stroke-width="0.8" stroke-linecap="butt"/>
<line x1="418.90" y1="811.43" x2="421.20" y2="811.43" stroke="#000" stroke-width="0.8" stroke-linecap="butt"/>
<line x1="418.90" y1="808.70" x2="421.20" y2="808.70" stroke="#000" stroke-width="0.8" stroke-linecap="butt"/>
<line x1="418.90" y1="806.77" x2="421.20" y2="806.77" stroke="#000" stroke-width="0.8" stroke-linecap="butt"/>
<line x1="418.90" y1="805.27" x2="421.20" y2="805.27" stroke="#000" stroke-width="0.8" stroke-linecap="butt"/>
<line x1="418.90" y1="804.04" x2="421.20" y2="804.04" stroke="#000" stroke-width="0.8" stroke-linecap="butt"/>
<line x1="418.90" y1="803.00" x2="421.20" y2="803.00" stroke="#000" stroke-width="0.8" stroke-linecap="butt"/>
<line x1="418.90" y1="802.10" x2="421.20" y2="802.10" stroke="#000" stroke-width="0.8" stroke-linecap="butt"/>
<line x1="418.90" y1="801.31" x2="421.20" y2="801.31" stroke="#000" stroke-width="0.8" stroke-linecap="butt"/>
<line x1="418.90" y1="795.54" x2="421.20" y2="795.54" stroke="#000" stroke-width="0.8" stroke-linecap="butt"/>
<line x1="418.90" y1="792.58" x2="421.20" y2="792.58" stroke="#000" stroke-width="0.8" stroke-linecap="butt"/>
<line x1="418.90" y1="790.49" x2="421.20" y2="790.49" stroke="#000" stroke-width="0.8" stroke-linecap="butt"/>
<line x1="418.90" y1="788.86" x2="421.20" y2="788.86" stroke="#000" stroke-width="0.8" stroke-linecap="butt"/>
<line x1="418.90" y1="787.53" x2="421.20" y2="787.53" stroke="#000" stroke-width="0.8" stroke-linecap="butt"/>
<line x1="418.90" y1="786.40" x2="421.20" y2="786.40" stroke="#000" stroke-width="0.8" stroke-linecap="butt"/>
<line x1="418.90" y1="785.43" x2="421.20" y2="785.43" stroke="#000" stroke-width="0.8" stroke-linecap="butt"/>
<line x1="418.90" y1="784.57" x2="421.20" y2="784.57" stroke="#000" stroke-width="0.8" stroke-linecap="butt"/>
<line x1="418.90" y1="779.40" x2="421.20" y2="779.40" stroke="#000" stroke-width="0.8" stroke-linecap="butt"/>
<line x1="418.90" y1="776.83" x2="421.20" y2="776.83" stroke="#000" stroke-width="0.8" stroke-linecap="butt"/>
<line x1="418.90" y1="775.01" x2="421.20" y2="775.01" stroke="#000" stroke-width="0.8" stroke-linecap="butt"/>
<line x1="418.90" y1="773.60" x2="421.20" y2="773.60" stroke="#000" stroke-width="0.8" stroke-linecap="butt"/>
<line x1="418.90" y1="772.44" x2="421.20" y2="772.44" stroke="#000" stroke-width="0.8" stroke-linecap="butt"/>
<line x1="418.90" y1="771.46" x2="421.20" y2="771.46" stroke="#000" stroke-width="0.8" stroke-linecap="butt"/>
<line x1="418.90" y1="770.61" x2="421.20" y2="770.61" stroke="#000" stroke-width="0.8" stroke-linecap="butt"/>
<line x1="418.90" y1="769.87" x2="421.20" y2="769.87" stroke="#000" stroke-width="0.8" stroke-linecap="butt"/>
<line x1="423.50" y1="834.30" x2="423.50" y2="838.20" stroke="#000" stroke-width="1.0" stroke-linecap="butt"/>
<text x="416.22" y="851.60" font-size="9.8" fill="#111">10<tspan dx="0.4" dy="-4.0" font-size="5.88">0</tspan></text>
<line x1="442.00" y1="834.30" x2="442.00" y2="838.20" stroke="#000" stroke-width="1.0" stroke-linecap="butt"/>
<text x="434.72" y="851.60" font-size="9.8" fill="#111">10<tspan dx="0.4" dy="-4.0" font-size="5.88">1</tspan></text>
<line x1="462.70" y1="834.30" x2="462.70" y2="838.20" stroke="#000" stroke-width="1.0" stroke-linecap="butt"/>
<text x="455.42" y="851.60" font-size="9.8" fill="#111">10<tspan dx="0.4" dy="-4.0" font-size="5.88">2</tspan></text>
<line x1="482.30" y1="834.30" x2="482.30" y2="838.20" stroke="#000" stroke-width="1.0" stroke-linecap="butt"/>
<text x="475.02" y="851.60" font-size="9.8" fill="#111">10<tspan dx="0.4" dy="-4.0" font-size="5.88">3</tspan></text>
<line x1="500.80" y1="834.30" x2="500.80" y2="838.20" stroke="#000" stroke-width="1.0" stroke-linecap="butt"/>
<text x="493.52" y="851.60" font-size="9.8" fill="#111">10<tspan dx="0.4" dy="-4.0" font-size="5.88">4</tspan></text>
<line x1="429.07" y1="834.30" x2="429.07" y2="836.60" stroke="#000" stroke-width="0.8" stroke-linecap="butt"/>
<line x1="432.33" y1="834.30" x2="432.33" y2="836.60" stroke="#000" stroke-width="0.8" stroke-linecap="butt"/>
<line x1="434.64" y1="834.30" x2="434.64" y2="836.60" stroke="#000" stroke-width="0.8" stroke-linecap="butt"/>
<line x1="436.43" y1="834.30" x2="436.43" y2="836.60" stroke="#000" stroke-width="0.8" stroke-linecap="butt"/>
<line x1="437.90" y1="834.30" x2="437.90" y2="836.60" stroke="#000" stroke-width="0.8" stroke-linecap="butt"/>
<line x1="439.13" y1="834.30" x2="439.13" y2="836.60" stroke="#000" stroke-width="0.8" stroke-linecap="butt"/>
<line x1="440.21" y1="834.30" x2="440.21" y2="836.60" stroke="#000" stroke-width="0.8" stroke-linecap="butt"/>
<line x1="441.15" y1="834.30" x2="441.15" y2="836.60" stroke="#000" stroke-width="0.8" stroke-linecap="butt"/>
<line x1="448.23" y1="834.30" x2="448.23" y2="836.60" stroke="#000" stroke-width="0.8" stroke-linecap="butt"/>
<line x1="451.88" y1="834.30" x2="451.88" y2="836.60" stroke="#000" stroke-width="0.8" stroke-linecap="butt"/>
<line x1="454.46" y1="834.30" x2="454.46" y2="836.60" stroke="#000" stroke-width="0.8" stroke-linecap="butt"/>
<line x1="456.47" y1="834.30" x2="456.47" y2="836.60" stroke="#000" stroke-width="0.8" stroke-linecap="butt"/>
<line x1="458.11" y1="834.30" x2="458.11" y2="836.60" stroke="#000" stroke-width="0.8" stroke-linecap="butt"/>
<line x1="459.49" y1="834.30" x2="459.49" y2="836.60" stroke="#000" stroke-width="0.8" stroke-linecap="butt"/>
<line x1="460.69" y1="834.30" x2="460.69" y2="836.60" stroke="#000" stroke-width="0.8" stroke-linecap="butt"/>
<line x1="461.75" y1="834.30" x2="461.75" y2="836.60" stroke="#000" stroke-width="0.8" stroke-linecap="butt"/>
<line x1="468.60" y1="834.30" x2="468.60" y2="836.60" stroke="#000" stroke-width="0.8" stroke-linecap="butt"/>
<line x1="472.05" y1="834.30" x2="472.05" y2="836.60" stroke="#000" stroke-width="0.8" stroke-linecap="butt"/>
<line x1="474.50" y1="834.30" x2="474.50" y2="836.60" stroke="#000" stroke-width="0.8" stroke-linecap="butt"/>
<line x1="476.40" y1="834.30" x2="476.40" y2="836.60" stroke="#000" stroke-width="0.8" stroke-linecap="butt"/>
<line x1="477.95" y1="834.30" x2="477.95" y2="836.60" stroke="#000" stroke-width="0.8" stroke-linecap="butt"/>
<line x1="479.26" y1="834.30" x2="479.26" y2="836.60" stroke="#000" stroke-width="0.8" stroke-linecap="butt"/>
<line x1="480.40" y1="834.30" x2="480.40" y2="836.60" stroke="#000" stroke-width="0.8" stroke-linecap="butt"/>
<line x1="481.40" y1="834.30" x2="481.40" y2="836.60" stroke="#000" stroke-width="0.8" stroke-linecap="butt"/>
<line x1="487.87" y1="834.30" x2="487.87" y2="836.60" stroke="#000" stroke-width="0.8" stroke-linecap="butt"/>
<line x1="491.13" y1="834.30" x2="491.13" y2="836.60" stroke="#000" stroke-width="0.8" stroke-linecap="butt"/>
<line x1="493.44" y1="834.30" x2="493.44" y2="836.60" stroke="#000" stroke-width="0.8" stroke-linecap="butt"/>
<line x1="495.23" y1="834.30" x2="495.23" y2="836.60" stroke="#000" stroke-width="0.8" stroke-linecap="butt"/>
<line x1="496.70" y1="834.30" x2="496.70" y2="836.60" stroke="#000" stroke-width="0.8" stroke-linecap="butt"/>
<line x1="497.93" y1="834.30" x2="497.93" y2="836.60" stroke="#000" stroke-width="0.8" stroke-linecap="butt"/>
<line x1="499.01" y1="834.30" x2="499.01" y2="836.60" stroke="#000" stroke-width="0.8" stroke-linecap="butt"/>
<line x1="499.95" y1="834.30" x2="499.95" y2="836.60" stroke="#000" stroke-width="0.8" stroke-linecap="butt"/>
<text x="421.90" y="775.90" font-size="10.0" text-anchor="start" fill="#000" >CX-</text>
<text x="421.90" y="786.20" font-size="10.0" text-anchor="start" fill="#000" >4945</text>
<text x="500.80" y="776.70" font-size="10.0" text-anchor="end" fill="#000" >12.2±2.8%</text>
<text x="500.80" y="832.70" font-size="10.0" text-anchor="end" fill="#000" >9.5±1.7%</text>
<g clip-path="url(#c7)">
<ellipse cx="323" cy="915.5" rx="15" ry="5" fill="#c80a0a" fill-opacity="0.22" filter="url(#b2)"/>
<ellipse cx="364" cy="900" rx="12" ry="10" fill="#c80a0a" fill-opacity="0.12" filter="url(#b3)"/>
<path transform="scale(.1)" d="M3129 8673h7m379-1h7m180 2h7m61-12h7m60 9h7m-126 10h7m-55-1h7m-69-4h7m-14 18h7m-70-1h7m-41-13h7m-41 7h7m-113-2h7m-109 1h7m-11-11h7m-32 11h7m-54-10h7m-87 31h7m73 7h7m14 2h7m201-10h7m86 13h7m84 2h7m41-15h7m7 7h7m-5 3h7m42 6h7m9 1h7m89 1h7m24 23h7m-36-5h7m-16-13h7m-35 19h7m-67-13h7m-53 3h7m-25-3h7m-37-3h7m-17 11h7m-45 6h7m-8-21h7m-116 5h7m-231 8h7m-20-2h7m-104-4h7m-28 5h7m-58 26h7m1-16h7m15 20h7m4 2h7m59-10h7m208 0h7m75 5h7m0 2h7m110-7h7m-1 1h7m29-1h7m15-6h7m35 15h7m46-5h7m14 3h7m37-3h7m6 3h7m-3-1h7m-3 9h7m-19 22h7m-11-2h7m-13-17h7m-15 13h7m-17-5h7m-18-3h7m-14-5h7m-9 13h7m-99-7h7m-7-6h7m-9 18h7m-16 1h7m-19-2h7m-35-21h7m-13 20h7m-43-10h7m-45-11h7m-49 13h7m-144-5h7m-124 8h7m-69-6h7m-22 7h7m-11-14h7m-13 10h7m-111 9h7m42 26h7m200-7h7m68 8h7m12-5h7m28-19h7m1 19h7m7-17h7m29 7h7m27-1h7m17 11h7m-1 1h7m9-20h7m9 22h7m3-17h7m-1 2h7m-3 10h7m20-7h7m-3-5h7m-5 2h7m17-1h7m-7 6h7m-6 11h7m-2-23h7m13 3h7m2 5h7m5 14h7m11-20h7m-6 2h7m-2 17h7m12-16h7m14 9h7m-7 8h7m-6-19h7m-5 8h7m-5-7h7m-3 3h7m2 2h7m-2 5h7m-5-13h7m0 5h7m-3 3h7m27 1h7m-20 17h7m-15 2h7m-27 18h7m-16 0h7m-19-5h7m-9-14h7m-12 15h7m-16-9h7m-7-4h7m-19 12h7m-13 4h7m-17-15h7m-9 13h7m-20 2h7m-8 1h7m-26-1h7m-7-1h7m-10-5h7m-9-14h7m-14 23h7m-15-15h7m-17 7h7m-8-10h7m-8 16h7m-12-2h7m-16-14h7m-19 15h7m-20-3h7m-10 2h7m-9-9h7m-13 11h7m-15 0h7m-14 0h7m-15-21h7m-21 14h7m-9 4h7m-7-7h7m-13-5h7m-45 9h7m-27-3h7m-20 11h7m-13-15h7m-28-6h7m-8 21h7m-31-15h7m-95-6h7m-318 10h7m316 13h7m53 18h7m-6-12h7m11-7h7m0 19h7m29-16h7m10 21h7m-3-18h7m0 5h7m17-1h7m9-1h7m-2 1h7m-6-4h7m5-6h7m1 24h7m4-13h7m12-10h7m1 10h7m-6-7h7m-1 13h7m-4 2h7m-7 2h7m3-17h7m-6 7h7m-4 10h7m5-21h7m10 19h7m-7 3h7m-7 1h7m-4-21h7m-6 15h7m-3-12h7m5-4h7m-3 0h7m-5 1h7m2 20h7m-2-15h7m7 11h7m-5 6h7m-6-5h7m-1 2h7m-5-14h7m-7 9h7m0-7h7m-1 1h7m-7 4h7m-6 6h7m-6-15h7m2 15h7m-4-18h7m8 19h7m1-13h7m-6 16h7m8-21h7m-4 14h7m8-4h7m-2 14h7m-24 14h7m-10 3h7m-7-6h7m-12-4h7m-15 6h7m-14-5h7m-8-10h7m-12 2h7m-13 12h7m-7-10h7m-18 6h7m-12 0h7m-11 6h7m-12-16h7m-9 24h7m-12-21h7m-13 13h7m-11-6h7m-10-2h7m-8-3h7m-9-1h7m-16 3h7m-10 4h7m-13-8h7m-12-1h7m-14 12h7m-9 4h7m-10-13h7m-10 6h7m-8 8h7m-11-12h7m-8 10h7m-7-5h7m-7-5h7m-20 12h7m-14-9h7m-14 5h7m-14-5h7m-11 11h7m-15-13h7m-8-1h7m-9 2h7m-16-1h7m-19 11h7m-7-4h7m-11-11h7m-8 7h7m-16-6h7m-11-3h7m-13 1h7m-8-1h7m-17 8h7m-17 5h7m-7-10h7m-14 4h7m-13 8h7m-23-1h7m-7-2h7m-8-3h7m-14 2h7m-9 10h7m-9-4h7m-9 5h7m-30-9h7m-22-6h7m-23 10h7m-25-6h7m-19-13h7m-65 14h7m-29 1h7m-45 9h7m-31-10h7m-21 7h7m-164 1h7m-35-16h7m86 42h7m-3-3h7m49-14h7m6 3h7m111 13h7m15-19h7m39 17h7m-6-17h7m19 10h7m-2 3h7m17-11h7m-6-4h7m-5 13h7m1-11h7m-4 17h7m-6 4h7m-3-10h7m-3-6h7m-3-7h7m-7 6h7m-7 11h7m-6-11h7m-7 5h7m-7 7h7m-4 5h7m4-2h7m-6-14h7m-5 4h7m-2-3h7m2-7h7m-6 9h7m-7 11h7m-7 2h7m7-4h7m-2-15h7m10 4h7m-1-2h7m-3-1h7m-4-6h7m-3 10h7m3 8h7m-5-5h7m-7 5h7m-4-15h7m-5 11h7m-7 9h7m-2-9h7m-5-1h7m-5-9h7m-6 8h7m-5 11h7m-6-23h7m-7 0h7m-7 13h7m-4 2h7m-4-1h7m6-13h7m-4 11h7m6 4h7m-6-14h7m-4 19h7m4-13h7m-6-4h7m-7 7h7m-7 10h7m6-11h7m-6 6h7m1-9h7m-1 11h7m-6-16h7m-2 2h7m-1-2h7m10 10h7m27-10h7m-6 12h7m-4-7h7m-3-7h7m-7 4h7m12 9h7m-2 5h7m-5-5h7m-5 22h7m-13 11h7m-8-8h7m-25 4h7m-24-4h7m-8-13h7m-34 8h7m-12 3h7m-7-6h7m-16 6h7m-10-3h7m-16 11h7m-19-8h7m-7-10h7m-20 0h7m-12 22h7m-9-13h7m-11-8h7m-16 10h7m-23-8h7m-11-3h7m-9 23h7m-8-17h7m-10 11h7m-10-18h7m-13 14h7m-7-5h7m-8-7h7m-9 22h7m-8-24h7m-9 21h7m-13-14h7m-14 6h7m-11 3h7m-7-3h7m-8-6h7m-12 0h7m-8 13h7m-9 1h7m-10-20h7m-10 13h7m-10 9h7m-8-2h7m-8-9h7m-8-10h7m-7-1h7m-10 18h7m-10-19h7m-11 17h7m-8 4h7m-7-11h7m-9 7h7m-8-2h7m-8-4h7m-9 4h7m-11-14h7m-9 18h7m-7-8h7m-8 7h7m-9-4h7m-11 6h7m-9-14h7m-11-3h7m-7-3h7m-12 8h7m-12 8h7m-10 2h7m-10-12h7m-8 11h7m-7-1h7m-9 5h7m-15-13h7m-9 16h7m-10-4h7m-9 2h7m-23-7h7m-8 5h7m-21-6h7m-10-6h7m-16-6h7m-15 11h7m-12 1h7m-21 6h7m-38-2h7m-14-7h7m-285 10h7m-16-12h7m-8-8h7m-12-1h7m-50 13h7m0 36h7m2-14h7m66-5h7m71 17h7m58-19h7m16 14h7m43-14h7m-7 16h7m-5 3h7m-3-21h7m28 7h7m6 2h7m2-2h7m-3 14h7m-2-10h7m-6-7h7m-7 4h7m3-1h7m-5-3h7m-4 14h7m-1-6h7m-3-13h7m-5 4h7m-6 15h7m-6-10h7m-5 6h7m-5-15h7m-4 11h7m-6 11h7m-5-12h7m1 13h7m-4-22h7m-6 15h7m-1 3h7m-5-12h7m-4 16h7m-5-15h7m-7 12h7m3-13h7m-7 14h7m-7 0h7m-7 1h7m-4-15h7m-2-6h7m-3 2h7m-3 0h7m-7 12h7m-6-10h7m-7 2h7m-5 8h7m-5-3h7m-5-7h7m-5 15h7m-6-3h7m-4-16h7m-5 8h7m-5 11h7m-4-10h7m-5-7h7m-6 2h7m-5-2h7m-5 17h7m-4-11h7m-5 0h7m-3 9h7m-7 5h7m-6-18h7m-7 19h7m2-14h7m-6-5h7m-3 18h7m-6-8h7m-4 8h7m-5-11h7m-6 2h7m-6-3h7m-5 7h7m-4-8h7m-5 4h7m-1 4h7m-5 6h7m-5-1h7m-7 0h7m-5-23h7m-7 15h7m-6 2h7m-4-11h7m4 18h7m-3-9h7m-5-3h7m-7 4h7m-7 6h7m-4-9h7m-5-6h7m-6 17h7m-6-14h7m-6 11h7m0-5h7m-2-9h7m-6-5h7m-7 15h7m0-13h7m-6 17h7m7-6h7m-4-3h7m-5 5h7m-7 2h7m-7 0h7m-3-2h7m-6-9h7m-4-8h7m-4 24h7m1-12h7m-7 9h7m-5 3h7m-4-5h7m-3-3h7m-5-7h7m0 3h7m0 11h7m12-11h7m3-4h7m-4-3h7m4 3h7m4-6h7m-6 16h7m3-5h7m4 7h7m-15 25h7m-11 2h7m-21-16h7m-17 0h7m-11 2h7m-13 0h7m-11 4h7m-16 9h7m-15 3h7m-37-14h7m-9 6h7m-7-8h7m-8 1h7m-21-7h7m-11 6h7m-9 2h7m-10 9h7m-11-10h7m-8 8h7m-12-8h7m-8-2h7m-8 12h7m-11-10h7m-7-7h7m-11 14h7m-7-8h7m-9 1h7m-9-8h7m-14 19h7m-10 3h7m-11-5h7m-9-15h7m-9 14h7m-9 0h7m-9-13h7m-9-3h7m-14 17h7m-7-4h7m-7-8h7m-9 17h7m-7-6h7m-9 5h7m-7-2h7m-8 2h7m-8-20h7m-8 0h7m-12 19h7m-8-6h7m-7-9h7m-8 8h7m-8-8h7m-10-3h7m-8 16h7m-16 1h7m-7-20h7m-11 23h7m-13-18h7m-9 17h7m-7-20h7m-8 7h7m-11 2h7m-9 11h7m-10-22h7m-11 8h7m-8-3h7m-10-5h7m-9 23h7m-8 0h7m-8-4h7m-7-3h7m-10 6h7m-7-18h7m-10 6h7m-7-2h7m-16 11h7m-12-7h7m-7-5h7m-9 5h7m-7-11h7m-8 5h7m-7-1h7m-9 6h7m-8 8h7m-8-15h7m-8 3h7m-9 12h7m-7-18h7m-11 7h7m-11 10h7m-7-7h7m-7-7h7m-8 8h7m-7-3h7m-8 14h7m-7-23h7m-9 3h7m-8 11h7m-8 7h7m-7-5h7m-8-5h7m-10 9h7m-7-12h7m-8 7h7m-7-2h7m-7-7h7m-12-2h7m-8 14h7m-9 4h7m-8-4h7m-8-16h7m-14 4h7m-7-4h7m-8 22h7m-9-1h7m-12 0h7m-8-13h7m-13 9h7m-7-10h7m-8 7h7m-16 0h7m-8-15h7m-8 20h7m-19-19h7m-12 0h7m-10 3h7m-13 17h7m-7-13h7m-8-1h7m-10 13h7m-8-13h7m-9 7h7m-11 8h7m-16-5h7m-18 3h7m-9-4h7m-19-15h7m-9 15h7m-15 6h7m-31 0h7m-34-12h7m-10-3h7m-115 6h7m-24-7h7m-64-1h7m-9 12h7m-21-3h7m-47-11h7m-74 17h7m46 17h7m145 10h7m34-21h7m-6 1h7m29 1h7m14-2h7m47-1h7m2 23h7m-5-7h7m-2-8h7m-3 13h7m-1-12h7m3 7h7m5-1h7m-6-11h7m6 4h7m-3-9h7m-5 0h7m-7 24h7m-5-2h7m-3-7h7m-1 5h7m-6 1h7m-6-16h7m-4 6h7m-6 6h7m-5-14h7m-7 4h7m-7 1h7m-6-3h7m-7 13h7m-5-18h7m-6 2h7m-6 6h7m-5-5h7m-5-1h7m-7 12h7m-4-13h7m-7 7h7m-6 11h7m-5-1h7m-6-17h7m-1 4h7m-6 13h7m-6-11h7m-6-6h7m-6 13h7m-6-9h7m-3 15h7m-3-20h7m-6 1h7m-6 22h7m-3-18h7m-4 4h7m-7 8h7m-4-8h7m-2 14h7m-6-23h7m-7 23h7m-5-8h7m1 5h7m-3-20h7m-2 11h7m-7 13h7m-2-3h7m-5-3h7m-6 1h7m-7 4h7m-6-18h7m-7 9h7m-7 1h7m-6-15h7m-6 3h7m-6 16h7m-5 4h7m-6-22h7m-4 10h7m-7 1h7m-6-7h7m-7 1h7m-6 3h7m-5 14h7m-6-20h7m-4 14h7m-5-14h7m-5 0h7m-7 2h7m-6 13h7m-6-17h7m-6 1h7m-7 1h7m-6 4h7m-7 15h7m-7 2h7m-6-11h7m-2 5h7m-5-8h7m-6 6h7m-6-12h7m-6 16h7m-7 2h7m-3-4h7m-3-3h7m-6-3h7m-4 0h7m-7 5h7m-6-13h7m-7 18h7m-5-6h7m-5-8h7m-4 11h7m-5-11h7m2-1h7m-6-1h7m-5-5h7m-3 4h7m-4-3h7m-7 10h7m-6-3h7m-6 13h7m-5-5h7m-4-6h7m-6-7h7m-7 5h7m-4 15h7m-6-9h7m-6-6h7m-1 10h7m-4-18h7m-6-1h7m-4 24h7m-6-3h7m-4-1h7m-2-12h7m-5 15h7m-4-22h7m6-1h7m-6 5h7m-6-3h7m-7 4h7m-7 14h7m-2-18h7m-7 3h7m-4 14h7m-3 1h7m-4-16h7m-5 15h7m-6-4h7m-6-6h7m-6 1h7m-1-3h7m2-4h7m1 14h7m-5-6h7m-6 6h7m13-1h7m-2 5h7m9-15h7m-5 9h7m-4-13h7m15 32h7m-27 4h7m-51-2h7m-26 12h7m-11-7h7m-12 4h7m-13-20h7m-8 7h7m-8 16h7m-8-11h7m-9-2h7m-11 12h7m-11-19h7m-19 17h7m-12-7h7m-9-1h7m-9 4h7m-7-7h7m-10 3h7m-9-1h7m-8-4h7m-15 7h7m-10 5h7m-9-19h7m-16 13h7m-11-11h7m-9 5h7m-10-5h7m-10 6h7m-12 7h7m-8 1h7m-8-4h7m-8-10h7m-10 18h7m-7-8h7m-8-10h7m-10 20h7m-7-1h7m-15 3h7m-8-4h7m-8-9h7m-9-3h7m-11 14h7m-8-8h7m-8-6h7m-7-2h7m-8 12h7m-7-8h7m-8 8h7m-8-7h7m-9 9h7m-8-18h7m-9 0h7m-10 17h7m-7-1h7m-8-14h7m-10 18h7m-8-9h7m-7-12h7m-9 3h7m-13-4h7m-8 16h7m-8-14h7m-10 7h7m-9 8h7m-7-16h7m-8 17h7m-8-15h7m-9 13h7m-7-11h7m-8 3h7m-8-4h7m-7 0h7m-8 11h7m-8-1h7m-10 2h7m-8-2h7m-7-10h7m-10-4h7m-9 2h7m-9 9h7m-7-7h7m-9 3h7m-9 13h7m-9-5h7m-7-8h7m-12 12h7m-7-18h7m-8 0h7m-9 22h7m-7-3h7m-7-12h7m-7-6h7m-8 20h7m-15-3h7m-7-8h7m-7-2h7m-9 3h7m-11 7h7m-7-9h7m-9-2h7m-9 8h7m-8-5h7m-10-8h7m-10 4h7m-9 17h7m-11-3h7m-7-8h7m-7-4h7m-8 12h7m-7-19h7m-8 10h7m-9-1h7m-10-6h7m-10 16h7m-9-8h7m-9-1h7m-9 9h7m-9-4h7m-7-10h7m-14 2h7m-16 6h7m-16 3h7m-10-10h7m-14 7h7m-7-3h7m-14-1h7m-10 5h7m-16-4h7m-8 11h7m-38-4h7m-28 4h7m-7-22h7m-8 2h7m-17 11h7m-16-8h7m-63 10h7m-191-8h7m-115 20h7m44 16h7m34-2h7m-2-9h7m28 16h7m4-8h7m-4-16h7m11 22h7m1-7h7m8 4h7m-4-5h7m24-5h7m-4-1h7m16-6h7m8 19h7m12-15h7m0 15h7m-5-15h7m20 2h7m10-6h7m11 21h7m1-14h7m37 2h7m2 2h7m-1-5h7m-3 7h7m3 5h7m-6-14h7m-5 6h7m-7 11h7m-3-20h7m5-3h7m-6 14h7m0-3h7m-3 10h7m-6-8h7m-4-10h7m-2 4h7m1 0h7m-5-7h7m-6 18h7m-7 6h7m-2-8h7m-4-14h7m-5 18h7m-3 0h7m-2-10h7m-4 13h7m-4-23h7m-3 20h7m-4-12h7m-6-8h7m-4 11h7m-5 10h7m-7 0h7m-4-11h7m-5-2h7m-6 3h7m-7 4h7m-6-2h7m-7 5h7m-6 0h7m-6-7h7m-6-5h7m-7 4h7m-7 5h7m-5 3h7m-1 4h7m-5-6h7m-4-11h7m-7 2h7m-5 1h7m1 5h7m-6-12h7m-6 14h7m-6-4h7m-6 3h7m-4-14h7m-6 17h7m-6-16h7m-4 1h7m-6 10h7m-1 11h7m-4-8h7m-1 4h7m-5-19h7m-7 3h7m-7 6h7m-7 9h7m-3 2h7m-4-12h7m-7 12h7m-7 2h7m-5-7h7m-5 9h7m-5-17h7m-5-5h7m-6-1h7m-4 3h7m-5 0h7m-7 10h7m-7 10h7m-6-4h7m-4-13h7m-5 6h7m-5-11h7m-7 9h7m-6-8h7m-6 17h7m-4-6h7m-7 7h7m-6-16h7m-7 11h7m-7 1h7m-5 2h7m-7 3h7m-6 0h7m-6 1h7m-6-5h7m-7 0h7m-4-8h7m-6 6h7m-7 0h7m-4-11h7m-5 8h7m-5-2h7m-6-1h7m-6 5h7m-3-7h7m-5-6h7m-2 19h7m-6-21h7m-5 19h7m-1-4h7m-6 9h7m0-16h7m-7 0h7m0-1h7m-2 16h7m2-12h7m-2 10h7m-6-1h7m-2-9h7m2-9h7m-7 17h7m15-9h7m8 8h7m-1 3h7m-4 2h7m12-4h7m-16 9h7m-12-3h7m-8 3h7m-19 10h7m-8 5h7m-20-9h7m-29-6h7m-22-1h7m-17 5h7m-14-4h7m-9 8h7m-14-1h7m-11 12h7m-17-11h7m-11 1h7m-9 10h7m-14-8h7m-8-4h7m-7-5h7m-12 15h7m-10-20h7m-11 22h7m-7-1h7m-8 1h7m-7-14h7m-11 8h7m-8 3h7m-13-5h7m-8 10h7m-8-16h7m-7-6h7m-8 0h7m-9 7h7m-12 4h7m-11 11h7m-7-17h7m-9 17h7m-7-16h7m-12-4h7m-11 6h7m-9-7h7m-7-3h7m-10 21h7m-10-20h7m-8 22h7m-8-13h7m-9-7h7m-7-1h7m-8 13h7m-9 3h7m-9-16h7m-8 16h7m-9 0h7m-12-17h7m-8 0h7m-11 4h7m-12 13h7m-7-5h7m-17 9h7m-8 0h7m-7-13h7m-7-8h7m-14 7h7m-8 11h7m-10 4h7m-11-11h7m-9-4h7m-7-7h7m-13 4h7m-11 5h7m-8 14h7m-9-10h7m-9-6h7m-8 14h7m-13-6h7m-8-8h7m-7-4h7m-8 4h7m-16 9h7m-8 1h7m-7-3h7m-10-11h7m-8 13h7m-8 4h7m-7-3h7m-11-5h7m-16 9h7m-10 2h7m-9-20h7m-11 12h7m-11-7h7m-8 9h7m-8-15h7m-12 6h7m-12-4h7m-10 1h7m-7-3h7m-19 9h7m-10-7h7m-11 1h7m-23 0h7m-17 10h7m-30-2h7m-18 4h7m-37 3h7m-33-10h7m-18-8h7m-8 17h7m-10-17h7m-15 9h7m-39-7h7m-17 17h7m-21-6h7m-13 3h7m-21-9h7m-14 8h7m-8 4h7m-15-8h7m-11 6h7m-7-6h7m-22-1h7m-15 9h7m-13-15h7m-7-2h7m-9 5h7m-16-7h7m-9 17h7m-10-6h7m-10 10h7m-8-14h7m-9 10h7m-14-18h7m-9 3h7m-11 12h7m-7-10h7m-17 13h7m-8-11h7m-13-3h7m-8 9h7m-10-10h7m-12 0h7m-13 6h7m-11 0h7m-8 9h7m-7-18h7m-10 8h7m-11-10h7m-15 14h7m-12-7h7m-20-3h7m-14 17h7m-13-5h7m-19 7h7m-18-4h7m-23-13h7m-11 3h7m-19 31h7m-5 9h7m-2-6h7m-7 6h7m-5-16h7m0-3h7m-7 18h7m-3-4h7m-3 1h7m8-15h7m-5 16h7m-3-6h7m-6-4h7m-6-7h7m-5 9h7m-6 9h7m-5-6h7m-2-13h7m-6 2h7m-7 13h7m-7 4h7m-5-15h7m-7 2h7m-4-8h7m-6 11h7m0 4h7m-6-6h7m-5 14h7m-5-3h7m-1-21h7m-7 17h7m-6-2h7m-3-13h7m-7 2h7m-7 19h7m1-13h7m-6 13h7m-6-1h7m-6-8h7m-6 8h7m-1-20h7m-7 5h7m-6 14h7m-5-11h7m-6 8h7m-5-10h7m-2-8h7m-3 23h7m-4-11h7m-7 8h7m-6-15h7m-7 3h7m-7 5h7m-1 8h7m-6-18h7m-7 16h7m-5-13h7m-7 10h7m-4-10h7m-7 4h7m-6 6h7m-7 8h7m-6-22h7m-6 7h7m-7 10h7m-7 5h7m-6-17h7m-5 4h7m-6 13h7m-4-23h7m-7 15h7m-5-1h7m-6 6h7m-6 0h7m-6 0h7m-6-6h7m-4-6h7m-5 15h7m-6-6h7m-6 0h7m-6-1h7m-7 7h7m-6-21h7m-5 1h7m-7 5h7m-6 11h7m-6-6h7m-5 4h7m-5 4h7m-5-5h7m-7 6h7m-6-10h7m-7 7h7m-7 3h7m-6-10h7m-7 9h7m-6-7h7m-6-2h7m-7 8h7m-6-20h7m-6 15h7m-5-13h7m-6 15h7m-4-16h7m-7 11h7m-6-11h7m-4 4h7m-7 17h7m-7 0h7m-5-18h7m-4 7h7m-7 11h7m-5-5h7m-7 5h7m-6-21h7m-7 22h7m-5-4h7m-6-17h7m-7 20h7m-3 1h7m-7 0h7m-6-3h7m-4-17h7m-4 1h7m-7 19h7m-5-7h7m1-13h7m-4 4h7m-6-1h7m-7 10h7m-6 1h7m-5 2h7m-5-4h7m-5-2h7m-5 3h7m-6-4h7m-5 2h7m-5 1h7m-7 7h7m-6-4h7m-7 2h7m0-11h7m-6 2h7m-5 8h7m-5 2h7m-7 1h7m1-21h7m-7 15h7m-2 6h7m-6-21h7m-4 14h7m-4-1h7m-7 3h7m-6-12h7m-1 10h7m-5 7h7m0-22h7m-3-1h7m-6 4h7m-7 9h7m8 2h7m-6 3h7m-7 4h7m14 1h7m1-4h7m2-16h7m-6 3h7m0 18h7m12-20h7m16 16h7m-6-7h7m-4 3h7m1-4h7m-5 8h7m4-10h7m2 8h7m21-12h7m-1-3h7m0-1h7m-5 18h7m-6-17h7m4 10h7m-2-2h7m16-8h7m-7 9h7m-6 9h7m2 3h7m-5-20h7m-6 6h7m-5-6h7m-5-1h7m-3 0h7m-5-3h7m-4 11h7m-3 3h7m-7 3h7m-5 6h7m0-2h7m1-14h7m-6 17h7m4-16h7m-7 10h7m-6-12h7m-6 5h7m-6-6h7m-1-2h7m-6 11h7m2-13h7m2 16h7m-7 0h7m-6-6h7m8 13h7m-5-15h7m-6-5h7m-5 13h7m-7 2h7m-5-13h7m-6-5h7m-6 5h7m-5-3h7m-7 18h7m0-19h7m-4 21h7m-3-3h7m-5 4h7m-3-18h7m-7 5h7m4-10h7m-7 21h7m-2-6h7m-3-13h7m-6 15h7m0 5h7m2-10h7m-7 3h7m5 5h7m0-4h7m-7 3h7m-3-4h7m5-16h7m7 20h7m1-10h7m-6 5h7m-2-1h7m13-7h7m5-7h7m11 18h7m-5-12h7m-63 26h7m-8-4h7m-31 15h7m-19-14h7m-21-4h7m-15 10h7m-8 4h7m-11-6h7m-18 16h7m-12-20h7m-10 9h7m-7-12h7m-11 7h7m-17 4h7m-17-5h7m-9-6h7m-9 17h7m-13 5h7m-7-8h7m-9-7h7m-9-6h7m-17 17h7m-10-18h7m-12 13h7m-9-10h7m-9 3h7m-8-6h7m-8 20h7m-13-14h7m-9 9h7m-8 0h7m-11-1h7m-7 0h7m-12-1h7m-8 3h7m-8 3h7m-7-17h7m-9 0h7m-14 7h7m-10 13h7m-10-7h7m-24 1h7m-9-10h7m-9 1h7m-8 2h7m-13-7h7m-9 5h7m-11-2h7m-8 4h7m-12 5h7m-18-7h7m-12-1h7m-17 11h7m-11 2h7m-9-18h7m-12 21h7m-7-14h7m-16 12h7m-11 3h7m-19-16h7m-10-7h7m-13 0h7m-8 14h7m-26 2h7m-46 7h7m-24-19h7m-7-5h7m-14 1h7m-22 9h7m-14 12h7m-13 1h7m-15-4h7m-11-1h7m-9-12h7m-15 12h7m-12-11h7m-13 0h7m-7-7h7m-10 20h7m-7-14h7m-10 13h7m-9-16h7m-13 3h7m-12 7h7m-10 4h7m-7-12h7m-8 7h7m-12 5h7m-7-10h7m-13 6h7m-9 2h7m-7-2h7m-7-5h7m-8-7h7m-9 12h7m-12-2h7m-8 2h7m-10 5h7m-7-16h7m-9 20h7m-7-6h7m-7-2h7m-7-3h7m-8-6h7m-9-2h7m-7-2h7m-8 11h7m-8-6h7m-9 1h7m-9 2h7m-9 8h7m-7-9h7m-7-2h7m-10 10h7m-7-15h7m-8 16h7m-8-5h7m-10 4h7m-7-3h7m-8 6h7m-7-1h7m-9 5h7m-9-11h7m-8 8h7m-8-3h7m-7-1h7m-7-8h7m-12 14h7m-8-4h7m-8-6h7m-7-5h7m-7-4h7m-8 7h7m-8-7h7m-8 16h7m-7-9h7m-8 8h7m-8-8h7m-9 14h7m-7-3h7m-8-17h7m-9 1h7m-13 8h7m-9-5h7m-7-7h7m-8 0h7m-12 20h7m-7-2h7m-8 3h7m-8-12h7m-8 11h7m-7-2h7m-7-14h7m-7-4h7m-12 16h7m-8 2h7m-8 4h7m-9 0h7m-8 1h7m-7-24h7m-10 3h7m-8 18h7m-8-7h7m-7-11h7m-8 3h7m-10 17h7m-8 0h7m-9-9h7m-9 10h7m-8-15h7m-7-1h7m-8 16h7m-7-6h7m-7-6h7m-8-7h7m-9-4h7m-8 21h7m-7-12h7m-10-5h7m-8 9h7m-9 10h7m-7-13h7m-8 0h7m-8-1h7m-7-8h7m-8 18h7m-9-15h7m-8 18h7m-9 1h7m-7-5h7m-9-4h7m-7-15h7m-8 20h7m-7-5h7m-9 8h7m-8-22h7m-8 14h7m-8-4h7m-7 0h7m-7-3h7m-8 11h7m-8-2h7m-7-6h7m-8 13h7m-8-1h7m-8 1h7m-7-13h7m-9 3h7m-10 3h7m-7-4h7m-7-1h7m-9 0h7m-7-6h7m-8 0h7m-7-4h7m-8 4h7m-8 14h7m-7-10h7m-7-6h7m-7-2h7m-8 20h7m-7-4h7m-7-14h7m-8 19h7m-7-3h7m-7-1h7m-8-8h7m-9 10h7m-7-2h7m-8-7h7m-9-11h7m-9 7h7m-7-5h7m-7-2h7m-8 13h7m-10 3h7m-8-8h7m-8 7h7m-8 8h7m-8-1h7m-7-15h7m-8 13h7m-8-3h7m-7-7h7m-7-11h7m-8 4h7m-9 9h7m-7-2h7m-9 10h7m-7-5h7m-8-5h7m-8 3h7m-8 5h7m-7-11h7m-9 15h7m-7-1h7m-7-3h7m-10-1h7m-7 0h7m-7-5h7m-9 4h7m-8 1h7m-10-13h7m-8 14h7m-8-11h7m-7-3h7m-9 7h7m-8 12h7m-8-8h7m-7-16h7m-10 8h7m-12 15h7m-7-1h7m-8-20h7m-8 5h7m-8 9h7m-7-14h7m-8 15h7m-10-16h7m-11 16h7m-7-13h7m-7-1h7m-8 11h7m-8 7h7m-12-19h7m-10 22h7m-8-12h7m-9 11h7m-7-21h7m-8 20h7m-8-22h7m-10 16h7m-8-8h7m-9-6h7m-9 13h7m-7-1h7m-7-6h7m-10-6h7m-8 16h7m-10-16h7m-9 14h7m-8 8h7m-9-18h7m-12 7h7m-12 9h7m-16-5h7m-8 0h7m-8 3h7m-9-17h7m-8 17h7m-10-6h7m-10 14h7m4 15h7m-7 1h7m-6-15h7m-4 19h7m-2-17h7m-5 13h7m-4-19h7m-7 5h7m8 2h7m-7 5h7m0 5h7m-6-3h7m-6-14h7m-7 14h7m-3-6h7m-7 10h7m-7 2h7m-3-2h7m-6-15h7m-4 15h7m-7 0h7m-6-15h7m-5 2h7m-3 12h7m-6-1h7m-7 7h7m-6-21h7m-7 9h7m-6-7h7m-6 1h7m-5 7h7m-6-3h7m-6-2h7m-6-7h7m-6 24h7m-6-9h7m-6-14h7m-7 20h7m-6-6h7m-7 2h7m-2-5h7m-7 2h7m-5-11h7m-1 0h7m-6 10h7m-7 0h7m-7 8h7m-6-11h7m-3 10h7m-6-14h7m-6 5h7m-6-2h7m-7 15h7m-6-21h7m-6 14h7m-7 1h7m-6-1h7m-4-13h7m-7 8h7m-6-11h7m-5 0h7m-6 4h7m-6-5h7m-7 2h7m-7 2h7m-7 9h7m-6-9h7m-5 8h7m-6-9h7m-6 1h7m-7 3h7m-5-5h7m-4 0h7m-7 14h7m-6 6h7m-4-18h7m-6 16h7m-5-2h7m-5-5h7m-7 2h7m-5-13h7m-7 18h7m-6-16h7m-6 4h7m-6 1h7m-5 3h7m-6-9h7m-7 3h7m-6 13h7m-7 5h7m-6-15h7m-7 2h7m-6-2h7m-6-2h7m-6 13h7m-5-19h7m-6 2h7m-7 3h7m-6 4h7m-7 2h7m-5-9h7m-7 21h7m-5-17h7m-6-5h7m-7 3h7m-7 11h7m-6-8h7m-6 0h7m-7 11h7m-6-18h7m-7 2h7m-7 2h7m-7 11h7m-6-7h7m-7 0h7m-5-1h7m-7 14h7m-5-7h7m-6-6h7m-5 13h7m-7 1h7m-6-20h7m-6-2h7m-6 6h7m-7 6h7m-5-3h7m-7 1h7m-6 10h7m-6-14h7m-6 12h7m-6-18h7m-7 12h7m-6-6h7m-6 0h7m-5-2h7m-7 14h7m-7 0h7m-5 3h7m-6-20h7m-7 13h7m-5-10h7m-7 5h7m-7 3h7m-7 7h7m-6-16h7m-6-1h7m-7 4h7m-7 17h7m-6-15h7m-5-9h7m-7 4h7m-7 6h7m-7 5h7m-7 3h7m-6-17h7m-7 8h7m-7 7h7m-5-14h7m-7 3h7m-6 11h7m-6-1h7m-6-14h7m-7 6h7m-7 2h7m-7 8h7m-7 2h7m-6 4h7m-6-22h7m-6 18h7m-6-10h7m-6 10h7m-3-5h7m-6-1h7m-5 4h7m-6 2h7m-6-19h7m-7 7h7m-5 0h7m-5 6h7m-4-6h7m-6 9h7m-7 8h7m-6-23h7m-5 5h7m-7 14h7m-5-20h7m-7 12h7m-6-6h7m-7 3h7m-7 4h7m-6-11h7m-6-1h7m-6 0h7m-7 22h7m-6-1h7m-5-19h7m-6 6h7m-4 5h7m-6-1h7m-7 4h7m-6 7h7m-4-21h7m-5 6h7m-4-7h7m-6 16h7m-7 3h7m-2-20h7m-6-1h7m-7 5h7m-7 0h7m-7 7h7m-6-2h7m-6-8h7m-7 0h7m-5 11h7m-6-13h7m-7 13h7m-6 9h7m-6-16h7m-1 3h7m-5-5h7m-7 7h7m-7 5h7m-6-15h7m-3 16h7m-6-9h7m-6 14h7m-5-2h7m-6-18h7m-6-2h7m-6 17h7m-7 7h7m-4-14h7m-5 5h7m-7 1h7m-6-9h7m-7 14h7m-6-15h7m-3-6h7m-6 20h7m-6-16h7m-4 7h7m-7 2h7m-7 2h7m-4-1h7m-4 10h7m-5-23h7m-5 3h7m-7 11h7m-4-14h7m1 16h7m-2-16h7m-5 11h7m-3 10h7m-1-22h7m-4 16h7m0-10h7m0 6h7m2 0h7m4-9h7m-7 5h7m1 14h7m66-20h7m-6 14h7m-1-14h7m-7 2h7m-6 16h7m1-4h7m0-8h7m26-2h7m-4-4h7m4 9h7m-5 3h7m-3-9h7m-6 2h7m-6 8h7m7 4h7m-3-2h7m0-4h7m-3-1h7m-7 3h7m-1-8h7m-7 7h7m-4-9h7m-6 18h7m-6-7h7m1-16h7m-5 10h7m-4-7h7m-7 11h7m-3-13h7m0 15h7m-7 6h7m2-3h7m-6 1h7m3-10h7m1-3h7m0 7h7m1 3h7m-4-1h7m-3 2h7m-2-6h7m1-8h7m-6 4h7m0-1h7m0-4h7m-6-1h7m2 7h7m-4-4h7m-7 0h7m-5 11h7m-4-4h7m1 8h7m-6-13h7m0 7h7m5-2h7m-4 6h7m5-16h7m6 13h7m8 1h7m37 31h7m-26-12h7m-12 4h7m-36-7h7m-21 9h7m-54-6h7m-7-10h7m-21 5h7m-14 1h7m-10-3h7m-11 6h7m-11-7h7m-22 20h7m-12-14h7m-12-4h7m-10 10h7m-13-6h7m-11-1h7m-15-6h7m-16 18h7m-8 4h7m-8 1h7m-7-10h7m-7-14h7m-11 6h7m-11 9h7m-7-1h7m-10 10h7m-9-5h7m-9-13h7m-11-4h7m-10 14h7m-8-7h7m-10 1h7m-7 0h7m-8 1h7m-12 9h7m-8-8h7m-8 10h7m-11-15h7m-7-6h7m-13 5h7m-7 0h7m-9 15h7m-14-11h7m-19 9h7m-12-7h7m-10-1h7m-8-5h7m-19 0h7m-10 16h7m-24-10h7m-21-5h7m-9 8h7m-32-13h7m-41 3h7m-19 0h7m-11 5h7m-49-6h7m-22 17h7m-32-18h7m-10 12h7m-7-5h7m-24 0h7m-21-7h7m-9-2h7m-9 4h7m-13-1h7m-9-3h7m-9 20h7m-8-20h7m-9 19h7m-7-16h7m-8 15h7m-7-16h7m-8 2h7m-9 17h7m-9-5h7m-11-1h7m-14 7h7m-9-11h7m-8 11h7m-10-6h7m-9 3h7m-7-16h7m-10 17h7m-8-16h7m-8 0h7m-8 7h7m-8 8h7m-16-9h7m-12-3h7m-7-7h7m-8 23h7m-8-3h7m-7-10h7m-8 13h7m-11-7h7m-7-17h7m-9 4h7m-9 3h7m-8 14h7m-7-21h7m-9 0h7m-9 11h7m-10-5h7m-7-3h7m-9 14h7m-8-10h7m-8-2h7m-9 19h7m-10-20h7m-7-2h7m-8 15h7m-7-1h7m-10 3h7m-8-11h7m-9 3h7m-7-5h7m-9 13h7m-10-1h7m-8-3h7m-7-4h7m-9-2h7m-8-2h7m-11 16h7m-12-23h7m-11 8h7m-9 14h7m-8-22h7m-8 9h7m-8 2h7m-7 0h7m-7-8h7m-8 11h7m-7-3h7m-7-7h7m-8 18h7m-7-5h7m-7-6h7m-8 1h7m-7-5h7m-7-1h7m-7-6h7m-8 24h7m-7-13h7m-7-8h7m-7-1h7m-8 14h7m-8-16h7m-7 0h7m-8 16h7m-12-15h7m-9 15h7m-7-7h7m-8-5h7m-8 4h7m-8 12h7m-7-8h7m-8-7h7m-9 0h7m-10 1h7m-8 14h7m-7-13h7m-8 4h7m-10-3h7m-8 9h7m-8-4h7m-8-7h7m-8 10h7m-7-2h7m-11 5h7m-7-13h7m-9 16h7m-8-7h7m-7-8h7m-7-1h7m-8 1h7m-9-1h7m-7 0h7m-8 6h7m-9 7h7m-7-11h7m-14-6h7m-11 6h7m-7-6h7m-10 10h7m-8 6h7m-7-7h7m-8-3h7m-7-4h7m-8 1h7m-8 15h7m-9-1h7m-8-18h7m-8-1h7m-8 16h7m-13-9h7m-8 4h7m-14-3h7m-8-2h7m-8 7h7m-9-13h7m-12 14h7m-8-10h7m-11 12h7m-8 8h7m-13-21h7m-7-1h7m-14 8h7m-8 8h7m-12-15h7m-8 14h7m-8-11h7m-11 7h7m-23 10h7m-7-10h7m-7-12h7m-10 18h7m-10-8h7m-9-11h7m-16 6h7m-8 0h7m-13 29h7m19-3h7m-7 13h7m-5-13h7m7 5h7m2-11h7m-5 5h7m-6 7h7m-5-12h7m3 6h7m2-5h7m-6 2h7m-2 2h7m7 11h7m-2-14h7m-4 2h7m-3 6h7m7-10h7m-5 7h7m3-2h7m1 2h7m12-4h7m-6-4h7m-7 6h7m-4 3h7m-3-2h7m-6-5h7m-3 7h7m-5 1h7m-7 2h7m-4 6h7m-6-10h7m-4-6h7m-7 2h7m-1 12h7m-3-5h7m-2 6h7m3 3h7m-5 0h7m-6-2h7m-5-10h7m0 8h7m-1-1h7m4-8h7m3 17h7m3-20h7m-5 0h7m-6 4h7m-5 0h7m2 6h7m-6 1h7m-2-10h7m-7 7h7m-2-12h7m5 18h7m-4-7h7m0-6h7m9 1h7m3-3h7m-6 21h7m-6-9h7m-5-8h7m-3 8h7m-6-15h7m33 23h7m18-13h7m13 6h7m5-16h7m67 1h7m1 0h7m-6 11h7m-4 11h7m4-19h7m-6 14h7m0 0h7m-6-8h7m-5 10h7m-5 1h7m4 1h7m4 2h7m4-7h7m-4-7h7m7 7h7m1-9h7m9 7h7m5-9h7m-5-3h7m-4 19h7m-6-19h7m-7 11h7m-6-8h7m1-5h7m-1 5h7m-3 0h7m-4 11h7m-7 1h7m-3-14h7m4 12h7m-4 8h7m-6-12h7m5 7h7m-6-10h7m-2 11h7m-6-18h7m9 20h7m30-8h7m30 1h7m-80 28h7m-29 6h7m-15-8h7m-16-9h7m-8-7h7m-11 7h7m-22 5h7m-10-5h7m-27 1h7m-15 11h7m-7-13h7m-7-1h7m-15 10h7m-12-9h7m-7-2h7m-9 7h7m-11-2h7m-9 9h7m-13-6h7m-18 6h7m-10-10h7m-15 1h7m-8 13h7m-14-9h7m-18 6h7m-10 4h7m-38-5h7m-9-3h7m-59-12h7m-13 13h7m-40-10h7m-55 3h7m-23-9h7m-106 11h7m-14 5h7m-17-1h7m-12-8h7m-9-4h7m-21-1h7m-14 7h7m-23-8h7m-21 17h7m-19-9h7m-11 6h7m-7 0h7m-8-7h7m-22-1h7m-16 10h7m-15-16h7m-19 18h7m-9 4h7m-9-22h7m-16 5h7m-14-6h7m-8 0h7m-8 8h7m-9-8h7m-10 1h7m-48 0h7m-55 12h7m-12-5h7m24 33h7m12-12h7m46-2h7m37 2h7m15-4h7m47 10h7m71 4h7m92 6h7m11 2h7m13-9h7m5 4h7m34 3h7m17-7h7m3 5h7m2-3h7m2-11h7m32 20h7m17 0h7m2-24h7m-6 22h7m6-16h7m0-5h7m-4 1h7m-7 1h7m26 16h7m8 4h7m-3-19h7m14 6h7m71 29h7m-72-4h7m-48 0h7m-8-8h7m-22 8h7m-18 3h7m-71 1h7m-35 2h7m-45-4h7m-9-10h7m-25 6h7m-24 2h7m-43-9h7m-54 0h7m-60 0h7" stroke="#c80a0a" stroke-width="8" stroke-opacity="0.45" fill="none"/>
</g>
<line x1="345.00" y1="864.90" x2="345.00" y2="930.00" stroke="#555" stroke-width="0.8" stroke-linecap="butt"/>
<line x1="305.90" y1="907.60" x2="387.70" y2="907.60" stroke="#555" stroke-width="0.8" stroke-linecap="butt"/>
<line x1="305.90" y1="864.90" x2="387.70" y2="864.90" stroke="#000" stroke-width="1.3" stroke-linecap="butt"/>
<line x1="387.70" y1="864.90" x2="387.70" y2="930.00" stroke="#000" stroke-width="1.1" stroke-linecap="butt"/>
<line x1="305.90" y1="864.30" x2="305.90" y2="930.60" stroke="#000" stroke-width="1.5" stroke-linecap="butt"/>
<line x1="305.20" y1="930.00" x2="388.20" y2="930.00" stroke="#000" stroke-width="1.5" stroke-linecap="butt"/>
<line x1="301.60" y1="865.40" x2="305.90" y2="865.40" stroke="#000" stroke-width="1.0" stroke-linecap="butt"/>
<text x="282.53" y="868.20" font-size="9.8" fill="#111">10<tspan dx="0.4" dy="-4.0" font-size="5.88">4</tspan></text>
<line x1="301.60" y1="879.90" x2="305.90" y2="879.90" stroke="#000" stroke-width="1.0" stroke-linecap="butt"/>
<text x="282.53" y="882.70" font-size="9.8" fill="#111">10<tspan dx="0.4" dy="-4.0" font-size="5.88">3</tspan></text>
<line x1="301.60" y1="896.70" x2="305.90" y2="896.70" stroke="#000" stroke-width="1.0" stroke-linecap="butt"/>
<text x="282.53" y="899.50" font-size="9.8" fill="#111">10<tspan dx="0.4" dy="-4.0" font-size="5.88">2</tspan></text>
<line x1="301.60" y1="912.20" x2="305.90" y2="912.20" stroke="#000" stroke-width="1.0" stroke-linecap="butt"/>
<text x="282.53" y="915.00" font-size="9.8" fill="#111">10<tspan dx="0.4" dy="-4.0" font-size="5.88">1</tspan></text>
<line x1="301.60" y1="929.10" x2="305.90" y2="929.10" stroke="#000" stroke-width="1.0" stroke-linecap="butt"/>
<text x="282.53" y="931.90" font-size="9.8" fill="#111">10<tspan dx="0.4" dy="-4.0" font-size="5.88">0</tspan></text>
<line x1="303.60" y1="924.01" x2="305.90" y2="924.01" stroke="#000" stroke-width="0.8" stroke-linecap="butt"/>
<line x1="303.60" y1="921.04" x2="305.90" y2="921.04" stroke="#000" stroke-width="0.8" stroke-linecap="butt"/>
<line x1="303.60" y1="918.93" x2="305.90" y2="918.93" stroke="#000" stroke-width="0.8" stroke-linecap="butt"/>
<line x1="303.60" y1="917.29" x2="305.90" y2="917.29" stroke="#000" stroke-width="0.8" stroke-linecap="butt"/>
<line x1="303.60" y1="915.95" x2="305.90" y2="915.95" stroke="#000" stroke-width="0.8" stroke-linecap="butt"/>
<line x1="303.60" y1="914.82" x2="305.90" y2="914.82" stroke="#000" stroke-width="0.8" stroke-linecap="butt"/>
<line x1="303.60" y1="913.84" x2="305.90" y2="913.84" stroke="#000" stroke-width="0.8" stroke-linecap="butt"/>
<line x1="303.60" y1="912.97" x2="305.90" y2="912.97" stroke="#000" stroke-width="0.8" stroke-linecap="butt"/>
<line x1="303.60" y1="907.53" x2="305.90" y2="907.53" stroke="#000" stroke-width="0.8" stroke-linecap="butt"/>
<line x1="303.60" y1="904.80" x2="305.90" y2="904.80" stroke="#000" stroke-width="0.8" stroke-linecap="butt"/>
<line x1="303.60" y1="902.87" x2="305.90" y2="902.87" stroke="#000" stroke-width="0.8" stroke-linecap="butt"/>
<line x1="303.60" y1="901.37" x2="305.90" y2="901.37" stroke="#000" stroke-width="0.8" stroke-linecap="butt"/>
<line x1="303.60" y1="900.14" x2="305.90" y2="900.14" stroke="#000" stroke-width="0.8" stroke-linecap="butt"/>
<line x1="303.60" y1="899.10" x2="305.90" y2="899.10" stroke="#000" stroke-width="0.8" stroke-linecap="butt"/>
<line x1="303.60" y1="898.20" x2="305.90" y2="898.20" stroke="#000" stroke-width="0.8" stroke-linecap="butt"/>
<line x1="303.60" y1="897.41" x2="305.90" y2="897.41" stroke="#000" stroke-width="0.8" stroke-linecap="butt"/>
<line x1="303.60" y1="891.64" x2="305.90" y2="891.64" stroke="#000" stroke-width="0.8" stroke-linecap="butt"/>
<line x1="303.60" y1="888.68" x2="305.90" y2="888.68" stroke="#000" stroke-width="0.8" stroke-linecap="butt"/>
<line x1="303.60" y1="886.59" x2="305.90" y2="886.59" stroke="#000" stroke-width="0.8" stroke-linecap="butt"/>
<line x1="303.60" y1="884.96" x2="305.90" y2="884.96" stroke="#000" stroke-width="0.8" stroke-linecap="butt"/>
<line x1="303.60" y1="883.63" x2="305.90" y2="883.63" stroke="#000" stroke-width="0.8" stroke-linecap="butt"/>
<line x1="303.60" y1="882.50" x2="305.90" y2="882.50" stroke="#000" stroke-width="0.8" stroke-linecap="butt"/>
<line x1="303.60" y1="881.53" x2="305.90" y2="881.53" stroke="#000" stroke-width="0.8" stroke-linecap="butt"/>
<line x1="303.60" y1="880.67" x2="305.90" y2="880.67" stroke="#000" stroke-width="0.8" stroke-linecap="butt"/>
<line x1="303.60" y1="875.54" x2="305.90" y2="875.54" stroke="#000" stroke-width="0.8" stroke-linecap="butt"/>
<line x1="303.60" y1="872.98" x2="305.90" y2="872.98" stroke="#000" stroke-width="0.8" stroke-linecap="butt"/>
<line x1="303.60" y1="871.17" x2="305.90" y2="871.17" stroke="#000" stroke-width="0.8" stroke-linecap="butt"/>
<line x1="303.60" y1="869.76" x2="305.90" y2="869.76" stroke="#000" stroke-width="0.8" stroke-linecap="butt"/>
<line x1="303.60" y1="868.62" x2="305.90" y2="868.62" stroke="#000" stroke-width="0.8" stroke-linecap="butt"/>
<line x1="303.60" y1="867.65" x2="305.90" y2="867.65" stroke="#000" stroke-width="0.8" stroke-linecap="butt"/>
<line x1="303.60" y1="866.81" x2="305.90" y2="866.81" stroke="#000" stroke-width="0.8" stroke-linecap="butt"/>
<line x1="303.60" y1="866.06" x2="305.90" y2="866.06" stroke="#000" stroke-width="0.8" stroke-linecap="butt"/>
<line x1="306.90" y1="930.00" x2="306.90" y2="933.90" stroke="#000" stroke-width="1.0" stroke-linecap="butt"/>
<text x="299.62" y="947.30" font-size="9.8" fill="#111">10<tspan dx="0.4" dy="-4.0" font-size="5.88">0</tspan></text>
<line x1="325.40" y1="930.00" x2="325.40" y2="933.90" stroke="#000" stroke-width="1.0" stroke-linecap="butt"/>
<text x="318.12" y="947.30" font-size="9.8" fill="#111">10<tspan dx="0.4" dy="-4.0" font-size="5.88">1</tspan></text>
<line x1="347.30" y1="930.00" x2="347.30" y2="933.90" stroke="#000" stroke-width="1.0" stroke-linecap="butt"/>
<text x="340.02" y="947.30" font-size="9.8" fill="#111">10<tspan dx="0.4" dy="-4.0" font-size="5.88">2</tspan></text>
<line x1="365.80" y1="930.00" x2="365.80" y2="933.90" stroke="#000" stroke-width="1.0" stroke-linecap="butt"/>
<text x="358.52" y="947.30" font-size="9.8" fill="#111">10<tspan dx="0.4" dy="-4.0" font-size="5.88">3</tspan></text>
<line x1="386.00" y1="930.00" x2="386.00" y2="933.90" stroke="#000" stroke-width="1.0" stroke-linecap="butt"/>
<text x="378.72" y="947.30" font-size="9.8" fill="#111">10<tspan dx="0.4" dy="-4.0" font-size="5.88">4</tspan></text>
<line x1="312.47" y1="930.00" x2="312.47" y2="932.30" stroke="#000" stroke-width="0.8" stroke-linecap="butt"/>
<line x1="315.73" y1="930.00" x2="315.73" y2="932.30" stroke="#000" stroke-width="0.8" stroke-linecap="butt"/>
<line x1="318.04" y1="930.00" x2="318.04" y2="932.30" stroke="#000" stroke-width="0.8" stroke-linecap="butt"/>
<line x1="319.83" y1="930.00" x2="319.83" y2="932.30" stroke="#000" stroke-width="0.8" stroke-linecap="butt"/>
<line x1="321.30" y1="930.00" x2="321.30" y2="932.30" stroke="#000" stroke-width="0.8" stroke-linecap="butt"/>
<line x1="322.53" y1="930.00" x2="322.53" y2="932.30" stroke="#000" stroke-width="0.8" stroke-linecap="butt"/>
<line x1="323.61" y1="930.00" x2="323.61" y2="932.30" stroke="#000" stroke-width="0.8" stroke-linecap="butt"/>
<line x1="324.55" y1="930.00" x2="324.55" y2="932.30" stroke="#000" stroke-width="0.8" stroke-linecap="butt"/>
<line x1="331.99" y1="930.00" x2="331.99" y2="932.30" stroke="#000" stroke-width="0.8" stroke-linecap="butt"/>
<line x1="335.85" y1="930.00" x2="335.85" y2="932.30" stroke="#000" stroke-width="0.8" stroke-linecap="butt"/>
<line x1="338.59" y1="930.00" x2="338.59" y2="932.30" stroke="#000" stroke-width="0.8" stroke-linecap="butt"/>
<line x1="340.71" y1="930.00" x2="340.71" y2="932.30" stroke="#000" stroke-width="0.8" stroke-linecap="butt"/>
<line x1="342.44" y1="930.00" x2="342.44" y2="932.30" stroke="#000" stroke-width="0.8" stroke-linecap="butt"/>
<line x1="343.91" y1="930.00" x2="343.91" y2="932.30" stroke="#000" stroke-width="0.8" stroke-linecap="butt"/>
<line x1="345.18" y1="930.00" x2="345.18" y2="932.30" stroke="#000" stroke-width="0.8" stroke-linecap="butt"/>
<line x1="346.30" y1="930.00" x2="346.30" y2="932.30" stroke="#000" stroke-width="0.8" stroke-linecap="butt"/>
<line x1="352.87" y1="930.00" x2="352.87" y2="932.30" stroke="#000" stroke-width="0.8" stroke-linecap="butt"/>
<line x1="356.13" y1="930.00" x2="356.13" y2="932.30" stroke="#000" stroke-width="0.8" stroke-linecap="butt"/>
<line x1="358.44" y1="930.00" x2="358.44" y2="932.30" stroke="#000" stroke-width="0.8" stroke-linecap="butt"/>
<line x1="360.23" y1="930.00" x2="360.23" y2="932.30" stroke="#000" stroke-width="0.8" stroke-linecap="butt"/>
<line x1="361.70" y1="930.00" x2="361.70" y2="932.30" stroke="#000" stroke-width="0.8" stroke-linecap="butt"/>
<line x1="362.93" y1="930.00" x2="362.93" y2="932.30" stroke="#000" stroke-width="0.8" stroke-linecap="butt"/>
<line x1="364.01" y1="930.00" x2="364.01" y2="932.30" stroke="#000" stroke-width="0.8" stroke-linecap="butt"/>
<line x1="364.95" y1="930.00" x2="364.95" y2="932.30" stroke="#000" stroke-width="0.8" stroke-linecap="butt"/>
<line x1="371.88" y1="930.00" x2="371.88" y2="932.30" stroke="#000" stroke-width="0.8" stroke-linecap="butt"/>
<line x1="375.44" y1="930.00" x2="375.44" y2="932.30" stroke="#000" stroke-width="0.8" stroke-linecap="butt"/>
<line x1="377.96" y1="930.00" x2="377.96" y2="932.30" stroke="#000" stroke-width="0.8" stroke-linecap="butt"/>
<line x1="379.92" y1="930.00" x2="379.92" y2="932.30" stroke="#000" stroke-width="0.8" stroke-linecap="butt"/>
<line x1="381.52" y1="930.00" x2="381.52" y2="932.30" stroke="#000" stroke-width="0.8" stroke-linecap="butt"/>
<line x1="382.87" y1="930.00" x2="382.87" y2="932.30" stroke="#000" stroke-width="0.8" stroke-linecap="butt"/>
<line x1="384.04" y1="930.00" x2="384.04" y2="932.30" stroke="#000" stroke-width="0.8" stroke-linecap="butt"/>
<line x1="385.08" y1="930.00" x2="385.08" y2="932.30" stroke="#000" stroke-width="0.8" stroke-linecap="butt"/>
<text x="306.60" y="873.00" font-size="10.0" text-anchor="start" fill="#000" >DOX</text>
<text x="387.30" y="873.00" font-size="10.0" text-anchor="end" fill="#000" >16.3±2.9%</text>
<text x="387.30" y="928.80" font-size="10.0" text-anchor="end" fill="#000" >13.4±1.4%</text>
<g clip-path="url(#c8)">
<ellipse cx="480" cy="897" rx="11" ry="14" fill="#c80a0a" fill-opacity="0.13" filter="url(#b3)"/>
<path transform="scale(.1)" d="M4231 8655h7m704-4h7m-41 28h7m-117 5h7m-16 14h7m-7-6h7m-64 4h7m-32-3h7m-36 5h7m-95-3h7m-22-5h7m-235 19h7m38 11h7m183-20h7m115 6h7m40 15h7m3-6h7m-2 5h7m6 2h7m43-6h7m30 8h7m104-13h7m-4 35h7m-28-18h7m-31 10h7m-33-6h7m-9 3h7m-33 11h7m-32 0h7m-10-12h7m-16-6h7m-17 13h7m-16 4h7m-17-6h7m-9 5h7m-28-11h7m-8 6h7m-68 6h7m-17-17h7m-26 6h7m-19-7h7m-31 12h7m-32 8h7m-57-17h7m-29 6h7m-12-10h7m-86 9h7m-8 6h7m-23-1h7m-203-11h7m148 40h7m44-7h7m14 9h7m37-5h7m12 8h7m-2-7h7m24-15h7m37 1h7m4 14h7m0 0h7m17 7h7m41-7h7m10 5h7m-2-2h7m0-7h7m-1 0h7m-2 8h7m-1-20h7m1 23h7m-3-18h7m-7 6h7m-6 5h7m-3 1h7m-4-1h7m-6-13h7m5 12h7m-7 3h7m-4 2h7m0-11h7m-6-6h7m-6 18h7m0-16h7m0 17h7m-6 0h7m1-7h7m0-14h7m-4 20h7m20-2h7m-4-1h7m11 2h7m-6-15h7m-7 4h7m-4 10h7m-1 2h7m5-7h7m20 0h7m-8 28h7m-27-2h7m-19 1h7m-29-2h7m-13 8h7m-20-15h7m-10 15h7m-10-14h7m-9 8h7m-8-7h7m-9 13h7m-8-9h7m-9 7h7m-10-5h7m-11-15h7m-9 10h7m-8-3h7m-7-7h7m-9 9h7m-7-8h7m-8 2h7m-12 13h7m-12-13h7m-11 8h7m-17 11h7m-9-16h7m-8 1h7m-37 6h7m-8-1h7m-10 8h7m-11-21h7m-12 14h7m-13-11h7m-8 14h7m-13 3h7m-10-20h7m-10 14h7m-12-11h7m-18-1h7m-14 13h7m-8 4h7m-11-17h7m-9 6h7m-62 13h7m-7-15h7m-13 16h7m-25-4h7m-20-5h7m-10-10h7m-57 21h7m-26-1h7m-34-6h7m-14 6h7m-56-11h7m-65 10h7m-100 1h7m-49-5h7m-47-5h7m95 19h7m23 5h7m32 0h7m65-1h7m63 2h7m20-11h7m8 7h7m4-8h7m28 19h7m5-4h7m6 4h7m12-1h7m-3-3h7m-6 7h7m1-13h7m-1-9h7m-1-1h7m-4 14h7m-5 9h7m-3-13h7m-7 3h7m-4 9h7m-6-12h7m-5-10h7m-6 0h7m-6 19h7m-4-10h7m-2-1h7m-4 7h7m-4-15h7m-6 13h7m5-9h7m-3-1h7m-7 12h7m-4-12h7m-2-2h7m-7 21h7m-3-3h7m1-17h7m-5 13h7m-7 0h7m-4 6h7m-6-11h7m-4-4h7m-7 13h7m-7 3h7m-5-1h7m-3-4h7m-6-11h7m-7 17h7m-3-16h7m-3 17h7m-6-24h7m-7 12h7m-7 9h7m-4-2h7m-7 5h7m-2-5h7m-4-14h7m-5-5h7m-6 19h7m-7 5h7m-5-13h7m-5-4h7m-7 9h7m-7 6h7m-6-5h7m-3-5h7m-5 1h7m-4-5h7m-6-1h7m-5 16h7m0-11h7m-6-2h7m-5-8h7m-7 9h7m-2-5h7m-4 13h7m-6-12h7m-7 10h7m-7 1h7m-6-16h7m1 6h7m2-8h7m-6 5h7m-6 8h7m-5 2h7m-6-9h7m-4 17h7m-6-14h7m-6-7h7m-5 5h7m-6 2h7m-2 14h7m-7 1h7m-3-14h7m-6 11h7m6-12h7m-5 11h7m-6-4h7m-3-13h7m-5 5h7m10 12h7m-1 0h7m13-14h7m-7 13h7m9-11h7m10 12h7m5-11h7m-22 19h7m-8 14h7m-39-16h7m-9 9h7m-24 2h7m-7-7h7m-14-3h7m-18 15h7m-9-7h7m-7-2h7m-20 13h7m-11-4h7m-8-13h7m-9 19h7m-8-8h7m-17 3h7m-10-7h7m-12 8h7m-11-5h7m-7-8h7m-8 16h7m-10-16h7m-8-3h7m-7-1h7m-15 22h7m-7-21h7m-9 9h7m-7-4h7m-10-5h7m-7-1h7m-9 15h7m-9-1h7m-7-5h7m-7-1h7m-8 8h7m-7-6h7m-10 1h7m-11 0h7m-8-1h7m-8 6h7m-9 2h7m-8-9h7m-8 4h7m-8-2h7m-8 9h7m-8-6h7m-7-12h7m-10 16h7m-7-17h7m-9 17h7m-10-9h7m-11-10h7m-10 1h7m-8 22h7m-8-3h7m-7 0h7m-8 1h7m-9-21h7m-13 5h7m-8 16h7m-7-4h7m-8-2h7m-7-1h7m-7-8h7m-9 7h7m-9 8h7m-9-8h7m-8 6h7m-8-20h7m-8 20h7m-11-2h7m-12 4h7m-7-11h7m-7-7h7m-12 18h7m-7-12h7m-10 12h7m-11-5h7m-8 7h7m-8-16h7m-9 3h7m-8-11h7m-12 21h7m-13-8h7m-8 8h7m-8 1h7m-8-8h7m-8-13h7m-9 7h7m-8 16h7m-9-3h7m-8-17h7m-10 5h7m-8 13h7m-9-13h7m-8-1h7m-9 5h7m-10-9h7m-9 6h7m-7 0h7m-7-1h7m-9-2h7m-7-6h7m-8 18h7m-7-12h7m-7-7h7m-8 9h7m-12 4h7m-8-13h7m-11 14h7m-7-13h7m-8 17h7m-11-7h7m-8-7h7m-8-3h7m-12 12h7m-17 6h7m-7-13h7m-15-4h7m-10 3h7m-14 19h7m-10-15h7m-11 3h7m-16 8h7m-18-3h7m-7-12h7m-8 2h7m-8 17h7m-15-11h7m-18-8h7m-8 16h7m-43-14h7m-9 7h7m-17 8h7m-15-19h7m-31 21h7m-10-1h7m-64-18h7m-63 10h7m-44-4h7m-206 26h7m53-8h7m12 9h7m26-1h7m177-5h7m15 17h7m7-15h7m3-2h7m17 10h7m18-3h7m-3-2h7m-5-7h7m4 5h7m2 0h7m13-6h7m0 10h7m-3 8h7m-5-22h7m2 4h7m-7 10h7m-6-2h7m1-9h7m-5 1h7m3 1h7m-5 8h7m-5 7h7m-4-5h7m8 5h7m-4-5h7m-5-12h7m-6-2h7m-6 5h7m-6 16h7m-5-21h7m-6 18h7m-3 3h7m4-22h7m-6 10h7m-7 0h7m-7 7h7m-2 6h7m-3-1h7m-7 2h7m-6-13h7m-5 3h7m-5-4h7m-6 7h7m-5-7h7m-6 6h7m-5-7h7m-6 12h7m-6-12h7m-4-5h7m-7 9h7m-7 9h7m-6-3h7m-7 5h7m-6-8h7m-6 7h7m-5-21h7m-4 9h7m-5-6h7m-2-4h7m-6 7h7m-7 7h7m-7 3h7m-6-17h7m-6 9h7m-4 13h7m-6-18h7m-6 2h7m-7 9h7m-5 2h7m-4-17h7m-5 4h7m-7 4h7m-4-3h7m-6-5h7m-6 4h7m-7 15h7m-7 3h7m-5-7h7m-7 4h7m-6-15h7m-4 9h7m-4-2h7m-5-12h7m-6 23h7m-6-2h7m-6-16h7m-6 3h7m-7 16h7m-6-13h7m-6 11h7m-5 2h7m-6-18h7m-6-3h7m-6 2h7m-7 18h7m-6-8h7m-7 8h7m-5-14h7m-7 7h7m-5-16h7m-5 3h7m-7 19h7m-6-6h7m-7 4h7m-6-18h7m-7 1h7m-4 12h7m-6-5h7m-6 11h7m-6-9h7m-7 6h7m-6-1h7m-6 6h7m-5-20h7m-6 1h7m-7 16h7m-6-19h7m-7 7h7m-6-7h7m-7 18h7m-5-15h7m-6-1h7m-6 0h7m-4 16h7m-6-7h7m-7 2h7m-7 6h7m-6-15h7m-6 3h7m-6-2h7m-2 0h7m-7 13h7m-5-19h7m-7 15h7m-7 4h7m-4-16h7m-6 1h7m-7 10h7m-7 5h7m-6 1h7m-6-11h7m-7 5h7m-7 7h7m-7 3h7m-6-21h7m-7 21h7m-5-23h7m-7 16h7m-2 4h7m-6-21h7m2 11h7m-5 2h7m-7 4h7m-6-17h7m-6 1h7m-7 9h7m-4 6h7m-2-14h7m-4 10h7m-3 9h7m-6-9h7m-4-12h7m-4 11h7m-5 5h7m-2 4h7m-3 4h7m-4-1h7m-1-2h7m-5-14h7m-6-5h7m-1 1h7m-4 18h7m2-19h7m-3 15h7m-4-15h7m3 20h7m9-4h7m-3 31h7m-15-24h7m-25 7h7m-21 3h7m-10-3h7m-15 16h7m-8-7h7m-14 7h7m-10-19h7m-9 15h7m-10-5h7m-9 5h7m-8 4h7m-12-11h7m-7-12h7m-9 20h7m-8-5h7m-9 7h7m-7-6h7m-11-3h7m-8-2h7m-8 7h7m-8-2h7m-7-8h7m-8 16h7m-7-16h7m-8 12h7m-8-16h7m-7-1h7m-8-3h7m-8 17h7m-9 7h7m-9-4h7m-7-11h7m-11 12h7m-7-1h7m-7-13h7m-9 3h7m-7-9h7m-8 21h7m-10-1h7m-16-2h7m-11-8h7m-9-8h7m-7-3h7m-8 19h7m-11-12h7m-9-3h7m-10-2h7m-10 10h7m-9-11h7m-10 4h7m-9 18h7m-8-8h7m-7-5h7m-7-4h7m-9 7h7m-8 1h7m-8-10h7m-9 19h7m-7-20h7m-9 13h7m-8 3h7m-7-10h7m-8 0h7m-8 13h7m-7-20h7m-8 12h7m-7-11h7m-8-1h7m-8 15h7m-7-14h7m-8 3h7m-8-3h7m-8 10h7m-8-2h7m-7-9h7m-8 1h7m-8 4h7m-9-2h7m-7-2h7m-10 13h7m-8 5h7m-8-13h7m-7-5h7m-10 11h7m-11 8h7m-7-2h7m-8-1h7m-7-13h7m-8 17h7m-7-12h7m-7-11h7m-8 10h7m-7-8h7m-10 2h7m-8 9h7m-8 9h7m-8-7h7m-10 7h7m-10 0h7m-9 0h7m-7-4h7m-9 3h7m-7-3h7m-8-9h7m-9 15h7m-7-17h7m-8-4h7m-8-3h7m-10 18h7m-7-9h7m-10 9h7m-8 1h7m-7-10h7m-10-7h7m-8 20h7m-10-21h7m-8 7h7m-9 15h7m-8 1h7m-7-16h7m-7-2h7m-9 17h7m-7-3h7m-7-17h7m-10-2h7m-9 9h7m-8-3h7m-8 15h7m-7-10h7m-9 5h7m-7-1h7m-10 4h7m-7-15h7m-7-1h7m-8-2h7m-10 16h7m-7-9h7m-12 7h7m-8-6h7m-10-1h7m-9 8h7m-13-4h7m-11 8h7m-8-9h7m-8 4h7m-9-7h7m-8 10h7m-9-3h7m-8 3h7m-8-10h7m-11 15h7m-7-2h7m-12 0h7m-8-7h7m-9 9h7m-8-16h7m-9 7h7m-7-3h7m-8 9h7m-8 2h7m-9-21h7m-8 8h7m-9 10h7m-7-3h7m-8 1h7m-8-2h7m-8 6h7m-13-10h7m-8-4h7m-7-3h7m-12 4h7m-19 1h7m-11 13h7m-12-3h7m-7-16h7m-8 9h7m-10-11h7m-18 21h7m-7-6h7m-10 0h7m-16-13h7m-21 19h7m-7-19h7m-13 18h7m-7-4h7m-16-5h7m-16 0h7m-8 0h7m-25 8h7m-90-16h7m-101 13h7m-114-18h7m5 29h7m4 10h7m0-12h7m40 16h7m122 4h7m60-19h7m2 21h7m5-7h7m27 4h7m7 3h7m-2-18h7m-1 3h7m-1-8h7m-7 7h7m3-2h7m8 12h7m-4-8h7m-5-3h7m-6 11h7m-5-2h7m-4-5h7m-5-5h7m-7 8h7m-6 6h7m-6-2h7m-5 3h7m-3-19h7m-6 10h7m-5-3h7m0 5h7m-5-2h7m0-7h7m-6 5h7m-6 14h7m-6-17h7m-6-1h7m-7 10h7m-7 5h7m-2 0h7m-7 3h7m-7 0h7m-6-4h7m-3 0h7m-5 4h7m-6-11h7m-7 1h7m-7 2h7m-6-7h7m-7 5h7m-7 3h7m-6-7h7m-6-3h7m-7 3h7m-5 0h7m-7 3h7m3-1h7m-5-4h7m-7 11h7m-5-18h7m-7 19h7m-6-3h7m-5 0h7m-7 6h7m-5-11h7m-7 4h7m-6-4h7m-5-9h7m-7 13h7m-5-15h7m-2 5h7m-6-5h7m-7 3h7m-7 6h7m-6-2h7m-5-3h7m-6 4h7m-5-4h7m-7 7h7m-6-10h7m-6-2h7m-7 14h7m-7 6h7m-6-1h7m-6 2h7m-2-6h7m-7 4h7m-5-6h7m-6-1h7m-7 2h7m-6-13h7m-7 23h7m-5-21h7m-7 11h7m-6-14h7m-7 8h7m-7 16h7m-4-4h7m-6-1h7m-6 2h7m-6-5h7m-4 3h7m-6 0h7m-6-6h7m-7 4h7m-6-8h7m-4-1h7m-6-7h7m-7 10h7m-7 11h7m-5-2h7m-7 0h7m-4-18h7m-6 0h7m-7 7h7m-7 15h7m-5-23h7m-7 5h7m-5-2h7m-7 12h7m-7 4h7m-5-4h7m-6-1h7m-7 3h7m-6-14h7m-7 10h7m-6 1h7m-6-5h7m-6-2h7m-7 11h7m-6-4h7m-5-11h7m-6 6h7m-6-4h7m-5 3h7m-7 4h7m-7 11h7m-6-23h7m-7 9h7m-6-1h7m-7 1h7m-6 11h7m-6-1h7m-7 3h7m-5 0h7m-5-2h7m-5-9h7m-5-12h7m-7 1h7m-7 15h7m-4-16h7m-5 16h7m-7 6h7m-7 2h7m-4-22h7m-7 12h7m-7 1h7m-6-15h7m-5 2h7m-6 7h7m-6-5h7m-7 4h7m-6 6h7m-7 9h7m-5-9h7m-2-6h7m-4-8h7m-3 21h7m-6-18h7m-6-2h7m-7 18h7m-5-5h7m-7 1h7m-2-2h7m-7 9h7m-7 1h7m-5-5h7m-6-1h7m-3-5h7m-5-4h7m-7 9h7m-5-11h7m-4 12h7m-6-17h7m1 12h7m-3 2h7m-6 7h7m-6-7h7m-6 2h7m-2-7h7m-6-6h7m-1 2h7m3-3h7m-7 15h7m-2-11h7m8-3h7m2-2h7m8 42h7m-18-3h7m-10-15h7m-22 3h7m-19-4h7m-20 17h7m-16-15h7m-11-1h7m-10 3h7m-8-1h7m-11 8h7m-16-2h7m-7-8h7m-8 17h7m-16-15h7m-14 14h7m-8-14h7m-8 18h7m-8-7h7m-10 1h7m-7-5h7m-8-10h7m-9 5h7m-12 13h7m-7-3h7m-7-12h7m-10 11h7m-11 7h7m-11-18h7m-8 3h7m-10 0h7m-7-6h7m-11 10h7m-7-1h7m-8 10h7m-7-6h7m-9 11h7m-8-10h7m-7-5h7m-8 14h7m-7-5h7m-7-1h7m-8 2h7m-8-16h7m-10-1h7m-10 1h7m-10 7h7m-7-8h7m-8 10h7m-8 4h7m-9 5h7m-7-12h7m-8 9h7m-7-8h7m-8 12h7m-11-5h7m-8 3h7m-11-7h7m-7-11h7m-9 5h7m-7 0h7m-9-3h7m-7-2h7m-8 17h7m-7-15h7m-10 12h7m-7-14h7m-9 3h7m-8 9h7m-10-5h7m-7-6h7m-10 20h7m-10 1h7m-12 0h7m-8-14h7m-9-8h7m-8 22h7m-7-3h7m-8-3h7m-8-7h7m-8 9h7m-7-4h7m-7-4h7m-8 4h7m-9-3h7m-7-9h7m-9 12h7m-8 2h7m-9 5h7m-7-14h7m-11-7h7m-7-1h7m-11 15h7m-12 7h7m-7-19h7m-14 20h7m-7-23h7m-8 15h7m-10-3h7m-9-12h7m-10 16h7m-7-11h7m-9 10h7m-11 5h7m-7-16h7m-9 16h7m-8-8h7m-10 10h7m-9-15h7m-7-4h7m-8 7h7m-11 13h7m-20-20h7m-8 5h7m-9 15h7m-7-24h7m-11 21h7m-10 3h7m-11-15h7m-11 15h7m-10-19h7m-10 9h7m-8 6h7m-8 2h7m-8-13h7m-8-7h7m-9 2h7m-10 5h7m-15 15h7m-7-24h7m-9 15h7m-10-6h7m-9 6h7m-8 5h7m-8 3h7m-7-1h7m-7-8h7m-12-7h7m-8-6h7m-16 13h7m-7-8h7m-29 1h7m-9 5h7m-7-8h7m-14 0h7m-31 5h7m-17 15h7m-11-21h7m-9 12h7m-13-5h7m-21 5h7m-19-15h7m-66 24h7m-18-6h7m-9 6h7m-110-17h7m-30 9h7m-28 1h7m-37 7h7m-71 21h7m11-8h7m13-3h7m-4 0h7m1 3h7m-1 10h7m210-18h7m22 6h7m0-5h7m-6-3h7m29 14h7m6 2h7m2-11h7m3 16h7m-6-8h7m1 1h7m1-13h7m-7 15h7m8-1h7m0-10h7m-5 10h7m6-5h7m-2 1h7m-6 11h7m-4-8h7m-6-7h7m-3 12h7m-5-1h7m1-9h7m-3 9h7m-4-6h7m-3-14h7m-5 3h7m-4-2h7m-6 5h7m-4 9h7m-5 3h7m-3 4h7m-6-12h7m-4-6h7m-6 9h7m-5 4h7m-6-14h7m-7 13h7m-7 7h7m-6-6h7m-4-10h7m-5 17h7m-5-6h7m-6-12h7m-6-1h7m-5 19h7m-2-18h7m-4 1h7m-4-4h7m5 17h7m-5-19h7m-6 18h7m-6-13h7m-7 11h7m-7 7h7m-6-11h7m-6-8h7m-7 1h7m-4 18h7m-6-11h7m-6 4h7m-7 2h7m1-13h7m-4-1h7m-6 16h7m-6-19h7m-7 16h7m-3-1h7m-5-14h7m-7 4h7m-6 5h7m-6-9h7m-6 0h7m-4 17h7m-5-10h7m-7 5h7m-7 6h7m-5-4h7m-5-16h7m-5 0h7m-5 7h7m-7 15h7m-5-15h7m-7 0h7m-6 11h7m-4-9h7m-6-2h7m-7 15h7m-6 0h7m-5-21h7m-6 13h7m-7 2h7m-6-10h7m-7 8h7m-7 8h7m-5-20h7m-5 15h7m-6-6h7m-6 10h7m-6-8h7m-6 3h7m-6 2h7m-3 2h7m-6-20h7m-7 1h7m-7 6h7m-6-6h7m-6 4h7m-5 3h7m-7 6h7m1-9h7m-6-6h7m-7 10h7m-7 14h7m-5-9h7m-6 5h7m-5-6h7m-3-7h7m-5-4h7m-6 4h7m-7 8h7m-6-13h7m-6 5h7m-6 7h7m-7 3h7m-3-6h7m-6-7h7m-7 9h7m-6-12h7m-6 19h7m-6-18h7m-6 12h7m-6-9h7m-7 9h7m-3-9h7m-5 12h7m-5 6h7m0-5h7m-6-15h7m-7 13h7m-6-9h7m-5-7h7m-3 11h7m-6-2h7m-2-2h7m-7 4h7m-7 13h7m-5-19h7m-5-2h7m3 12h7m-7 2h7m-4-14h7m1 21h7m-2-4h7m12-4h7m-5-8h7m-7 16h7m1 0h7m16-7h7m25 27h7m-26-7h7m-35 12h7m-15-3h7m-20-16h7m-16-4h7m-17 16h7m-20-6h7m-19 11h7m-8-2h7m-8-4h7m-10 7h7m-15-4h7m-7-16h7m-8 21h7m-15-6h7m-12-10h7m-8 2h7m-8 2h7m-8 6h7m-11-8h7m-12 14h7m-7-14h7m-10 9h7m-8 2h7m-8-6h7m-8-8h7m-9 5h7m-7-2h7m-8 12h7m-7-16h7m-7-2h7m-7-4h7m-8 20h7m-9-13h7m-12 17h7m-7-1h7m-7-12h7m-7-3h7m-8 7h7m-8-5h7m-9 2h7m-7-7h7m-8 3h7m-8 4h7m-8-2h7m-7-2h7m-7-2h7m-7-6h7m-9 12h7m-9 1h7m-8-10h7m-12 20h7m-7-19h7m-8 5h7m-7-9h7m-8 1h7m-8 4h7m-7-1h7m-10 17h7m-9 3h7m-10 0h7m-7 0h7m-7-22h7m-8 16h7m-10-6h7m-7-2h7m-7-1h7m-8-9h7m-8 19h7m-10-12h7m-8 5h7m-8-10h7m-10 4h7m-8 16h7m-8-2h7m-7-6h7m-12-1h7m-9 8h7m-8-8h7m-9-1h7m-11-1h7m-8-2h7m-8 9h7m-8-18h7m-8 10h7m-8 14h7m-8-7h7m-7-4h7m-8 3h7m-13-12h7m-8 1h7m-10 5h7m-8-3h7m-8 15h7m-7-20h7m-12 1h7m-9-3h7m-9 3h7m-11 10h7m-9 4h7m-8 4h7m-9-19h7m-7-1h7m-9 12h7m-10 4h7m-7-1h7m-7-14h7m-8 21h7m-10-20h7m-8 10h7m-11 0h7m-11-13h7m-12 15h7m-7-7h7m-9 14h7m-10-21h7m-9 8h7m-9 11h7m-10-18h7m-19 10h7m-10 3h7m-8 5h7m-10-8h7m-11 8h7m-9-14h7m-9-5h7m-9 4h7m-8 17h7m-12-22h7m-15 17h7m-14-1h7m-12-12h7m-9 18h7m-20-6h7m-9 3h7m-9-12h7m-10 11h7m-11-14h7m-24 2h7m-20 18h7m-22 0h7m-8-16h7m-13-1h7m-21 13h7m-45-12h7m-9-7h7m-18 0h7m-26 21h7m-86-2h7m-14-2h7m-129-18h7m-11 13h7m-76 30h7m44-6h7m83 9h7m36-13h7m79 2h7m33 12h7m5-9h7m57 11h7m-2-11h7m-3 9h7m1 1h7m22-5h7m-2-9h7m5 15h7m-3-14h7m-4 6h7m-6 6h7m-6-19h7m3 3h7m-5 14h7m-7 4h7m-2-20h7m-6-1h7m-7 18h7m-4-15h7m-7 18h7m-6-20h7m3 2h7m-7 8h7m-6-8h7m-5 10h7m-1 0h7m0 5h7m-6 3h7m1-9h7m-5-11h7m-5 11h7m-4 0h7m-5-7h7m-7 9h7m-3-3h7m-5-7h7m-5-2h7m-5 2h7m0 2h7m-6 13h7m-6 1h7m-6-22h7m-6 7h7m-6-1h7m-6 11h7m-2-12h7m-5 17h7m-6-21h7m-2 0h7m-6 10h7m-7 9h7m-5-13h7m-6 12h7m-6-5h7m-4-8h7m-2-3h7m-7 16h7m-5-18h7m-4 13h7m-6 8h7m-3-23h7m-6 15h7m-6 2h7m-7 2h7m-5-15h7m-6 9h7m-6-2h7m-7 7h7m-6-6h7m-6-12h7m-7 1h7m-7 3h7m-6 10h7m-6 8h7m-6-9h7m-4 1h7m-6-14h7m-7 8h7m-6 7h7m-5-4h7m-7 5h7m-6-10h7m-6-1h7m-7 5h7m-7 5h7m-7 6h7m-6-19h7m-6 2h7m-7 10h7m-3-1h7m-6-3h7m-5 2h7m-6-8h7m-7 13h7m-7 5h7m-6-6h7m-7 7h7m-7 0h7m-6-13h7m-4-6h7m-7 16h7m-5-20h7m-7 1h7m-7 6h7m-6 1h7m-6 13h7m-6-15h7m-6 0h7m-7 16h7m-4 0h7m-6-5h7m-6 4h7m-4-4h7m-7 2h7m-5-2h7m-5 3h7m-6-7h7m-7 8h7m-7 1h7m-6-4h7m-4-15h7m-3 10h7m-7 8h7m-5-8h7m-7 5h7m-6-6h7m-6 1h7m0-5h7m-4 14h7m-4-8h7m-7 1h7m0 3h7m-5-8h7m-2 4h7m-5 0h7m-5-2h7m-4-9h7m-3 20h7m-6-6h7m-7 1h7m-4-6h7m-2 0h7m0-4h7m-1 15h7m18-4h7m-6-7h7m1 7h7m9 1h7m5 0h7m10 8h7m-8 13h7m-37 3h7m-13 1h7m-36-20h7m-8 4h7m-11 5h7m-13 2h7m-15-8h7m-7-2h7m-8 18h7m-20-7h7m-14-6h7m-10 3h7m-16 13h7m-9-5h7m-7-9h7m-14 16h7m-7-8h7m-9 7h7m-7-10h7m-8 7h7m-11-19h7m-9 5h7m-7-2h7m-7-3h7m-9 15h7m-11-10h7m-8 14h7m-7-6h7m-8 8h7m-8-7h7m-11-5h7m-8-6h7m-8 10h7m-9-4h7m-7-10h7m-9 8h7m-11 4h7m-7-2h7m-13 14h7m-8-4h7m-10-1h7m-7-17h7m-10 22h7m-9-6h7m-10 4h7m-10-3h7m-8-2h7m-7-11h7m-8 15h7m-7-8h7m-7-2h7m-8-8h7m-8 5h7m-11 14h7m-7-10h7m-8-8h7m-10 3h7m-9 13h7m-8-20h7m-10 11h7m-10-9h7m-8 15h7m-7-1h7m-7-12h7m-9-2h7m-9 13h7m-7-3h7m-8 5h7m-8-4h7m-9 3h7m-8 7h7m-7-18h7m-8 10h7m-7-10h7m-14 7h7m-8-8h7m-8 0h7m-14 6h7m-8 9h7m-10-12h7m-12-3h7m-10-1h7m-14 11h7m-9-8h7m-11 7h7m-7 0h7m-9-11h7m-8 1h7m-8 11h7m-11-14h7m-13 10h7m-9 9h7m-11-11h7m-8 6h7m-9 9h7m-14-16h7m-11 14h7m-7-17h7m-7-3h7m-16 9h7m-12-5h7m-8-2h7m-14 2h7m-21 15h7m-12-17h7m-9 7h7m-19 12h7m-12-12h7m-33-9h7m-9 15h7m-8-7h7m-9-8h7m-19 16h7m-46-2h7m-8-6h7m-48 0h7m-196 10h7m-8 0h7m-9-17h7m-68 1h7m-17 25h7m-4 19h7m-6-17h7m9 5h7m14 7h7m-4-17h7m-7 11h7m18 12h7m20-16h7m-2 16h7m5-8h7m-5-5h7m-1 10h7m-5-5h7m19-11h7m-2-1h7m-5 17h7m96-10h7m6 13h7m2 0h7m9-5h7m3-4h7m6 1h7m23 1h7m1-9h7m-4 16h7m-3-17h7m1 3h7m7-2h7m5 15h7m5-18h7m-6 14h7m-5-12h7m-6 11h7m4-2h7m2-10h7m9 11h7m4 4h7m-1-10h7m1 13h7m-4-10h7m1 7h7m-1-20h7m-4 20h7m-4-10h7m-6-4h7m-1 16h7m-4-21h7m-5 19h7m-5-11h7m-6 10h7m-6-7h7m-5 7h7m-6-15h7m-7 13h7m-1-1h7m-5-15h7m-5 22h7m3-20h7m-6 9h7m-5 9h7m-3-2h7m-6-17h7m-7 8h7m-6-6h7m-4 6h7m-3-4h7m-6-4h7m-6 5h7m-7 13h7m-5-13h7m-7 16h7m-6-13h7m-3-8h7m-7 2h7m-6-4h7m-5 15h7m-6-1h7m-7 10h7m-6-21h7m-6 0h7m-7 7h7m-5-9h7m-5 17h7m-7 5h7m-6-23h7m-7 5h7m-7 12h7m-6-3h7m-5 0h7m-5 8h7m-6-21h7m-7 10h7m-7 4h7m-7 9h7m-5-12h7m-3 8h7m-2-11h7m-6-9h7m-6 3h7m-3 7h7m-6 3h7m-3-4h7m-6 5h7m-6-3h7m-5-7h7m-7 14h7m-6-7h7m-4-10h7m-6 15h7m-3-8h7m-7 6h7m-3-3h7m2 3h7m-6-13h7m-6 23h7m7-1h7m2-4h7m-3-3h7m-5 2h7m0 1h7m9-9h7m8 8h7m41 9h7m-15 13h7m-19 7h7m-46-1h7m-15-7h7m-23-5h7m-9 4h7m-24-9h7m-8-1h7m-17-2h7m-8 16h7m-15-9h7m-10 15h7m-10-19h7m-15 15h7m-8-3h7m-10-8h7m-9 6h7m-9 9h7m-7-6h7m-8 5h7m-8-14h7m-8 14h7m-8-2h7m-11-7h7m-8 1h7m-9 4h7m-7-1h7m-8-10h7m-9 16h7m-11-12h7m-11 2h7m-9 1h7m-8 7h7m-8-18h7m-10 21h7m-7-10h7m-8-3h7m-7-7h7m-9 12h7m-11-4h7m-8 8h7m-10-4h7m-7-15h7m-9 11h7m-9-1h7m-9 13h7m-8-15h7m-14 3h7m-10 12h7m-7-13h7m-8 3h7m-8-11h7m-12 20h7m-7-9h7m-8 10h7m-8-14h7m-9-7h7m-9 2h7m-7 0h7m-9 14h7m-8-5h7m-8-14h7m-13 11h7m-9 10h7m-8-3h7m-9-15h7m-12 21h7m-10-18h7m-12-6h7m-9 1h7m-9 13h7m-7-1h7m-8-11h7m-15 19h7m-8-12h7m-12 12h7m-17-5h7m-11-6h7m-12-10h7m-26 6h7m-15 7h7m-10-2h7m-12 6h7m-13 7h7m-22-14h7m-15 7h7m-43-9h7m-14-5h7m-41 4h7m-10-2h7m-36-4h7m-18 22h7m-18-13h7m-22-6h7m-21 3h7m-36-3h7m-36 8h7m-15 8h7m-12-15h7m-15 13h7m-16 1h7m-10-2h7m-9-3h7m-11 8h7m-7-20h7m-12 9h7m-11 0h7m-11-1h7m-9 7h7m-11 2h7m-9 3h7m-7-8h7m-7-9h7m-8 16h7m-13-2h7m-7-10h7m-9 10h7m-10-5h7m-8-11h7m-15 10h7m-9-10h7m-9 21h7m-11-7h7m-22 5h7m-8-14h7m-8 15h7m-11-21h7m-14 9h7m-8-7h7m-18 17h7m-14 2h7m-10-1h7m-11-16h7m-9 5h7m-12-5h7m-8 6h7m-8-1h7m-8-6h7m-7-5h7m-43 24h7m-12 0h7m-12-2h7m-21-2h7m-15-1h7m-11 3h7m-12 1h7m-18-4h7m8 26h7m-5 0h7m-1-12h7m3 2h7m-7 9h7m15 1h7m-1 0h7m-5-9h7m0-1h7m-5 9h7m-4-1h7m4-11h7m0 2h7m-7 14h7m0-2h7m-3-3h7m-6 3h7m3 1h7m-7 0h7m-5-12h7m-6-10h7m-7 17h7m-6-6h7m-5-9h7m-7 22h7m0-22h7m-7 21h7m-4-21h7m-6 3h7m1 13h7m-6 0h7m-2-12h7m-7 1h7m7 4h7m-6 3h7m-7 3h7m-5-7h7m-6-3h7m-2 10h7m-6-11h7m-5 7h7m-5-11h7m-4 1h7m-7 8h7m-1 6h7m-6-4h7m1 3h7m-6-11h7m2 2h7m-1 3h7m-4-8h7m-3 8h7m-6 4h7m-5 5h7m4 0h7m-4-2h7m-5-15h7m-5 14h7m-2-9h7m-4 14h7m12-7h7m-6 9h7m5-11h7m-4 12h7m-4-2h7m-4-15h7m-7 9h7m-3-7h7m0 3h7m1 11h7m-6-19h7m6 17h7m0-13h7m-4 3h7m9 13h7m15 0h7m3-22h7m9 16h7m41-8h7m-5-4h7m-2 6h7m0 9h7m12-15h7m-4 6h7m4-11h7m3-1h7m6 9h7m-4 2h7m2 10h7m3 1h7m1-20h7m1 19h7m-3-21h7m4 9h7m-3 6h7m-6 1h7m-4 1h7m-5-14h7m-6 3h7m-7 15h7m-4-3h7m-2-15h7m-4-2h7m-5 15h7m-6-16h7m-7 2h7m8 16h7m-1 6h7m-6-20h7m-7 0h7m-7 16h7m-6-7h7m-6-8h7m-7 6h7m-7 1h7m-6 8h7m-7 1h7m-6-20h7m-7 13h7m-2-12h7m-7 5h7m-7 9h7m-5-16h7m2 2h7m-7 14h7m-5-13h7m-2 8h7m-2 4h7m-3 4h7m-5-16h7m-5 18h7m-5-14h7m-7 12h7m-2-1h7m0 3h7m-5-6h7m-4 7h7m-3-12h7m-7 13h7m-4-11h7m-3 2h7m-7 10h7m-6-8h7m-6-14h7m-5 1h7m-6 5h7m-1 9h7m6-11h7m0 12h7m1-9h7m71 27h7m-16-5h7m-32 9h7m-43-9h7m-8 12h7m-23-12h7m-19 18h7m-20-20h7m-9 13h7m-19-11h7m-8 11h7m-9 4h7m-12 0h7m-7-15h7m-8 12h7m-9-4h7m-10-12h7m-8-2h7m-8 5h7m-8 12h7m-9-5h7m-8 12h7m-8-21h7m-8 14h7m-7-7h7m-7-10h7m-9 20h7m-7-16h7m-9 16h7m-7-3h7m-14-14h7m-8 19h7m-7-8h7m-7-3h7m-8-10h7m-10 19h7m-7-18h7m-10 15h7m-9 3h7m-7-18h7m-10 6h7m-13-5h7m-8 11h7m-8-9h7m-7-2h7m-9 17h7m-7-8h7m-8-4h7m-7-3h7m-8 18h7m-7-3h7m-8-3h7m-12-7h7m-8 13h7m-7-16h7m-7-6h7m-10-1h7m-12 1h7m-9 4h7m-8 7h7m-7-11h7m-8 15h7m-8 6h7m-7-19h7m-9 8h7m-7-2h7m-7-1h7m-8 9h7m-13-16h7m-13 5h7m-8-5h7m-9 11h7m-9 5h7m-7-7h7m-11 13h7m-8-3h7m-17-18h7m-8 10h7m-8-5h7m-9 17h7m-28-10h7m-48 6h7m-14-2h7m-20-6h7m-7-3h7m-8 2h7m-43 4h7m-15-6h7m-11-5h7m-10 15h7m-23 3h7m-49-1h7m-9-15h7m-20 15h7m-9-2h7m-21 2h7m-23-14h7m-13 10h7m-9 1h7m-9-14h7m-10-3h7m-16 7h7m-14-1h7m-9 5h7m-9-9h7m-10 2h7m-14-2h7m-7 0h7m-10-1h7m-9 13h7m-8-12h7m-17 17h7m-7-11h7m-9-2h7m-7-1h7m-9 4h7m-11-8h7m-11 21h7m-7-7h7m-7-10h7m-7-1h7m-9-2h7m-12 19h7m-10-15h7m-10 8h7m-10-10h7m-8 11h7m-9 2h7m-7-11h7m-16 1h7m-7-3h7m-12 8h7m-8-2h7m-12 4h7m-9 4h7m-10 1h7m-9-4h7m-8-5h7m-8 7h7m-9-3h7m-8 2h7m-8-7h7m-7-7h7m-7-2h7m-10 1h7m-8 5h7m-9 7h7m-10 0h7m-7-4h7m-7-8h7m-11 17h7m-8-6h7m-8 0h7m-7-7h7m-8 3h7m-9 1h7m-11-3h7m-8 10h7m-10-10h7m-8 9h7m-7-3h7m-8-8h7m-14 14h7m-7-19h7m-8 19h7m-7-13h7m-8 13h7m-9 5h7m-15-13h7m-8 6h7m-7-16h7m-9 11h7m-7-10h7m-9 19h7m-7-19h7m-10 13h7m-7-14h7m-11 11h7m-10 7h7m-8-15h7m-9 20h7m-8-3h7m-9-17h7m-10 12h7m-7-6h7m-8-6h7m-14 13h7m-13-5h7m-8-4h7m-10 9h7m-9 7h7m-13-22h7m-8 8h7m-10 0h7m-7-2h7m-10 5h7m-14-4h7m-12 15h7m-8-12h7m-7-11h7m-8 5h7m-9 8h7m-13-2h7m-9 4h7m-8 0h7m-12-3h7m-11 10h7m-10-16h7m-15 16h7m-16-11h7m-7-5h7m-8 7h7m-7-1h7m-11-2h7m-8 7h7m-17-17h7m-9 1h7m-17 6h7m-8 15h7m-10-19h7m-10-2h7m-4 33h7m-1-1h7m-4 10h7m1-5h7m-3 1h7m-5-2h7m0-13h7m-7 15h7m-1-11h7m-6 19h7m8-14h7m-5 13h7m-5-22h7m-5 6h7m-1 11h7m-6-17h7m-4 7h7m-3 9h7m-6-2h7m-7 5h7m0-6h7m-7 11h7m-5-13h7m-6-9h7m-6 2h7m-3 7h7m-6-7h7m-6 0h7m-4 0h7m-5 14h7m-6-8h7m0 7h7m-5-1h7m-7 5h7m-5 3h7m-4-23h7m-7 3h7m1 12h7m-5-14h7m-2 16h7m-1-2h7m-6-1h7m-7 9h7m-5-5h7m-6 4h7m-6-22h7m-7 2h7m-6 13h7m-5-5h7m-7 13h7m-6-23h7m-7 2h7m-4 10h7m-7 1h7m-5 2h7m-6 8h7m0-22h7m-2 20h7m-5 0h7m-4-6h7m-5-14h7m-5 3h7m-2 10h7m-7 4h7m-3-17h7m-7 1h7m-4 14h7m-4-10h7m-6-7h7m-7 3h7m-7 0h7m-6 5h7m-7 4h7m-4-7h7m-6 12h7m-7 4h7m0-18h7m3 14h7m-6-5h7m-5-11h7m-5 1h7m-7 16h7m-5-11h7m-4 8h7m-4-7h7m-3 0h7m-4-1h7m-7 0h7m-3-7h7m-6 11h7m-2 0h7m-1-4h7m-4 6h7m-5-5h7m-2-7h7m-5 3h7m-5 5h7m9 2h7m-6-3h7m14 0h7m-5 8h7m9-4h7m0 3h7m-7 5h7m5-12h7m-7 3h7m1-4h7m-3 4h7m-6 10h7m-6-16h7m18 6h7m21-6h7m3 3h7m5 12h7m-3-12h7m15 0h7m1 10h7m8-12h7m-2-4h7m22-2h7m0 11h7m28 2h7m0 1h7m-4-7h7m0 3h7m-6 11h7m-4-11h7m-7 10h7m-3-12h7m7-1h7m-2-6h7m-2 18h7m-6-17h7m-7 6h7m-1-2h7m-5 14h7m-6-8h7m-6-3h7m-4-3h7m-5 0h7m-6-3h7m-7 10h7m0-10h7m-7 10h7m-5 4h7m-4-10h7m6 7h7m-6 9h7m-5-20h7m-7 8h7m-1-8h7m-7 3h7m-3-3h7m-6 10h7m-2 7h7m3-15h7m-5 17h7m-5-17h7m-2-4h7m3 16h7m0 1h7m5 2h7m5-14h7m-2 6h7m48 11h7m-37 11h7m-19 3h7m-15-3h7m-30-1h7m-12-4h7m-9 13h7m-11-7h7m-34-10h7m-19 3h7m-11 18h7m-8-18h7m-10 17h7m-13-2h7m-10-18h7m-9 18h7m-10-4h7m-7-5h7m-7-8h7m-8 18h7m-7-7h7m-9-1h7m-8 3h7m-7-1h7m-9-13h7m-8 23h7m-9-19h7m-9 5h7m-10 1h7m-12-8h7m-8-1h7m-8 13h7m-8 4h7m-7-5h7m-9 3h7m-8 5h7m-12-6h7m-7-4h7m-17-8h7m-14 15h7m-25-2h7m-18-4h7m-13 11h7m-12-17h7m-10 5h7m-33 2h7m-19 2h7m-16-11h7m-18 4h7m-14 2h7m-19 6h7m-27-16h7m-19 7h7m-23 8h7m-51-5h7m-23-9h7m-23 3h7m-47-4h7m-12 6h7m-13-3h7m-14 4h7m-23 13h7m-8-19h7m-10 15h7m-27 7h7m-9-12h7m-11 13h7m-8-8h7m-8-8h7m-23 0h7m-26 14h7m-7-13h7m-9 3h7m-9 2h7m-16-11h7m-11 12h7m-10-8h7m-7-7h7m-8 10h7m-8-2h7m-12 8h7m-9-15h7m-17 15h7m-8 4h7m-13-9h7m-8-1h7m-10 3h7m-9-4h7m-9 10h7m-8-11h7m-8-4h7m-8 20h7m-7-21h7m-9-3h7m-8 21h7m-11-7h7m-11-10h7m-8 4h7m-9 10h7m-13-14h7m-9 7h7m-7-1h7m-13-10h7m-14 18h7m-11-11h7m-8 0h7m-14 1h7m-8 3h7m-7-2h7m-8-3h7m-12 8h7m-10-12h7m-12 16h7m-8-3h7m-10 4h7m-9-10h7m-11-5h7m-9 1h7m-8 14h7m-9-15h7m-9 13h7m-11-16h7m-8 9h7m-8-10h7m-9 1h7m-7-1h7m-9 1h7m-34 7h7m-10-3h7m-8 9h7m-29-10h7m4 32h7m-5-7h7m36 19h7m-3-16h7m-5 0h7m15-5h7m-7 13h7m10-11h7m-3 15h7m-3-15h7m-7 11h7m11-1h7m-4 8h7m-5-22h7m3 5h7m-4 7h7m-3-12h7m-4 0h7m8 15h7m8 4h7m-2-7h7m-6-4h7m-2-6h7m1 0h7m-5 17h7m-4-3h7m1-15h7m4 3h7m1-2h7m16 5h7m10-4h7m7 10h7m34-11h7m34 1h7m77 15h7m19-5h7m5 6h7m28-14h7m-6 19h7m11-5h7m9 3h7m-6-22h7m0 21h7m-5-2h7m-1-9h7m15 7h7m-6-10h7m-7 16h7m-6-13h7m-6 3h7m-2-12h7m-6 20h7m-4-12h7m-6-5h7m-6-4h7m-7 16h7m-3-6h7m-3-2h7m-5 13h7m3-20h7m4 14h7m-7 3h7m-5 2h7m-6-4h7m0-9h7m-4 10h7m-2-4h7m-1-5h7m2-4h7m-4 0h7m3 1h7m10 3h7m27 23h7m-28 11h7m-11-11h7m-25 11h7m-10-13h7m-35 15h7m-30-16h7m-13 6h7m-11-6h7m-11 16h7m-10 5h7m-7-9h7m-9 0h7m-8-12h7m-22-1h7m-9 22h7m-13-10h7m-8 4h7m-14-6h7m-14 12h7m-12-22h7m-11 21h7m-8-16h7m-9 5h7m-8-12h7m-22 16h7m-96 0h7m-60 1h7m-24-11h7m-14-3h7m-82 9h7m-32 6h7m-24 5h7m-37-13h7m-26-2h7m-19 16h7m-7-8h7m-74 5h7m-47-21h7m-27 11h7m-11 8h7m-9-2h7m-86 20h7m3 3h7m-5 4h7m123-9h7m12-10h7m26 15h7m90-7h7m161 14h7m78-15h7m7 17h7m-5-8h7m16-10h7m6 18h7m-5-8h7m31-3h7m5-8h7m-7 7h7m4 10h7m9-19h7m9 11h7m19-7h7m-25 24h7m-10 8h7m-8-8h7m-116-3h7m-28 0h7m-9 4h7m-50 4h7m-8-8h7m-135-1h7m-75 5h7m-171 4h7m-139-4h7" stroke="#c80a0a" stroke-width="8" stroke-opacity="0.45" fill="none"/>
</g>
<line x1="460.75" y1="863.80" x2="460.75" y2="929.50" stroke="#555" stroke-width="0.8" stroke-linecap="butt"/>
<line x1="420.60" y1="906.75" x2="502.50" y2="906.75" stroke="#555" stroke-width="0.8" stroke-linecap="butt"/>
<line x1="420.60" y1="863.80" x2="502.50" y2="863.80" stroke="#000" stroke-width="1.3" stroke-linecap="butt"/>
<line x1="502.50" y1="863.80" x2="502.50" y2="929.50" stroke="#000" stroke-width="1.1" stroke-linecap="butt"/>
<line x1="420.60" y1="863.20" x2="420.60" y2="930.10" stroke="#000" stroke-width="1.5" stroke-linecap="butt"/>
<line x1="419.90" y1="929.50" x2="503.00" y2="929.50" stroke="#000" stroke-width="1.5" stroke-linecap="butt"/>
<line x1="416.30" y1="864.40" x2="420.60" y2="864.40" stroke="#000" stroke-width="1.0" stroke-linecap="butt"/>
<text x="397.23" y="867.20" font-size="9.8" fill="#111">10<tspan dx="0.4" dy="-4.0" font-size="5.88">4</tspan></text>
<line x1="416.30" y1="878.80" x2="420.60" y2="878.80" stroke="#000" stroke-width="1.0" stroke-linecap="butt"/>
<text x="397.23" y="881.60" font-size="9.8" fill="#111">10<tspan dx="0.4" dy="-4.0" font-size="5.88">3</tspan></text>
<line x1="416.30" y1="895.60" x2="420.60" y2="895.60" stroke="#000" stroke-width="1.0" stroke-linecap="butt"/>
<text x="397.23" y="898.40" font-size="9.8" fill="#111">10<tspan dx="0.4" dy="-4.0" font-size="5.88">2</tspan></text>
<line x1="416.30" y1="911.10" x2="420.60" y2="911.10" stroke="#000" stroke-width="1.0" stroke-linecap="butt"/>
<text x="397.23" y="913.90" font-size="9.8" fill="#111">10<tspan dx="0.4" dy="-4.0" font-size="5.88">1</tspan></text>
<line x1="416.30" y1="928.00" x2="420.60" y2="928.00" stroke="#000" stroke-width="1.0" stroke-linecap="butt"/>
<text x="397.23" y="930.80" font-size="9.8" fill="#111">10<tspan dx="0.4" dy="-4.0" font-size="5.88">0</tspan></text>
<line x1="418.30" y1="922.91" x2="420.60" y2="922.91" stroke="#000" stroke-width="0.8" stroke-linecap="butt"/>
<line x1="418.30" y1="919.94" x2="420.60" y2="919.94" stroke="#000" stroke-width="0.8" stroke-linecap="butt"/>
<line x1="418.30" y1="917.83" x2="420.60" y2="917.83" stroke="#000" stroke-width="0.8" stroke-linecap="butt"/>
<line x1="418.30" y1="916.19" x2="420.60" y2="916.19" stroke="#000" stroke-width="0.8" stroke-linecap="butt"/>
<line x1="418.30" y1="914.85" x2="420.60" y2="914.85" stroke="#000" stroke-width="0.8" stroke-linecap="butt"/>
<line x1="418.30" y1="913.72" x2="420.60" y2="913.72" stroke="#000" stroke-width="0.8" stroke-linecap="butt"/>
<line x1="418.30" y1="912.74" x2="420.60" y2="912.74" stroke="#000" stroke-width="0.8" stroke-linecap="butt"/>
<line x1="418.30" y1="911.87" x2="420.60" y2="911.87" stroke="#000" stroke-width="0.8" stroke-linecap="butt"/>
<line x1="418.30" y1="906.43" x2="420.60" y2="906.43" stroke="#000" stroke-width="0.8" stroke-linecap="butt"/>
<line x1="418.30" y1="903.70" x2="420.60" y2="903.70" stroke="#000" stroke-width="0.8" stroke-linecap="butt"/>
<line x1="418.30" y1="901.77" x2="420.60" y2="901.77" stroke="#000" stroke-width="0.8" stroke-linecap="butt"/>
<line x1="418.30" y1="900.27" x2="420.60" y2="900.27" stroke="#000" stroke-width="0.8" stroke-linecap="butt"/>
<line x1="418.30" y1="899.04" x2="420.60" y2="899.04" stroke="#000" stroke-width="0.8" stroke-linecap="butt"/>
<line x1="418.30" y1="898.00" x2="420.60" y2="898.00" stroke="#000" stroke-width="0.8" stroke-linecap="butt"/>
<line x1="418.30" y1="897.10" x2="420.60" y2="897.10" stroke="#000" stroke-width="0.8" stroke-linecap="butt"/>
<line x1="418.30" y1="896.31" x2="420.60" y2="896.31" stroke="#000" stroke-width="0.8" stroke-linecap="butt"/>
<line x1="418.30" y1="890.54" x2="420.60" y2="890.54" stroke="#000" stroke-width="0.8" stroke-linecap="butt"/>
<line x1="418.30" y1="887.58" x2="420.60" y2="887.58" stroke="#000" stroke-width="0.8" stroke-linecap="butt"/>
<line x1="418.30" y1="885.49" x2="420.60" y2="885.49" stroke="#000" stroke-width="0.8" stroke-linecap="butt"/>
<line x1="418.30" y1="883.86" x2="420.60" y2="883.86" stroke="#000" stroke-width="0.8" stroke-linecap="butt"/>
<line x1="418.30" y1="882.53" x2="420.60" y2="882.53" stroke="#000" stroke-width="0.8" stroke-linecap="butt"/>
<line x1="418.30" y1="881.40" x2="420.60" y2="881.40" stroke="#000" stroke-width="0.8" stroke-linecap="butt"/>
<line x1="418.30" y1="880.43" x2="420.60" y2="880.43" stroke="#000" stroke-width="0.8" stroke-linecap="butt"/>
<line x1="418.30" y1="879.57" x2="420.60" y2="879.57" stroke="#000" stroke-width="0.8" stroke-linecap="butt"/>
<line x1="418.30" y1="874.47" x2="420.60" y2="874.47" stroke="#000" stroke-width="0.8" stroke-linecap="butt"/>
<line x1="418.30" y1="871.93" x2="420.60" y2="871.93" stroke="#000" stroke-width="0.8" stroke-linecap="butt"/>
<line x1="418.30" y1="870.13" x2="420.60" y2="870.13" stroke="#000" stroke-width="0.8" stroke-linecap="butt"/>
<line x1="418.30" y1="868.73" x2="420.60" y2="868.73" stroke="#000" stroke-width="0.8" stroke-linecap="butt"/>
<line x1="418.30" y1="867.59" x2="420.60" y2="867.59" stroke="#000" stroke-width="0.8" stroke-linecap="butt"/>
<line x1="418.30" y1="866.63" x2="420.60" y2="866.63" stroke="#000" stroke-width="0.8" stroke-linecap="butt"/>
<line x1="418.30" y1="865.80" x2="420.60" y2="865.80" stroke="#000" stroke-width="0.8" stroke-linecap="butt"/>
<line x1="418.30" y1="865.06" x2="420.60" y2="865.06" stroke="#000" stroke-width="0.8" stroke-linecap="butt"/>
<line x1="421.25" y1="929.50" x2="421.25" y2="933.40" stroke="#000" stroke-width="1.0" stroke-linecap="butt"/>
<text x="413.97" y="946.80" font-size="9.8" fill="#111">10<tspan dx="0.4" dy="-4.0" font-size="5.88">0</tspan></text>
<line x1="442.50" y1="929.50" x2="442.50" y2="933.40" stroke="#000" stroke-width="1.0" stroke-linecap="butt"/>
<text x="435.22" y="946.80" font-size="9.8" fill="#111">10<tspan dx="0.4" dy="-4.0" font-size="5.88">1</tspan></text>
<line x1="462.50" y1="929.50" x2="462.50" y2="933.40" stroke="#000" stroke-width="1.0" stroke-linecap="butt"/>
<text x="455.22" y="946.80" font-size="9.8" fill="#111">10<tspan dx="0.4" dy="-4.0" font-size="5.88">2</tspan></text>
<line x1="482.50" y1="929.50" x2="482.50" y2="933.40" stroke="#000" stroke-width="1.0" stroke-linecap="butt"/>
<text x="475.22" y="946.80" font-size="9.8" fill="#111">10<tspan dx="0.4" dy="-4.0" font-size="5.88">3</tspan></text>
<line x1="502.50" y1="929.50" x2="502.50" y2="933.40" stroke="#000" stroke-width="1.0" stroke-linecap="butt"/>
<text x="495.22" y="946.80" font-size="9.8" fill="#111">10<tspan dx="0.4" dy="-4.0" font-size="5.88">4</tspan></text>
<line x1="427.65" y1="929.50" x2="427.65" y2="931.80" stroke="#000" stroke-width="0.8" stroke-linecap="butt"/>
<line x1="431.39" y1="929.50" x2="431.39" y2="931.80" stroke="#000" stroke-width="0.8" stroke-linecap="butt"/>
<line x1="434.04" y1="929.50" x2="434.04" y2="931.80" stroke="#000" stroke-width="0.8" stroke-linecap="butt"/>
<line x1="436.10" y1="929.50" x2="436.10" y2="931.80" stroke="#000" stroke-width="0.8" stroke-linecap="butt"/>
<line x1="437.79" y1="929.50" x2="437.79" y2="931.80" stroke="#000" stroke-width="0.8" stroke-linecap="butt"/>
<line x1="439.21" y1="929.50" x2="439.21" y2="931.80" stroke="#000" stroke-width="0.8" stroke-linecap="butt"/>
<line x1="440.44" y1="929.50" x2="440.44" y2="931.80" stroke="#000" stroke-width="0.8" stroke-linecap="butt"/>
<line x1="441.53" y1="929.50" x2="441.53" y2="931.80" stroke="#000" stroke-width="0.8" stroke-linecap="butt"/>
<line x1="448.52" y1="929.50" x2="448.52" y2="931.80" stroke="#000" stroke-width="0.8" stroke-linecap="butt"/>
<line x1="452.04" y1="929.50" x2="452.04" y2="931.80" stroke="#000" stroke-width="0.8" stroke-linecap="butt"/>
<line x1="454.54" y1="929.50" x2="454.54" y2="931.80" stroke="#000" stroke-width="0.8" stroke-linecap="butt"/>
<line x1="456.48" y1="929.50" x2="456.48" y2="931.80" stroke="#000" stroke-width="0.8" stroke-linecap="butt"/>
<line x1="458.06" y1="929.50" x2="458.06" y2="931.80" stroke="#000" stroke-width="0.8" stroke-linecap="butt"/>
<line x1="459.40" y1="929.50" x2="459.40" y2="931.80" stroke="#000" stroke-width="0.8" stroke-linecap="butt"/>
<line x1="460.56" y1="929.50" x2="460.56" y2="931.80" stroke="#000" stroke-width="0.8" stroke-linecap="butt"/>
<line x1="461.58" y1="929.50" x2="461.58" y2="931.80" stroke="#000" stroke-width="0.8" stroke-linecap="butt"/>
<line x1="468.52" y1="929.50" x2="468.52" y2="931.80" stroke="#000" stroke-width="0.8" stroke-linecap="butt"/>
<line x1="472.04" y1="929.50" x2="472.04" y2="931.80" stroke="#000" stroke-width="0.8" stroke-linecap="butt"/>
<line x1="474.54" y1="929.50" x2="474.54" y2="931.80" stroke="#000" stroke-width="0.8" stroke-linecap="butt"/>
<line x1="476.48" y1="929.50" x2="476.48" y2="931.80" stroke="#000" stroke-width="0.8" stroke-linecap="butt"/>
<line x1="478.06" y1="929.50" x2="478.06" y2="931.80" stroke="#000" stroke-width="0.8" stroke-linecap="butt"/>
<line x1="479.40" y1="929.50" x2="479.40" y2="931.80" stroke="#000" stroke-width="0.8" stroke-linecap="butt"/>
<line x1="480.56" y1="929.50" x2="480.56" y2="931.80" stroke="#000" stroke-width="0.8" stroke-linecap="butt"/>
<line x1="481.58" y1="929.50" x2="481.58" y2="931.80" stroke="#000" stroke-width="0.8" stroke-linecap="butt"/>
<line x1="488.52" y1="929.50" x2="488.52" y2="931.80" stroke="#000" stroke-width="0.8" stroke-linecap="butt"/>
<line x1="492.04" y1="929.50" x2="492.04" y2="931.80" stroke="#000" stroke-width="0.8" stroke-linecap="butt"/>
<line x1="494.54" y1="929.50" x2="494.54" y2="931.80" stroke="#000" stroke-width="0.8" stroke-linecap="butt"/>
<line x1="496.48" y1="929.50" x2="496.48" y2="931.80" stroke="#000" stroke-width="0.8" stroke-linecap="butt"/>
<line x1="498.06" y1="929.50" x2="498.06" y2="931.80" stroke="#000" stroke-width="0.8" stroke-linecap="butt"/>
<line x1="499.40" y1="929.50" x2="499.40" y2="931.80" stroke="#000" stroke-width="0.8" stroke-linecap="butt"/>
<line x1="500.56" y1="929.50" x2="500.56" y2="931.80" stroke="#000" stroke-width="0.8" stroke-linecap="butt"/>
<line x1="501.58" y1="929.50" x2="501.58" y2="931.80" stroke="#000" stroke-width="0.8" stroke-linecap="butt"/>
<text x="421.30" y="868.75" font-size="10.0" text-anchor="start" fill="#000" >DOX+</text>
<text x="501.90" y="868.75" font-size="10.0" text-anchor="end" fill="#000" >40.7±</text>
<text x="421.30" y="881.25" font-size="10.0" text-anchor="start" fill="#000" >CX-4945</text>
<text x="501.90" y="881.25" font-size="10.0" text-anchor="end" fill="#000" >4.5%</text>
<text x="501.90" y="929.50" font-size="10.0" text-anchor="end" fill="#000" >22.8±3.3%</text>
<line x1="42.20" y1="953.60" x2="42.20" y2="772.10" stroke="#000" stroke-width="1.3" stroke-linecap="butt"/>
<line x1="41.55" y1="953.60" x2="239.50" y2="953.60" stroke="#000" stroke-width="1.3" stroke-linecap="butt"/>
<path d="M42.20,766.10 L45.80,774.10 L42.20,772.60 L38.60,774.10 Z" fill="#000"/>
<path d="M245.50,953.60 L237.50,950.00 L239.00,953.60 L237.50,957.20 Z" fill="#000"/>
<line x1="278.30" y1="953.80" x2="278.30" y2="773.50" stroke="#000" stroke-width="1.3" stroke-linecap="butt"/>
<line x1="277.65" y1="953.80" x2="497.50" y2="953.80" stroke="#000" stroke-width="1.3" stroke-linecap="butt"/>
<path d="M278.30,767.50 L281.90,775.50 L278.30,774.00 L274.70,775.50 Z" fill="#000"/>
<path d="M503.50,953.80 L495.50,950.20 L497.00,953.80 L495.50,957.40 Z" fill="#000"/>
<text x="35.20" y="848.00" font-size="13.5" text-anchor="middle" fill="#111" textLength="26.00" lengthAdjust="spacingAndGlyphs" transform="rotate(-90 35.20 848.00)" style="stroke:#111;stroke-width:0.35px" >7 AAD</text>
<text x="270.80" y="849.20" font-size="13.5" text-anchor="middle" fill="#111" textLength="25.40" lengthAdjust="spacingAndGlyphs" transform="rotate(-90 270.80 849.20)" style="stroke:#111;stroke-width:0.35px" >7 AAD</text>
<text x="128.50" y="969.70" font-size="12" text-anchor="start" fill="#111" textLength="58.80" lengthAdjust="spacingAndGlyphs" style="stroke:#111;stroke-width:0.35px" >Annexin V-PE</text>
<text x="375.40" y="969.80" font-size="12" text-anchor="start" fill="#111" textLength="58.40" lengthAdjust="spacingAndGlyphs" style="stroke:#111;stroke-width:0.35px" >Annexin V-PE</text>
<text x="138.50" y="752.50" font-size="13.3" text-anchor="start" fill="#111" textLength="37.50" lengthAdjust="spacingAndGlyphs" >Nalm6</text>
<text x="379.00" y="751.50" font-size="13.3" text-anchor="start" fill="#111" textLength="49.00" lengthAdjust="spacingAndGlyphs" >Patient 1</text>
</svg></body></html>
